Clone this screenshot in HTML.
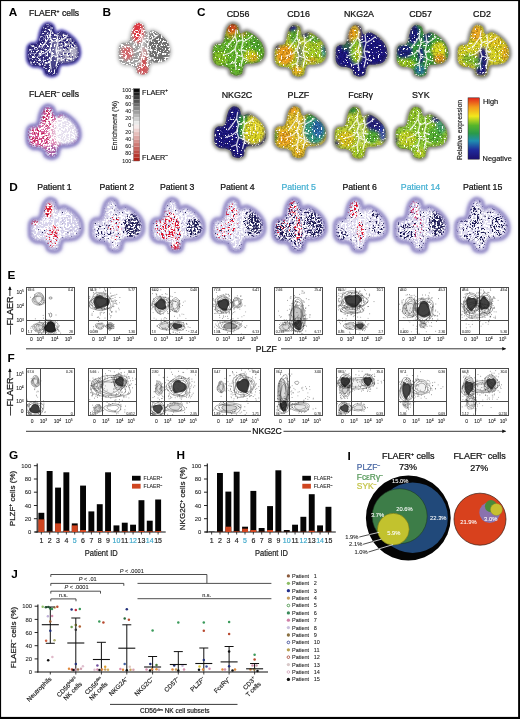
<!DOCTYPE html><html><head><meta charset="utf-8"><style>html,body{margin:0;padding:0;background:#fff;}svg{display:block;filter:blur(0.3px)}</style></head><body>
<svg width="520" height="719" viewBox="0 0 520 719" font-family="Liberation Sans, sans-serif">
<defs><filter id="halo" x="-20%" y="-20%" width="140%" height="140%"><feGaussianBlur stdDeviation="1.6"/></filter><filter id="soft" x="-10%" y="-10%" width="120%" height="120%"><feGaussianBlur stdDeviation="1.8"/></filter><filter id="halo2" x="-25%" y="-25%" width="150%" height="150%"><feGaussianBlur stdDeviation="2.3"/></filter><filter id="rimf" x="-20%" y="-20%" width="140%" height="140%"><feGaussianBlur stdDeviation="1.0"/></filter><filter id="soft1"><feGaussianBlur stdDeviation="0.6"/></filter><linearGradient id="jet" x1="0" y1="1" x2="0" y2="0"><stop offset="0" stop-color="#1c0f6e"/><stop offset="0.15" stop-color="#1f2a9c"/><stop offset="0.3" stop-color="#1f8fb0"/><stop offset="0.42" stop-color="#2a9a4a"/><stop offset="0.55" stop-color="#57b52a"/><stop offset="0.7" stop-color="#f2e81c"/><stop offset="0.85" stop-color="#f39a1c"/><stop offset="1" stop-color="#e2261c"/></linearGradient><marker id="arr" markerWidth="6" markerHeight="6" refX="3.6" refY="2.5" orient="auto"><path d="M0,0.5 L4.4,2.5 L0,4.5 Z" fill="#111"/></marker><filter id="sp0" x="0" y="0" width="100%" height="100%"><feTurbulence type="fractalNoise" baseFrequency="0.55" numOctaves="2" seed="5"/><feColorMatrix type="matrix" values="0 0 0 0 0  0 0 0 0 0  0 0 0 0 0  14 0 0 0 -7.60" result="m"/><feComposite in="SourceGraphic" in2="m" operator="in"/><feGaussianBlur stdDeviation="0.35"/></filter><filter id="sp1" x="0" y="0" width="100%" height="100%"><feTurbulence type="fractalNoise" baseFrequency="0.55" numOctaves="2" seed="6"/><feColorMatrix type="matrix" values="0 0 0 0 0  0 0 0 0 0  0 0 0 0 0  14 0 0 0 -7.60" result="m"/><feComposite in="SourceGraphic" in2="m" operator="in"/><feGaussianBlur stdDeviation="0.35"/></filter><filter id="sp2" x="0" y="0" width="100%" height="100%"><feTurbulence type="fractalNoise" baseFrequency="0.55" numOctaves="2" seed="12"/><feColorMatrix type="matrix" values="0 0 0 0 0  0 0 0 0 0  0 0 0 0 0  14 0 0 0 -7.00" result="m"/><feComposite in="SourceGraphic" in2="m" operator="in"/><feGaussianBlur stdDeviation="0.35"/></filter><filter id="sp3" x="0" y="0" width="100%" height="100%"><feTurbulence type="fractalNoise" baseFrequency="0.55" numOctaves="2" seed="13"/><feColorMatrix type="matrix" values="0 0 0 0 0  0 0 0 0 0  0 0 0 0 0  14 0 0 0 -7.80" result="m"/><feComposite in="SourceGraphic" in2="m" operator="in"/><feGaussianBlur stdDeviation="0.35"/></filter><filter id="sp4" x="0" y="0" width="100%" height="100%"><feTurbulence type="fractalNoise" baseFrequency="0.55" numOctaves="2" seed="3"/><feColorMatrix type="matrix" values="0 0 0 0 0  0 0 0 0 0  0 0 0 0 0  14 0 0 0 -8.00" result="m"/><feComposite in="SourceGraphic" in2="m" operator="in"/><feGaussianBlur stdDeviation="0.35"/></filter><filter id="sp5" x="0" y="0" width="100%" height="100%"><feTurbulence type="fractalNoise" baseFrequency="0.55" numOctaves="2" seed="8"/><feColorMatrix type="matrix" values="0 0 0 0 0  0 0 0 0 0  0 0 0 0 0  14 0 0 0 -7.40" result="m"/><feComposite in="SourceGraphic" in2="m" operator="in"/><feGaussianBlur stdDeviation="0.35"/></filter><filter id="sp6" x="0" y="0" width="100%" height="100%"><feTurbulence type="fractalNoise" baseFrequency="0.55" numOctaves="2" seed="9"/><feColorMatrix type="matrix" values="0 0 0 0 0  0 0 0 0 0  0 0 0 0 0  14 0 0 0 -7.40" result="m"/><feComposite in="SourceGraphic" in2="m" operator="in"/><feGaussianBlur stdDeviation="0.35"/></filter><filter id="sp7" x="0" y="0" width="100%" height="100%"><feTurbulence type="fractalNoise" baseFrequency="0.55" numOctaves="2" seed="5"/><feColorMatrix type="matrix" values="0 0 0 0 0  0 0 0 0 0  0 0 0 0 0  14 0 0 0 -6.80" result="m"/><feComposite in="SourceGraphic" in2="m" operator="in"/><feGaussianBlur stdDeviation="0.35"/></filter><filter id="sp8" x="0" y="0" width="100%" height="100%"><feTurbulence type="fractalNoise" baseFrequency="0.55" numOctaves="2" seed="7"/><feColorMatrix type="matrix" values="0 0 0 0 0  0 0 0 0 0  0 0 0 0 0  14 0 0 0 -7.60" result="m"/><feComposite in="SourceGraphic" in2="m" operator="in"/><feGaussianBlur stdDeviation="0.35"/></filter><filter id="sp9" x="0" y="0" width="100%" height="100%"><feTurbulence type="fractalNoise" baseFrequency="0.55" numOctaves="2" seed="110"/><feColorMatrix type="matrix" values="0 0 0 0 0  0 0 0 0 0  0 0 0 0 0  14 0 0 0 -7.30" result="m"/><feComposite in="SourceGraphic" in2="m" operator="in"/><feGaussianBlur stdDeviation="0.35"/></filter><filter id="sp10" x="0" y="0" width="100%" height="100%"><feTurbulence type="fractalNoise" baseFrequency="0.55" numOctaves="2" seed="10"/><feColorMatrix type="matrix" values="0 0 0 0 0  0 0 0 0 0  0 0 0 0 0  14 0 0 0 -8.90" result="m"/><feComposite in="SourceGraphic" in2="m" operator="in"/><feGaussianBlur stdDeviation="0.35"/></filter><filter id="sp11" x="0" y="0" width="100%" height="100%"><feTurbulence type="fractalNoise" baseFrequency="0.55" numOctaves="2" seed="122"/><feColorMatrix type="matrix" values="0 0 0 0 0  0 0 0 0 0  0 0 0 0 0  14 0 0 0 -7.30" result="m"/><feComposite in="SourceGraphic" in2="m" operator="in"/><feGaussianBlur stdDeviation="0.35"/></filter><filter id="sp12" x="0" y="0" width="100%" height="100%"><feTurbulence type="fractalNoise" baseFrequency="0.55" numOctaves="2" seed="22"/><feColorMatrix type="matrix" values="0 0 0 0 0  0 0 0 0 0  0 0 0 0 0  14 0 0 0 -8.90" result="m"/><feComposite in="SourceGraphic" in2="m" operator="in"/><feGaussianBlur stdDeviation="0.35"/></filter><filter id="sp13" x="0" y="0" width="100%" height="100%"><feTurbulence type="fractalNoise" baseFrequency="0.55" numOctaves="2" seed="133"/><feColorMatrix type="matrix" values="0 0 0 0 0  0 0 0 0 0  0 0 0 0 0  14 0 0 0 -7.30" result="m"/><feComposite in="SourceGraphic" in2="m" operator="in"/><feGaussianBlur stdDeviation="0.35"/></filter><filter id="sp14" x="0" y="0" width="100%" height="100%"><feTurbulence type="fractalNoise" baseFrequency="0.55" numOctaves="2" seed="33"/><feColorMatrix type="matrix" values="0 0 0 0 0  0 0 0 0 0  0 0 0 0 0  14 0 0 0 -8.90" result="m"/><feComposite in="SourceGraphic" in2="m" operator="in"/><feGaussianBlur stdDeviation="0.35"/></filter><filter id="sp15" x="0" y="0" width="100%" height="100%"><feTurbulence type="fractalNoise" baseFrequency="0.55" numOctaves="2" seed="144"/><feColorMatrix type="matrix" values="0 0 0 0 0  0 0 0 0 0  0 0 0 0 0  14 0 0 0 -7.30" result="m"/><feComposite in="SourceGraphic" in2="m" operator="in"/><feGaussianBlur stdDeviation="0.35"/></filter><filter id="sp16" x="0" y="0" width="100%" height="100%"><feTurbulence type="fractalNoise" baseFrequency="0.55" numOctaves="2" seed="44"/><feColorMatrix type="matrix" values="0 0 0 0 0  0 0 0 0 0  0 0 0 0 0  14 0 0 0 -8.90" result="m"/><feComposite in="SourceGraphic" in2="m" operator="in"/><feGaussianBlur stdDeviation="0.35"/></filter><filter id="sp17" x="0" y="0" width="100%" height="100%"><feTurbulence type="fractalNoise" baseFrequency="0.55" numOctaves="2" seed="105"/><feColorMatrix type="matrix" values="0 0 0 0 0  0 0 0 0 0  0 0 0 0 0  14 0 0 0 -7.30" result="m"/><feComposite in="SourceGraphic" in2="m" operator="in"/><feGaussianBlur stdDeviation="0.35"/></filter><filter id="sp18" x="0" y="0" width="100%" height="100%"><feTurbulence type="fractalNoise" baseFrequency="0.55" numOctaves="2" seed="5"/><feColorMatrix type="matrix" values="0 0 0 0 0  0 0 0 0 0  0 0 0 0 0  14 0 0 0 -8.90" result="m"/><feComposite in="SourceGraphic" in2="m" operator="in"/><feGaussianBlur stdDeviation="0.35"/></filter><filter id="sp19" x="0" y="0" width="100%" height="100%"><feTurbulence type="fractalNoise" baseFrequency="0.55" numOctaves="2" seed="111"/><feColorMatrix type="matrix" values="0 0 0 0 0  0 0 0 0 0  0 0 0 0 0  14 0 0 0 -7.30" result="m"/><feComposite in="SourceGraphic" in2="m" operator="in"/><feGaussianBlur stdDeviation="0.35"/></filter><filter id="sp20" x="0" y="0" width="100%" height="100%"><feTurbulence type="fractalNoise" baseFrequency="0.55" numOctaves="2" seed="11"/><feColorMatrix type="matrix" values="0 0 0 0 0  0 0 0 0 0  0 0 0 0 0  14 0 0 0 -8.90" result="m"/><feComposite in="SourceGraphic" in2="m" operator="in"/><feGaussianBlur stdDeviation="0.35"/></filter><filter id="sp21" x="0" y="0" width="100%" height="100%"><feTurbulence type="fractalNoise" baseFrequency="0.55" numOctaves="2" seed="132"/><feColorMatrix type="matrix" values="0 0 0 0 0  0 0 0 0 0  0 0 0 0 0  14 0 0 0 -7.30" result="m"/><feComposite in="SourceGraphic" in2="m" operator="in"/><feGaussianBlur stdDeviation="0.35"/></filter><filter id="sp22" x="0" y="0" width="100%" height="100%"><feTurbulence type="fractalNoise" baseFrequency="0.55" numOctaves="2" seed="32"/><feColorMatrix type="matrix" values="0 0 0 0 0  0 0 0 0 0  0 0 0 0 0  14 0 0 0 -8.90" result="m"/><feComposite in="SourceGraphic" in2="m" operator="in"/><feGaussianBlur stdDeviation="0.35"/></filter><filter id="sp23" x="0" y="0" width="100%" height="100%"><feTurbulence type="fractalNoise" baseFrequency="0.55" numOctaves="2" seed="143"/><feColorMatrix type="matrix" values="0 0 0 0 0  0 0 0 0 0  0 0 0 0 0  14 0 0 0 -7.30" result="m"/><feComposite in="SourceGraphic" in2="m" operator="in"/><feGaussianBlur stdDeviation="0.35"/></filter><filter id="sp24" x="0" y="0" width="100%" height="100%"><feTurbulence type="fractalNoise" baseFrequency="0.55" numOctaves="2" seed="43"/><feColorMatrix type="matrix" values="0 0 0 0 0  0 0 0 0 0  0 0 0 0 0  14 0 0 0 -8.90" result="m"/><feComposite in="SourceGraphic" in2="m" operator="in"/><feGaussianBlur stdDeviation="0.35"/></filter><filter id="sp25" x="0" y="0" width="100%" height="100%"><feTurbulence type="fractalNoise" baseFrequency="0.55" numOctaves="2" seed="31"/><feColorMatrix type="matrix" values="0 0 0 0 0  0 0 0 0 0  0 0 0 0 0  14 0 0 0 -6.40" result="m"/><feComposite in="SourceGraphic" in2="m" operator="in"/><feGaussianBlur stdDeviation="0.35"/></filter><filter id="sp26" x="0" y="0" width="100%" height="100%"><feTurbulence type="fractalNoise" baseFrequency="0.55" numOctaves="2" seed="32"/><feColorMatrix type="matrix" values="0 0 0 0 0  0 0 0 0 0  0 0 0 0 0  14 0 0 0 -6.60" result="m"/><feComposite in="SourceGraphic" in2="m" operator="in"/><feGaussianBlur stdDeviation="0.35"/></filter><filter id="sp27" x="0" y="0" width="100%" height="100%"><feTurbulence type="fractalNoise" baseFrequency="0.55" numOctaves="2" seed="33"/><feColorMatrix type="matrix" values="0 0 0 0 0  0 0 0 0 0  0 0 0 0 0  14 0 0 0 -6.60" result="m"/><feComposite in="SourceGraphic" in2="m" operator="in"/><feGaussianBlur stdDeviation="0.35"/></filter><filter id="sp28" x="0" y="0" width="100%" height="100%"><feTurbulence type="fractalNoise" baseFrequency="0.55" numOctaves="2" seed="34"/><feColorMatrix type="matrix" values="0 0 0 0 0  0 0 0 0 0  0 0 0 0 0  14 0 0 0 -7.80" result="m"/><feComposite in="SourceGraphic" in2="m" operator="in"/><feGaussianBlur stdDeviation="0.35"/></filter><filter id="sp29" x="0" y="0" width="100%" height="100%"><feTurbulence type="fractalNoise" baseFrequency="0.55" numOctaves="2" seed="21"/><feColorMatrix type="matrix" values="0 0 0 0 0  0 0 0 0 0  0 0 0 0 0  14 0 0 0 -10.00" result="m"/><feComposite in="SourceGraphic" in2="m" operator="in"/><feGaussianBlur stdDeviation="0.35"/></filter><filter id="sp30" x="0" y="0" width="100%" height="100%"><feTurbulence type="fractalNoise" baseFrequency="0.55" numOctaves="2" seed="11"/><feColorMatrix type="matrix" values="0 0 0 0 0  0 0 0 0 0  0 0 0 0 0  14 0 0 0 -7.30" result="m"/><feComposite in="SourceGraphic" in2="m" operator="in"/><feGaussianBlur stdDeviation="0.35"/></filter><filter id="sp31" x="0" y="0" width="100%" height="100%"><feTurbulence type="fractalNoise" baseFrequency="0.55" numOctaves="2" seed="41"/><feColorMatrix type="matrix" values="0 0 0 0 0  0 0 0 0 0  0 0 0 0 0  14 0 0 0 -6.50" result="m"/><feComposite in="SourceGraphic" in2="m" operator="in"/><feGaussianBlur stdDeviation="0.35"/></filter><filter id="sp32" x="0" y="0" width="100%" height="100%"><feTurbulence type="fractalNoise" baseFrequency="0.55" numOctaves="2" seed="42"/><feColorMatrix type="matrix" values="0 0 0 0 0  0 0 0 0 0  0 0 0 0 0  14 0 0 0 -8.40" result="m"/><feComposite in="SourceGraphic" in2="m" operator="in"/><feGaussianBlur stdDeviation="0.35"/></filter><filter id="sp33" x="0" y="0" width="100%" height="100%"><feTurbulence type="fractalNoise" baseFrequency="0.55" numOctaves="2" seed="43"/><feColorMatrix type="matrix" values="0 0 0 0 0  0 0 0 0 0  0 0 0 0 0  14 0 0 0 -8.00" result="m"/><feComposite in="SourceGraphic" in2="m" operator="in"/><feGaussianBlur stdDeviation="0.35"/></filter><filter id="sp34" x="0" y="0" width="100%" height="100%"><feTurbulence type="fractalNoise" baseFrequency="0.55" numOctaves="2" seed="22"/><feColorMatrix type="matrix" values="0 0 0 0 0  0 0 0 0 0  0 0 0 0 0  14 0 0 0 -9.20" result="m"/><feComposite in="SourceGraphic" in2="m" operator="in"/><feGaussianBlur stdDeviation="0.35"/></filter><filter id="sp35" x="0" y="0" width="100%" height="100%"><feTurbulence type="fractalNoise" baseFrequency="0.55" numOctaves="2" seed="12"/><feColorMatrix type="matrix" values="0 0 0 0 0  0 0 0 0 0  0 0 0 0 0  14 0 0 0 -7.30" result="m"/><feComposite in="SourceGraphic" in2="m" operator="in"/><feGaussianBlur stdDeviation="0.35"/></filter><filter id="sp36" x="0" y="0" width="100%" height="100%"><feTurbulence type="fractalNoise" baseFrequency="0.55" numOctaves="2" seed="51"/><feColorMatrix type="matrix" values="0 0 0 0 0  0 0 0 0 0  0 0 0 0 0  14 0 0 0 -6.90" result="m"/><feComposite in="SourceGraphic" in2="m" operator="in"/><feGaussianBlur stdDeviation="0.35"/></filter><filter id="sp37" x="0" y="0" width="100%" height="100%"><feTurbulence type="fractalNoise" baseFrequency="0.55" numOctaves="2" seed="52"/><feColorMatrix type="matrix" values="0 0 0 0 0  0 0 0 0 0  0 0 0 0 0  14 0 0 0 -6.90" result="m"/><feComposite in="SourceGraphic" in2="m" operator="in"/><feGaussianBlur stdDeviation="0.35"/></filter><filter id="sp38" x="0" y="0" width="100%" height="100%"><feTurbulence type="fractalNoise" baseFrequency="0.55" numOctaves="2" seed="53"/><feColorMatrix type="matrix" values="0 0 0 0 0  0 0 0 0 0  0 0 0 0 0  14 0 0 0 -6.50" result="m"/><feComposite in="SourceGraphic" in2="m" operator="in"/><feGaussianBlur stdDeviation="0.35"/></filter><filter id="sp39" x="0" y="0" width="100%" height="100%"><feTurbulence type="fractalNoise" baseFrequency="0.55" numOctaves="2" seed="54"/><feColorMatrix type="matrix" values="0 0 0 0 0  0 0 0 0 0  0 0 0 0 0  14 0 0 0 -6.20" result="m"/><feComposite in="SourceGraphic" in2="m" operator="in"/><feGaussianBlur stdDeviation="0.35"/></filter><filter id="sp40" x="0" y="0" width="100%" height="100%"><feTurbulence type="fractalNoise" baseFrequency="0.55" numOctaves="2" seed="23"/><feColorMatrix type="matrix" values="0 0 0 0 0  0 0 0 0 0  0 0 0 0 0  14 0 0 0 -9.60" result="m"/><feComposite in="SourceGraphic" in2="m" operator="in"/><feGaussianBlur stdDeviation="0.35"/></filter><filter id="sp41" x="0" y="0" width="100%" height="100%"><feTurbulence type="fractalNoise" baseFrequency="0.55" numOctaves="2" seed="13"/><feColorMatrix type="matrix" values="0 0 0 0 0  0 0 0 0 0  0 0 0 0 0  14 0 0 0 -7.30" result="m"/><feComposite in="SourceGraphic" in2="m" operator="in"/><feGaussianBlur stdDeviation="0.35"/></filter><filter id="sp42" x="0" y="0" width="100%" height="100%"><feTurbulence type="fractalNoise" baseFrequency="0.55" numOctaves="2" seed="61"/><feColorMatrix type="matrix" values="0 0 0 0 0  0 0 0 0 0  0 0 0 0 0  14 0 0 0 -6.60" result="m"/><feComposite in="SourceGraphic" in2="m" operator="in"/><feGaussianBlur stdDeviation="0.35"/></filter><filter id="sp43" x="0" y="0" width="100%" height="100%"><feTurbulence type="fractalNoise" baseFrequency="0.55" numOctaves="2" seed="62"/><feColorMatrix type="matrix" values="0 0 0 0 0  0 0 0 0 0  0 0 0 0 0  14 0 0 0 -7.60" result="m"/><feComposite in="SourceGraphic" in2="m" operator="in"/><feGaussianBlur stdDeviation="0.35"/></filter><filter id="sp44" x="0" y="0" width="100%" height="100%"><feTurbulence type="fractalNoise" baseFrequency="0.55" numOctaves="2" seed="63"/><feColorMatrix type="matrix" values="0 0 0 0 0  0 0 0 0 0  0 0 0 0 0  14 0 0 0 -8.20" result="m"/><feComposite in="SourceGraphic" in2="m" operator="in"/><feGaussianBlur stdDeviation="0.35"/></filter><filter id="sp45" x="0" y="0" width="100%" height="100%"><feTurbulence type="fractalNoise" baseFrequency="0.55" numOctaves="2" seed="24"/><feColorMatrix type="matrix" values="0 0 0 0 0  0 0 0 0 0  0 0 0 0 0  14 0 0 0 -9.40" result="m"/><feComposite in="SourceGraphic" in2="m" operator="in"/><feGaussianBlur stdDeviation="0.35"/></filter><filter id="sp46" x="0" y="0" width="100%" height="100%"><feTurbulence type="fractalNoise" baseFrequency="0.55" numOctaves="2" seed="14"/><feColorMatrix type="matrix" values="0 0 0 0 0  0 0 0 0 0  0 0 0 0 0  14 0 0 0 -7.30" result="m"/><feComposite in="SourceGraphic" in2="m" operator="in"/><feGaussianBlur stdDeviation="0.35"/></filter><filter id="sp47" x="0" y="0" width="100%" height="100%"><feTurbulence type="fractalNoise" baseFrequency="0.55" numOctaves="2" seed="71"/><feColorMatrix type="matrix" values="0 0 0 0 0  0 0 0 0 0  0 0 0 0 0  14 0 0 0 -6.40" result="m"/><feComposite in="SourceGraphic" in2="m" operator="in"/><feGaussianBlur stdDeviation="0.35"/></filter><filter id="sp48" x="0" y="0" width="100%" height="100%"><feTurbulence type="fractalNoise" baseFrequency="0.55" numOctaves="2" seed="72"/><feColorMatrix type="matrix" values="0 0 0 0 0  0 0 0 0 0  0 0 0 0 0  14 0 0 0 -6.60" result="m"/><feComposite in="SourceGraphic" in2="m" operator="in"/><feGaussianBlur stdDeviation="0.35"/></filter><filter id="sp49" x="0" y="0" width="100%" height="100%"><feTurbulence type="fractalNoise" baseFrequency="0.55" numOctaves="2" seed="73"/><feColorMatrix type="matrix" values="0 0 0 0 0  0 0 0 0 0  0 0 0 0 0  14 0 0 0 -7.40" result="m"/><feComposite in="SourceGraphic" in2="m" operator="in"/><feGaussianBlur stdDeviation="0.35"/></filter><filter id="sp50" x="0" y="0" width="100%" height="100%"><feTurbulence type="fractalNoise" baseFrequency="0.55" numOctaves="2" seed="74"/><feColorMatrix type="matrix" values="0 0 0 0 0  0 0 0 0 0  0 0 0 0 0  14 0 0 0 -6.60" result="m"/><feComposite in="SourceGraphic" in2="m" operator="in"/><feGaussianBlur stdDeviation="0.35"/></filter><filter id="sp51" x="0" y="0" width="100%" height="100%"><feTurbulence type="fractalNoise" baseFrequency="0.55" numOctaves="2" seed="75"/><feColorMatrix type="matrix" values="0 0 0 0 0  0 0 0 0 0  0 0 0 0 0  14 0 0 0 -6.80" result="m"/><feComposite in="SourceGraphic" in2="m" operator="in"/><feGaussianBlur stdDeviation="0.35"/></filter><filter id="sp52" x="0" y="0" width="100%" height="100%"><feTurbulence type="fractalNoise" baseFrequency="0.55" numOctaves="2" seed="25"/><feColorMatrix type="matrix" values="0 0 0 0 0  0 0 0 0 0  0 0 0 0 0  14 0 0 0 -7.60" result="m"/><feComposite in="SourceGraphic" in2="m" operator="in"/><feGaussianBlur stdDeviation="0.35"/></filter><filter id="sp53" x="0" y="0" width="100%" height="100%"><feTurbulence type="fractalNoise" baseFrequency="0.55" numOctaves="2" seed="15"/><feColorMatrix type="matrix" values="0 0 0 0 0  0 0 0 0 0  0 0 0 0 0  14 0 0 0 -7.30" result="m"/><feComposite in="SourceGraphic" in2="m" operator="in"/><feGaussianBlur stdDeviation="0.35"/></filter><filter id="sp54" x="0" y="0" width="100%" height="100%"><feTurbulence type="fractalNoise" baseFrequency="0.55" numOctaves="2" seed="81"/><feColorMatrix type="matrix" values="0 0 0 0 0  0 0 0 0 0  0 0 0 0 0  14 0 0 0 -6.80" result="m"/><feComposite in="SourceGraphic" in2="m" operator="in"/><feGaussianBlur stdDeviation="0.35"/></filter><filter id="sp55" x="0" y="0" width="100%" height="100%"><feTurbulence type="fractalNoise" baseFrequency="0.55" numOctaves="2" seed="82"/><feColorMatrix type="matrix" values="0 0 0 0 0  0 0 0 0 0  0 0 0 0 0  14 0 0 0 -6.80" result="m"/><feComposite in="SourceGraphic" in2="m" operator="in"/><feGaussianBlur stdDeviation="0.35"/></filter><filter id="sp56" x="0" y="0" width="100%" height="100%"><feTurbulence type="fractalNoise" baseFrequency="0.55" numOctaves="2" seed="83"/><feColorMatrix type="matrix" values="0 0 0 0 0  0 0 0 0 0  0 0 0 0 0  14 0 0 0 -6.40" result="m"/><feComposite in="SourceGraphic" in2="m" operator="in"/><feGaussianBlur stdDeviation="0.35"/></filter><filter id="sp57" x="0" y="0" width="100%" height="100%"><feTurbulence type="fractalNoise" baseFrequency="0.55" numOctaves="2" seed="84"/><feColorMatrix type="matrix" values="0 0 0 0 0  0 0 0 0 0  0 0 0 0 0  14 0 0 0 -7.20" result="m"/><feComposite in="SourceGraphic" in2="m" operator="in"/><feGaussianBlur stdDeviation="0.35"/></filter><filter id="sp58" x="0" y="0" width="100%" height="100%"><feTurbulence type="fractalNoise" baseFrequency="0.55" numOctaves="2" seed="85"/><feColorMatrix type="matrix" values="0 0 0 0 0  0 0 0 0 0  0 0 0 0 0  14 0 0 0 -7.00" result="m"/><feComposite in="SourceGraphic" in2="m" operator="in"/><feGaussianBlur stdDeviation="0.35"/></filter><filter id="sp59" x="0" y="0" width="100%" height="100%"><feTurbulence type="fractalNoise" baseFrequency="0.55" numOctaves="2" seed="26"/><feColorMatrix type="matrix" values="0 0 0 0 0  0 0 0 0 0  0 0 0 0 0  14 0 0 0 -9.20" result="m"/><feComposite in="SourceGraphic" in2="m" operator="in"/><feGaussianBlur stdDeviation="0.35"/></filter><filter id="sp60" x="0" y="0" width="100%" height="100%"><feTurbulence type="fractalNoise" baseFrequency="0.55" numOctaves="2" seed="16"/><feColorMatrix type="matrix" values="0 0 0 0 0  0 0 0 0 0  0 0 0 0 0  14 0 0 0 -7.30" result="m"/><feComposite in="SourceGraphic" in2="m" operator="in"/><feGaussianBlur stdDeviation="0.35"/></filter><filter id="sp61" x="0" y="0" width="100%" height="100%"><feTurbulence type="fractalNoise" baseFrequency="0.55" numOctaves="2" seed="91"/><feColorMatrix type="matrix" values="0 0 0 0 0  0 0 0 0 0  0 0 0 0 0  14 0 0 0 -6.50" result="m"/><feComposite in="SourceGraphic" in2="m" operator="in"/><feGaussianBlur stdDeviation="0.35"/></filter><filter id="sp62" x="0" y="0" width="100%" height="100%"><feTurbulence type="fractalNoise" baseFrequency="0.55" numOctaves="2" seed="92"/><feColorMatrix type="matrix" values="0 0 0 0 0  0 0 0 0 0  0 0 0 0 0  14 0 0 0 -6.80" result="m"/><feComposite in="SourceGraphic" in2="m" operator="in"/><feGaussianBlur stdDeviation="0.35"/></filter><filter id="sp63" x="0" y="0" width="100%" height="100%"><feTurbulence type="fractalNoise" baseFrequency="0.55" numOctaves="2" seed="93"/><feColorMatrix type="matrix" values="0 0 0 0 0  0 0 0 0 0  0 0 0 0 0  14 0 0 0 -7.60" result="m"/><feComposite in="SourceGraphic" in2="m" operator="in"/><feGaussianBlur stdDeviation="0.35"/></filter><filter id="sp64" x="0" y="0" width="100%" height="100%"><feTurbulence type="fractalNoise" baseFrequency="0.55" numOctaves="2" seed="94"/><feColorMatrix type="matrix" values="0 0 0 0 0  0 0 0 0 0  0 0 0 0 0  14 0 0 0 -7.40" result="m"/><feComposite in="SourceGraphic" in2="m" operator="in"/><feGaussianBlur stdDeviation="0.35"/></filter><filter id="sp65" x="0" y="0" width="100%" height="100%"><feTurbulence type="fractalNoise" baseFrequency="0.55" numOctaves="2" seed="27"/><feColorMatrix type="matrix" values="0 0 0 0 0  0 0 0 0 0  0 0 0 0 0  14 0 0 0 -8.80" result="m"/><feComposite in="SourceGraphic" in2="m" operator="in"/><feGaussianBlur stdDeviation="0.35"/></filter><filter id="sp66" x="0" y="0" width="100%" height="100%"><feTurbulence type="fractalNoise" baseFrequency="0.55" numOctaves="2" seed="17"/><feColorMatrix type="matrix" values="0 0 0 0 0  0 0 0 0 0  0 0 0 0 0  14 0 0 0 -7.30" result="m"/><feComposite in="SourceGraphic" in2="m" operator="in"/><feGaussianBlur stdDeviation="0.35"/></filter><filter id="sp67" x="0" y="0" width="100%" height="100%"><feTurbulence type="fractalNoise" baseFrequency="0.55" numOctaves="2" seed="101"/><feColorMatrix type="matrix" values="0 0 0 0 0  0 0 0 0 0  0 0 0 0 0  14 0 0 0 -6.90" result="m"/><feComposite in="SourceGraphic" in2="m" operator="in"/><feGaussianBlur stdDeviation="0.35"/></filter><filter id="sp68" x="0" y="0" width="100%" height="100%"><feTurbulence type="fractalNoise" baseFrequency="0.55" numOctaves="2" seed="102"/><feColorMatrix type="matrix" values="0 0 0 0 0  0 0 0 0 0  0 0 0 0 0  14 0 0 0 -6.90" result="m"/><feComposite in="SourceGraphic" in2="m" operator="in"/><feGaussianBlur stdDeviation="0.35"/></filter><filter id="sp69" x="0" y="0" width="100%" height="100%"><feTurbulence type="fractalNoise" baseFrequency="0.55" numOctaves="2" seed="103"/><feColorMatrix type="matrix" values="0 0 0 0 0  0 0 0 0 0  0 0 0 0 0  14 0 0 0 -7.60" result="m"/><feComposite in="SourceGraphic" in2="m" operator="in"/><feGaussianBlur stdDeviation="0.35"/></filter><filter id="sp70" x="0" y="0" width="100%" height="100%"><feTurbulence type="fractalNoise" baseFrequency="0.55" numOctaves="2" seed="28"/><feColorMatrix type="matrix" values="0 0 0 0 0  0 0 0 0 0  0 0 0 0 0  14 0 0 0 -8.20" result="m"/><feComposite in="SourceGraphic" in2="m" operator="in"/><feGaussianBlur stdDeviation="0.35"/></filter><filter id="sp71" x="0" y="0" width="100%" height="100%"><feTurbulence type="fractalNoise" baseFrequency="0.55" numOctaves="2" seed="18"/><feColorMatrix type="matrix" values="0 0 0 0 0  0 0 0 0 0  0 0 0 0 0  14 0 0 0 -7.30" result="m"/><feComposite in="SourceGraphic" in2="m" operator="in"/><feGaussianBlur stdDeviation="0.35"/></filter></defs>
<defs><path id="blobp" d="M22.3 1.7C23.9 1.5 26.2 2.4 27.4 3.6C28.6 4.8 28.7 7.4 29.3 8.7C29.9 10.0 29.9 11.1 31.2 11.2C32.5 11.3 34.7 9.0 36.9 9.3C39.1 9.7 42.2 11.6 44.5 13.3C46.8 15.0 49.2 17.4 50.8 19.6C52.4 21.8 53.5 24.1 54.0 26.5C54.5 28.9 54.7 31.9 54.0 34.1C53.3 36.3 51.6 38.5 49.6 39.8C47.6 41.1 44.3 41.3 42.0 41.7C39.7 42.1 37.1 41.4 35.6 42.3C34.1 43.1 33.7 45.2 33.1 46.8C32.5 48.4 32.9 50.6 31.8 51.8C30.7 52.9 28.5 53.7 26.7 53.7C24.9 53.7 22.3 52.9 21.0 51.8C19.7 50.6 20.3 48.1 19.1 46.8C17.9 45.5 15.9 44.7 14.0 44.2C12.1 43.7 9.5 44.5 7.7 43.6C5.9 42.8 4.0 41.1 3.2 39.1C2.4 37.1 2.6 33.8 2.6 31.5C2.6 29.2 2.6 26.8 3.2 25.2C3.8 23.6 5.0 22.6 6.4 22.0C7.8 21.4 10.2 22.1 11.5 21.4C12.8 20.7 13.4 19.3 14.0 17.6C14.6 15.9 14.7 13.3 15.3 11.2C15.9 9.1 16.6 6.5 17.8 4.9C19.0 3.3 20.7 1.9 22.3 1.7Z"/><clipPath id="blobc"><use href="#blobp"/></clipPath></defs>
<rect x="0" y="0" width="520" height="719" fill="#fff"/><g opacity="0.999">
<text x="8.7" y="15.9" font-size="11.80" text-anchor="start" font-weight="bold" fill="#000" >A</text>
<text x="102.5" y="16.2" font-size="11.80" text-anchor="start" font-weight="bold" fill="#000" >B</text>
<text x="197.0" y="16.1" font-size="11.80" text-anchor="start" font-weight="bold" fill="#000" >C</text>
<text x="9.2" y="191.1" font-size="11.80" text-anchor="start" font-weight="bold" fill="#000" >D</text>
<text x="7.6" y="279.1" font-size="11.80" text-anchor="start" font-weight="bold" fill="#000" >E</text>
<text x="7.6" y="362.4" font-size="11.80" text-anchor="start" font-weight="bold" fill="#000" >F</text>
<text x="9.0" y="459.0" font-size="11.80" text-anchor="start" font-weight="bold" fill="#000" >G</text>
<text x="176.6" y="459.0" font-size="11.80" text-anchor="start" font-weight="bold" fill="#000" >H</text>
<text x="347.6" y="459.5" font-size="11.80" text-anchor="start" font-weight="bold" fill="#000" >I</text>
<text x="11.2" y="577.8" font-size="11.80" text-anchor="start" font-weight="bold" fill="#000" >J</text>
<text x="54.0" y="16.3" font-size="8.60" text-anchor="middle" font-weight="normal" fill="#111"  stroke="#111" stroke-width="0.24">FLAER<tspan font-size="5" dy="-3">+</tspan><tspan dy="3"> cells</tspan></text>
<text x="54.0" y="97.0" font-size="8.60" text-anchor="middle" font-weight="normal" fill="#111"  stroke="#111" stroke-width="0.24">FLAER<tspan font-size="5" dy="-3">&#8211;</tspan><tspan dy="3"> cells</tspan></text>
<g transform="translate(25.0,22.0)"><use href="#blobp" fill="#8a82d8" stroke="#8a82d8" stroke-width="4.0" filter="url(#halo)"/><g clip-path="url(#blobc)"><g filter="url(#soft)"><rect x="-2" y="-2" width="60" height="60" fill="#302c78"/><ellipse cx="41.0" cy="27.0" rx="13.0" ry="15.0" fill="#8e8aae" fill-opacity="0.95"/><ellipse cx="45.0" cy="30.0" rx="7.0" ry="8.0" fill="#b8b6c8" fill-opacity="0.90"/><ellipse cx="28.0" cy="30.0" rx="4.0" ry="16.0" fill="#6a66a0" fill-opacity="0.50"/></g><ellipse cx="14.0" cy="32.0" rx="12.0" ry="10.0" fill="#8884b8" filter="url(#sp0)"/><ellipse cx="22.0" cy="12.0" rx="6.0" ry="10.0" fill="#8884b8" filter="url(#sp1)"/><ellipse cx="42.0" cy="19.0" rx="10.0" ry="9.0" fill="#2a2478" filter="url(#sp2)"/><ellipse cx="40.0" cy="34.0" rx="8.0" ry="6.0" fill="#3a3480" filter="url(#sp3)"/><rect x="0" y="0" width="56" height="56" fill="#fff" filter="url(#sp4)"/><path d="M26,8 L25,14 L27,20 L25,27 L27,33 L25,40 L26,47 M25,14 L21,20 L17,25 M27,20 L32,18 M25,27 L20,31 L14,33 M27,33 L33,35 M25,40 L20,42 M32,12 L33,20 L31,28 L33,36 L31,44 M33,20 L38,17 L42,14 M31,28 L36,29 M33,36 L38,38" fill="none" stroke="#fff" stroke-width="1.3" stroke-opacity="0.85" stroke-linecap="round" stroke-linejoin="round"/></g><use href="#blobp" fill="none" stroke="#2c2680" stroke-width="2.2" opacity="0.85" filter="url(#rimf)"/></g>
<g transform="translate(25.0,104.0)"><use href="#blobp" fill="#aaa2d8" stroke="#aaa2d8" stroke-width="4.0" filter="url(#halo2)"/><g clip-path="url(#blobc)"><g filter="url(#soft)"><rect x="-2" y="-2" width="60" height="60" fill="#d86aa4"/><ellipse cx="41.0" cy="27.0" rx="13.0" ry="15.0" fill="#e6e4f2" fill-opacity="0.97"/><ellipse cx="28.0" cy="30.0" rx="4.0" ry="14.0" fill="#e8b0cc" fill-opacity="0.60"/><ellipse cx="22.0" cy="11.0" rx="7.0" ry="11.0" fill="#cc5090" fill-opacity="0.80"/><ellipse cx="27.0" cy="48.0" rx="7.0" ry="7.0" fill="#a058a0" fill-opacity="0.80"/><ellipse cx="12.0" cy="34.0" rx="10.0" ry="9.0" fill="#d85898" fill-opacity="0.60"/></g><ellipse cx="12.0" cy="34.0" rx="12.0" ry="10.0" fill="#c02050" filter="url(#sp5)"/><ellipse cx="22.0" cy="14.0" rx="6.0" ry="10.0" fill="#c02050" filter="url(#sp6)"/><rect x="0" y="0" width="56" height="56" fill="#fff" filter="url(#sp7)"/><path d="M26,8 L25,14 L27,20 L25,27 L27,33 L25,40 L26,47 M25,14 L21,20 L17,25 M27,20 L32,18 M25,27 L20,31 L14,33 M27,33 L33,35 M25,40 L20,42 M32,12 L33,20 L31,28 L33,36 L31,44 M33,20 L38,17 L42,14 M31,28 L36,29 M33,36 L38,38" fill="none" stroke="#fff" stroke-width="1.3" stroke-opacity="0.90" stroke-linecap="round" stroke-linejoin="round"/></g><use href="#blobp" fill="none" stroke="#8c84c4" stroke-width="4.0" opacity="0.85" filter="url(#rimf)"/></g>
<g transform="translate(116.0,21.0)"><use href="#blobp" fill="#c4c4c4" stroke="#c4c4c4" stroke-width="2.8" filter="url(#halo)"/><g clip-path="url(#blobc)"><g filter="url(#soft)"><rect x="-2" y="-2" width="60" height="60" fill="#a0a0a0"/><ellipse cx="41.0" cy="27.0" rx="13.0" ry="15.0" fill="#6a6a6a" fill-opacity="0.95"/><ellipse cx="22.0" cy="11.0" rx="6.0" ry="11.0" fill="#e0303a" fill-opacity="0.95"/><ellipse cx="11.0" cy="32.0" rx="6.0" ry="7.0" fill="#e05a60" fill-opacity="0.80"/><ellipse cx="28.0" cy="38.0" rx="3.0" ry="12.0" fill="#d83038" fill-opacity="0.80"/><ellipse cx="27.0" cy="49.0" rx="6.0" ry="6.0" fill="#d84a50" fill-opacity="0.80"/><ellipse cx="28.0" cy="26.0" rx="3.0" ry="12.0" fill="#dcdcdc" fill-opacity="0.60"/></g><rect x="0" y="0" width="56" height="56" fill="#fff" filter="url(#sp8)"/><path d="M26,8 L25,14 L27,20 L25,27 L27,33 L25,40 L26,47 M25,14 L21,20 L17,25 M27,20 L32,18 M25,27 L20,31 L14,33 M27,33 L33,35 M25,40 L20,42 M32,12 L33,20 L31,28 L33,36 L31,44 M33,20 L38,17 L42,14 M31,28 L36,29 M33,36 L38,38" fill="none" stroke="#fff" stroke-width="1.3" stroke-opacity="0.80" stroke-linecap="round" stroke-linejoin="round"/></g></g>
<linearGradient id="bgr" x1="0" y1="0" x2="0" y2="1"><stop offset="0" stop-color="#0a0a0a"/><stop offset="0.47" stop-color="#f4f4f4"/><stop offset="0.53" stop-color="#f8f0f0"/><stop offset="1" stop-color="#b8241c"/></linearGradient>
<rect x="133.5" y="88.60" width="6.3" height="3.67" fill="#0a0a0a"/>
<rect x="133.5" y="92.22" width="6.3" height="3.67" fill="#222222"/>
<line x1="133.5" x2="139.8" y1="92.22" y2="92.22" stroke="#fff" stroke-opacity="0.35" stroke-width="0.3"/>
<rect x="133.5" y="95.84" width="6.3" height="3.67" fill="#3b3b3b"/>
<line x1="133.5" x2="139.8" y1="95.84" y2="95.84" stroke="#fff" stroke-opacity="0.35" stroke-width="0.3"/>
<rect x="133.5" y="99.46" width="6.3" height="3.67" fill="#545454"/>
<line x1="133.5" x2="139.8" y1="99.46" y2="99.46" stroke="#fff" stroke-opacity="0.35" stroke-width="0.3"/>
<rect x="133.5" y="103.08" width="6.3" height="3.67" fill="#6d6d6d"/>
<line x1="133.5" x2="139.8" y1="103.08" y2="103.08" stroke="#fff" stroke-opacity="0.35" stroke-width="0.3"/>
<rect x="133.5" y="106.70" width="6.3" height="3.67" fill="#868686"/>
<line x1="133.5" x2="139.8" y1="106.70" y2="106.70" stroke="#fff" stroke-opacity="0.35" stroke-width="0.3"/>
<rect x="133.5" y="110.32" width="6.3" height="3.67" fill="#9f9f9f"/>
<line x1="133.5" x2="139.8" y1="110.32" y2="110.32" stroke="#fff" stroke-opacity="0.35" stroke-width="0.3"/>
<rect x="133.5" y="113.94" width="6.3" height="3.67" fill="#b7b7b7"/>
<line x1="133.5" x2="139.8" y1="113.94" y2="113.94" stroke="#fff" stroke-opacity="0.35" stroke-width="0.3"/>
<rect x="133.5" y="117.56" width="6.3" height="3.67" fill="#d0d0d0"/>
<line x1="133.5" x2="139.8" y1="117.56" y2="117.56" stroke="#fff" stroke-opacity="0.35" stroke-width="0.3"/>
<rect x="133.5" y="121.18" width="6.3" height="3.67" fill="#e9e9e9"/>
<line x1="133.5" x2="139.8" y1="121.18" y2="121.18" stroke="#fff" stroke-opacity="0.35" stroke-width="0.3"/>
<rect x="133.5" y="124.80" width="6.3" height="3.67" fill="#f6eaea"/>
<line x1="133.5" x2="139.8" y1="124.80" y2="124.80" stroke="#fff" stroke-opacity="0.35" stroke-width="0.3"/>
<rect x="133.5" y="128.42" width="6.3" height="3.67" fill="#eed4d2"/>
<line x1="133.5" x2="139.8" y1="128.42" y2="128.42" stroke="#fff" stroke-opacity="0.35" stroke-width="0.3"/>
<rect x="133.5" y="132.04" width="6.3" height="3.67" fill="#e6bebb"/>
<line x1="133.5" x2="139.8" y1="132.04" y2="132.04" stroke="#fff" stroke-opacity="0.35" stroke-width="0.3"/>
<rect x="133.5" y="135.66" width="6.3" height="3.67" fill="#dea7a4"/>
<line x1="133.5" x2="139.8" y1="135.66" y2="135.66" stroke="#fff" stroke-opacity="0.35" stroke-width="0.3"/>
<rect x="133.5" y="139.28" width="6.3" height="3.67" fill="#d6918c"/>
<line x1="133.5" x2="139.8" y1="139.28" y2="139.28" stroke="#fff" stroke-opacity="0.35" stroke-width="0.3"/>
<rect x="133.5" y="142.90" width="6.3" height="3.67" fill="#cf7b75"/>
<line x1="133.5" x2="139.8" y1="142.90" y2="142.90" stroke="#fff" stroke-opacity="0.35" stroke-width="0.3"/>
<rect x="133.5" y="146.52" width="6.3" height="3.67" fill="#c7645e"/>
<line x1="133.5" x2="139.8" y1="146.52" y2="146.52" stroke="#fff" stroke-opacity="0.35" stroke-width="0.3"/>
<rect x="133.5" y="150.14" width="6.3" height="3.67" fill="#bf4e46"/>
<line x1="133.5" x2="139.8" y1="150.14" y2="150.14" stroke="#fff" stroke-opacity="0.35" stroke-width="0.3"/>
<rect x="133.5" y="153.76" width="6.3" height="3.67" fill="#b7382f"/>
<line x1="133.5" x2="139.8" y1="153.76" y2="153.76" stroke="#fff" stroke-opacity="0.35" stroke-width="0.3"/>
<rect x="133.5" y="157.38" width="6.3" height="3.67" fill="#b02218"/>
<line x1="133.5" x2="139.8" y1="157.38" y2="157.38" stroke="#fff" stroke-opacity="0.35" stroke-width="0.3"/>
<rect x="133.5" y="88.6" width="6.3" height="72.4" fill="none" stroke="#666" stroke-width="0.35"/>
<text x="131.2" y="91.5" font-size="5.30" text-anchor="end" font-weight="normal" fill="#222"  stroke="#222" stroke-width="0.08">100</text>
<line x1="131.8" y1="89.5" x2="133.5" y2="89.5" stroke="#333" stroke-width="0.4"/>
<text x="131.2" y="98.6" font-size="5.30" text-anchor="end" font-weight="normal" fill="#222"  stroke="#222" stroke-width="0.08">80</text>
<line x1="131.8" y1="96.6" x2="133.5" y2="96.6" stroke="#333" stroke-width="0.4"/>
<text x="131.2" y="105.7" font-size="5.30" text-anchor="end" font-weight="normal" fill="#222"  stroke="#222" stroke-width="0.08">60</text>
<line x1="131.8" y1="103.7" x2="133.5" y2="103.7" stroke="#333" stroke-width="0.4"/>
<text x="131.2" y="112.8" font-size="5.30" text-anchor="end" font-weight="normal" fill="#222"  stroke="#222" stroke-width="0.08">40</text>
<line x1="131.8" y1="110.8" x2="133.5" y2="110.8" stroke="#333" stroke-width="0.4"/>
<text x="131.2" y="119.9" font-size="5.30" text-anchor="end" font-weight="normal" fill="#222"  stroke="#222" stroke-width="0.08">20</text>
<line x1="131.8" y1="117.9" x2="133.5" y2="117.9" stroke="#333" stroke-width="0.4"/>
<text x="131.2" y="127.0" font-size="5.30" text-anchor="end" font-weight="normal" fill="#222"  stroke="#222" stroke-width="0.08">0</text>
<line x1="131.8" y1="125.0" x2="133.5" y2="125.0" stroke="#333" stroke-width="0.4"/>
<text x="131.2" y="134.1" font-size="5.30" text-anchor="end" font-weight="normal" fill="#222"  stroke="#222" stroke-width="0.08">20</text>
<line x1="131.8" y1="132.1" x2="133.5" y2="132.1" stroke="#333" stroke-width="0.4"/>
<text x="131.2" y="141.2" font-size="5.30" text-anchor="end" font-weight="normal" fill="#222"  stroke="#222" stroke-width="0.08">40</text>
<line x1="131.8" y1="139.2" x2="133.5" y2="139.2" stroke="#333" stroke-width="0.4"/>
<text x="131.2" y="148.3" font-size="5.30" text-anchor="end" font-weight="normal" fill="#222"  stroke="#222" stroke-width="0.08">60</text>
<line x1="131.8" y1="146.3" x2="133.5" y2="146.3" stroke="#333" stroke-width="0.4"/>
<text x="131.2" y="155.4" font-size="5.30" text-anchor="end" font-weight="normal" fill="#222"  stroke="#222" stroke-width="0.08">80</text>
<line x1="131.8" y1="153.4" x2="133.5" y2="153.4" stroke="#333" stroke-width="0.4"/>
<text x="131.2" y="162.5" font-size="5.30" text-anchor="end" font-weight="normal" fill="#222"  stroke="#222" stroke-width="0.08">100</text>
<line x1="131.8" y1="160.5" x2="133.5" y2="160.5" stroke="#333" stroke-width="0.4"/>
<text x="142.0" y="94.5" font-size="7.20" text-anchor="start" font-weight="normal" fill="#111"  stroke="#111" stroke-width="0.16">FLAER<tspan font-size="4.5" dy="-2.5">+</tspan></text>
<text x="142.0" y="159.5" font-size="7.20" text-anchor="start" font-weight="normal" fill="#111"  stroke="#111" stroke-width="0.16">FLAER<tspan font-size="4.5" dy="-2.5">&#8211;</tspan></text>
<text x="0.0" y="0.0" font-size="7.20" text-anchor="middle" font-weight="normal" fill="#222" transform="translate(117.2,125.5) rotate(-90)" stroke="#222" stroke-width="0.16">Enrichment (%)</text>
<text x="238.0" y="16.5" font-size="8.90" text-anchor="middle" font-weight="normal" fill="#111"  stroke="#111" stroke-width="0.24">CD56</text>
<g transform="translate(210.0,22.0)"><use href="#blobp" fill="#a4a4a4" stroke="#a4a4a4" stroke-width="5.0" filter="url(#halo)"/><g clip-path="url(#blobc)"><g filter="url(#soft)"><rect x="-2" y="-2" width="60" height="60" fill="#62b42c"/><ellipse cx="22.0" cy="6.0" rx="6.0" ry="6.0" fill="#e0341c" fill-opacity="0.85"/><ellipse cx="21.0" cy="12.0" rx="6.0" ry="5.0" fill="#f3961c" fill-opacity="0.50"/><ellipse cx="33.0" cy="12.0" rx="4.0" ry="3.0" fill="#f3961c" fill-opacity="0.50"/><ellipse cx="41.0" cy="34.0" rx="7.0" ry="6.0" fill="#efe21e" fill-opacity="0.75"/><ellipse cx="44.0" cy="36.0" rx="4.0" ry="4.0" fill="#f3961c" fill-opacity="0.50"/><ellipse cx="10.0" cy="36.0" rx="8.0" ry="7.0" fill="#9ccc24" fill-opacity="0.60"/><ellipse cx="46.0" cy="22.0" rx="6.0" ry="8.0" fill="#3fa030" fill-opacity="0.50"/></g><rect x="0" y="0" width="56" height="56" fill="rgba(0,0,0,0.22)" filter="url(#sp9)"/><rect x="0" y="0" width="56" height="56" fill="#fff" filter="url(#sp10)"/><path d="M26,8 L25,14 L27,20 L25,27 L27,33 L25,40 L26,47 M25,14 L21,20 L17,25 M27,20 L32,18 M25,27 L20,31 L14,33 M27,33 L33,35 M25,40 L20,42 M32,12 L33,20 L31,28 L33,36 L31,44 M33,20 L38,17 L42,14 M31,28 L36,29 M33,36 L38,38" fill="none" stroke="#fff" stroke-width="1.3" stroke-opacity="0.80" stroke-linecap="round" stroke-linejoin="round"/></g><use href="#blobp" fill="none" stroke="#6a6a50" stroke-width="2.2" opacity="0.45" filter="url(#rimf)"/></g>
<text x="298.5" y="16.5" font-size="8.90" text-anchor="middle" font-weight="normal" fill="#111"  stroke="#111" stroke-width="0.24">CD16</text>
<g transform="translate(272.0,23.0)"><use href="#blobp" fill="#a4a4a4" stroke="#a4a4a4" stroke-width="5.0" filter="url(#halo)"/><g clip-path="url(#blobc)"><g filter="url(#soft)"><rect x="-2" y="-2" width="60" height="60" fill="#b8cc2a"/><ellipse cx="20.0" cy="5.0" rx="6.0" ry="4.0" fill="#1c1680" fill-opacity="0.95"/><ellipse cx="33.0" cy="11.0" rx="4.0" ry="4.0" fill="#1c1680" fill-opacity="0.80"/><ellipse cx="4.0" cy="23.0" rx="3.5" ry="3.0" fill="#1c1680" fill-opacity="0.90"/><ellipse cx="13.0" cy="32.0" rx="9.0" ry="10.0" fill="#f3961c" fill-opacity="0.85"/><ellipse cx="25.0" cy="48.0" rx="6.0" ry="5.0" fill="#f0b020" fill-opacity="0.80"/><ellipse cx="22.0" cy="14.0" rx="5.0" ry="7.0" fill="#3da535" fill-opacity="0.70"/><ellipse cx="42.0" cy="16.0" rx="8.0" ry="4.0" fill="#3da535" fill-opacity="0.70"/><ellipse cx="52.0" cy="28.0" rx="3.0" ry="7.0" fill="#1f9aa8" fill-opacity="0.80"/><ellipse cx="53.0" cy="26.0" rx="1.5" ry="3.0" fill="#1c1680" fill-opacity="0.80"/><ellipse cx="42.0" cy="30.0" rx="8.0" ry="9.0" fill="#9ccc24" fill-opacity="0.70"/><ellipse cx="40.0" cy="37.0" rx="5.0" ry="3.0" fill="#f3961c" fill-opacity="0.50"/><ellipse cx="28.0" cy="32.0" rx="3.0" ry="12.0" fill="#2a3fb8" fill-opacity="0.40"/></g><rect x="0" y="0" width="56" height="56" fill="rgba(0,0,0,0.22)" filter="url(#sp11)"/><rect x="0" y="0" width="56" height="56" fill="#fff" filter="url(#sp12)"/><path d="M26,8 L25,14 L27,20 L25,27 L27,33 L25,40 L26,47 M25,14 L21,20 L17,25 M27,20 L32,18 M25,27 L20,31 L14,33 M27,33 L33,35 M25,40 L20,42 M32,12 L33,20 L31,28 L33,36 L31,44 M33,20 L38,17 L42,14 M31,28 L36,29 M33,36 L38,38" fill="none" stroke="#fff" stroke-width="1.3" stroke-opacity="0.80" stroke-linecap="round" stroke-linejoin="round"/></g><use href="#blobp" fill="none" stroke="#6a6a50" stroke-width="2.2" opacity="0.45" filter="url(#rimf)"/></g>
<text x="359.0" y="16.5" font-size="8.90" text-anchor="middle" font-weight="normal" fill="#111"  stroke="#111" stroke-width="0.24">NKG2A</text>
<g transform="translate(333.0,23.0)"><use href="#blobp" fill="#a4a4a4" stroke="#a4a4a4" stroke-width="5.0" filter="url(#halo)"/><g clip-path="url(#blobc)"><g filter="url(#soft)"><rect x="-2" y="-2" width="60" height="60" fill="#1c1680"/><ellipse cx="21.0" cy="11.0" rx="6.0" ry="10.0" fill="#e8c020" fill-opacity="0.95"/><ellipse cx="19.0" cy="10.0" rx="3.0" ry="5.0" fill="#f3961c" fill-opacity="0.80"/><ellipse cx="23.0" cy="28.0" rx="6.0" ry="12.0" fill="#8ccc28" fill-opacity="0.95"/><ellipse cx="25.0" cy="30.0" rx="3.0" ry="8.0" fill="#efe21e" fill-opacity="0.60"/><ellipse cx="13.0" cy="22.0" rx="4.0" ry="5.0" fill="#3da535" fill-opacity="0.60"/></g><rect x="0" y="0" width="56" height="56" fill="rgba(0,0,0,0.22)" filter="url(#sp13)"/><rect x="0" y="0" width="56" height="56" fill="#fff" filter="url(#sp14)"/><path d="M26,8 L25,14 L27,20 L25,27 L27,33 L25,40 L26,47 M25,14 L21,20 L17,25 M27,20 L32,18 M25,27 L20,31 L14,33 M27,33 L33,35 M25,40 L20,42 M32,12 L33,20 L31,28 L33,36 L31,44 M33,20 L38,17 L42,14 M31,28 L36,29 M33,36 L38,38" fill="none" stroke="#fff" stroke-width="1.3" stroke-opacity="0.80" stroke-linecap="round" stroke-linejoin="round"/></g><use href="#blobp" fill="none" stroke="#6a6a50" stroke-width="2.2" opacity="0.45" filter="url(#rimf)"/></g>
<text x="420.5" y="16.5" font-size="8.90" text-anchor="middle" font-weight="normal" fill="#111"  stroke="#111" stroke-width="0.24">CD57</text>
<g transform="translate(394.0,23.0)"><use href="#blobp" fill="#a4a4a4" stroke="#a4a4a4" stroke-width="5.0" filter="url(#halo)"/><g clip-path="url(#blobc)"><g filter="url(#soft)"><rect x="-2" y="-2" width="60" height="60" fill="#3aa038"/><ellipse cx="19.0" cy="11.0" rx="7.0" ry="11.0" fill="#1c1680" fill-opacity="0.95"/><ellipse cx="34.0" cy="15.0" rx="5.0" ry="6.5" fill="#1c1680" fill-opacity="0.95"/><ellipse cx="10.0" cy="28.0" rx="9.0" ry="7.5" fill="#1c1680" fill-opacity="0.90"/><ellipse cx="11.0" cy="41.0" rx="10.0" ry="5.0" fill="#a8d020" fill-opacity="0.90"/><ellipse cx="27.0" cy="32.0" rx="3.5" ry="9.0" fill="#1c1680" fill-opacity="0.90"/><ellipse cx="26.0" cy="47.0" rx="5.5" ry="5.0" fill="#2a70a0" fill-opacity="0.90"/><ellipse cx="40.0" cy="17.0" rx="6.0" ry="5.0" fill="#3da535" fill-opacity="0.80"/><ellipse cx="45.0" cy="27.0" rx="7.0" ry="8.0" fill="#efe21e" fill-opacity="0.90"/><ellipse cx="46.0" cy="36.0" rx="6.0" ry="5.0" fill="#f3961c" fill-opacity="0.85"/></g><rect x="0" y="0" width="56" height="56" fill="rgba(0,0,0,0.22)" filter="url(#sp15)"/><rect x="0" y="0" width="56" height="56" fill="#fff" filter="url(#sp16)"/><path d="M26,8 L25,14 L27,20 L25,27 L27,33 L25,40 L26,47 M25,14 L21,20 L17,25 M27,20 L32,18 M25,27 L20,31 L14,33 M27,33 L33,35 M25,40 L20,42 M32,12 L33,20 L31,28 L33,36 L31,44 M33,20 L38,17 L42,14 M31,28 L36,29 M33,36 L38,38" fill="none" stroke="#fff" stroke-width="1.3" stroke-opacity="0.80" stroke-linecap="round" stroke-linejoin="round"/></g><use href="#blobp" fill="none" stroke="#6a6a50" stroke-width="2.2" opacity="0.45" filter="url(#rimf)"/></g>
<text x="482.0" y="16.5" font-size="8.90" text-anchor="middle" font-weight="normal" fill="#111"  stroke="#111" stroke-width="0.24">CD2</text>
<g transform="translate(455.0,23.0)"><use href="#blobp" fill="#a4a4a4" stroke="#a4a4a4" stroke-width="5.0" filter="url(#halo)"/><g clip-path="url(#blobc)"><g filter="url(#soft)"><rect x="-2" y="-2" width="60" height="60" fill="#d6d228"/><ellipse cx="28.0" cy="37.0" rx="5.5" ry="13.0" fill="#1c1680" fill-opacity="0.95"/><ellipse cx="26.0" cy="48.0" rx="6.5" ry="5.5" fill="#1c1680" fill-opacity="0.95"/><ellipse cx="21.0" cy="10.0" rx="6.0" ry="8.0" fill="#f3961c" fill-opacity="0.70"/><ellipse cx="14.0" cy="36.0" rx="7.0" ry="6.0" fill="#3da535" fill-opacity="0.50"/><ellipse cx="22.0" cy="40.0" rx="4.0" ry="6.0" fill="#3da535" fill-opacity="0.60"/><ellipse cx="50.0" cy="30.0" rx="4.0" ry="8.0" fill="#f3961c" fill-opacity="0.50"/><ellipse cx="40.0" cy="18.0" rx="8.0" ry="6.0" fill="#e8c020" fill-opacity="0.60"/></g><rect x="0" y="0" width="56" height="56" fill="rgba(0,0,0,0.22)" filter="url(#sp17)"/><rect x="0" y="0" width="56" height="56" fill="#fff" filter="url(#sp18)"/><path d="M26,8 L25,14 L27,20 L25,27 L27,33 L25,40 L26,47 M25,14 L21,20 L17,25 M27,20 L32,18 M25,27 L20,31 L14,33 M27,33 L33,35 M25,40 L20,42 M32,12 L33,20 L31,28 L33,36 L31,44 M33,20 L38,17 L42,14 M31,28 L36,29 M33,36 L38,38" fill="none" stroke="#fff" stroke-width="1.3" stroke-opacity="0.80" stroke-linecap="round" stroke-linejoin="round"/></g><use href="#blobp" fill="none" stroke="#6a6a50" stroke-width="2.2" opacity="0.45" filter="url(#rimf)"/></g>
<text x="237.0" y="97.7" font-size="8.90" text-anchor="middle" font-weight="normal" fill="#111"  stroke="#111" stroke-width="0.24">NKG2C</text>
<g transform="translate(211.6,104.5)"><use href="#blobp" fill="#a4a4a4" stroke="#a4a4a4" stroke-width="5.0" filter="url(#halo)"/><g clip-path="url(#blobc)"><g filter="url(#soft)"><rect x="-2" y="-2" width="60" height="60" fill="#1c1680"/><ellipse cx="42.0" cy="25.0" rx="12.0" ry="15.0" fill="#e8e020" fill-opacity="0.95"/><ellipse cx="30.0" cy="22.0" rx="3.0" ry="12.0" fill="#3da535" fill-opacity="0.90"/><ellipse cx="33.0" cy="14.0" rx="4.0" ry="5.0" fill="#3da535" fill-opacity="0.80"/><ellipse cx="44.0" cy="20.0" rx="7.0" ry="9.0" fill="#f0e040" fill-opacity="0.60"/></g><rect x="0" y="0" width="56" height="56" fill="rgba(0,0,0,0.22)" filter="url(#sp19)"/><rect x="0" y="0" width="56" height="56" fill="#fff" filter="url(#sp20)"/><path d="M26,8 L25,14 L27,20 L25,27 L27,33 L25,40 L26,47 M25,14 L21,20 L17,25 M27,20 L32,18 M25,27 L20,31 L14,33 M27,33 L33,35 M25,40 L20,42 M32,12 L33,20 L31,28 L33,36 L31,44 M33,20 L38,17 L42,14 M31,28 L36,29 M33,36 L38,38" fill="none" stroke="#fff" stroke-width="1.3" stroke-opacity="0.80" stroke-linecap="round" stroke-linejoin="round"/></g><use href="#blobp" fill="none" stroke="#6a6a50" stroke-width="2.2" opacity="0.45" filter="url(#rimf)"/></g>
<text x="298.4" y="97.7" font-size="8.90" text-anchor="middle" font-weight="normal" fill="#111"  stroke="#111" stroke-width="0.24">PLZF</text>
<g transform="translate(272.0,104.5)"><use href="#blobp" fill="#a4a4a4" stroke="#a4a4a4" stroke-width="5.0" filter="url(#halo)"/><g clip-path="url(#blobc)"><g filter="url(#soft)"><rect x="-2" y="-2" width="60" height="60" fill="#e0c02a"/><ellipse cx="43.0" cy="24.0" rx="12.0" ry="16.0" fill="#2a9a8a" fill-opacity="0.92"/><ellipse cx="46.0" cy="24.0" rx="6.0" ry="9.0" fill="#2a62b0" fill-opacity="0.85"/><ellipse cx="38.0" cy="12.0" rx="5.0" ry="4.0" fill="#3da535" fill-opacity="0.80"/><ellipse cx="20.0" cy="5.0" rx="5.0" ry="4.0" fill="#f3961c" fill-opacity="0.70"/><ellipse cx="12.0" cy="34.0" rx="8.0" ry="8.0" fill="#f3961c" fill-opacity="0.60"/><ellipse cx="3.0" cy="32.0" rx="3.0" ry="6.0" fill="#3da535" fill-opacity="0.70"/><ellipse cx="27.0" cy="48.0" rx="5.0" ry="5.0" fill="#e8b020" fill-opacity="0.80"/><ellipse cx="28.0" cy="30.0" rx="3.0" ry="12.0" fill="#e8e060" fill-opacity="0.50"/></g><rect x="0" y="0" width="56" height="56" fill="rgba(0,0,0,0.22)" filter="url(#sp11)"/><rect x="0" y="0" width="56" height="56" fill="#fff" filter="url(#sp12)"/><path d="M26,8 L25,14 L27,20 L25,27 L27,33 L25,40 L26,47 M25,14 L21,20 L17,25 M27,20 L32,18 M25,27 L20,31 L14,33 M27,33 L33,35 M25,40 L20,42 M32,12 L33,20 L31,28 L33,36 L31,44 M33,20 L38,17 L42,14 M31,28 L36,29 M33,36 L38,38" fill="none" stroke="#fff" stroke-width="1.3" stroke-opacity="0.80" stroke-linecap="round" stroke-linejoin="round"/></g><use href="#blobp" fill="none" stroke="#6a6a50" stroke-width="2.2" opacity="0.45" filter="url(#rimf)"/></g>
<text x="360.7" y="97.7" font-size="8.90" text-anchor="middle" font-weight="normal" fill="#111"  stroke="#111" stroke-width="0.24">FcεRγ</text>
<g transform="translate(332.0,105.0)"><use href="#blobp" fill="#a4a4a4" stroke="#a4a4a4" stroke-width="5.0" filter="url(#halo)"/><g clip-path="url(#blobc)"><g filter="url(#soft)"><rect x="-2" y="-2" width="60" height="60" fill="#b8d030"/><ellipse cx="20.0" cy="5.0" rx="6.0" ry="4.0" fill="#2a8a3a" fill-opacity="0.90"/><ellipse cx="44.0" cy="17.0" rx="11.0" ry="11.0" fill="#1c1680" fill-opacity="0.95"/><ellipse cx="51.0" cy="28.0" rx="4.0" ry="9.0" fill="#2a3fb8" fill-opacity="0.85"/><ellipse cx="40.0" cy="32.0" rx="7.0" ry="7.0" fill="#3da535" fill-opacity="0.80"/><ellipse cx="5.0" cy="38.0" rx="3.0" ry="3.0" fill="#1c1680" fill-opacity="0.90"/><ellipse cx="14.0" cy="34.0" rx="8.0" ry="8.0" fill="#e8c020" fill-opacity="0.70"/><ellipse cx="27.0" cy="48.0" rx="5.0" ry="5.0" fill="#9ccc24" fill-opacity="0.80"/><ellipse cx="28.0" cy="28.0" rx="3.0" ry="12.0" fill="#d0e8a0" fill-opacity="0.50"/></g><rect x="0" y="0" width="56" height="56" fill="rgba(0,0,0,0.22)" filter="url(#sp21)"/><rect x="0" y="0" width="56" height="56" fill="#fff" filter="url(#sp22)"/><path d="M26,8 L25,14 L27,20 L25,27 L27,33 L25,40 L26,47 M25,14 L21,20 L17,25 M27,20 L32,18 M25,27 L20,31 L14,33 M27,33 L33,35 M25,40 L20,42 M32,12 L33,20 L31,28 L33,36 L31,44 M33,20 L38,17 L42,14 M31,28 L36,29 M33,36 L38,38" fill="none" stroke="#fff" stroke-width="1.3" stroke-opacity="0.80" stroke-linecap="round" stroke-linejoin="round"/></g><use href="#blobp" fill="none" stroke="#6a6a50" stroke-width="2.2" opacity="0.45" filter="url(#rimf)"/></g>
<text x="420.8" y="97.7" font-size="8.90" text-anchor="middle" font-weight="normal" fill="#111"  stroke="#111" stroke-width="0.24">SYK</text>
<g transform="translate(393.0,105.0)"><use href="#blobp" fill="#a4a4a4" stroke="#a4a4a4" stroke-width="5.0" filter="url(#halo)"/><g clip-path="url(#blobc)"><g filter="url(#soft)"><rect x="-2" y="-2" width="60" height="60" fill="#8cc830"/><ellipse cx="43.0" cy="14.0" rx="5.0" ry="4.0" fill="#1c1680" fill-opacity="0.90"/><ellipse cx="48.0" cy="22.0" rx="5.0" ry="7.0" fill="#1f9aa8" fill-opacity="0.60"/><ellipse cx="42.0" cy="30.0" rx="8.0" ry="8.0" fill="#3da535" fill-opacity="0.70"/><ellipse cx="14.0" cy="34.0" rx="9.0" ry="8.0" fill="#d8dc28" fill-opacity="0.70"/><ellipse cx="21.0" cy="10.0" rx="5.0" ry="8.0" fill="#9ccc24" fill-opacity="0.60"/><ellipse cx="3.0" cy="35.0" rx="2.0" ry="3.0" fill="#1c1680" fill-opacity="0.80"/><ellipse cx="27.0" cy="48.0" rx="5.0" ry="5.0" fill="#c8d828" fill-opacity="0.80"/></g><rect x="0" y="0" width="56" height="56" fill="rgba(0,0,0,0.22)" filter="url(#sp23)"/><rect x="0" y="0" width="56" height="56" fill="#fff" filter="url(#sp24)"/><path d="M26,8 L25,14 L27,20 L25,27 L27,33 L25,40 L26,47 M25,14 L21,20 L17,25 M27,20 L32,18 M25,27 L20,31 L14,33 M27,33 L33,35 M25,40 L20,42 M32,12 L33,20 L31,28 L33,36 L31,44 M33,20 L38,17 L42,14 M31,28 L36,29 M33,36 L38,38" fill="none" stroke="#fff" stroke-width="1.3" stroke-opacity="0.80" stroke-linecap="round" stroke-linejoin="round"/></g><use href="#blobp" fill="none" stroke="#6a6a50" stroke-width="2.2" opacity="0.45" filter="url(#rimf)"/></g>
<rect x="468" y="97.8" width="11.5" height="61.4" fill="url(#jet)" stroke="#333" stroke-width="0.5"/>
<text x="483.0" y="103.5" font-size="7.40" text-anchor="start" font-weight="normal" fill="#111"  stroke="#111" stroke-width="0.16">High</text>
<text x="482.6" y="161.0" font-size="7.40" text-anchor="start" font-weight="normal" fill="#111"  stroke="#111" stroke-width="0.16">Negative</text>
<text x="0.0" y="0.0" font-size="6.90" text-anchor="middle" font-weight="normal" fill="#222" transform="translate(462.3,130) rotate(-90)" stroke="#222" stroke-width="0.16">Relative expression</text>
<text x="54.4" y="190.4" font-size="8.75" text-anchor="middle" font-weight="normal" fill="#111"  stroke="#111" stroke-width="0.24">Patient 1</text>
<g transform="translate(27.4,197.5)"><use href="#blobp" fill="#b4aedc" stroke="#b4aedc" stroke-width="4.4" filter="url(#halo2)"/><g clip-path="url(#blobc)"><g filter="url(#soft)"><rect x="-2" y="-2" width="60" height="60" fill="#d8d4ec"/><ellipse cx="21.0" cy="12.0" rx="3.5" ry="7.0" fill="#e0142e" fill-opacity="1.00"/><ellipse cx="6.0" cy="24.0" rx="3.5" ry="2.5" fill="#e0142e" fill-opacity="0.90"/><ellipse cx="27.0" cy="34.0" rx="2.0" ry="4.0" fill="#e0142e" fill-opacity="0.80"/><ellipse cx="42.0" cy="28.0" rx="11.0" ry="13.0" fill="#d0cce8" fill-opacity="0.60"/></g><ellipse cx="21.0" cy="13.0" rx="4.0" ry="7.0" fill="#e0142e" filter="url(#sp25)"/><ellipse cx="6.0" cy="24.0" rx="4.5" ry="3.5" fill="#e0142e" filter="url(#sp26)"/><ellipse cx="27.0" cy="34.0" rx="3.0" ry="6.0" fill="#e0142e" filter="url(#sp27)"/><ellipse cx="25.0" cy="38.0" rx="7.0" ry="12.0" fill="#e0142e" filter="url(#sp28)"/><rect x="0" y="0" width="56" height="56" fill="#1e1a52" filter="url(#sp29)"/><rect x="0" y="0" width="56" height="56" fill="#fff" filter="url(#sp30)"/><path d="M26,8 L25,14 L27,20 L25,27 L27,33 L25,40 L26,47 M25,14 L21,20 L17,25 M27,20 L32,18 M25,27 L20,31 L14,33 M27,33 L33,35 M25,40 L20,42 M32,12 L33,20 L31,28 L33,36 L31,44 M33,20 L38,17 L42,14 M31,28 L36,29 M33,36 L38,38" fill="none" stroke="#fff" stroke-width="1.3" stroke-opacity="0.80" stroke-linecap="round" stroke-linejoin="round"/></g><use href="#blobp" fill="none" stroke="#9890c8" stroke-width="4.2" opacity="0.85" filter="url(#rimf)"/></g>
<text x="116.8" y="190.4" font-size="8.75" text-anchor="middle" font-weight="normal" fill="#111"  stroke="#111" stroke-width="0.24">Patient 2</text>
<g transform="translate(88.6,197.5)"><use href="#blobp" fill="#b4aedc" stroke="#b4aedc" stroke-width="4.4" filter="url(#halo2)"/><g clip-path="url(#blobc)"><g filter="url(#soft)"><rect x="-2" y="-2" width="60" height="60" fill="#d8d4ec"/><ellipse cx="45.0" cy="29.0" rx="7.0" ry="9.0" fill="#1e1a52" fill-opacity="0.75"/></g><ellipse cx="44.0" cy="28.0" rx="9.0" ry="12.0" fill="#1e1a52" filter="url(#sp31)"/><ellipse cx="26.0" cy="30.0" rx="7.0" ry="13.0" fill="#e0142e" filter="url(#sp32)"/><ellipse cx="16.0" cy="34.0" rx="9.0" ry="8.0" fill="#1e1a52" filter="url(#sp33)"/><rect x="0" y="0" width="56" height="56" fill="#1e1a52" filter="url(#sp34)"/><rect x="0" y="0" width="56" height="56" fill="#fff" filter="url(#sp35)"/><path d="M26,8 L25,14 L27,20 L25,27 L27,33 L25,40 L26,47 M25,14 L21,20 L17,25 M27,20 L32,18 M25,27 L20,31 L14,33 M27,33 L33,35 M25,40 L20,42 M32,12 L33,20 L31,28 L33,36 L31,44 M33,20 L38,17 L42,14 M31,28 L36,29 M33,36 L38,38" fill="none" stroke="#fff" stroke-width="1.3" stroke-opacity="0.80" stroke-linecap="round" stroke-linejoin="round"/></g><use href="#blobp" fill="none" stroke="#9890c8" stroke-width="4.2" opacity="0.85" filter="url(#rimf)"/></g>
<text x="177.2" y="190.4" font-size="8.75" text-anchor="middle" font-weight="normal" fill="#111"  stroke="#111" stroke-width="0.24">Patient 3</text>
<g transform="translate(149.0,197.5)"><use href="#blobp" fill="#b4aedc" stroke="#b4aedc" stroke-width="4.4" filter="url(#halo2)"/><g clip-path="url(#blobc)"><g filter="url(#soft)"><rect x="-2" y="-2" width="60" height="60" fill="#d8d4ec"/><ellipse cx="27.0" cy="49.0" rx="4.0" ry="3.5" fill="#e0142e" fill-opacity="0.90"/><ellipse cx="45.0" cy="30.0" rx="5.0" ry="7.0" fill="#1e1a52" fill-opacity="0.60"/></g><ellipse cx="18.0" cy="28.0" rx="12.0" ry="15.0" fill="#e0142e" filter="url(#sp36)"/><ellipse cx="27.0" cy="34.0" rx="5.0" ry="10.0" fill="#e0142e" filter="url(#sp37)"/><ellipse cx="45.0" cy="30.0" rx="8.0" ry="10.0" fill="#1e1a52" filter="url(#sp38)"/><ellipse cx="27.0" cy="49.0" rx="5.0" ry="4.5" fill="#e0142e" filter="url(#sp39)"/><rect x="0" y="0" width="56" height="56" fill="#1e1a52" filter="url(#sp40)"/><rect x="0" y="0" width="56" height="56" fill="#fff" filter="url(#sp41)"/><path d="M26,8 L25,14 L27,20 L25,27 L27,33 L25,40 L26,47 M25,14 L21,20 L17,25 M27,20 L32,18 M25,27 L20,31 L14,33 M27,33 L33,35 M25,40 L20,42 M32,12 L33,20 L31,28 L33,36 L31,44 M33,20 L38,17 L42,14 M31,28 L36,29 M33,36 L38,38" fill="none" stroke="#fff" stroke-width="1.3" stroke-opacity="0.80" stroke-linecap="round" stroke-linejoin="round"/></g><use href="#blobp" fill="none" stroke="#9890c8" stroke-width="4.2" opacity="0.85" filter="url(#rimf)"/></g>
<text x="237.4" y="190.4" font-size="8.75" text-anchor="middle" font-weight="normal" fill="#111"  stroke="#111" stroke-width="0.24">Patient 4</text>
<g transform="translate(209.8,197.5)"><use href="#blobp" fill="#b4aedc" stroke="#b4aedc" stroke-width="4.4" filter="url(#halo2)"/><g clip-path="url(#blobc)"><g filter="url(#soft)"><rect x="-2" y="-2" width="60" height="60" fill="#d8d4ec"/><ellipse cx="45.0" cy="24.0" rx="7.0" ry="11.0" fill="#1e1a52" fill-opacity="0.75"/></g><ellipse cx="44.0" cy="24.0" rx="10.0" ry="15.0" fill="#1e1a52" filter="url(#sp42)"/><ellipse cx="22.0" cy="20.0" rx="7.0" ry="14.0" fill="#e0142e" filter="url(#sp43)"/><ellipse cx="14.0" cy="34.0" rx="8.0" ry="8.0" fill="#e0142e" filter="url(#sp44)"/><rect x="0" y="0" width="56" height="56" fill="#1e1a52" filter="url(#sp45)"/><rect x="0" y="0" width="56" height="56" fill="#fff" filter="url(#sp46)"/><path d="M26,8 L25,14 L27,20 L25,27 L27,33 L25,40 L26,47 M25,14 L21,20 L17,25 M27,20 L32,18 M25,27 L20,31 L14,33 M27,33 L33,35 M25,40 L20,42 M32,12 L33,20 L31,28 L33,36 L31,44 M33,20 L38,17 L42,14 M31,28 L36,29 M33,36 L38,38" fill="none" stroke="#fff" stroke-width="1.3" stroke-opacity="0.80" stroke-linecap="round" stroke-linejoin="round"/></g><use href="#blobp" fill="none" stroke="#9890c8" stroke-width="4.2" opacity="0.85" filter="url(#rimf)"/></g>
<text x="298.7" y="190.4" font-size="8.75" text-anchor="middle" font-weight="normal" fill="#45b0d2"  stroke="#45b0d2" stroke-width="0.24">Patient 5</text>
<g transform="translate(271.0,197.5)"><use href="#blobp" fill="#b4aedc" stroke="#b4aedc" stroke-width="4.4" filter="url(#halo2)"/><g clip-path="url(#blobc)"><g filter="url(#soft)"><rect x="-2" y="-2" width="60" height="60" fill="#b8b0d8"/></g><ellipse cx="22.0" cy="12.0" rx="5.0" ry="9.0" fill="#e0142e" filter="url(#sp47)"/><ellipse cx="27.0" cy="32.0" rx="4.0" ry="14.0" fill="#e0142e" filter="url(#sp48)"/><ellipse cx="12.0" cy="30.0" rx="8.0" ry="8.0" fill="#e0142e" filter="url(#sp49)"/><ellipse cx="44.0" cy="26.0" rx="11.0" ry="14.0" fill="#1e1a52" filter="url(#sp50)"/><ellipse cx="12.0" cy="36.0" rx="11.0" ry="9.0" fill="#1e1a52" filter="url(#sp51)"/><rect x="0" y="0" width="56" height="56" fill="#1e1a52" filter="url(#sp52)"/><rect x="0" y="0" width="56" height="56" fill="#fff" filter="url(#sp53)"/><path d="M26,8 L25,14 L27,20 L25,27 L27,33 L25,40 L26,47 M25,14 L21,20 L17,25 M27,20 L32,18 M25,27 L20,31 L14,33 M27,33 L33,35 M25,40 L20,42 M32,12 L33,20 L31,28 L33,36 L31,44 M33,20 L38,17 L42,14 M31,28 L36,29 M33,36 L38,38" fill="none" stroke="#fff" stroke-width="1.3" stroke-opacity="0.80" stroke-linecap="round" stroke-linejoin="round"/></g><use href="#blobp" fill="none" stroke="#9890c8" stroke-width="4.2" opacity="0.85" filter="url(#rimf)"/></g>
<text x="359.7" y="190.4" font-size="8.75" text-anchor="middle" font-weight="normal" fill="#111"  stroke="#111" stroke-width="0.24">Patient 6</text>
<g transform="translate(332.5,197.5)"><use href="#blobp" fill="#b4aedc" stroke="#b4aedc" stroke-width="4.4" filter="url(#halo2)"/><g clip-path="url(#blobc)"><g filter="url(#soft)"><rect x="-2" y="-2" width="60" height="60" fill="#dcd8ee"/></g><ellipse cx="21.0" cy="12.0" rx="6.0" ry="9.0" fill="#e0142e" filter="url(#sp54)"/><ellipse cx="28.0" cy="34.0" rx="4.0" ry="10.0" fill="#e0142e" filter="url(#sp55)"/><ellipse cx="45.0" cy="16.0" rx="6.0" ry="5.0" fill="#1e1a52" filter="url(#sp56)"/><ellipse cx="46.0" cy="30.0" rx="6.0" ry="7.0" fill="#1e1a52" filter="url(#sp57)"/><ellipse cx="8.0" cy="38.0" rx="6.0" ry="5.0" fill="#1e1a52" filter="url(#sp58)"/><rect x="0" y="0" width="56" height="56" fill="#1e1a52" filter="url(#sp59)"/><rect x="0" y="0" width="56" height="56" fill="#fff" filter="url(#sp60)"/><path d="M26,8 L25,14 L27,20 L25,27 L27,33 L25,40 L26,47 M25,14 L21,20 L17,25 M27,20 L32,18 M25,27 L20,31 L14,33 M27,33 L33,35 M25,40 L20,42 M32,12 L33,20 L31,28 L33,36 L31,44 M33,20 L38,17 L42,14 M31,28 L36,29 M33,36 L38,38" fill="none" stroke="#fff" stroke-width="1.3" stroke-opacity="0.80" stroke-linecap="round" stroke-linejoin="round"/></g><use href="#blobp" fill="none" stroke="#9890c8" stroke-width="4.2" opacity="0.85" filter="url(#rimf)"/></g>
<text x="420.5" y="190.4" font-size="8.75" text-anchor="middle" font-weight="normal" fill="#45b0d2"  stroke="#45b0d2" stroke-width="0.24">Patient 14</text>
<g transform="translate(392.8,197.5)"><use href="#blobp" fill="#b4aedc" stroke="#b4aedc" stroke-width="4.4" filter="url(#halo2)"/><g clip-path="url(#blobc)"><g filter="url(#soft)"><rect x="-2" y="-2" width="60" height="60" fill="#d0cce8"/><ellipse cx="45.0" cy="25.0" rx="7.0" ry="11.0" fill="#1e1a52" fill-opacity="0.70"/></g><ellipse cx="45.0" cy="25.0" rx="9.0" ry="14.0" fill="#1e1a52" filter="url(#sp61)"/><ellipse cx="21.0" cy="12.0" rx="5.0" ry="9.0" fill="#d03068" filter="url(#sp62)"/><ellipse cx="26.0" cy="30.0" rx="6.0" ry="12.0" fill="#d03068" filter="url(#sp63)"/><ellipse cx="14.0" cy="34.0" rx="9.0" ry="8.0" fill="#1e1a52" filter="url(#sp64)"/><rect x="0" y="0" width="56" height="56" fill="#1e1a52" filter="url(#sp65)"/><rect x="0" y="0" width="56" height="56" fill="#fff" filter="url(#sp66)"/><path d="M26,8 L25,14 L27,20 L25,27 L27,33 L25,40 L26,47 M25,14 L21,20 L17,25 M27,20 L32,18 M25,27 L20,31 L14,33 M27,33 L33,35 M25,40 L20,42 M32,12 L33,20 L31,28 L33,36 L31,44 M33,20 L38,17 L42,14 M31,28 L36,29 M33,36 L38,38" fill="none" stroke="#fff" stroke-width="1.3" stroke-opacity="0.80" stroke-linecap="round" stroke-linejoin="round"/></g><use href="#blobp" fill="none" stroke="#9890c8" stroke-width="4.2" opacity="0.85" filter="url(#rimf)"/></g>
<text x="482.6" y="190.4" font-size="8.75" text-anchor="middle" font-weight="normal" fill="#111"  stroke="#111" stroke-width="0.24">Patient 15</text>
<g transform="translate(453.8,197.5)"><use href="#blobp" fill="#b4aedc" stroke="#b4aedc" stroke-width="4.4" filter="url(#halo2)"/><g clip-path="url(#blobc)"><g filter="url(#soft)"><rect x="-2" y="-2" width="60" height="60" fill="#dcd8ee"/></g><ellipse cx="22.0" cy="22.0" rx="7.0" ry="14.0" fill="#1e1a52" filter="url(#sp67)"/><ellipse cx="28.0" cy="38.0" rx="5.0" ry="8.0" fill="#1e1a52" filter="url(#sp68)"/><ellipse cx="45.0" cy="28.0" rx="8.0" ry="10.0" fill="#1e1a52" filter="url(#sp69)"/><rect x="0" y="0" width="56" height="56" fill="#1e1a52" filter="url(#sp70)"/><rect x="0" y="0" width="56" height="56" fill="#fff" filter="url(#sp71)"/><path d="M26,8 L25,14 L27,20 L25,27 L27,33 L25,40 L26,47 M25,14 L21,20 L17,25 M27,20 L32,18 M25,27 L20,31 L14,33 M27,33 L33,35 M25,40 L20,42 M32,12 L33,20 L31,28 L33,36 L31,44 M33,20 L38,17 L42,14 M31,28 L36,29 M33,36 L38,38" fill="none" stroke="#fff" stroke-width="1.3" stroke-opacity="0.80" stroke-linecap="round" stroke-linejoin="round"/></g><use href="#blobp" fill="none" stroke="#9890c8" stroke-width="4.2" opacity="0.85" filter="url(#rimf)"/></g>
<rect x="26.5" y="287.5" width="48.0" height="47.0" fill="none" stroke="#4a4a4a" stroke-width="1"/>
<line x1="45.5" y1="287.5" x2="45.5" y2="334.5" stroke="#4a4a4a" stroke-width="1"/>
<line x1="26.5" y1="320.5" x2="74.5" y2="320.5" stroke="#4a4a4a" stroke-width="1"/>
<text x="27.7" y="291.2" font-size="3.4" fill="#444" stroke="#444" stroke-width="0.08">69.6</text>
<text x="73.0" y="291.2" font-size="3.4" fill="#444" text-anchor="end" stroke="#444" stroke-width="0.08">0.4</text>
<text x="27.7" y="333.2" font-size="3.4" fill="#444" stroke="#444" stroke-width="0.08">1.7</text>
<text x="73.0" y="333.2" font-size="3.4" fill="#444" text-anchor="end" stroke="#444" stroke-width="0.08">28</text>
<text x="31.3" y="341.2" font-size="5" text-anchor="middle" fill="#222" stroke="#222" stroke-width="0.08">0</text>
<text x="40.2" y="341.2" font-size="5" text-anchor="middle" fill="#222" stroke="#222" stroke-width="0.08">10<tspan font-size="3.3" dy="-1.8">3</tspan></text>
<text x="54.7" y="341.2" font-size="5" text-anchor="middle" fill="#222" stroke="#222" stroke-width="0.08">10<tspan font-size="3.3" dy="-1.8">4</tspan></text>
<text x="68.4" y="341.2" font-size="5" text-anchor="middle" fill="#222" stroke="#222" stroke-width="0.08">10<tspan font-size="3.3" dy="-1.8">5</tspan></text>
<rect x="88.5" y="287.5" width="48.0" height="47.0" fill="none" stroke="#4a4a4a" stroke-width="1"/>
<line x1="107.5" y1="287.5" x2="107.5" y2="334.5" stroke="#4a4a4a" stroke-width="1"/>
<line x1="88.5" y1="320.5" x2="136.5" y2="320.5" stroke="#4a4a4a" stroke-width="1"/>
<text x="89.7" y="291.2" font-size="3.4" fill="#444" stroke="#444" stroke-width="0.08">94.9</text>
<text x="135.0" y="291.2" font-size="3.4" fill="#444" text-anchor="end" stroke="#444" stroke-width="0.08">5.77</text>
<text x="89.7" y="333.2" font-size="3.4" fill="#444" stroke="#444" stroke-width="0.08">0.089</text>
<text x="135.0" y="333.2" font-size="3.4" fill="#444" text-anchor="end" stroke="#444" stroke-width="0.08">1.30</text>
<text x="93.3" y="341.2" font-size="5" text-anchor="middle" fill="#222" stroke="#222" stroke-width="0.08">0</text>
<text x="102.2" y="341.2" font-size="5" text-anchor="middle" fill="#222" stroke="#222" stroke-width="0.08">10<tspan font-size="3.3" dy="-1.8">3</tspan></text>
<text x="116.7" y="341.2" font-size="5" text-anchor="middle" fill="#222" stroke="#222" stroke-width="0.08">10<tspan font-size="3.3" dy="-1.8">4</tspan></text>
<text x="130.4" y="341.2" font-size="5" text-anchor="middle" fill="#222" stroke="#222" stroke-width="0.08">10<tspan font-size="3.3" dy="-1.8">5</tspan></text>
<rect x="150.5" y="287.5" width="48.0" height="47.0" fill="none" stroke="#4a4a4a" stroke-width="1"/>
<line x1="169.5" y1="287.5" x2="169.5" y2="334.5" stroke="#4a4a4a" stroke-width="1"/>
<line x1="150.5" y1="320.5" x2="198.5" y2="320.5" stroke="#4a4a4a" stroke-width="1"/>
<text x="151.8" y="291.2" font-size="3.4" fill="#444" stroke="#444" stroke-width="0.08">64.0</text>
<text x="197.1" y="291.2" font-size="3.4" fill="#444" text-anchor="end" stroke="#444" stroke-width="0.08">0.46</text>
<text x="151.8" y="333.2" font-size="3.4" fill="#444" stroke="#444" stroke-width="0.08">13</text>
<text x="197.1" y="333.2" font-size="3.4" fill="#444" text-anchor="end" stroke="#444" stroke-width="0.08">22.4</text>
<text x="155.4" y="341.2" font-size="5" text-anchor="middle" fill="#222" stroke="#222" stroke-width="0.08">0</text>
<text x="164.3" y="341.2" font-size="5" text-anchor="middle" fill="#222" stroke="#222" stroke-width="0.08">10<tspan font-size="3.3" dy="-1.8">3</tspan></text>
<text x="178.8" y="341.2" font-size="5" text-anchor="middle" fill="#222" stroke="#222" stroke-width="0.08">10<tspan font-size="3.3" dy="-1.8">4</tspan></text>
<text x="192.5" y="341.2" font-size="5" text-anchor="middle" fill="#222" stroke="#222" stroke-width="0.08">10<tspan font-size="3.3" dy="-1.8">5</tspan></text>
<rect x="212.5" y="287.5" width="48.0" height="47.0" fill="none" stroke="#4a4a4a" stroke-width="1"/>
<line x1="231.5" y1="287.5" x2="231.5" y2="334.5" stroke="#4a4a4a" stroke-width="1"/>
<line x1="212.5" y1="320.5" x2="260.5" y2="320.5" stroke="#4a4a4a" stroke-width="1"/>
<text x="213.8" y="291.2" font-size="3.4" fill="#444" stroke="#444" stroke-width="0.08">77.8</text>
<text x="259.1" y="291.2" font-size="3.4" fill="#444" text-anchor="end" stroke="#444" stroke-width="0.08">6.41</text>
<text x="213.8" y="333.2" font-size="3.4" fill="#444" stroke="#444" stroke-width="0.08">1.54</text>
<text x="259.1" y="333.2" font-size="3.4" fill="#444" text-anchor="end" stroke="#444" stroke-width="0.08">6.13</text>
<text x="217.4" y="341.2" font-size="5" text-anchor="middle" fill="#222" stroke="#222" stroke-width="0.08">0</text>
<text x="226.3" y="341.2" font-size="5" text-anchor="middle" fill="#222" stroke="#222" stroke-width="0.08">10<tspan font-size="3.3" dy="-1.8">3</tspan></text>
<text x="240.8" y="341.2" font-size="5" text-anchor="middle" fill="#222" stroke="#222" stroke-width="0.08">10<tspan font-size="3.3" dy="-1.8">4</tspan></text>
<text x="254.5" y="341.2" font-size="5" text-anchor="middle" fill="#222" stroke="#222" stroke-width="0.08">10<tspan font-size="3.3" dy="-1.8">5</tspan></text>
<rect x="274.5" y="287.5" width="48.0" height="47.0" fill="none" stroke="#4a4a4a" stroke-width="1"/>
<line x1="293.5" y1="287.5" x2="293.5" y2="334.5" stroke="#4a4a4a" stroke-width="1"/>
<line x1="274.5" y1="320.5" x2="322.5" y2="320.5" stroke="#4a4a4a" stroke-width="1"/>
<text x="275.8" y="291.2" font-size="3.4" fill="#444" stroke="#444" stroke-width="0.08">2.66</text>
<text x="321.1" y="291.2" font-size="3.4" fill="#444" text-anchor="end" stroke="#444" stroke-width="0.08">25.4</text>
<text x="275.8" y="333.2" font-size="3.4" fill="#444" stroke="#444" stroke-width="0.08">0.292</text>
<text x="321.1" y="333.2" font-size="3.4" fill="#444" text-anchor="end" stroke="#444" stroke-width="0.08">6.17</text>
<text x="279.4" y="341.2" font-size="5" text-anchor="middle" fill="#222" stroke="#222" stroke-width="0.08">0</text>
<text x="288.3" y="341.2" font-size="5" text-anchor="middle" fill="#222" stroke="#222" stroke-width="0.08">10<tspan font-size="3.3" dy="-1.8">3</tspan></text>
<text x="302.8" y="341.2" font-size="5" text-anchor="middle" fill="#222" stroke="#222" stroke-width="0.08">10<tspan font-size="3.3" dy="-1.8">4</tspan></text>
<text x="316.5" y="341.2" font-size="5" text-anchor="middle" fill="#222" stroke="#222" stroke-width="0.08">10<tspan font-size="3.3" dy="-1.8">5</tspan></text>
<rect x="336.5" y="287.5" width="48.0" height="47.0" fill="none" stroke="#4a4a4a" stroke-width="1"/>
<line x1="355.5" y1="287.5" x2="355.5" y2="334.5" stroke="#4a4a4a" stroke-width="1"/>
<line x1="336.5" y1="320.5" x2="384.5" y2="320.5" stroke="#4a4a4a" stroke-width="1"/>
<text x="337.9" y="291.2" font-size="3.4" fill="#444" stroke="#444" stroke-width="0.08">86.5</text>
<text x="383.2" y="291.2" font-size="3.4" fill="#444" text-anchor="end" stroke="#444" stroke-width="0.08">10.1</text>
<text x="337.9" y="333.2" font-size="3.4" fill="#444" stroke="#444" stroke-width="0.08">0.85</text>
<text x="383.2" y="333.2" font-size="3.4" fill="#444" text-anchor="end" stroke="#444" stroke-width="0.08">2.7</text>
<text x="341.5" y="341.2" font-size="5" text-anchor="middle" fill="#222" stroke="#222" stroke-width="0.08">0</text>
<text x="350.4" y="341.2" font-size="5" text-anchor="middle" fill="#222" stroke="#222" stroke-width="0.08">10<tspan font-size="3.3" dy="-1.8">3</tspan></text>
<text x="364.9" y="341.2" font-size="5" text-anchor="middle" fill="#222" stroke="#222" stroke-width="0.08">10<tspan font-size="3.3" dy="-1.8">4</tspan></text>
<text x="378.6" y="341.2" font-size="5" text-anchor="middle" fill="#222" stroke="#222" stroke-width="0.08">10<tspan font-size="3.3" dy="-1.8">5</tspan></text>
<rect x="398.5" y="287.5" width="48.0" height="47.0" fill="none" stroke="#4a4a4a" stroke-width="1"/>
<line x1="417.5" y1="287.5" x2="417.5" y2="334.5" stroke="#4a4a4a" stroke-width="1"/>
<line x1="398.5" y1="320.5" x2="446.5" y2="320.5" stroke="#4a4a4a" stroke-width="1"/>
<text x="399.9" y="291.2" font-size="3.4" fill="#444" stroke="#444" stroke-width="0.08">46.0</text>
<text x="445.2" y="291.2" font-size="3.4" fill="#444" text-anchor="end" stroke="#444" stroke-width="0.08">45.3</text>
<text x="399.9" y="333.2" font-size="3.4" fill="#444" stroke="#444" stroke-width="0.08">0.400</text>
<text x="445.2" y="333.2" font-size="3.4" fill="#444" text-anchor="end" stroke="#444" stroke-width="0.08">2.30</text>
<text x="403.5" y="341.2" font-size="5" text-anchor="middle" fill="#222" stroke="#222" stroke-width="0.08">0</text>
<text x="412.4" y="341.2" font-size="5" text-anchor="middle" fill="#222" stroke="#222" stroke-width="0.08">10<tspan font-size="3.3" dy="-1.8">3</tspan></text>
<text x="426.9" y="341.2" font-size="5" text-anchor="middle" fill="#222" stroke="#222" stroke-width="0.08">10<tspan font-size="3.3" dy="-1.8">4</tspan></text>
<text x="440.6" y="341.2" font-size="5" text-anchor="middle" fill="#222" stroke="#222" stroke-width="0.08">10<tspan font-size="3.3" dy="-1.8">5</tspan></text>
<rect x="460.5" y="287.5" width="48.0" height="47.0" fill="none" stroke="#4a4a4a" stroke-width="1"/>
<line x1="479.5" y1="287.5" x2="479.5" y2="334.5" stroke="#4a4a4a" stroke-width="1"/>
<line x1="460.5" y1="320.5" x2="508.5" y2="320.5" stroke="#4a4a4a" stroke-width="1"/>
<text x="461.9" y="291.2" font-size="3.4" fill="#444" stroke="#444" stroke-width="0.08">45.6</text>
<text x="507.2" y="291.2" font-size="3.4" fill="#444" text-anchor="end" stroke="#444" stroke-width="0.08">49.4</text>
<text x="461.9" y="333.2" font-size="3.4" fill="#444" stroke="#444" stroke-width="0.08">0.020</text>
<text x="507.2" y="333.2" font-size="3.4" fill="#444" text-anchor="end" stroke="#444" stroke-width="0.08">5.30</text>
<text x="465.5" y="341.2" font-size="5" text-anchor="middle" fill="#222" stroke="#222" stroke-width="0.08">0</text>
<text x="474.4" y="341.2" font-size="5" text-anchor="middle" fill="#222" stroke="#222" stroke-width="0.08">10<tspan font-size="3.3" dy="-1.8">3</tspan></text>
<text x="488.9" y="341.2" font-size="5" text-anchor="middle" fill="#222" stroke="#222" stroke-width="0.08">10<tspan font-size="3.3" dy="-1.8">4</tspan></text>
<text x="502.6" y="341.2" font-size="5" text-anchor="middle" fill="#222" stroke="#222" stroke-width="0.08">10<tspan font-size="3.3" dy="-1.8">5</tspan></text>
<clipPath id="ce0"><rect x="26.7" y="287" width="47.3" height="47"/></clipPath>
<clipPath id="ce1"><rect x="88.7" y="287" width="47.3" height="47"/></clipPath>
<clipPath id="ce2"><rect x="150.8" y="287" width="47.3" height="47"/></clipPath>
<clipPath id="ce3"><rect x="212.8" y="287" width="47.3" height="47"/></clipPath>
<clipPath id="ce4"><rect x="274.8" y="287" width="47.3" height="47"/></clipPath>
<clipPath id="ce5"><rect x="336.9" y="287" width="47.3" height="47"/></clipPath>
<clipPath id="ce6"><rect x="398.9" y="287" width="47.3" height="47"/></clipPath>
<clipPath id="ce7"><rect x="460.9" y="287" width="47.3" height="47"/></clipPath>
<clipPath id="cf0"><rect x="26.5" y="369" width="47.4" height="46.2"/></clipPath>
<clipPath id="cf1"><rect x="88.7" y="369" width="47.4" height="46.2"/></clipPath>
<clipPath id="cf2"><rect x="150.7" y="369" width="47.4" height="46.2"/></clipPath>
<clipPath id="cf3"><rect x="212.7" y="369" width="47.4" height="46.2"/></clipPath>
<clipPath id="cf4"><rect x="274.8" y="369" width="47.4" height="46.2"/></clipPath>
<clipPath id="cf5"><rect x="336.9" y="369" width="47.4" height="46.2"/></clipPath>
<clipPath id="cf6"><rect x="398.9" y="369" width="47.4" height="46.2"/></clipPath>
<clipPath id="cf7"><rect x="461.0" y="369" width="47.4" height="46.2"/></clipPath>
<g clip-path="url(#ce0)">
<path d="M45.3 302.7h0M30.5 297.3h0M33.4 299.0h0M43.9 300.6h0M43.5 302.5h0M34.2 301.7h0M39.6 304.8h0M34.5 294.8h0" stroke="#333" stroke-opacity="0.75" stroke-width="0.78" stroke-linecap="round"/>
<path d="M44.2 299.3C44.4 300.4 45.1 302.0 44.7 302.9C44.3 303.8 42.6 304.2 41.6 304.6C40.6 305.0 39.7 305.3 38.7 305.2C37.7 305.2 36.8 305.0 35.8 304.5C34.9 304.1 33.7 303.5 33.1 302.7C32.5 301.8 32.0 300.3 32.2 299.3C32.4 298.3 33.7 297.6 34.3 296.6C34.9 295.7 34.9 294.4 35.6 293.7C36.4 293.1 37.7 292.7 38.7 292.6C39.7 292.6 41.0 293.0 41.8 293.6C42.6 294.2 43.1 295.4 43.5 296.4C43.9 297.3 44.0 298.2 44.2 299.3Z" fill="none" stroke="#222" stroke-width="0.45" stroke-opacity="0.85"/>
<path d="M43.1 299.3C43.1 300.2 43.4 301.1 43.2 302.0C42.9 302.9 42.3 304.1 41.5 304.4C40.8 304.8 39.6 304.3 38.7 304.2C37.8 304.1 37.0 304.1 36.3 303.7C35.6 303.3 35.0 302.6 34.5 301.9C33.9 301.1 33.0 300.2 33.0 299.3C33.0 298.4 33.9 297.4 34.5 296.7C35.0 296.1 35.8 295.8 36.5 295.3C37.2 294.8 37.9 293.8 38.7 293.6C39.5 293.5 40.6 294.1 41.3 294.6C42.1 295.1 42.9 295.8 43.2 296.6C43.5 297.4 43.1 298.4 43.1 299.3Z" fill="none" stroke="#222" stroke-width="0.45" stroke-opacity="0.85"/>
<path d="M42.7 299.3C42.6 300.0 42.0 300.5 41.8 301.2C41.5 301.8 41.5 303.0 41.0 303.4C40.5 303.9 39.4 303.9 38.7 303.7C38.0 303.6 37.4 303.1 36.8 302.7C36.3 302.3 35.7 301.9 35.3 301.4C34.9 300.8 34.7 300.0 34.6 299.3C34.5 298.6 34.3 297.4 34.7 296.9C35.1 296.4 36.3 296.3 36.9 296.1C37.6 295.8 38.0 295.4 38.7 295.2C39.4 295.1 40.3 295.0 40.9 295.3C41.5 295.6 42.0 296.4 42.3 297.1C42.6 297.8 42.8 298.6 42.7 299.3Z" fill="none" stroke="#222" stroke-width="0.45" stroke-opacity="0.85"/>
<path d="M41.9 299.3C41.8 299.8 41.4 300.3 41.1 300.8C40.8 301.2 40.6 301.6 40.1 301.9C39.7 302.3 39.2 303.0 38.7 303.0C38.2 303.0 37.6 302.4 37.2 302.0C36.8 301.6 36.4 301.3 36.2 300.8C35.9 300.4 35.8 299.8 35.7 299.3C35.7 298.8 35.6 298.0 35.8 297.5C36.0 297.1 36.6 296.5 37.1 296.3C37.6 296.2 38.2 296.6 38.7 296.6C39.2 296.6 39.8 296.2 40.3 296.4C40.8 296.6 41.2 297.1 41.5 297.6C41.8 298.1 42.0 298.8 41.9 299.3Z" fill="none" stroke="#222" stroke-width="0.45" stroke-opacity="0.85"/>
<path d="M42.6 299.3C42.5 300.0 42.4 300.8 42.0 301.3C41.6 301.8 40.8 301.8 40.3 302.2C39.7 302.5 39.3 303.3 38.7 303.4C38.1 303.6 37.1 303.5 36.6 303.1C36.1 302.8 36.0 301.7 35.8 301.1C35.6 300.4 35.2 299.9 35.1 299.3C35.1 298.7 35.3 298.0 35.6 297.4C35.8 296.7 36.0 295.7 36.5 295.4C37.1 295.1 38.1 295.4 38.7 295.6C39.3 295.8 39.7 296.1 40.3 296.4C40.9 296.6 41.9 296.7 42.2 297.2C42.6 297.6 42.6 298.6 42.6 299.3Z" fill="#0c0c0c" fill-opacity="0.05" filter="url(#soft1)"/>
<path d="M59.4 325.9h0M57.4 329.5h0M55.0 333.3h0M56.3 332.8h0M53.8 334.8h0M39.4 321.1h0M42.6 324.9h0M58.2 330.6h0M46.9 319.9h0M44.4 330.2h0M43.0 329.5h0M47.1 337.3h0M50.6 334.6h0M39.9 322.1h0M48.5 313.7h0M48.7 334.0h0M43.7 331.0h0M50.6 321.5h0M58.3 329.3h0M45.7 319.1h0M54.6 323.0h0M46.1 337.3h0M43.8 323.7h0M40.0 330.2h0M39.6 329.0h0M43.2 315.4h0M43.4 318.2h0M58.2 327.0h0M45.0 331.9h0M46.1 319.8h0M55.2 336.0h0M54.9 331.5h0M58.6 336.0h0M50.4 335.4h0M60.7 333.1h0M40.1 330.7h0M56.0 315.0h0M55.6 321.2h0M46.3 332.2h0M57.5 320.8h0M53.8 334.3h0M51.0 333.4h0M45.2 324.1h0M49.5 337.5h0M43.6 334.5h0M45.1 325.0h0M38.8 326.2h0M44.9 322.3h0M55.3 323.7h0M51.6 320.7h0M42.0 334.0h0M41.7 333.7h0M59.7 331.2h0M58.5 331.0h0" stroke="#333" stroke-opacity="0.75" stroke-width="0.78" stroke-linecap="round"/>
<path d="M57.9 327.3C57.7 328.6 57.0 329.7 56.3 330.7C55.6 331.8 54.8 332.7 53.8 333.4C52.8 334.1 51.6 334.7 50.3 334.9C49.0 335.1 47.1 335.2 46.1 334.5C45.2 333.8 45.2 331.7 44.7 330.5C44.2 329.3 43.3 328.5 43.1 327.3C42.9 326.1 42.9 324.5 43.5 323.3C44.0 322.2 45.3 321.2 46.4 320.6C47.6 320.1 49.1 319.9 50.3 320.1C51.5 320.3 52.3 321.2 53.5 321.7C54.7 322.2 56.8 322.2 57.5 323.1C58.3 324.1 58.1 326.0 57.9 327.3Z" fill="none" stroke="#222" stroke-width="0.45" stroke-opacity="0.85"/>
<path d="M57.0 327.3C57.0 328.2 55.8 329.3 55.1 330.1C54.5 330.9 53.9 331.6 53.1 332.1C52.3 332.5 51.3 332.7 50.3 332.8C49.3 333.0 48.0 333.2 47.1 332.8C46.2 332.4 45.3 331.3 45.0 330.3C44.7 329.4 45.4 328.3 45.4 327.3C45.4 326.3 44.7 325.2 45.1 324.3C45.4 323.4 46.4 322.5 47.3 322.0C48.1 321.5 49.4 321.1 50.3 321.2C51.2 321.4 52.1 322.2 52.9 322.8C53.7 323.3 54.4 323.8 55.1 324.5C55.8 325.3 57.0 326.4 57.0 327.3Z" fill="none" stroke="#222" stroke-width="0.45" stroke-opacity="0.85"/>
<path d="M54.7 327.3C54.9 328.0 54.7 329.0 54.3 329.6C53.9 330.2 52.9 330.4 52.2 330.7C51.6 330.9 51.0 331.3 50.3 331.3C49.6 331.4 48.9 331.1 48.2 330.9C47.6 330.6 46.5 330.3 46.2 329.7C45.9 329.1 46.2 328.0 46.4 327.3C46.5 326.6 46.8 326.1 47.0 325.4C47.3 324.8 47.5 323.8 48.0 323.4C48.6 323.0 49.6 322.9 50.3 323.0C51.0 323.0 51.9 323.2 52.4 323.6C53.0 324.0 53.0 324.9 53.4 325.5C53.8 326.1 54.6 326.6 54.7 327.3Z" fill="none" stroke="#222" stroke-width="0.45" stroke-opacity="0.85"/>
<path d="M55.2 327.3C55.3 328.3 56.3 329.8 56.0 330.6C55.7 331.4 54.1 331.9 53.2 332.3C52.2 332.6 51.2 332.5 50.3 332.5C49.4 332.4 48.5 332.3 47.6 331.9C46.8 331.6 45.8 331.0 45.2 330.2C44.6 329.5 43.7 328.2 43.9 327.3C44.1 326.4 45.6 325.8 46.2 325.0C46.9 324.2 46.9 323.1 47.5 322.5C48.2 321.9 49.3 321.3 50.3 321.2C51.3 321.2 52.5 321.6 53.2 322.2C54.0 322.8 54.6 323.8 54.9 324.6C55.3 325.5 55.0 326.3 55.2 327.3Z" fill="#0c0c0c" fill-opacity="0.90" filter="url(#soft1)"/>
<path d="M44.7 329.1h0M46.1 327.5h0M35.5 330.9h0M44.7 328.3h0M43.6 332.7h0M38.9 333.9h0M43.5 331.2h0M43.1 322.7h0M30.8 328.2h0M43.0 329.5h0M38.4 333.2h0M42.0 322.9h0M43.6 326.3h0M34.0 326.7h0M45.9 328.5h0M31.3 326.4h0M35.3 318.8h0" stroke="#333" stroke-opacity="0.75" stroke-width="0.78" stroke-linecap="round"/>
<path d="M44.7 327.5C44.6 328.3 44.1 328.9 43.7 329.8C43.3 330.6 43.2 332.0 42.4 332.5C41.7 332.9 40.0 332.6 39.0 332.5C38.0 332.3 37.0 332.0 36.2 331.5C35.4 331.1 34.6 330.6 34.0 329.9C33.4 329.2 32.8 328.4 32.7 327.5C32.6 326.6 32.7 325.4 33.3 324.8C33.9 324.1 35.5 324.2 36.4 323.8C37.4 323.4 38.0 322.6 39.0 322.5C40.0 322.3 41.3 322.5 42.2 322.9C43.1 323.3 44.0 324.1 44.4 324.9C44.8 325.7 44.8 326.7 44.7 327.5Z" fill="none" stroke="#222" stroke-width="0.45" stroke-opacity="0.85"/>
<path d="M43.9 327.5C43.7 328.1 43.0 328.7 42.6 329.2C42.2 329.8 41.9 330.4 41.3 330.9C40.7 331.3 39.8 332.0 39.0 332.0C38.2 331.9 37.5 331.1 36.8 330.7C36.2 330.2 35.5 329.9 35.1 329.4C34.7 328.9 34.6 328.2 34.5 327.5C34.3 326.8 34.1 325.9 34.5 325.3C34.8 324.7 35.9 324.3 36.6 324.1C37.4 323.9 38.2 324.2 39.0 324.1C39.8 324.1 40.8 323.7 41.5 323.9C42.2 324.1 42.8 324.9 43.2 325.5C43.6 326.1 44.0 326.9 43.9 327.5Z" fill="none" stroke="#222" stroke-width="0.45" stroke-opacity="0.85"/>
<path d="M42.5 327.5C42.5 328.0 42.3 328.6 41.9 328.9C41.6 329.3 41.0 329.3 40.5 329.6C40.0 329.9 39.5 330.5 39.0 330.6C38.5 330.7 37.6 330.4 37.2 330.1C36.7 329.8 36.5 329.2 36.3 328.8C36.1 328.4 35.7 328.0 35.7 327.5C35.7 327.0 35.8 326.5 36.0 326.1C36.3 325.6 36.6 324.9 37.1 324.7C37.6 324.5 38.4 324.9 39.0 325.0C39.6 325.0 40.1 325.0 40.6 325.2C41.1 325.4 41.9 325.6 42.2 326.0C42.5 326.3 42.5 327.0 42.5 327.5Z" fill="none" stroke="#222" stroke-width="0.45" stroke-opacity="0.85"/>
<path d="M43.0 327.5C43.0 328.0 42.7 328.7 42.4 329.1C42.0 329.5 41.3 329.8 40.7 330.0C40.2 330.2 39.7 330.2 39.0 330.3C38.3 330.4 37.3 330.9 36.8 330.7C36.3 330.5 36.1 329.5 35.9 329.0C35.7 328.5 35.6 328.0 35.6 327.5C35.6 327.0 35.7 326.5 35.9 326.0C36.1 325.5 36.5 324.9 37.0 324.6C37.5 324.3 38.4 324.0 39.0 324.1C39.6 324.2 40.0 325.0 40.5 325.3C41.1 325.6 41.9 325.5 42.3 325.9C42.7 326.3 43.0 327.0 43.0 327.5Z" fill="#0c0c0c" fill-opacity="0.14" filter="url(#soft1)"/>
<ellipse cx="50.6" cy="298" rx="1.6" ry="1" fill="none" stroke="#333" stroke-width="0.5"/>
<ellipse cx="50.6" cy="315" rx="1.2" ry="2" fill="none" stroke="#333" stroke-width="0.5"/>
</g>
<g clip-path="url(#ce1)">
<path d="M94.1 308.0h0M87.3 299.8h0M104.3 288.1h0M105.1 294.2h0M113.5 301.1h0M107.5 291.0h0M99.9 288.1h0M95.0 308.0h0M116.9 304.3h0M100.2 312.7h0M97.6 295.0h0M115.1 297.4h0M111.5 301.4h0M103.7 313.1h0M102.5 310.0h0M93.9 296.5h0M111.3 296.2h0M93.8 294.0h0M105.5 291.0h0M115.0 295.0h0M103.7 291.8h0M104.7 308.1h0M104.9 290.0h0M115.0 300.0h0M86.3 310.8h0M97.7 285.7h0M109.4 314.0h0M110.2 297.1h0M104.9 293.8h0M116.7 300.5h0M91.1 290.2h0M110.1 309.6h0M116.0 303.1h0M83.6 299.7h0M110.4 298.7h0M110.4 287.9h0M104.3 312.5h0M101.5 308.8h0M89.1 296.4h0M107.1 307.2h0M113.8 295.6h0M89.9 297.0h0M112.7 295.7h0M80.0 301.8h0M85.9 299.6h0M91.8 304.8h0M104.6 308.3h0M110.4 315.8h0M92.2 303.2h0M96.5 308.9h0M84.5 300.5h0M116.0 311.2h0M89.5 298.4h0M102.2 295.3h0M87.3 301.5h0M116.8 294.4h0M89.1 305.5h0M86.7 301.1h0M96.2 292.1h0M85.1 303.7h0M111.2 298.9h0M112.9 298.5h0M99.7 318.3h0M113.2 287.0h0M110.2 310.4h0M113.2 306.7h0M101.8 312.4h0M104.6 289.0h0M111.2 296.0h0M93.4 292.5h0M111.5 312.4h0M105.0 318.1h0M119.9 297.5h0M115.5 301.3h0M107.4 293.2h0M88.9 301.1h0M93.4 311.5h0M99.2 293.9h0M114.7 303.3h0M116.0 303.3h0M95.7 309.4h0M113.9 306.3h0M114.9 301.0h0M111.0 308.1h0M98.6 321.5h0M98.5 317.0h0M108.8 308.4h0M109.8 287.1h0M100.2 313.8h0M85.6 296.3h0M94.8 287.0h0M97.0 294.4h0M92.3 305.5h0M86.4 289.1h0M105.8 290.7h0M118.7 308.2h0M110.7 293.2h0" stroke="#333" stroke-opacity="0.75" stroke-width="0.78" stroke-linecap="round"/>
<path d="M112.9 302.0C113.4 303.5 113.2 305.8 112.1 307.0C111.0 308.2 108.2 308.6 106.3 309.2C104.5 309.8 102.8 310.6 101.0 310.7C99.2 310.7 97.3 310.2 95.4 309.6C93.5 309.0 90.6 308.4 89.7 307.1C88.8 305.8 89.5 303.5 89.9 302.0C90.4 300.5 91.4 299.4 92.2 298.0C93.0 296.6 93.4 294.5 94.8 293.6C96.3 292.7 99.0 292.6 101.0 292.7C103.0 292.7 105.5 293.1 106.9 294.0C108.3 294.9 108.6 296.8 109.6 298.1C110.6 299.4 112.5 300.5 112.9 302.0Z" fill="none" stroke="#222" stroke-width="0.45" stroke-opacity="0.85"/>
<path d="M109.7 302.0C110.0 303.4 111.4 305.2 110.8 306.4C110.2 307.6 107.8 308.5 106.2 309.0C104.5 309.5 102.7 309.3 101.0 309.3C99.3 309.2 97.7 309.1 96.2 308.5C94.7 308.0 93.2 307.1 92.1 306.0C91.0 304.9 89.5 303.2 89.7 302.0C90.0 300.8 92.4 299.7 93.4 298.6C94.5 297.5 94.9 296.3 96.2 295.4C97.4 294.6 99.3 293.7 101.0 293.6C102.7 293.5 104.8 294.2 106.2 295.0C107.6 295.7 108.9 297.0 109.5 298.2C110.0 299.4 109.5 300.6 109.7 302.0Z" fill="none" stroke="#222" stroke-width="0.45" stroke-opacity="0.85"/>
<path d="M108.7 302.0C108.6 303.1 108.5 304.1 108.0 305.2C107.5 306.3 107.1 308.1 105.9 308.7C104.7 309.2 102.5 308.6 101.0 308.4C99.5 308.2 98.1 308.0 97.0 307.5C95.8 307.0 94.8 306.1 93.9 305.2C93.0 304.3 91.8 303.1 91.7 302.0C91.6 300.9 92.3 299.3 93.3 298.5C94.2 297.7 96.1 297.7 97.4 297.1C98.7 296.5 99.7 295.2 101.0 295.0C102.3 294.8 104.2 295.4 105.5 295.9C106.7 296.5 108.1 297.5 108.7 298.5C109.2 299.5 108.8 300.9 108.7 302.0Z" fill="none" stroke="#222" stroke-width="0.45" stroke-opacity="0.85"/>
<path d="M108.1 302.0C108.0 302.9 106.8 303.5 106.3 304.4C105.7 305.2 105.6 306.4 104.7 307.0C103.8 307.7 102.2 308.2 101.0 308.1C99.8 308.0 98.8 306.9 97.8 306.4C96.8 305.8 95.7 305.4 95.1 304.7C94.5 303.9 94.3 303.0 94.1 302.0C93.9 301.0 93.5 299.6 94.1 298.9C94.7 298.1 96.6 297.8 97.7 297.5C98.8 297.2 99.8 297.2 101.0 297.1C102.2 297.0 103.7 296.5 104.8 296.9C105.8 297.2 106.7 298.3 107.3 299.2C107.8 300.0 108.3 301.1 108.1 302.0Z" fill="none" stroke="#222" stroke-width="0.45" stroke-opacity="0.85"/>
<path d="M106.7 302.0C106.6 302.7 106.1 303.5 105.6 304.1C105.1 304.6 104.2 304.8 103.4 305.3C102.7 305.8 101.9 306.8 101.0 306.9C100.1 307.0 98.9 306.3 98.2 305.8C97.5 305.3 97.0 304.6 96.6 304.0C96.1 303.4 95.8 302.7 95.7 302.0C95.6 301.3 95.7 300.5 96.0 299.8C96.4 299.1 97.1 298.1 97.9 297.8C98.8 297.6 100.0 298.2 101.0 298.3C102.0 298.4 102.9 298.1 103.7 298.3C104.6 298.6 105.6 299.1 106.1 299.7C106.6 300.3 106.8 301.3 106.7 302.0Z" fill="none" stroke="#222" stroke-width="0.45" stroke-opacity="0.85"/>
<path d="M109.5 302.0C109.5 303.1 109.1 304.5 108.2 305.3C107.4 306.1 105.7 306.3 104.5 306.8C103.3 307.3 102.4 307.8 101.0 308.1C99.6 308.4 97.3 309.0 96.2 308.4C95.2 307.9 95.0 306.0 94.5 304.9C94.1 303.9 93.4 303.0 93.4 302.0C93.4 301.0 93.8 300.0 94.3 299.0C94.8 298.0 95.4 296.5 96.5 295.9C97.6 295.3 99.7 295.2 101.0 295.5C102.3 295.8 103.1 297.0 104.3 297.5C105.5 298.1 107.6 297.9 108.5 298.6C109.3 299.4 109.5 300.9 109.5 302.0Z" fill="#0c0c0c" fill-opacity="0.79" filter="url(#soft1)"/>
<path d="M114.0 324.4h0M109.4 330.3h0M110.4 329.9h0M113.8 328.5h0M111.0 328.6h0M108.6 328.7h0M108.9 329.3h0M103.5 326.0h0M113.9 326.4h0" stroke="#333" stroke-opacity="0.75" stroke-width="0.78" stroke-linecap="round"/>
<path d="M113.6 326.0C113.7 326.6 114.2 327.4 114.0 327.8C113.7 328.3 112.7 328.6 112.0 328.8C111.4 329.0 110.7 329.0 110.0 329.0C109.3 329.0 108.7 328.9 108.1 328.7C107.5 328.4 106.8 328.1 106.4 327.7C106.0 327.2 105.5 326.5 105.6 326.0C105.7 325.5 106.6 325.1 107.0 324.6C107.4 324.2 107.5 323.6 108.0 323.3C108.5 322.9 109.3 322.6 110.0 322.6C110.7 322.6 111.5 322.8 112.1 323.1C112.6 323.4 113.1 324.0 113.3 324.5C113.6 325.0 113.5 325.4 113.6 326.0Z" fill="none" stroke="#222" stroke-width="0.45" stroke-opacity="0.85"/>
<path d="M112.8 326.0C112.8 326.4 112.8 326.8 112.7 327.2C112.5 327.6 112.2 328.3 111.8 328.5C111.4 328.7 110.5 328.4 110.0 328.4C109.5 328.3 108.9 328.3 108.5 328.1C108.1 327.9 107.7 327.6 107.4 327.2C107.1 326.9 106.5 326.4 106.5 326.0C106.5 325.6 106.9 325.0 107.2 324.7C107.6 324.4 108.2 324.4 108.7 324.1C109.1 323.9 109.5 323.4 110.0 323.3C110.5 323.3 111.2 323.5 111.6 323.7C112.1 324.0 112.6 324.3 112.8 324.7C113.0 325.1 112.8 325.6 112.8 326.0Z" fill="none" stroke="#222" stroke-width="0.45" stroke-opacity="0.85"/>
<path d="M112.3 326.0C112.2 326.3 111.9 326.5 111.7 326.8C111.5 327.1 111.5 327.5 111.2 327.7C110.9 327.9 110.4 328.0 110.0 328.0C109.6 327.9 109.3 327.6 109.0 327.4C108.6 327.3 108.3 327.1 108.1 326.9C107.9 326.6 107.8 326.3 107.7 326.0C107.7 325.7 107.6 325.2 107.8 325.0C108.0 324.7 108.6 324.7 109.0 324.6C109.3 324.5 109.6 324.4 110.0 324.3C110.4 324.3 110.9 324.2 111.2 324.3C111.6 324.4 111.9 324.8 112.0 325.1C112.2 325.3 112.3 325.7 112.3 326.0Z" fill="none" stroke="#222" stroke-width="0.45" stroke-opacity="0.85"/>
<path d="M112.6 326.0C112.5 326.3 112.2 326.7 112.0 326.9C111.8 327.2 111.4 327.3 111.1 327.5C110.8 327.8 110.4 328.3 110.0 328.3C109.6 328.4 109.1 327.9 108.8 327.7C108.4 327.5 108.2 327.2 108.0 326.9C107.8 326.6 107.7 326.3 107.6 326.0C107.6 325.7 107.5 325.3 107.7 324.9C107.9 324.6 108.2 324.2 108.6 324.1C109.0 324.0 109.6 324.3 110.0 324.4C110.4 324.4 110.9 324.2 111.3 324.3C111.6 324.4 112.1 324.6 112.3 324.9C112.5 325.2 112.6 325.7 112.6 326.0Z" fill="#0c0c0c" fill-opacity="0.45" filter="url(#soft1)"/>
<path d="M105.4 326.3h0M101.4 328.3h0M93.6 326.7h0M101.9 323.3h0M96.5 327.1h0M93.7 329.3h0M96.5 325.9h0" stroke="#333" stroke-opacity="0.75" stroke-width="0.78" stroke-linecap="round"/>
<path d="M104.6 326.0C104.5 326.5 103.8 326.8 103.4 327.3C103.0 327.8 102.9 328.4 102.4 328.7C101.8 329.1 100.7 329.4 100.0 329.3C99.3 329.3 98.6 328.7 97.9 328.4C97.3 328.1 96.6 327.8 96.2 327.4C95.8 327.0 95.7 326.5 95.6 326.0C95.5 325.5 95.2 324.7 95.6 324.3C96.0 323.9 97.1 323.7 97.9 323.5C98.6 323.4 99.2 323.4 100.0 323.3C100.8 323.3 101.8 323.0 102.4 323.2C103.1 323.4 103.7 324.0 104.0 324.4C104.4 324.9 104.7 325.5 104.6 326.0Z" fill="none" stroke="#222" stroke-width="0.45" stroke-opacity="0.85"/>
<path d="M103.1 326.0C103.1 326.3 102.9 326.7 102.6 327.0C102.3 327.2 101.8 327.3 101.3 327.5C100.9 327.8 100.5 328.3 100.0 328.3C99.5 328.3 98.8 328.0 98.4 327.8C98.0 327.6 97.8 327.2 97.6 326.9C97.3 326.6 97.1 326.3 97.1 326.0C97.0 325.7 97.1 325.3 97.3 325.0C97.5 324.6 97.8 324.2 98.3 324.0C98.8 323.9 99.5 324.2 100.0 324.2C100.5 324.3 101.0 324.2 101.5 324.3C102.0 324.4 102.6 324.6 102.8 324.9C103.1 325.2 103.2 325.7 103.1 326.0Z" fill="none" stroke="#222" stroke-width="0.45" stroke-opacity="0.85"/>
<path d="M103.0 326.0C102.9 326.3 102.8 326.7 102.5 327.0C102.2 327.2 101.7 327.3 101.2 327.4C100.8 327.6 100.5 327.7 100.0 327.8C99.5 327.9 98.7 328.1 98.3 327.9C98.0 327.8 97.9 327.2 97.7 326.9C97.6 326.6 97.4 326.3 97.4 326.0C97.4 325.7 97.5 325.4 97.7 325.1C97.9 324.8 98.1 324.4 98.4 324.2C98.8 324.0 99.6 324.0 100.0 324.1C100.4 324.1 100.7 324.5 101.1 324.7C101.6 324.8 102.3 324.8 102.6 325.0C102.9 325.2 103.0 325.7 103.0 326.0Z" fill="#0c0c0c" fill-opacity="0.14" filter="url(#soft1)"/>
<path d="M110.6 317.7h0M100.3 315.0h0M111.2 311.4h0M102.1 306.3h0M91.6 302.3h0M92.1 313.3h0M97.7 302.9h0M92.5 315.1h0M116.1 312.1h0M98.5 304.4h0M98.8 308.3h0M94.7 308.0h0M97.9 317.3h0M119.2 309.8h0M97.3 317.4h0M99.3 306.4h0M90.0 306.9h0M104.2 309.0h0M96.0 309.1h0M90.1 304.8h0M92.7 307.2h0M91.3 300.4h0M99.1 304.2h0M107.6 309.5h0M112.5 311.8h0M111.5 315.8h0M101.7 305.9h0M119.5 302.7h0M111.7 311.6h0M91.3 315.0h0" stroke="#333" stroke-opacity="0.60" stroke-width="0.78" stroke-linecap="round"/>
</g>
<g clip-path="url(#ce2)">
<path d="M165.4 293.7h0M168.6 313.6h0M167.0 294.3h0M163.4 297.7h0M168.2 298.7h0M156.1 293.7h0M168.4 306.0h0M167.4 311.6h0M165.0 297.8h0M153.5 301.6h0M156.4 294.6h0M149.9 305.2h0M160.8 289.8h0M154.5 304.4h0M173.0 309.8h0M160.3 296.6h0M160.4 310.9h0M159.9 296.4h0M169.4 303.2h0M147.3 305.0h0M156.8 295.1h0M162.1 294.6h0M171.0 309.8h0M167.5 313.2h0M158.8 310.7h0M148.2 298.7h0M160.1 312.5h0M157.9 298.8h0M158.7 313.1h0M148.1 303.2h0M169.4 312.3h0M166.9 299.8h0M170.6 300.4h0M179.5 306.5h0M175.5 301.6h0M152.8 307.2h0M167.4 302.2h0M163.3 313.8h0M152.5 303.2h0M168.3 302.3h0M148.8 303.8h0M170.7 296.2h0M166.9 300.1h0M151.4 305.3h0M154.2 304.9h0M154.9 306.5h0M157.0 310.5h0M157.4 312.6h0M161.0 298.0h0M164.5 298.9h0M157.7 290.7h0M172.2 296.6h0M155.1 309.2h0M171.7 304.4h0M151.9 308.9h0M159.6 313.1h0M165.3 297.2h0M159.4 311.3h0M160.0 314.1h0M153.2 304.0h0M168.7 302.3h0M168.9 297.5h0M168.6 299.9h0M172.6 300.0h0M173.8 308.6h0M160.0 295.9h0M152.5 293.6h0" stroke="#333" stroke-opacity="0.75" stroke-width="0.78" stroke-linecap="round"/>
<path d="M169.1 304.5C168.8 306.0 168.7 307.4 168.0 308.6C167.4 309.7 166.2 310.6 165.1 311.5C163.9 312.4 162.4 313.9 161.0 313.9C159.6 314.0 157.7 313.0 156.6 312.1C155.6 311.1 155.5 309.4 154.7 308.1C153.9 306.9 152.3 305.8 152.1 304.5C151.8 303.2 152.6 301.4 153.3 300.1C154.1 298.8 155.3 297.3 156.6 296.8C157.8 296.3 159.6 296.9 161.0 296.9C162.4 297.0 163.7 296.9 165.1 297.3C166.5 297.8 168.8 298.4 169.4 299.6C170.1 300.8 169.3 303.0 169.1 304.5Z" fill="none" stroke="#222" stroke-width="0.45" stroke-opacity="0.85"/>
<path d="M168.7 304.5C168.6 305.7 167.4 306.8 166.7 307.8C166.0 308.8 165.4 309.8 164.4 310.4C163.5 311.1 162.2 311.3 161.0 311.5C159.8 311.7 157.9 312.2 156.9 311.5C156.0 310.9 155.7 308.9 155.3 307.8C154.9 306.6 154.6 305.7 154.5 304.5C154.3 303.3 153.9 301.7 154.4 300.7C154.8 299.6 156.2 298.7 157.3 298.1C158.4 297.5 159.9 297.1 161.0 297.3C162.1 297.5 162.9 298.6 164.1 299.2C165.2 299.8 166.9 299.8 167.7 300.7C168.4 301.5 168.9 303.3 168.7 304.5Z" fill="none" stroke="#222" stroke-width="0.45" stroke-opacity="0.85"/>
<path d="M167.6 304.5C167.7 305.4 166.6 306.6 166.0 307.4C165.3 308.1 164.5 308.7 163.7 309.2C162.9 309.6 162.0 309.9 161.0 310.0C160.0 310.1 158.9 310.1 158.0 309.7C157.1 309.4 155.8 308.5 155.5 307.7C155.2 306.8 156.0 305.5 156.1 304.5C156.2 303.5 155.7 302.5 156.0 301.6C156.3 300.7 157.1 299.7 158.0 299.2C158.8 298.7 160.0 298.4 161.0 298.5C162.0 298.6 163.0 299.2 163.7 299.8C164.5 300.4 164.8 301.1 165.5 301.9C166.1 302.7 167.5 303.6 167.6 304.5Z" fill="none" stroke="#222" stroke-width="0.45" stroke-opacity="0.85"/>
<path d="M165.3 304.5C165.5 305.2 165.7 306.4 165.3 307.0C164.9 307.6 163.8 307.7 163.0 308.0C162.3 308.3 161.7 308.7 161.0 308.7C160.3 308.7 159.6 308.4 158.9 308.1C158.2 307.8 157.2 307.5 156.8 306.9C156.4 306.3 156.5 305.2 156.6 304.5C156.8 303.8 157.4 303.3 157.8 302.6C158.1 302.0 158.1 300.9 158.7 300.5C159.2 300.0 160.2 299.9 161.0 300.0C161.8 300.0 162.7 300.1 163.3 300.6C163.8 301.0 164.0 301.9 164.3 302.6C164.7 303.2 165.2 303.8 165.3 304.5Z" fill="none" stroke="#222" stroke-width="0.45" stroke-opacity="0.85"/>
<path d="M165.5 304.5C165.6 305.5 166.5 306.7 166.3 307.5C166.0 308.4 164.8 309.3 163.9 309.6C163.1 309.9 161.9 309.5 161.0 309.4C160.1 309.3 159.2 309.4 158.4 309.0C157.6 308.6 156.9 308.0 156.3 307.2C155.7 306.5 154.6 305.4 154.7 304.5C154.8 303.6 156.2 302.8 156.8 302.1C157.5 301.4 157.8 300.8 158.5 300.2C159.2 299.6 160.1 298.6 161.0 298.5C161.9 298.4 163.1 299.1 163.8 299.6C164.6 300.1 165.4 301.0 165.7 301.8C166.0 302.6 165.5 303.5 165.5 304.5Z" fill="#0c0c0c" fill-opacity="0.79" filter="url(#soft1)"/>
<path d="M179.9 307.2h0M170.0 306.2h0M172.6 310.1h0M180.0 303.9h0M174.5 316.3h0M170.3 302.5h0M170.5 309.9h0M176.2 311.2h0M179.3 301.0h0M179.7 300.6h0M178.8 304.9h0M176.8 311.8h0M178.5 308.2h0M175.3 311.2h0M174.8 311.7h0M175.0 292.5h0M169.7 309.5h0M170.3 311.5h0" stroke="#333" stroke-opacity="0.75" stroke-width="0.78" stroke-linecap="round"/>
<path d="M179.5 305.0C179.4 306.2 179.5 307.3 179.2 308.4C179.0 309.6 178.6 311.4 177.9 311.9C177.2 312.5 175.9 311.8 175.0 311.6C174.1 311.4 173.3 311.3 172.6 310.8C171.9 310.3 171.4 309.3 170.8 308.4C170.3 307.4 169.5 306.2 169.5 305.0C169.4 303.8 170.0 302.3 170.6 301.4C171.2 300.6 172.1 300.5 172.9 299.8C173.6 299.2 174.2 297.8 175.0 297.6C175.8 297.4 176.9 298.0 177.6 298.7C178.4 299.3 179.2 300.3 179.5 301.4C179.8 302.4 179.5 303.8 179.5 305.0Z" fill="none" stroke="#222" stroke-width="0.45" stroke-opacity="0.85"/>
<path d="M178.9 305.0C178.8 305.9 178.2 306.5 177.9 307.4C177.6 308.2 177.6 309.6 177.1 310.2C176.6 310.8 175.7 311.1 175.0 310.9C174.3 310.8 173.7 309.9 173.2 309.4C172.7 308.8 172.1 308.4 171.7 307.7C171.4 306.9 171.2 306.0 171.1 305.0C171.0 304.0 170.8 302.6 171.1 301.9C171.5 301.2 172.6 301.0 173.2 300.7C173.9 300.3 174.3 300.1 175.0 300.0C175.7 299.8 176.5 299.5 177.1 299.9C177.7 300.2 178.2 301.3 178.5 302.2C178.8 303.0 179.0 304.1 178.9 305.0Z" fill="none" stroke="#222" stroke-width="0.45" stroke-opacity="0.85"/>
<path d="M177.9 305.0C177.9 305.7 177.6 306.4 177.3 306.9C177.0 307.4 176.7 307.7 176.3 308.1C175.9 308.6 175.4 309.5 175.0 309.6C174.6 309.6 174.0 308.9 173.6 308.4C173.2 308.0 172.9 307.4 172.7 306.9C172.5 306.3 172.3 305.7 172.3 305.0C172.2 304.3 172.2 303.5 172.4 302.9C172.6 302.3 173.0 301.4 173.4 301.2C173.9 301.0 174.5 301.6 175.0 301.6C175.5 301.7 176.0 301.3 176.4 301.5C176.9 301.7 177.4 302.3 177.6 302.9C177.9 303.5 178.0 304.3 177.9 305.0Z" fill="none" stroke="#222" stroke-width="0.45" stroke-opacity="0.85"/>
<path d="M178.3 305.0C178.2 305.8 178.1 306.7 177.8 307.2C177.5 307.8 176.8 307.9 176.3 308.2C175.9 308.6 175.5 309.2 175.0 309.3C174.5 309.5 173.6 309.8 173.2 309.4C172.8 309.0 172.7 307.7 172.5 307.0C172.4 306.3 172.1 305.7 172.1 305.0C172.0 304.3 172.2 303.6 172.4 302.9C172.6 302.2 172.8 301.1 173.2 300.7C173.7 300.3 174.5 300.5 175.0 300.7C175.5 300.9 175.8 301.5 176.3 301.9C176.8 302.2 177.6 302.1 177.9 302.6C178.2 303.2 178.3 304.2 178.3 305.0Z" fill="#0c0c0c" fill-opacity="0.05" filter="url(#soft1)"/>
<path d="M185.1 327.9h0M182.6 329.2h0M159.6 325.8h0M179.6 332.6h0M175.4 332.9h0M171.3 327.1h0M187.0 324.3h0M188.1 326.9h0M190.0 327.5h0M168.8 326.8h0M164.1 321.6h0M186.3 323.4h0M179.7 323.0h0M177.1 333.5h0M188.8 331.4h0M173.3 321.4h0M186.7 323.9h0M177.7 322.0h0M165.2 327.8h0M178.4 322.0h0M177.7 329.6h0M173.2 332.1h0M183.3 329.7h0M175.1 322.8h0M186.3 330.5h0M167.6 323.0h0M170.7 329.0h0M184.0 326.3h0M173.2 332.3h0M166.7 318.6h0M183.5 322.7h0M177.2 331.2h0M183.3 325.1h0M184.0 326.5h0" stroke="#333" stroke-opacity="0.75" stroke-width="0.78" stroke-linecap="round"/>
<path d="M183.9 326.0C184.0 326.8 184.6 327.6 184.2 328.3C183.8 329.1 182.7 330.0 181.5 330.3C180.3 330.6 178.4 330.3 177.0 330.2C175.6 330.1 174.3 330.1 173.1 329.8C172.0 329.4 171.1 328.8 170.2 328.2C169.4 327.6 167.9 326.7 167.9 326.0C168.0 325.3 169.4 324.4 170.4 323.8C171.3 323.3 172.4 323.0 173.5 322.6C174.6 322.1 175.7 321.3 177.0 321.2C178.3 321.1 180.0 321.5 181.1 322.0C182.3 322.4 183.6 323.0 184.1 323.7C184.6 324.4 183.9 325.2 183.9 326.0Z" fill="none" stroke="#222" stroke-width="0.45" stroke-opacity="0.85"/>
<path d="M183.1 326.0C183.0 326.6 182.2 327.0 181.8 327.5C181.3 328.1 181.3 329.1 180.5 329.5C179.7 329.8 178.1 329.7 177.0 329.6C175.9 329.5 175.0 329.1 174.1 328.8C173.2 328.5 172.4 328.2 171.8 327.7C171.2 327.2 170.7 326.6 170.6 326.0C170.4 325.4 170.3 324.5 170.9 324.0C171.5 323.6 173.3 323.6 174.3 323.3C175.3 323.1 176.0 322.7 177.0 322.6C178.0 322.5 179.4 322.5 180.4 322.7C181.3 323.0 182.2 323.6 182.6 324.2C183.1 324.7 183.2 325.4 183.1 326.0Z" fill="none" stroke="#222" stroke-width="0.45" stroke-opacity="0.85"/>
<path d="M181.7 326.0C181.6 326.4 181.0 326.8 180.6 327.2C180.1 327.5 179.8 327.8 179.2 328.1C178.6 328.4 177.7 328.9 177.0 328.9C176.3 328.9 175.5 328.4 174.8 328.1C174.2 327.8 173.6 327.6 173.3 327.2C172.9 326.9 172.7 326.4 172.6 326.0C172.5 325.6 172.4 325.0 172.7 324.6C173.0 324.2 173.9 323.8 174.6 323.7C175.3 323.6 176.2 323.8 177.0 323.8C177.8 323.8 178.7 323.5 179.4 323.7C180.1 323.8 180.7 324.3 181.1 324.7C181.5 325.0 181.8 325.6 181.7 326.0Z" fill="none" stroke="#222" stroke-width="0.45" stroke-opacity="0.85"/>
<path d="M182.2 326.0C182.1 326.5 181.9 327.1 181.4 327.4C180.9 327.8 179.8 327.8 179.1 328.0C178.4 328.3 177.8 328.9 177.0 329.0C176.2 329.1 174.9 329.0 174.2 328.7C173.6 328.4 173.5 327.7 173.1 327.3C172.8 326.8 172.3 326.4 172.2 326.0C172.2 325.6 172.5 325.1 172.8 324.6C173.1 324.2 173.4 323.4 174.1 323.2C174.8 323.0 176.2 323.3 177.0 323.4C177.8 323.5 178.4 323.7 179.2 323.9C180.0 324.1 181.2 324.1 181.7 324.5C182.2 324.8 182.2 325.5 182.2 326.0Z" fill="#0c0c0c" fill-opacity="0.81" filter="url(#soft1)"/>
<path d="M161.2 321.7h0M161.1 322.1h0M171.0 324.3h0M162.2 328.6h0M159.5 327.7h0M166.8 322.6h0M164.5 321.7h0M172.7 325.2h0M163.0 328.8h0M166.1 329.6h0M165.5 321.6h0M157.1 326.1h0M170.5 333.6h0M162.0 323.1h0M173.7 324.3h0M166.7 330.2h0" stroke="#333" stroke-opacity="0.75" stroke-width="0.78" stroke-linecap="round"/>
<path d="M171.1 326.0C171.1 326.7 171.6 327.4 171.3 328.1C170.9 328.7 170.0 329.6 168.9 329.9C167.9 330.2 166.2 329.8 165.0 329.7C163.8 329.6 162.6 329.6 161.6 329.3C160.6 329.0 159.9 328.5 159.1 327.9C158.3 327.4 157.1 326.6 157.1 326.0C157.1 325.4 158.3 324.6 159.1 324.1C159.9 323.6 160.9 323.3 161.9 323.0C162.9 322.6 163.9 321.8 165.0 321.7C166.1 321.6 167.6 322.0 168.6 322.4C169.7 322.8 170.8 323.3 171.2 323.9C171.6 324.5 171.1 325.3 171.1 326.0Z" fill="none" stroke="#222" stroke-width="0.45" stroke-opacity="0.85"/>
<path d="M169.6 326.0C169.5 326.4 168.9 326.7 168.6 327.2C168.2 327.6 168.3 328.4 167.7 328.6C167.1 328.9 165.8 328.9 165.0 328.8C164.2 328.7 163.5 328.4 162.8 328.2C162.2 327.9 161.5 327.7 161.1 327.3C160.6 326.9 160.3 326.5 160.2 326.0C160.1 325.5 159.9 324.8 160.4 324.5C160.9 324.1 162.2 324.1 162.9 324.0C163.7 323.8 164.2 323.5 165.0 323.4C165.8 323.3 166.8 323.3 167.5 323.5C168.2 323.7 168.9 324.2 169.2 324.6C169.6 325.0 169.7 325.6 169.6 326.0Z" fill="none" stroke="#222" stroke-width="0.45" stroke-opacity="0.85"/>
<path d="M169.5 326.0C169.4 326.4 168.8 326.8 168.4 327.1C167.9 327.4 167.6 327.7 167.0 328.0C166.5 328.3 165.7 328.9 165.0 328.9C164.3 328.9 163.5 328.3 162.9 328.0C162.4 327.7 161.8 327.5 161.5 327.2C161.1 326.8 161.0 326.4 160.9 326.0C160.7 325.6 160.5 325.0 160.8 324.6C161.1 324.2 162.0 323.8 162.7 323.7C163.4 323.6 164.2 324.0 165.0 324.0C165.8 324.0 166.6 323.6 167.3 323.7C168.0 323.9 168.6 324.3 169.0 324.7C169.4 325.1 169.6 325.6 169.5 326.0Z" fill="#0c0c0c" fill-opacity="0.14" filter="url(#soft1)"/>
<path d="M185.1 301.1h0M153.8 299.3h0M165.4 317.8h0M182.0 314.1h0M185.9 318.5h0M163.2 302.1h0M183.8 314.4h0M153.1 312.6h0M164.9 306.2h0M163.3 301.7h0M152.1 304.2h0M163.9 319.0h0M156.2 319.2h0M159.1 305.8h0M179.9 316.1h0M166.7 299.1h0M168.1 306.2h0M183.3 302.2h0M164.4 317.7h0M153.0 307.0h0M179.6 314.9h0M153.4 298.8h0M154.1 318.2h0M160.7 314.4h0M182.6 305.5h0M161.3 319.1h0M173.0 303.8h0M176.4 305.0h0M161.4 298.1h0M177.7 318.2h0" stroke="#333" stroke-opacity="0.60" stroke-width="0.78" stroke-linecap="round"/>
</g>
<g clip-path="url(#ce3)">
<path d="M233.5 300.8h0M213.3 306.1h0M230.5 302.5h0M223.4 315.9h0M216.1 308.0h0M230.9 321.0h0M225.8 297.7h0M224.6 297.2h0M211.0 294.6h0M217.8 311.2h0M225.6 294.1h0M223.7 294.9h0M223.6 312.8h0M216.0 301.9h0M220.2 311.0h0M240.4 303.2h0M222.8 312.5h0M214.8 304.6h0M221.5 296.9h0M214.7 309.6h0M217.7 299.1h0M229.5 295.9h0M216.3 292.4h0M219.8 317.6h0M211.4 299.1h0M227.4 316.3h0M223.7 317.1h0M228.6 300.0h0M215.0 300.0h0M232.5 304.1h0M212.4 304.0h0M219.0 298.1h0M239.2 303.6h0M228.2 294.3h0M229.0 296.0h0M221.3 312.2h0M229.0 309.6h0M213.4 298.7h0M240.8 296.4h0M210.5 308.8h0M222.6 318.4h0M230.4 309.9h0M208.3 294.0h0M217.2 311.3h0M229.3 311.6h0M217.1 299.9h0M217.5 296.0h0M220.3 310.7h0M220.2 297.8h0M225.9 312.6h0M226.5 294.2h0M230.3 309.5h0M217.7 309.0h0M234.8 311.8h0M228.1 312.2h0M221.7 312.8h0M219.4 315.3h0M213.6 300.1h0M218.5 310.7h0M238.8 304.2h0M215.8 313.3h0M226.2 313.5h0M237.8 305.0h0M228.2 294.6h0M215.4 309.9h0M229.2 313.7h0M233.9 305.5h0M234.9 297.3h0M231.1 309.3h0M213.3 304.2h0M229.6 312.5h0M230.6 300.9h0M233.3 312.5h0M238.8 301.3h0M225.9 311.4h0M238.4 302.2h0" stroke="#333" stroke-opacity="0.75" stroke-width="0.78" stroke-linecap="round"/>
<path d="M233.8 304.5C233.8 305.9 231.9 307.5 230.9 308.8C229.9 310.0 229.0 311.2 227.8 312.0C226.6 312.7 225.1 312.9 223.5 313.1C221.9 313.3 219.8 313.8 218.5 313.2C217.2 312.5 216.0 310.6 215.5 309.1C215.1 307.7 215.8 306.1 215.8 304.5C215.8 302.9 214.8 301.1 215.3 299.8C215.8 298.4 217.4 297.1 218.8 296.4C220.2 295.6 222.1 294.9 223.5 295.1C224.9 295.3 226.2 296.7 227.5 297.6C228.8 298.4 230.0 299.0 231.1 300.1C232.1 301.3 233.8 303.1 233.8 304.5Z" fill="none" stroke="#222" stroke-width="0.45" stroke-opacity="0.85"/>
<path d="M231.7 304.5C231.9 305.7 231.4 307.6 230.6 308.6C229.8 309.6 228.2 310.0 227.0 310.5C225.8 311.1 224.7 311.7 223.5 311.8C222.3 311.8 221.0 311.5 219.8 311.0C218.5 310.5 216.6 309.9 216.1 308.8C215.5 307.7 216.3 305.8 216.6 304.5C216.8 303.2 217.0 302.2 217.5 301.0C218.0 299.9 218.4 298.2 219.4 297.5C220.4 296.7 222.2 296.6 223.5 296.7C224.8 296.8 226.4 297.1 227.3 297.9C228.2 298.7 228.4 300.2 229.1 301.3C229.8 302.4 231.4 303.3 231.7 304.5Z" fill="none" stroke="#222" stroke-width="0.45" stroke-opacity="0.85"/>
<path d="M229.0 304.5C229.1 305.6 229.9 307.1 229.5 308.0C229.1 308.9 227.5 309.4 226.5 309.7C225.5 310.1 224.5 310.2 223.5 310.2C222.5 310.2 221.5 310.0 220.6 309.5C219.7 309.1 218.6 308.5 218.0 307.7C217.3 306.9 216.6 305.5 216.8 304.5C217.0 303.5 218.4 302.8 219.0 301.9C219.6 301.0 219.7 299.9 220.5 299.2C221.2 298.6 222.5 298.1 223.5 298.0C224.5 298.0 225.8 298.4 226.7 299.0C227.5 299.6 228.1 300.7 228.5 301.6C228.9 302.5 228.8 303.4 229.0 304.5Z" fill="none" stroke="#222" stroke-width="0.45" stroke-opacity="0.85"/>
<path d="M227.6 304.5C227.5 305.3 227.7 306.0 227.5 306.8C227.2 307.6 226.8 308.7 226.1 309.1C225.5 309.4 224.3 308.9 223.5 308.8C222.7 308.7 221.9 308.7 221.3 308.3C220.6 308.0 220.1 307.4 219.6 306.7C219.2 306.1 218.4 305.3 218.3 304.5C218.3 303.7 219.0 302.8 219.5 302.2C220.0 301.6 220.8 301.5 221.5 301.1C222.2 300.6 222.8 299.7 223.5 299.6C224.2 299.5 225.2 299.9 225.9 300.3C226.6 300.8 227.4 301.4 227.6 302.1C227.9 302.8 227.6 303.7 227.6 304.5Z" fill="none" stroke="#222" stroke-width="0.45" stroke-opacity="0.85"/>
<path d="M229.3 304.5C229.2 305.4 228.2 306.0 227.7 306.9C227.3 307.9 227.5 309.5 226.8 310.2C226.1 310.8 224.5 311.0 223.5 310.8C222.5 310.6 221.7 309.7 220.9 309.1C220.1 308.5 219.2 308.1 218.6 307.3C218.1 306.5 217.8 305.5 217.6 304.5C217.5 303.5 217.1 301.8 217.6 301.1C218.2 300.4 219.9 300.4 220.9 300.0C221.9 299.7 222.5 299.3 223.5 299.1C224.5 298.9 225.8 298.5 226.7 298.9C227.6 299.3 228.3 300.5 228.8 301.5C229.2 302.4 229.5 303.6 229.3 304.5Z" fill="#0c0c0c" fill-opacity="0.81" filter="url(#soft1)"/>
<path d="M245.0 305.8h0M242.1 299.5h0M233.4 299.6h0M238.0 298.6h0M237.9 308.1h0M240.9 295.8h0M239.8 309.2h0M232.7 302.5h0M232.2 307.3h0M236.2 297.8h0M241.2 299.9h0M237.3 295.8h0" stroke="#333" stroke-opacity="0.75" stroke-width="0.78" stroke-linecap="round"/>
<path d="M241.6 303.0C241.7 303.9 242.3 305.2 242.0 305.9C241.6 306.6 240.3 307.0 239.5 307.3C238.6 307.6 237.8 307.7 237.0 307.7C236.2 307.7 235.4 307.5 234.6 307.1C233.8 306.8 232.9 306.4 232.4 305.7C231.9 305.0 231.4 303.8 231.6 303.0C231.7 302.2 232.8 301.6 233.3 300.9C233.8 300.1 233.8 299.1 234.5 298.6C235.1 298.1 236.1 297.7 237.0 297.7C237.9 297.7 238.9 298.0 239.6 298.5C240.3 299.0 240.7 299.9 241.0 300.7C241.4 301.4 241.4 302.1 241.6 303.0Z" fill="none" stroke="#222" stroke-width="0.45" stroke-opacity="0.85"/>
<path d="M240.4 303.0C240.4 303.7 240.6 304.3 240.4 305.0C240.2 305.6 239.8 306.6 239.2 306.8C238.6 307.1 237.7 306.7 237.0 306.6C236.3 306.5 235.7 306.6 235.1 306.3C234.6 306.0 234.1 305.4 233.7 304.9C233.3 304.4 232.6 303.6 232.6 303.0C232.6 302.4 233.2 301.6 233.7 301.1C234.1 300.6 234.7 300.4 235.3 300.1C235.9 299.7 236.4 298.9 237.0 298.8C237.6 298.7 238.5 299.1 239.0 299.5C239.6 299.8 240.3 300.4 240.5 301.0C240.7 301.6 240.4 302.3 240.4 303.0Z" fill="none" stroke="#222" stroke-width="0.45" stroke-opacity="0.85"/>
<path d="M239.8 303.0C239.7 303.4 239.3 303.8 239.1 304.2C238.9 304.7 238.9 305.4 238.6 305.7C238.2 306.0 237.5 306.1 237.0 306.0C236.5 305.9 236.1 305.5 235.7 305.3C235.3 305.0 234.9 304.7 234.6 304.4C234.4 304.0 234.2 303.5 234.1 303.0C234.1 302.5 234.0 301.8 234.2 301.4C234.5 301.0 235.3 301.0 235.7 300.8C236.2 300.6 236.5 300.4 237.0 300.3C237.5 300.2 238.1 300.1 238.5 300.4C239.0 300.6 239.3 301.1 239.5 301.5C239.7 302.0 239.9 302.6 239.8 303.0Z" fill="none" stroke="#222" stroke-width="0.45" stroke-opacity="0.85"/>
<path d="M235.6 322.2h0M215.8 324.1h0M220.0 321.7h0M220.5 323.7h0M216.8 328.8h0M218.6 327.9h0M244.3 326.9h0M231.3 331.8h0M231.2 320.3h0M234.3 329.7h0M214.7 327.1h0M219.8 328.0h0M239.0 328.4h0M245.2 327.7h0M222.6 322.4h0M233.0 318.8h0M216.3 325.6h0M218.7 330.5h0M240.6 324.6h0M246.8 325.8h0M228.0 318.5h0M240.2 325.5h0M217.6 326.3h0M241.3 334.0h0M233.0 321.0h0M223.6 329.6h0M230.4 322.0h0M227.5 332.6h0M238.0 318.4h0M241.6 323.3h0M233.8 331.8h0M226.1 329.5h0M245.7 327.5h0M239.4 324.3h0M224.9 321.5h0M232.5 321.2h0M238.2 329.0h0M218.9 331.6h0M237.2 322.9h0M242.2 321.4h0" stroke="#333" stroke-opacity="0.75" stroke-width="0.78" stroke-linecap="round"/>
<path d="M241.9 326.0C241.6 326.8 239.8 327.4 238.8 328.1C237.8 328.8 237.2 329.6 235.7 330.1C234.2 330.7 231.8 331.5 230.0 331.5C228.2 331.4 226.2 330.4 224.6 329.9C223.0 329.3 221.4 328.9 220.5 328.3C219.5 327.7 219.1 326.8 218.9 326.0C218.6 325.2 218.0 324.0 218.9 323.3C219.8 322.6 222.4 322.1 224.2 321.8C226.1 321.6 228.0 321.9 230.0 321.9C232.0 321.8 234.4 321.3 236.1 321.6C237.9 321.8 239.4 322.8 240.4 323.5C241.3 324.2 242.1 325.2 241.9 326.0Z" fill="none" stroke="#222" stroke-width="0.45" stroke-opacity="0.85"/>
<path d="M239.3 326.0C239.2 326.7 238.7 327.4 237.8 327.9C236.9 328.3 235.2 328.4 233.9 328.8C232.6 329.2 231.5 330.0 230.0 330.1C228.5 330.2 226.4 329.9 225.2 329.5C224.0 329.1 223.5 328.3 222.9 327.7C222.2 327.1 221.4 326.6 221.3 326.0C221.2 325.4 221.6 324.7 222.2 324.1C222.8 323.5 223.6 322.6 224.9 322.3C226.2 322.1 228.5 322.5 230.0 322.6C231.5 322.7 232.8 322.8 234.2 323.0C235.6 323.2 237.6 323.5 238.5 324.0C239.3 324.5 239.4 325.3 239.3 326.0Z" fill="none" stroke="#222" stroke-width="0.45" stroke-opacity="0.85"/>
<path d="M236.9 326.0C237.0 326.5 236.5 327.0 235.8 327.4C235.2 327.8 234.0 328.0 233.1 328.2C232.1 328.4 231.1 328.4 230.0 328.5C228.9 328.6 227.2 328.9 226.2 328.7C225.3 328.5 224.8 327.8 224.5 327.3C224.1 326.9 223.9 326.4 223.9 326.0C223.9 325.6 224.1 325.1 224.5 324.7C225.0 324.3 225.6 323.8 226.5 323.5C227.4 323.2 229.0 323.0 230.0 323.0C231.0 323.1 231.8 323.7 232.8 324.0C233.7 324.3 235.0 324.3 235.7 324.6C236.4 324.9 236.9 325.5 236.9 326.0Z" fill="none" stroke="#222" stroke-width="0.45" stroke-opacity="0.85"/>
<path d="M237.8 326.0C238.0 326.5 237.1 327.1 236.5 327.6C235.8 328.0 234.7 328.5 233.7 328.7C232.6 328.8 231.2 328.6 230.0 328.5C228.8 328.5 227.6 328.8 226.4 328.6C225.2 328.5 223.3 328.2 222.8 327.7C222.4 327.3 223.3 326.5 223.5 326.0C223.8 325.5 223.6 325.0 224.1 324.6C224.6 324.2 225.6 323.8 226.5 323.5C227.5 323.2 228.8 322.6 230.0 322.6C231.2 322.6 232.6 323.1 233.5 323.5C234.4 323.8 234.5 324.3 235.2 324.8C235.9 325.2 237.6 325.5 237.8 326.0Z" fill="#0c0c0c" fill-opacity="0.41" filter="url(#soft1)"/>
<path d="M217.3 321.8h0M234.2 307.5h0M239.5 304.4h0M245.7 311.9h0M225.5 316.4h0M228.2 302.2h0M237.8 299.2h0M240.2 304.1h0M234.5 321.6h0M232.7 313.9h0M224.0 298.0h0M215.1 301.6h0M233.7 308.4h0M230.4 319.5h0M218.2 303.5h0M234.9 298.5h0M214.1 306.5h0M217.4 306.6h0M221.2 312.0h0M232.9 302.9h0M234.0 309.4h0M218.3 320.5h0M221.8 301.6h0M217.1 313.3h0M241.9 316.8h0M226.9 304.3h0M214.4 313.5h0M232.0 306.4h0M234.7 308.7h0M244.0 315.6h0" stroke="#333" stroke-opacity="0.60" stroke-width="0.78" stroke-linecap="round"/>
</g>
<g clip-path="url(#ce4)">
<path d="M303.6 305.3h0M288.8 328.3h0M298.0 330.8h0M309.8 317.2h0M289.7 309.2h0M299.9 331.7h0M292.5 305.8h0M302.0 290.9h0M300.2 326.9h0M304.1 319.7h0M304.3 302.1h0M304.5 315.6h0M304.2 292.4h0M297.2 302.0h0M287.7 321.8h0M298.2 328.3h0M304.8 319.1h0M294.4 295.5h0M304.0 293.4h0M291.5 310.2h0M289.4 322.8h0M296.8 330.4h0M290.9 296.5h0M303.7 301.9h0M303.7 316.4h0M297.3 301.8h0M305.6 308.3h0M301.7 306.1h0M293.1 333.6h0M293.3 304.7h0M292.4 284.0h0M286.3 319.9h0M305.8 285.3h0M289.9 322.2h0M295.4 285.2h0M299.6 334.4h0M292.4 303.7h0M305.9 339.4h0M307.2 318.8h0M290.2 339.5h0M304.7 335.3h0M295.1 300.6h0M293.6 305.1h0M304.7 322.1h0M287.4 300.4h0M302.0 293.2h0M306.3 298.7h0M308.9 299.6h0M305.9 308.0h0M303.5 326.5h0M304.7 318.6h0M290.9 298.1h0M302.9 291.2h0M303.9 325.5h0M304.1 325.6h0M295.1 326.8h0M290.0 323.8h0M295.7 334.5h0M296.2 301.6h0M305.4 310.9h0M289.2 314.6h0M306.4 319.0h0M288.8 327.1h0M290.5 337.6h0M295.1 296.8h0M303.0 300.5h0M302.8 322.7h0M304.2 315.1h0M299.8 332.1h0M304.0 315.4h0M280.5 317.2h0M302.7 342.0h0M291.5 315.5h0M296.8 337.8h0M308.8 305.6h0M295.6 301.6h0M289.1 315.2h0M306.4 326.2h0M299.7 294.4h0" stroke="#333" stroke-opacity="0.75" stroke-width="0.78" stroke-linecap="round"/>
<path d="M305.2 315.0C305.4 317.8 305.5 322.3 304.8 324.6C304.1 326.8 302.2 327.5 301.0 328.7C299.8 329.8 298.7 331.3 297.5 331.4C296.3 331.5 295.1 330.4 293.9 329.2C292.6 328.1 290.8 327.0 290.2 324.6C289.5 322.2 289.9 317.8 290.2 315.0C290.4 312.2 291.3 310.2 291.8 307.6C292.4 304.9 292.5 300.9 293.5 299.2C294.4 297.5 296.2 297.3 297.5 297.4C298.8 297.5 300.4 298.1 301.4 299.8C302.3 301.5 302.5 305.1 303.2 307.6C303.8 310.1 304.9 312.2 305.2 315.0Z" fill="none" stroke="#222" stroke-width="0.45" stroke-opacity="0.85"/>
<path d="M303.2 315.0C303.3 317.6 304.2 321.0 303.8 323.3C303.4 325.5 302.0 327.5 300.9 328.4C299.9 329.3 298.6 328.8 297.5 328.7C296.4 328.5 295.3 328.4 294.4 327.3C293.4 326.3 292.5 324.6 291.8 322.5C291.1 320.5 290.0 317.3 290.1 315.0C290.2 312.7 291.8 310.5 292.5 308.5C293.2 306.5 293.6 304.3 294.4 302.8C295.2 301.2 296.4 299.3 297.5 299.1C298.6 298.9 300.0 300.3 300.9 301.7C301.8 303.2 302.7 305.5 303.1 307.7C303.4 309.9 303.0 312.4 303.2 315.0Z" fill="none" stroke="#222" stroke-width="0.45" stroke-opacity="0.85"/>
<path d="M302.6 315.0C302.5 317.1 302.3 318.8 302.0 320.9C301.7 323.0 301.5 326.5 300.7 327.6C300.0 328.6 298.5 327.5 297.5 327.1C296.5 326.7 295.6 326.3 294.9 325.3C294.1 324.3 293.5 322.8 292.9 321.0C292.3 319.3 291.6 317.1 291.5 315.0C291.4 312.9 291.8 309.9 292.4 308.3C293.0 306.8 294.3 306.9 295.2 305.8C296.0 304.7 296.6 302.3 297.5 302.0C298.4 301.6 299.6 302.4 300.4 303.5C301.3 304.6 302.1 306.5 302.5 308.5C302.9 310.4 302.7 312.9 302.6 315.0Z" fill="none" stroke="#222" stroke-width="0.45" stroke-opacity="0.85"/>
<path d="M302.2 315.0C302.1 316.6 301.3 317.9 300.9 319.5C300.6 321.1 300.5 323.2 299.9 324.4C299.3 325.6 298.2 326.7 297.5 326.6C296.8 326.4 296.0 324.4 295.4 323.3C294.8 322.2 294.1 321.4 293.7 320.0C293.3 318.6 293.1 316.8 293.0 315.0C292.9 313.2 292.6 310.6 293.0 309.1C293.4 307.7 294.6 307.0 295.3 306.4C296.1 305.9 296.7 306.0 297.5 305.8C298.3 305.6 299.3 304.7 300.0 305.3C300.7 305.9 301.2 308.0 301.6 309.6C302.0 311.3 302.3 313.4 302.2 315.0Z" fill="none" stroke="#222" stroke-width="0.45" stroke-opacity="0.85"/>
<path d="M301.2 315.0C301.2 316.4 300.9 317.9 300.5 319.0C300.2 320.0 299.6 320.3 299.1 321.2C298.6 322.1 298.1 324.1 297.5 324.2C296.9 324.4 296.1 323.2 295.6 322.3C295.2 321.4 294.9 320.0 294.6 318.8C294.4 317.6 294.1 316.3 294.0 315.0C294.0 313.7 294.0 312.1 294.3 310.8C294.5 309.5 294.9 307.6 295.5 307.1C296.0 306.6 296.9 307.7 297.5 307.9C298.1 308.1 298.7 307.7 299.2 308.1C299.8 308.6 300.5 309.5 300.9 310.6C301.2 311.8 301.3 313.6 301.2 315.0Z" fill="none" stroke="#222" stroke-width="0.45" stroke-opacity="0.85"/>
<path d="M302.4 315.0C302.4 316.8 302.2 319.1 301.7 320.5C301.2 321.8 300.3 322.3 299.6 323.1C298.9 323.8 298.3 324.6 297.5 325.0C296.7 325.5 295.4 326.7 294.7 325.8C294.1 325.0 294.0 321.7 293.7 319.9C293.5 318.1 293.1 316.7 293.1 315.0C293.1 313.3 293.3 311.6 293.6 309.9C293.9 308.2 294.3 305.8 294.9 304.8C295.6 303.8 296.8 303.5 297.5 303.9C298.2 304.4 298.7 306.6 299.4 307.6C300.1 308.5 301.3 308.2 301.8 309.4C302.3 310.6 302.4 313.2 302.4 315.0Z" fill="#0c0c0c" fill-opacity="0.23" filter="url(#soft1)"/>
<path d="M294.9 330.1h0M291.3 331.1h0M305.8 331.0h0M304.1 318.4h0M297.5 332.8h0M301.6 321.7h0M303.3 319.0h0M298.4 330.3h0M298.2 315.2h0M298.1 318.6h0M295.3 331.6h0M301.6 331.7h0M297.7 316.6h0M301.8 333.7h0M290.1 319.6h0M302.3 330.5h0M298.8 338.0h0M300.0 331.7h0M301.1 319.0h0M302.8 334.0h0M295.5 331.1h0M292.0 323.9h0M300.1 331.6h0M304.3 323.7h0M302.2 323.7h0M302.4 329.2h0M301.0 312.0h0M297.0 312.5h0M294.1 319.2h0M301.9 328.9h0M302.8 326.3h0M292.4 330.3h0M292.7 325.0h0M292.2 316.9h0M293.4 320.6h0" stroke="#333" stroke-opacity="0.75" stroke-width="0.78" stroke-linecap="round"/>
<path d="M303.3 325.0C303.5 326.2 303.9 328.1 303.5 329.0C303.0 330.0 301.5 330.3 300.6 330.8C299.7 331.2 298.9 331.7 298.0 331.7C297.1 331.7 296.2 331.3 295.4 330.8C294.5 330.3 293.3 329.8 292.8 328.9C292.2 327.9 292.1 326.1 292.3 325.0C292.5 323.9 293.5 323.1 294.0 322.0C294.4 321.0 294.4 319.4 295.1 318.6C295.8 317.9 297.0 317.7 298.0 317.7C299.0 317.7 300.2 318.0 300.9 318.7C301.6 319.4 301.9 320.8 302.3 321.9C302.7 322.9 303.1 323.8 303.3 325.0Z" fill="none" stroke="#222" stroke-width="0.45" stroke-opacity="0.85"/>
<path d="M301.2 325.0C301.2 325.8 301.6 326.8 301.4 327.5C301.2 328.3 300.6 329.2 300.0 329.5C299.5 329.8 298.6 329.4 298.0 329.3C297.4 329.3 296.7 329.3 296.2 329.0C295.7 328.6 295.2 328.0 294.8 327.3C294.4 326.7 293.7 325.8 293.8 325.0C293.8 324.2 294.6 323.4 295.0 322.8C295.4 322.2 295.8 321.8 296.3 321.3C296.8 320.8 297.4 320.0 298.0 319.9C298.6 319.8 299.4 320.3 299.9 320.8C300.5 321.2 301.0 321.9 301.3 322.6C301.5 323.3 301.2 324.2 301.2 325.0Z" fill="none" stroke="#222" stroke-width="0.45" stroke-opacity="0.85"/>
<path d="M301.6 325.0C301.5 325.8 301.1 326.3 300.9 327.1C300.7 328.0 300.7 329.5 300.3 330.0C299.8 330.4 298.7 330.1 298.0 329.9C297.3 329.8 296.8 329.3 296.2 328.9C295.7 328.5 295.2 328.0 294.8 327.3C294.4 326.7 294.0 325.9 293.9 325.0C293.8 324.1 293.8 322.8 294.2 322.2C294.6 321.6 295.8 321.8 296.4 321.5C297.0 321.1 297.4 320.3 298.0 320.1C298.6 320.0 299.5 320.0 300.1 320.4C300.7 320.8 301.2 321.7 301.5 322.4C301.7 323.2 301.7 324.2 301.6 325.0Z" fill="#0c0c0c" fill-opacity="0.77" filter="url(#soft1)"/>
<path d="M285.7 323.3h0M279.4 324.5h0M286.0 322.2h0M284.9 322.1h0M290.1 324.1h0M289.2 323.8h0M281.9 320.5h0M283.4 331.7h0M280.9 323.0h0M287.5 321.6h0M284.5 322.3h0M280.5 329.2h0M279.9 328.3h0M282.9 322.4h0M292.2 324.8h0" stroke="#333" stroke-opacity="0.75" stroke-width="0.78" stroke-linecap="round"/>
<path d="M291.2 327.0C291.3 327.8 292.1 328.8 291.8 329.5C291.4 330.2 290.1 330.8 289.2 331.1C288.2 331.4 287.0 331.2 286.0 331.2C285.0 331.1 284.0 331.1 283.1 330.8C282.2 330.4 281.4 329.9 280.8 329.3C280.1 328.6 279.1 327.7 279.2 327.0C279.3 326.3 280.7 325.6 281.4 325.0C282.0 324.4 282.4 323.8 283.2 323.3C283.9 322.8 285.0 322.2 286.0 322.2C287.0 322.1 288.2 322.5 289.1 323.0C290.0 323.4 290.8 324.1 291.2 324.8C291.5 325.4 291.1 326.2 291.2 327.0Z" fill="none" stroke="#222" stroke-width="0.45" stroke-opacity="0.85"/>
<path d="M290.3 327.0C290.3 327.6 290.0 328.0 289.8 328.6C289.5 329.2 289.3 330.2 288.7 330.5C288.1 330.8 286.8 330.5 286.0 330.4C285.2 330.3 284.4 330.2 283.8 329.9C283.1 329.6 282.6 329.2 282.1 328.7C281.6 328.2 281.0 327.6 280.9 327.0C280.9 326.4 281.1 325.5 281.6 325.1C282.1 324.7 283.3 324.7 284.0 324.4C284.7 324.1 285.3 323.5 286.0 323.4C286.7 323.3 287.8 323.5 288.5 323.8C289.2 324.1 289.9 324.6 290.2 325.2C290.5 325.7 290.4 326.4 290.3 327.0Z" fill="none" stroke="#222" stroke-width="0.45" stroke-opacity="0.85"/>
<path d="M289.5 327.0C289.4 327.4 288.9 327.7 288.6 328.1C288.3 328.5 288.2 329.0 287.8 329.3C287.3 329.6 286.6 329.9 286.0 329.9C285.4 329.8 284.9 329.3 284.4 329.0C284.0 328.8 283.5 328.6 283.2 328.2C282.9 327.9 282.8 327.4 282.7 327.0C282.6 326.6 282.4 325.9 282.7 325.6C283.0 325.2 283.8 325.0 284.4 324.9C284.9 324.7 285.4 324.8 286.0 324.8C286.6 324.7 287.3 324.5 287.8 324.6C288.3 324.8 288.8 325.3 289.1 325.7C289.3 326.1 289.6 326.6 289.5 327.0Z" fill="none" stroke="#222" stroke-width="0.45" stroke-opacity="0.85"/>
<path d="M289.9 327.0C289.8 327.5 289.5 328.0 289.1 328.4C288.8 328.7 288.1 328.7 287.6 329.1C287.1 329.4 286.6 330.1 286.0 330.2C285.4 330.3 284.5 329.9 284.1 329.5C283.6 329.2 283.4 328.7 283.1 328.3C282.8 327.8 282.5 327.4 282.4 327.0C282.4 326.6 282.5 326.0 282.7 325.6C282.9 325.1 283.3 324.4 283.9 324.2C284.4 324.1 285.3 324.6 286.0 324.6C286.7 324.7 287.2 324.6 287.8 324.7C288.4 324.8 289.2 325.1 289.5 325.5C289.9 325.9 289.9 326.5 289.9 327.0Z" fill="#0c0c0c" fill-opacity="0.14" filter="url(#soft1)"/>
<path d="M284.2 319.6h0M304.5 310.0h0M294.7 331.1h0M279.3 315.6h0M283.5 324.1h0M310.0 314.7h0M281.4 316.7h0M296.4 321.8h0M295.4 319.0h0M306.2 314.8h0M292.0 330.1h0M285.1 320.6h0M291.3 323.5h0M282.2 331.4h0M290.1 298.0h0M287.3 310.4h0M278.5 311.1h0M292.3 321.1h0M290.0 305.5h0M285.6 322.7h0M310.0 315.0h0M285.4 324.9h0M291.3 303.6h0M282.4 324.0h0M305.5 318.8h0M294.0 316.2h0M285.7 330.7h0M290.0 319.0h0M305.8 325.4h0M293.9 306.6h0" stroke="#333" stroke-opacity="0.60" stroke-width="0.78" stroke-linecap="round"/>
</g>
<g clip-path="url(#ce5)">
<path d="M341.4 311.4h0M364.6 289.3h0M353.0 308.0h0M338.3 305.8h0M351.4 293.5h0M351.2 307.7h0M343.3 301.4h0M339.0 305.4h0M342.4 309.5h0M369.2 295.0h0M358.5 293.4h0M362.9 295.8h0M358.4 293.9h0M344.1 293.3h0M363.5 298.2h0M347.7 294.6h0M359.3 306.0h0M354.5 309.8h0M359.4 306.8h0M366.6 293.9h0M361.6 295.6h0M342.4 294.2h0M362.5 295.3h0M358.0 286.5h0M348.9 292.3h0M339.7 298.6h0M360.7 295.6h0M336.8 296.3h0M359.8 306.1h0M338.3 301.0h0M363.8 310.2h0M340.6 301.0h0M365.3 290.4h0M363.0 300.8h0M340.2 296.6h0M344.8 290.3h0M341.4 305.2h0M368.3 297.8h0M340.9 290.3h0M367.4 302.3h0M369.7 295.1h0M345.1 310.9h0M335.0 301.8h0M361.8 295.9h0M338.5 289.9h0M346.8 307.9h0M339.2 302.1h0M338.4 298.8h0M343.7 303.4h0M340.3 305.4h0M347.2 315.9h0M359.9 291.5h0M350.9 312.3h0M338.6 300.1h0M358.4 286.7h0M347.7 307.6h0M342.7 296.0h0M343.1 292.3h0M351.5 293.3h0M362.0 295.0h0M349.5 308.6h0M363.6 300.8h0M341.0 293.4h0M339.7 285.7h0M342.8 294.2h0M334.7 288.5h0M338.8 293.4h0M345.8 289.0h0M341.4 302.8h0M354.8 286.2h0M366.2 302.7h0M355.1 291.7h0M340.5 310.3h0M359.9 290.8h0M352.6 309.0h0M347.2 313.2h0M339.4 305.1h0M345.2 293.4h0M342.3 297.0h0M363.6 302.4h0M336.0 294.2h0M369.4 294.0h0M344.9 305.6h0M344.7 296.5h0M325.2 303.6h0M338.4 307.0h0M357.4 313.0h0M362.4 309.8h0M349.0 293.7h0M360.3 305.4h0M361.9 293.8h0M360.4 305.9h0M354.2 315.6h0M352.1 292.7h0M354.8 293.0h0M350.5 292.2h0M367.8 306.6h0M340.2 290.7h0M363.9 297.0h0M352.8 313.0h0M374.0 301.6h0M365.4 301.3h0M368.5 306.5h0M345.5 314.1h0M359.8 294.8h0M339.2 301.4h0M338.8 295.3h0M341.8 303.8h0M356.6 292.6h0M344.5 307.7h0M339.3 306.1h0M339.9 308.8h0M356.1 291.0h0" stroke="#333" stroke-opacity="0.75" stroke-width="0.78" stroke-linecap="round"/>
<path d="M368.1 300.5C368.3 302.0 366.0 303.9 364.5 305.2C363.1 306.4 361.2 307.3 359.3 308.0C357.4 308.7 355.3 309.3 353.2 309.4C351.1 309.5 348.5 309.5 346.4 308.9C344.3 308.3 341.4 307.1 340.7 305.7C340.0 304.3 341.8 302.1 342.1 300.5C342.3 298.9 341.3 297.3 342.0 295.9C342.7 294.5 344.4 292.8 346.3 291.9C348.1 291.1 351.0 290.7 353.2 290.8C355.4 290.9 357.7 291.9 359.4 292.8C361.1 293.7 361.8 295.1 363.2 296.4C364.7 297.6 367.8 299.0 368.1 300.5Z" fill="none" stroke="#222" stroke-width="0.45" stroke-opacity="0.85"/>
<path d="M363.9 300.5C364.3 301.8 364.9 303.9 364.0 305.0C363.1 306.0 360.1 306.3 358.3 306.8C356.5 307.3 354.9 307.9 353.2 308.0C351.5 308.0 349.7 307.5 348.0 307.0C346.2 306.5 343.7 305.9 342.7 304.8C341.7 303.8 341.7 301.8 342.1 300.5C342.5 299.2 344.2 298.4 345.1 297.2C346.0 296.0 346.1 294.2 347.4 293.4C348.8 292.6 351.3 292.4 353.2 292.4C355.1 292.4 357.5 292.7 358.9 293.5C360.3 294.3 360.7 295.9 361.6 297.0C362.4 298.2 363.5 299.2 363.9 300.5Z" fill="none" stroke="#222" stroke-width="0.45" stroke-opacity="0.85"/>
<path d="M360.8 300.5C360.9 301.6 361.9 302.9 361.5 303.9C361.0 304.9 359.3 306.0 357.9 306.4C356.6 306.8 354.7 306.4 353.2 306.3C351.7 306.2 350.2 306.2 349.0 305.7C347.7 305.3 346.6 304.5 345.6 303.6C344.7 302.7 343.1 301.5 343.2 300.5C343.3 299.5 345.3 298.5 346.3 297.6C347.3 296.8 348.0 296.1 349.2 295.5C350.3 294.8 351.8 293.8 353.2 293.7C354.6 293.6 356.5 294.3 357.7 294.9C359.0 295.5 360.3 296.4 360.8 297.3C361.3 298.3 360.7 299.4 360.8 300.5Z" fill="none" stroke="#222" stroke-width="0.45" stroke-opacity="0.85"/>
<path d="M359.5 300.5C359.3 301.3 358.8 301.9 358.4 302.7C358.0 303.5 357.9 304.8 357.0 305.3C356.2 305.7 354.4 305.4 353.2 305.2C352.0 305.1 351.0 304.8 350.1 304.4C349.2 304.0 348.3 303.4 347.7 302.8C347.0 302.1 346.3 301.3 346.1 300.5C346.0 299.7 346.2 298.5 346.9 297.9C347.6 297.3 349.3 297.4 350.4 297.0C351.4 296.6 352.1 295.8 353.2 295.7C354.3 295.5 355.7 295.7 356.7 296.1C357.7 296.5 358.7 297.3 359.2 298.0C359.6 298.8 359.6 299.7 359.5 300.5Z" fill="none" stroke="#222" stroke-width="0.45" stroke-opacity="0.85"/>
<path d="M362.1 300.5C361.9 301.5 360.3 302.2 359.6 303.1C358.8 304.0 358.6 305.1 357.5 305.8C356.5 306.6 354.6 307.7 353.2 307.6C351.8 307.6 350.5 306.1 349.3 305.4C348.1 304.7 346.8 304.2 346.1 303.4C345.4 302.6 345.2 301.6 344.9 300.5C344.7 299.4 344.0 297.9 344.7 297.0C345.4 296.1 347.5 295.5 348.9 295.2C350.4 294.9 351.7 295.5 353.2 295.4C354.7 295.3 356.6 294.4 357.9 294.7C359.2 295.1 360.3 296.3 361.0 297.3C361.7 298.2 362.3 299.5 362.1 300.5Z" fill="#0c0c0c" fill-opacity="0.79" filter="url(#soft1)"/>
<path d="M346.1 318.8h0M345.2 298.8h0M358.7 303.2h0M364.2 308.2h0M359.5 302.9h0M340.8 311.5h0M360.6 305.7h0M340.1 305.0h0M363.7 304.9h0M362.0 309.0h0M350.9 314.8h0M358.2 302.6h0M361.1 305.5h0M359.3 300.9h0M359.6 305.2h0M359.5 304.4h0M355.6 304.6h0M344.2 314.1h0M369.7 313.8h0M357.7 317.0h0M352.0 303.6h0M342.4 305.5h0M347.6 304.9h0M351.6 314.6h0M352.1 304.8h0M360.5 311.4h0M357.1 302.7h0M344.2 307.1h0M362.1 305.5h0M338.4 309.9h0" stroke="#333" stroke-opacity="0.75" stroke-width="0.78" stroke-linecap="round"/>
<path d="M363.1 309.0C363.5 309.8 363.8 311.2 362.8 311.8C361.8 312.5 358.9 312.7 357.1 313.0C355.3 313.4 353.7 313.8 352.0 313.8C350.3 313.8 348.5 313.5 346.7 313.2C344.9 312.8 342.2 312.5 341.3 311.8C340.4 311.1 340.6 309.8 341.1 309.0C341.5 308.2 342.9 307.6 343.8 306.8C344.6 306.1 344.8 304.9 346.1 304.4C347.5 303.9 350.1 303.8 352.0 303.8C353.9 303.8 356.3 304.0 357.7 304.5C359.1 305.0 359.5 306.1 360.4 306.8C361.2 307.6 362.6 308.2 363.1 309.0Z" fill="none" stroke="#222" stroke-width="0.45" stroke-opacity="0.85"/>
<path d="M359.4 309.0C359.6 309.7 360.7 310.6 360.3 311.2C359.8 311.8 357.9 312.4 356.6 312.6C355.2 312.8 353.5 312.7 352.0 312.6C350.5 312.6 349.1 312.5 347.8 312.3C346.6 312.0 345.4 311.5 344.5 311.0C343.6 310.4 342.1 309.6 342.2 309.0C342.4 308.4 344.4 307.8 345.3 307.3C346.3 306.7 346.8 306.2 348.0 305.8C349.1 305.4 350.6 304.8 352.0 304.8C353.4 304.7 355.2 305.1 356.5 305.5C357.7 305.9 358.9 306.5 359.4 307.1C359.9 307.6 359.3 308.3 359.4 309.0Z" fill="none" stroke="#222" stroke-width="0.45" stroke-opacity="0.85"/>
<path d="M357.8 309.0C357.7 309.5 357.3 309.8 357.0 310.3C356.6 310.8 356.4 311.6 355.6 311.8C354.8 312.1 353.1 311.8 352.0 311.8C350.9 311.7 349.9 311.5 349.1 311.3C348.2 311.1 347.4 310.7 346.8 310.4C346.2 310.0 345.4 309.5 345.3 309.0C345.2 308.5 345.5 307.8 346.2 307.5C346.9 307.1 348.4 307.2 349.4 306.9C350.3 306.7 351.0 306.2 352.0 306.1C353.0 306.0 354.4 306.2 355.3 306.4C356.2 306.6 357.2 307.1 357.6 307.5C358.0 308.0 357.9 308.5 357.8 309.0Z" fill="none" stroke="#222" stroke-width="0.45" stroke-opacity="0.85"/>
<path d="M359.0 309.0C358.8 309.5 357.6 309.9 357.0 310.3C356.4 310.8 356.4 311.4 355.5 311.8C354.7 312.1 353.1 312.6 352.0 312.6C350.9 312.5 349.8 311.8 348.9 311.4C348.0 311.1 346.9 310.9 346.4 310.5C345.8 310.1 345.6 309.5 345.4 309.0C345.2 308.5 344.6 307.6 345.2 307.2C345.7 306.8 347.6 306.5 348.7 306.4C349.8 306.3 350.8 306.4 352.0 306.4C353.2 306.3 354.7 305.9 355.7 306.1C356.8 306.2 357.6 306.9 358.2 307.4C358.7 307.9 359.2 308.5 359.0 309.0Z" fill="#0c0c0c" fill-opacity="0.09" filter="url(#soft1)"/>
<path d="M362.4 330.4h0M358.5 322.7h0M356.2 329.3h0M353.1 325.5h0M363.2 329.1h0M350.1 333.3h0M365.5 329.1h0M364.3 330.7h0M353.4 322.6h0M366.1 326.6h0M367.0 327.1h0M349.9 326.6h0M355.9 324.7h0M356.0 327.5h0M368.8 323.8h0M364.6 325.2h0M359.8 333.0h0M362.6 330.0h0M364.0 327.7h0M365.4 321.9h0" stroke="#333" stroke-opacity="0.75" stroke-width="0.78" stroke-linecap="round"/>
<path d="M365.7 326.0C365.9 326.7 365.9 327.7 365.3 328.2C364.8 328.8 363.4 328.9 362.5 329.2C361.7 329.5 360.9 329.8 360.0 329.9C359.1 329.9 358.2 329.6 357.3 329.4C356.4 329.1 355.0 328.8 354.6 328.3C354.2 327.7 354.5 326.7 354.7 326.0C354.9 325.3 355.4 324.9 355.8 324.2C356.2 323.6 356.4 322.7 357.0 322.3C357.7 321.9 359.0 321.8 360.0 321.9C361.0 321.9 362.1 322.0 362.8 322.4C363.5 322.8 363.7 323.7 364.1 324.3C364.6 324.9 365.5 325.3 365.7 326.0Z" fill="none" stroke="#222" stroke-width="0.45" stroke-opacity="0.85"/>
<path d="M363.8 326.0C363.8 326.5 364.5 327.3 364.2 327.8C363.9 328.2 362.9 328.6 362.2 328.8C361.5 329.0 360.7 328.9 360.0 328.9C359.3 328.9 358.6 328.8 357.9 328.6C357.3 328.4 356.7 328.0 356.2 327.6C355.7 327.2 355.0 326.5 355.1 326.0C355.2 325.5 356.3 325.1 356.7 324.6C357.2 324.2 357.4 323.7 357.9 323.4C358.5 323.1 359.3 322.7 360.0 322.6C360.7 322.6 361.6 322.9 362.2 323.2C362.8 323.5 363.4 324.0 363.7 324.5C363.9 324.9 363.7 325.5 363.8 326.0Z" fill="none" stroke="#222" stroke-width="0.45" stroke-opacity="0.85"/>
<path d="M362.8 326.0C362.8 326.4 362.7 326.7 362.6 327.1C362.4 327.4 362.2 328.1 361.8 328.3C361.4 328.4 360.5 328.2 360.0 328.2C359.5 328.1 359.0 328.0 358.5 327.9C358.1 327.7 357.7 327.4 357.4 327.1C357.1 326.8 356.6 326.4 356.6 326.0C356.6 325.6 356.8 325.1 357.2 324.8C357.5 324.5 358.2 324.5 358.7 324.3C359.2 324.1 359.5 323.7 360.0 323.6C360.5 323.6 361.2 323.7 361.6 323.9C362.1 324.1 362.6 324.5 362.8 324.8C363.0 325.2 362.9 325.6 362.8 326.0Z" fill="none" stroke="#222" stroke-width="0.45" stroke-opacity="0.85"/>
<path d="M363.9 326.0C363.8 326.4 363.1 326.7 362.8 327.2C362.5 327.6 362.5 328.2 362.0 328.6C361.6 328.9 360.6 329.2 360.0 329.2C359.4 329.1 358.8 328.5 358.3 328.2C357.7 327.9 357.1 327.7 356.8 327.3C356.5 327.0 356.4 326.5 356.2 326.0C356.1 325.5 355.8 324.8 356.1 324.4C356.5 324.0 357.6 323.9 358.2 323.7C358.8 323.6 359.3 323.6 360.0 323.6C360.7 323.5 361.5 323.2 362.1 323.3C362.7 323.5 363.2 324.1 363.5 324.5C363.8 325.0 364.1 325.6 363.9 326.0Z" fill="#0c0c0c" fill-opacity="0.77" filter="url(#soft1)"/>
<path d="M355.5 324.9h0M345.5 324.1h0M345.9 327.8h0M349.5 332.2h0M340.6 323.7h0M345.3 321.0h0M341.5 330.0h0M356.2 325.2h0M355.1 325.8h0M349.8 328.7h0M346.8 328.5h0M355.4 320.8h0" stroke="#333" stroke-opacity="0.75" stroke-width="0.78" stroke-linecap="round"/>
<path d="M355.3 326.0C355.3 326.6 355.4 327.1 355.1 327.7C354.8 328.3 354.3 329.2 353.4 329.5C352.6 329.7 351.1 329.4 350.0 329.3C348.9 329.2 348.0 329.2 347.1 328.9C346.3 328.6 345.6 328.2 345.0 327.7C344.4 327.2 343.4 326.6 343.3 326.0C343.3 325.4 344.0 324.7 344.7 324.2C345.4 323.8 346.6 323.7 347.4 323.4C348.3 323.1 349.1 322.4 350.0 322.3C350.9 322.2 352.2 322.5 353.1 322.8C354.0 323.2 355.0 323.7 355.4 324.2C355.8 324.7 355.4 325.4 355.3 326.0Z" fill="none" stroke="#222" stroke-width="0.45" stroke-opacity="0.85"/>
<path d="M354.1 326.0C354.0 326.4 353.3 326.6 353.0 327.0C352.7 327.4 352.7 328.0 352.2 328.2C351.7 328.5 350.7 328.6 350.0 328.5C349.3 328.5 348.7 328.1 348.1 327.9C347.6 327.6 347.0 327.5 346.6 327.1C346.2 326.8 346.1 326.4 346.0 326.0C345.9 325.6 345.6 325.0 346.0 324.7C346.4 324.3 347.5 324.3 348.2 324.1C348.8 324.0 349.3 323.9 350.0 323.8C350.7 323.8 351.6 323.6 352.2 323.8C352.8 323.9 353.3 324.4 353.6 324.8C353.9 325.1 354.2 325.6 354.1 326.0Z" fill="none" stroke="#222" stroke-width="0.45" stroke-opacity="0.85"/>
<path d="M353.9 326.0C353.8 326.4 353.4 326.7 353.0 327.0C352.6 327.3 352.2 327.4 351.7 327.7C351.2 327.9 350.6 328.5 350.0 328.6C349.4 328.6 348.7 328.1 348.2 327.9C347.7 327.6 347.3 327.3 347.0 327.0C346.7 326.7 346.5 326.4 346.4 326.0C346.4 325.6 346.3 325.2 346.5 324.8C346.8 324.5 347.4 324.0 347.9 323.9C348.5 323.8 349.3 324.2 350.0 324.2C350.7 324.3 351.3 324.0 351.9 324.1C352.5 324.2 353.1 324.5 353.5 324.8C353.8 325.1 354.0 325.6 353.9 326.0Z" fill="#0c0c0c" fill-opacity="0.14" filter="url(#soft1)"/>
<path d="M339.5 322.3h0M360.7 317.3h0M369.5 296.0h0M342.6 321.2h0M368.1 318.4h0M347.6 315.3h0M362.3 297.8h0M348.4 303.3h0M342.0 311.3h0M343.4 302.6h0M342.6 318.4h0M338.4 319.8h0M344.2 295.3h0M367.7 301.9h0M367.9 325.2h0M366.4 299.0h0M352.3 297.5h0M367.7 324.3h0M358.1 310.3h0M348.9 323.6h0M353.3 316.6h0M342.6 302.0h0M339.8 319.7h0M355.7 299.2h0M365.9 303.6h0M351.2 299.6h0M346.7 324.2h0M348.7 300.0h0M353.7 305.5h0M366.9 298.1h0" stroke="#333" stroke-opacity="0.60" stroke-width="0.78" stroke-linecap="round"/>
</g>
<g clip-path="url(#ce6)">
<path d="M437.1 315.9h0M427.1 326.4h0M411.3 311.9h0M426.2 319.6h0M416.0 320.5h0M447.7 294.7h0M430.7 315.8h0M433.4 314.2h0M420.9 286.8h0M435.3 311.1h0M431.5 284.1h0M432.8 309.8h0M428.7 299.0h0M413.6 315.0h0M430.6 304.5h0M429.5 318.1h0M429.9 325.9h0M426.5 319.7h0M437.8 319.2h0M409.8 310.2h0M422.0 323.6h0M421.2 298.3h0M429.3 292.9h0M433.5 315.0h0M422.7 298.3h0M437.7 315.9h0M428.3 295.7h0M432.2 297.8h0M407.1 310.6h0M404.4 313.2h0M429.7 302.0h0M427.6 301.3h0M416.3 319.7h0M415.2 302.6h0M435.7 310.1h0M410.3 308.1h0M429.7 316.7h0M430.2 300.7h0M416.2 329.0h0M423.8 298.9h0M435.5 315.6h0M406.7 310.4h0M406.5 307.9h0M437.8 312.0h0M432.3 307.5h0M430.2 315.7h0M423.7 323.2h0M430.3 315.3h0M420.9 299.5h0M417.3 304.1h0M416.2 304.9h0M436.5 321.5h0M429.7 301.9h0M429.3 316.4h0M414.6 310.2h0M432.3 319.9h0M417.5 314.9h0M431.6 298.1h0M431.6 322.6h0M431.7 326.3h0M429.0 297.1h0M412.7 317.1h0M428.8 299.7h0M435.8 304.0h0M425.1 299.5h0M418.8 319.9h0M413.6 315.0h0M438.5 298.6h0M427.1 299.9h0M415.2 308.6h0M432.4 306.8h0M413.7 316.2h0M417.5 301.3h0M434.5 315.9h0M412.2 316.0h0M429.2 317.9h0M431.1 307.9h0M417.2 300.9h0M431.1 286.5h0M439.4 313.9h0M414.2 295.3h0M422.5 319.8h0M408.5 304.6h0M423.6 327.3h0M412.8 308.0h0M419.1 333.4h0M419.3 324.7h0M416.1 303.4h0M433.1 306.4h0M412.1 312.7h0M416.0 307.7h0M429.9 318.0h0M421.1 321.3h0M424.2 323.6h0M432.2 316.2h0M410.1 295.9h0M414.2 304.2h0M421.3 298.2h0M413.5 312.8h0M409.2 313.2h0M420.1 320.8h0M416.0 309.0h0M415.2 319.1h0M418.8 317.8h0M428.8 302.3h0M415.7 310.2h0M420.6 327.1h0M425.4 295.0h0M428.0 317.8h0M407.3 317.7h0M434.8 315.3h0M422.6 295.0h0M432.5 318.5h0M423.0 297.8h0M435.7 331.3h0" stroke="#333" stroke-opacity="0.75" stroke-width="0.78" stroke-linecap="round"/>
<path d="M433.0 309.7C432.8 311.8 432.7 313.9 432.0 315.6C431.3 317.4 430.0 318.8 428.6 320.2C427.2 321.5 425.3 323.9 423.7 323.8C422.1 323.7 420.4 321.0 419.1 319.6C417.8 318.1 416.8 316.9 415.8 315.3C414.8 313.7 413.2 311.7 413.0 309.7C412.8 307.7 413.8 305.1 414.7 303.3C415.6 301.5 417.1 299.6 418.6 298.9C420.1 298.2 422.0 299.3 423.7 299.2C425.4 299.1 427.5 297.6 429.1 298.3C430.6 298.9 432.5 301.1 433.1 303.0C433.8 304.9 433.2 307.6 433.0 309.7Z" fill="none" stroke="#222" stroke-width="0.45" stroke-opacity="0.85"/>
<path d="M432.1 309.7C431.9 311.5 431.2 313.1 430.5 314.5C429.8 316.0 428.8 317.2 427.7 318.2C426.6 319.2 425.1 320.3 423.7 320.5C422.3 320.7 420.1 320.6 419.1 319.6C418.0 318.5 418.1 315.8 417.5 314.1C416.9 312.5 415.6 311.3 415.4 309.7C415.1 308.1 415.3 305.8 416.0 304.2C416.7 302.7 418.0 301.1 419.3 300.4C420.6 299.6 422.3 299.7 423.7 299.9C425.1 300.1 426.1 301.1 427.4 301.7C428.8 302.4 431.2 302.5 432.0 303.8C432.8 305.1 432.4 307.9 432.1 309.7Z" fill="none" stroke="#222" stroke-width="0.45" stroke-opacity="0.85"/>
<path d="M431.4 309.7C431.4 311.0 429.9 312.5 429.2 313.6C428.5 314.8 427.9 315.9 426.9 316.6C426.0 317.3 424.9 317.5 423.7 317.7C422.5 317.8 420.9 318.4 419.9 317.7C418.9 317.1 418.1 315.2 417.8 313.9C417.4 312.6 417.9 311.1 417.9 309.7C417.9 308.3 417.1 306.6 417.5 305.3C417.9 304.1 419.2 302.9 420.2 302.2C421.2 301.5 422.6 300.9 423.7 301.0C424.8 301.2 425.7 302.6 426.7 303.4C427.6 304.1 428.7 304.5 429.5 305.6C430.3 306.7 431.4 308.4 431.4 309.7Z" fill="none" stroke="#222" stroke-width="0.45" stroke-opacity="0.85"/>
<path d="M429.3 309.7C429.5 310.7 429.0 312.2 428.5 313.1C427.9 313.9 426.9 314.3 426.1 314.7C425.3 315.2 424.5 315.7 423.7 315.8C422.9 315.8 422.0 315.6 421.1 315.1C420.3 314.7 419.0 314.2 418.6 313.3C418.3 312.4 418.9 310.8 419.1 309.7C419.2 308.6 419.3 307.8 419.6 306.8C419.9 305.8 420.3 304.4 420.9 303.8C421.6 303.2 422.8 303.1 423.7 303.2C424.6 303.2 425.6 303.6 426.3 304.2C426.9 304.9 427.0 306.1 427.5 307.0C428.0 307.9 429.1 308.7 429.3 309.7Z" fill="none" stroke="#222" stroke-width="0.45" stroke-opacity="0.85"/>
<path d="M429.6 309.7C429.8 311.1 430.9 313.3 430.5 314.5C430.0 315.7 428.1 316.2 426.9 316.6C425.8 317.1 424.8 317.3 423.7 317.2C422.6 317.2 421.6 316.9 420.6 316.4C419.5 315.8 418.2 315.2 417.5 314.1C416.9 313.0 416.1 311.0 416.4 309.7C416.6 308.4 418.4 307.6 419.0 306.4C419.7 305.2 419.6 303.5 420.3 302.6C421.1 301.7 422.6 301.0 423.7 301.0C424.8 301.0 426.3 301.5 427.2 302.3C428.0 303.1 428.6 304.7 429.0 305.9C429.4 307.2 429.3 308.3 429.6 309.7Z" fill="#0c0c0c" fill-opacity="0.79" filter="url(#soft1)"/>
<path d="M403.5 299.7h0M415.8 296.6h0M409.5 297.7h0M409.6 294.5h0M411.2 300.3h0M407.5 294.7h0M414.8 300.8h0M416.3 308.2h0M404.2 308.1h0M420.1 304.6h0M411.9 295.6h0M414.9 300.8h0M402.2 311.5h0M402.7 310.8h0M405.5 313.2h0M402.1 303.9h0M411.8 297.2h0M414.4 299.3h0M413.8 320.3h0M408.2 315.1h0M402.7 302.2h0M417.9 314.9h0M414.6 298.2h0M413.6 299.6h0M403.0 312.9h0M415.0 303.5h0M404.1 304.3h0M404.7 308.1h0M399.3 304.2h0M418.4 307.9h0M406.1 295.1h0M405.6 313.3h0M405.0 317.8h0M418.8 303.7h0M416.0 314.1h0M403.3 317.6h0M401.7 302.1h0M415.9 300.0h0" stroke="#333" stroke-opacity="0.75" stroke-width="0.78" stroke-linecap="round"/>
<path d="M416.5 308.0C416.8 309.7 417.5 312.4 417.0 313.8C416.5 315.2 414.6 315.8 413.4 316.4C412.2 317.0 411.1 317.5 410.0 317.5C408.9 317.5 407.7 317.0 406.7 316.3C405.6 315.6 404.1 314.8 403.4 313.4C402.8 312.0 402.3 309.6 402.5 308.0C402.8 306.4 404.2 305.3 404.9 303.8C405.5 302.3 405.5 300.1 406.4 299.1C407.2 298.0 408.8 297.5 410.0 297.5C411.2 297.5 412.7 298.0 413.7 299.0C414.6 300.0 415.1 301.9 415.6 303.4C416.0 304.9 416.3 306.3 416.5 308.0Z" fill="none" stroke="#222" stroke-width="0.45" stroke-opacity="0.85"/>
<path d="M415.1 308.0C415.1 309.4 415.6 311.0 415.3 312.4C415.0 313.7 414.2 315.5 413.3 316.1C412.4 316.7 411.0 315.9 410.0 315.7C409.0 315.5 408.0 315.6 407.2 315.0C406.3 314.4 405.7 313.2 405.1 312.1C404.4 310.9 403.3 309.4 403.4 308.0C403.4 306.6 404.5 305.0 405.1 304.0C405.8 302.9 406.6 302.4 407.4 301.6C408.2 300.8 409.1 299.2 410.0 299.0C410.9 298.8 412.2 299.7 413.0 300.5C413.9 301.3 414.9 302.5 415.2 303.7C415.5 305.0 415.1 306.6 415.1 308.0Z" fill="none" stroke="#222" stroke-width="0.45" stroke-opacity="0.85"/>
<path d="M414.6 308.0C414.5 309.1 413.9 309.9 413.6 311.0C413.3 312.1 413.3 313.9 412.7 314.6C412.1 315.3 410.8 315.2 410.0 315.0C409.2 314.8 408.5 314.0 407.8 313.4C407.2 312.8 406.5 312.2 406.1 311.3C405.6 310.4 405.3 309.2 405.2 308.0C405.0 306.8 404.9 305.1 405.4 304.2C405.9 303.4 407.2 303.4 407.9 302.9C408.7 302.5 409.2 301.7 410.0 301.5C410.8 301.3 411.8 301.2 412.5 301.7C413.2 302.2 413.9 303.5 414.2 304.5C414.6 305.6 414.7 306.9 414.6 308.0Z" fill="none" stroke="#222" stroke-width="0.45" stroke-opacity="0.85"/>
<path d="M413.7 308.0C413.6 308.8 413.2 309.6 412.8 310.3C412.5 311.0 412.2 311.6 411.7 312.2C411.2 312.8 410.6 313.9 410.0 313.9C409.4 313.9 408.8 312.8 408.3 312.2C407.8 311.6 407.3 311.1 407.1 310.4C406.8 309.7 406.6 308.9 406.5 308.0C406.5 307.1 406.3 306.0 406.6 305.2C406.9 304.4 407.6 303.6 408.1 303.4C408.7 303.1 409.4 303.7 410.0 303.7C410.6 303.7 411.3 303.1 411.9 303.3C412.4 303.6 413.0 304.5 413.3 305.3C413.6 306.1 413.8 307.2 413.7 308.0Z" fill="none" stroke="#222" stroke-width="0.45" stroke-opacity="0.85"/>
<path d="M414.5 308.0C414.5 309.1 414.3 310.4 413.8 311.2C413.4 311.9 412.5 311.9 411.8 312.5C411.2 313.1 410.7 314.4 410.0 314.7C409.3 314.9 408.1 314.7 407.6 314.0C407.0 313.4 406.9 311.8 406.6 310.8C406.3 309.8 405.9 309.0 405.8 308.0C405.8 307.0 406.0 306.0 406.3 305.0C406.6 303.9 406.9 302.2 407.5 301.8C408.1 301.3 409.3 302.0 410.0 302.3C410.7 302.5 411.2 302.9 411.9 303.3C412.6 303.7 413.7 303.8 414.1 304.6C414.6 305.4 414.6 306.9 414.5 308.0Z" fill="#0c0c0c" fill-opacity="0.09" filter="url(#soft1)"/>
<path d="M420.1 321.9h0M425.4 324.6h0M424.4 321.6h0M424.9 328.2h0M424.9 321.0h0" stroke="#333" stroke-opacity="0.75" stroke-width="0.78" stroke-linecap="round"/>
<path d="M426.4 324.7C426.4 325.2 425.8 325.7 425.5 326.1C425.1 326.5 424.8 326.9 424.4 327.2C424.0 327.4 423.5 327.5 423.0 327.6C422.5 327.6 421.8 327.8 421.3 327.6C420.9 327.4 420.5 326.7 420.3 326.2C420.2 325.8 420.5 325.2 420.4 324.7C420.4 324.2 420.1 323.6 420.3 323.1C420.4 322.7 421.0 322.2 421.4 322.0C421.9 321.7 422.5 321.5 423.0 321.6C423.5 321.6 423.9 322.1 424.3 322.4C424.8 322.7 425.2 322.9 425.5 323.2C425.9 323.6 426.5 324.2 426.4 324.7Z" fill="none" stroke="#222" stroke-width="0.45" stroke-opacity="0.85"/>
<path d="M425.2 324.7C425.3 325.0 425.1 325.5 424.9 325.8C424.7 326.1 424.3 326.2 423.9 326.3C423.6 326.5 423.3 326.6 423.0 326.7C422.7 326.7 422.3 326.6 422.0 326.4C421.7 326.3 421.1 326.1 421.0 325.9C420.9 325.6 421.1 325.0 421.1 324.7C421.2 324.4 421.3 324.1 421.4 323.8C421.5 323.5 421.6 323.0 421.9 322.8C422.2 322.6 422.6 322.6 423.0 322.6C423.4 322.6 423.8 322.7 424.0 322.9C424.3 323.1 424.3 323.5 424.5 323.8C424.7 324.1 425.1 324.4 425.2 324.7Z" fill="none" stroke="#222" stroke-width="0.45" stroke-opacity="0.85"/>
<path d="M424.6 324.7C424.7 325.0 425.0 325.5 424.9 325.8C424.8 326.1 424.2 326.2 423.9 326.3C423.6 326.4 423.3 326.4 423.0 326.4C422.7 326.4 422.4 326.4 422.1 326.2C421.8 326.1 421.5 325.9 421.3 325.7C421.1 325.4 420.8 325.0 420.9 324.7C421.0 324.4 421.5 324.2 421.7 323.9C421.9 323.7 421.8 323.3 422.1 323.1C422.3 322.9 422.7 322.7 423.0 322.7C423.3 322.7 423.7 322.8 424.0 323.0C424.2 323.2 424.4 323.5 424.5 323.8C424.6 324.1 424.6 324.4 424.6 324.7Z" fill="#0c0c0c" fill-opacity="0.18" filter="url(#soft1)"/>
<path d="M416.4 303.5h0M428.6 322.1h0M426.3 331.7h0M428.4 313.5h0M405.0 309.3h0M416.4 316.2h0M406.0 305.8h0M420.2 319.3h0M411.3 331.8h0M420.4 301.4h0M413.2 325.2h0M409.8 322.1h0M400.1 309.7h0M426.9 318.8h0M421.4 306.3h0M415.9 317.7h0M408.5 320.7h0M417.0 331.9h0M418.4 313.2h0M403.9 305.0h0M424.3 303.4h0M403.2 305.5h0M416.7 326.3h0M419.6 325.8h0M402.0 300.4h0M424.7 310.3h0M422.9 311.3h0M405.4 308.5h0M403.2 328.9h0M418.6 311.2h0" stroke="#333" stroke-opacity="0.60" stroke-width="0.78" stroke-linecap="round"/>
</g>
<g clip-path="url(#ce7)">
<path d="M458.3 317.6h0M458.4 294.4h0M480.5 300.6h0M471.6 318.1h0M479.7 306.3h0M465.9 319.4h0M479.5 296.3h0M465.3 297.9h0M480.9 300.6h0M472.3 324.4h0M466.5 308.5h0M469.0 311.2h0M478.1 295.5h0M472.1 320.7h0M474.7 311.0h0M479.3 301.8h0M469.4 313.4h0M463.5 301.4h0M466.2 309.1h0M476.9 309.9h0M474.8 295.8h0M474.4 312.8h0M469.6 314.1h0M468.3 297.0h0M467.5 311.0h0M479.9 310.3h0M470.0 318.0h0M464.6 306.6h0M475.7 295.0h0M467.3 310.4h0M470.0 293.1h0M475.2 320.3h0M484.9 298.3h0M462.5 306.9h0M475.8 309.1h0M477.2 298.4h0M463.4 297.4h0M464.9 297.0h0M473.5 313.8h0M463.8 302.7h0M464.0 301.0h0M466.1 309.3h0M463.9 289.4h0M464.0 311.0h0M478.1 308.4h0M467.2 314.5h0M464.2 288.9h0M464.6 313.4h0M461.7 303.5h0M469.0 311.0h0M472.6 312.8h0M469.2 316.9h0M462.3 311.3h0M480.9 293.1h0M478.2 293.8h0M479.9 305.4h0M467.7 293.8h0M464.4 308.8h0M466.2 293.5h0M475.6 296.3h0M465.9 312.7h0M477.6 310.1h0M478.5 298.3h0M478.1 305.6h0M484.3 307.5h0M469.0 312.4h0M465.1 310.7h0M465.1 294.3h0M474.5 311.3h0M469.6 292.4h0M471.2 317.0h0M464.3 315.8h0M480.4 303.6h0M469.2 315.5h0M483.9 307.7h0M481.0 307.0h0M471.9 317.0h0" stroke="#333" stroke-opacity="0.75" stroke-width="0.78" stroke-linecap="round"/>
<path d="M480.2 303.5C480.5 305.1 480.1 307.7 479.3 309.0C478.5 310.3 476.6 310.8 475.3 311.5C474.0 312.2 472.8 313.1 471.5 313.1C470.2 313.2 468.8 312.7 467.5 312.0C466.1 311.3 464.0 310.6 463.4 309.2C462.8 307.8 463.5 305.2 463.8 303.5C464.1 301.8 464.6 300.6 465.1 299.0C465.6 297.4 466.0 295.1 467.1 294.2C468.2 293.2 470.1 293.1 471.5 293.1C472.9 293.2 474.7 293.7 475.7 294.7C476.7 295.7 476.9 297.7 477.6 299.2C478.4 300.7 479.9 301.9 480.2 303.5Z" fill="none" stroke="#222" stroke-width="0.45" stroke-opacity="0.85"/>
<path d="M477.6 303.5C477.8 305.0 478.7 307.1 478.3 308.3C477.9 309.5 476.1 310.3 475.0 310.8C473.8 311.3 472.6 311.4 471.5 311.3C470.4 311.2 469.2 311.0 468.2 310.5C467.2 309.9 466.0 309.0 465.3 307.9C464.6 306.7 463.7 304.8 463.9 303.5C464.0 302.2 465.7 301.1 466.4 299.9C467.1 298.7 467.3 297.2 468.1 296.3C469.0 295.4 470.3 294.6 471.5 294.6C472.7 294.5 474.1 295.1 475.1 296.0C476.0 296.8 476.8 298.2 477.2 299.5C477.6 300.7 477.4 302.0 477.6 303.5Z" fill="none" stroke="#222" stroke-width="0.45" stroke-opacity="0.85"/>
<path d="M476.4 303.5C476.4 304.6 476.5 305.7 476.2 306.8C475.9 307.9 475.5 309.7 474.7 310.2C473.9 310.7 472.5 310.0 471.5 309.9C470.5 309.7 469.6 309.6 468.9 309.1C468.1 308.6 467.5 307.7 466.9 306.7C466.3 305.8 465.4 304.6 465.4 303.5C465.3 302.4 466.0 300.9 466.6 300.0C467.2 299.2 468.3 299.1 469.1 298.5C470.0 297.9 470.6 296.5 471.5 296.4C472.4 296.2 473.6 296.8 474.4 297.4C475.2 298.0 476.1 299.0 476.5 300.0C476.8 301.0 476.5 302.4 476.4 303.5Z" fill="none" stroke="#222" stroke-width="0.45" stroke-opacity="0.85"/>
<path d="M475.7 303.5C475.6 304.3 475.0 304.9 474.6 305.7C474.3 306.5 474.3 307.7 473.8 308.3C473.3 308.9 472.2 309.2 471.5 309.1C470.8 308.9 470.2 308.1 469.6 307.6C469.0 307.1 468.4 306.7 468.0 306.0C467.6 305.3 467.4 304.4 467.3 303.5C467.2 302.6 467.0 301.3 467.4 300.6C467.7 299.9 468.9 299.7 469.6 299.4C470.3 299.1 470.8 298.9 471.5 298.8C472.2 298.7 473.1 298.4 473.8 298.7C474.4 299.0 474.9 300.1 475.3 300.9C475.6 301.7 475.8 302.7 475.7 303.5Z" fill="none" stroke="#222" stroke-width="0.45" stroke-opacity="0.85"/>
<path d="M477.1 303.5C477.0 304.6 476.4 305.7 475.9 306.6C475.3 307.4 474.6 307.8 473.9 308.5C473.2 309.3 472.3 311.2 471.5 311.3C470.7 311.4 469.5 310.0 468.8 309.2C468.1 308.4 467.6 307.5 467.2 306.5C466.8 305.6 466.4 304.6 466.3 303.5C466.2 302.4 466.1 301.1 466.5 300.0C466.9 298.9 467.6 297.4 468.5 297.1C469.3 296.8 470.5 298.0 471.5 298.1C472.5 298.2 473.4 297.4 474.2 297.7C475.1 298.1 476.1 299.0 476.6 299.9C477.1 300.9 477.3 302.4 477.1 303.5Z" fill="#0c0c0c" fill-opacity="0.79" filter="url(#soft1)"/>
<path d="M489.8 299.2h0M484.2 292.3h0M475.3 312.6h0M484.1 291.6h0M490.5 308.7h0M492.5 299.7h0M479.0 286.0h0M483.5 290.2h0M475.9 306.8h0M494.6 308.3h0M477.0 302.8h0M493.2 297.8h0M494.6 307.3h0M481.0 289.9h0M477.6 300.9h0M492.9 301.3h0M484.2 315.5h0M493.3 308.1h0M486.8 314.0h0M480.8 314.6h0M479.3 292.0h0M485.0 317.5h0M478.5 306.2h0M494.2 298.0h0M490.1 296.7h0M489.6 312.2h0M487.9 292.4h0M477.3 300.7h0M481.2 296.8h0M477.4 297.2h0M490.4 289.0h0M489.9 309.9h0M486.0 311.9h0M493.2 308.1h0M482.3 295.7h0M476.1 307.1h0M475.7 305.7h0M478.8 311.6h0M490.8 304.1h0M491.4 303.0h0M483.0 296.2h0M491.7 302.3h0M476.6 304.2h0M478.2 306.9h0M491.9 304.0h0M493.6 296.8h0M492.9 298.6h0M478.2 292.4h0M487.9 309.3h0M493.0 305.5h0M482.2 312.2h0M489.6 320.0h0M494.1 297.1h0M490.1 317.1h0M483.8 293.8h0M477.9 319.1h0M480.4 314.0h0M475.4 315.9h0M488.9 292.6h0M484.7 312.6h0M476.5 293.1h0M487.2 295.1h0M492.0 299.8h0M469.6 304.2h0M481.7 313.7h0M479.2 299.8h0M490.1 316.2h0M475.9 307.5h0M491.5 305.9h0M478.5 306.4h0M492.4 303.7h0M490.7 290.3h0" stroke="#333" stroke-opacity="0.75" stroke-width="0.78" stroke-linecap="round"/>
<path d="M491.1 303.5C491.0 305.2 491.1 306.7 490.7 308.3C490.3 310.0 489.7 312.7 488.6 313.5C487.5 314.2 485.5 313.2 484.2 312.9C482.9 312.7 481.6 312.5 480.5 311.8C479.5 311.0 478.6 309.7 477.8 308.3C477.0 306.9 475.8 305.2 475.7 303.5C475.6 301.8 476.5 299.6 477.3 298.3C478.2 297.1 479.8 297.0 480.9 296.1C482.1 295.2 483.0 293.2 484.2 292.9C485.4 292.7 487.1 293.6 488.2 294.4C489.4 295.3 490.6 296.8 491.1 298.3C491.6 299.8 491.2 301.8 491.1 303.5Z" fill="none" stroke="#222" stroke-width="0.45" stroke-opacity="0.85"/>
<path d="M490.7 303.5C490.6 304.8 489.5 305.8 489.0 307.1C488.5 308.4 488.5 310.4 487.7 311.3C486.9 312.2 485.3 312.8 484.2 312.6C483.1 312.4 482.1 311.0 481.2 310.2C480.3 309.3 479.4 308.7 478.8 307.5C478.2 306.4 478.0 305.0 477.8 303.5C477.7 302.0 477.3 299.9 477.9 298.7C478.4 297.6 480.2 297.3 481.2 296.8C482.3 296.3 483.1 296.1 484.2 295.9C485.3 295.7 486.7 295.1 487.7 295.6C488.7 296.2 489.5 297.9 490.0 299.2C490.5 300.5 490.9 302.2 490.7 303.5Z" fill="none" stroke="#222" stroke-width="0.45" stroke-opacity="0.85"/>
<path d="M489.6 303.5C489.5 304.6 489.0 305.8 488.5 306.7C488.0 307.6 487.2 308.0 486.5 308.7C485.8 309.5 485.0 311.1 484.2 311.2C483.4 311.3 482.3 310.1 481.6 309.3C480.9 308.6 480.4 307.6 480.0 306.6C479.6 305.7 479.3 304.6 479.2 303.5C479.1 302.4 479.1 301.0 479.5 300.0C479.8 298.9 480.5 297.4 481.3 297.1C482.1 296.7 483.3 297.6 484.2 297.7C485.1 297.8 486.0 297.3 486.8 297.7C487.6 298.0 488.5 298.9 489.0 299.9C489.5 300.9 489.7 302.4 489.6 303.5Z" fill="none" stroke="#222" stroke-width="0.45" stroke-opacity="0.85"/>
<path d="M488.3 303.5C488.3 304.4 488.1 305.5 487.7 306.1C487.3 306.8 486.5 307.0 486.0 307.4C485.4 307.8 484.9 308.4 484.2 308.6C483.5 308.8 482.5 309.0 481.9 308.6C481.4 308.1 481.3 306.7 481.0 305.9C480.8 305.0 480.4 304.3 480.4 303.5C480.4 302.7 480.6 301.8 480.9 301.0C481.2 300.2 481.5 299.0 482.0 298.6C482.6 298.1 483.6 298.1 484.2 298.3C484.8 298.5 485.3 299.3 485.9 299.7C486.5 300.1 487.4 300.1 487.9 300.8C488.3 301.4 488.3 302.6 488.3 303.5Z" fill="none" stroke="#222" stroke-width="0.45" stroke-opacity="0.85"/>
<path d="M489.8 303.5C489.9 304.6 489.3 306.0 488.8 306.9C488.2 307.9 487.5 308.8 486.7 309.2C486.0 309.6 485.1 308.9 484.2 309.0C483.3 309.2 482.2 310.2 481.4 309.9C480.6 309.5 479.7 308.2 479.4 307.1C479.1 306.0 479.6 304.6 479.7 303.5C479.7 302.4 479.6 301.3 480.0 300.3C480.3 299.4 480.9 298.5 481.7 297.8C482.4 297.0 483.4 295.7 484.2 295.8C485.0 296.0 485.8 297.7 486.4 298.4C487.1 299.2 487.7 299.6 488.2 300.5C488.8 301.3 489.7 302.4 489.8 303.5Z" fill="#0c0c0c" fill-opacity="0.79" filter="url(#soft1)"/>
<path d="M474.4 316.9h0M467.3 301.1h0M467.2 319.0h0M466.6 312.4h0M491.6 304.2h0M488.7 321.3h0M465.1 307.2h0M466.3 318.6h0M471.8 315.9h0M463.9 311.9h0M495.0 298.4h0M490.3 308.8h0M484.8 298.9h0M489.1 312.7h0M472.6 318.3h0M459.0 305.1h0M465.6 301.4h0M473.0 317.1h0M496.1 311.9h0M485.9 322.6h0M489.2 314.1h0M467.4 301.3h0M461.8 315.0h0M459.5 308.1h0M490.3 316.6h0M482.7 317.0h0M490.7 316.7h0M487.8 302.7h0M466.6 308.8h0M476.9 318.0h0M480.0 321.5h0M467.0 307.2h0M462.1 304.7h0M491.5 314.6h0M464.9 312.8h0M484.9 304.8h0M478.0 297.4h0M487.8 315.4h0M495.3 317.8h0M482.4 304.4h0M490.7 308.0h0M464.6 307.0h0M478.8 303.7h0M490.7 313.0h0M488.1 310.6h0M462.1 304.3h0M473.8 303.4h0M462.0 314.3h0M490.0 302.3h0M460.9 306.2h0M488.8 321.9h0M476.5 299.6h0M469.6 300.9h0M486.8 299.1h0M475.7 301.0h0M491.9 307.1h0" stroke="#333" stroke-opacity="0.75" stroke-width="0.78" stroke-linecap="round"/>
<path d="M492.6 310.0C492.4 311.3 489.7 312.6 488.3 313.7C486.8 314.8 485.6 316.0 483.7 316.7C481.9 317.3 479.4 317.6 477.0 317.8C474.6 318.0 471.0 318.5 469.0 317.9C467.1 317.2 466.1 315.2 465.4 313.8C464.6 312.5 464.8 311.4 464.6 310.0C464.4 308.6 463.1 306.9 464.0 305.7C464.9 304.5 467.6 303.5 469.7 302.8C471.9 302.2 474.8 301.6 477.0 301.8C479.2 302.0 480.9 303.3 483.0 304.0C485.1 304.7 488.0 304.8 489.6 305.8C491.2 306.8 492.8 308.7 492.6 310.0Z" fill="none" stroke="#222" stroke-width="0.45" stroke-opacity="0.85"/>
<path d="M489.4 310.0C489.6 311.0 488.0 312.4 486.8 313.2C485.6 314.1 483.7 314.6 482.1 315.0C480.5 315.5 478.8 315.9 477.0 316.0C475.2 316.1 473.2 316.0 471.4 315.6C469.6 315.2 467.0 314.5 466.3 313.5C465.7 312.6 467.2 311.1 467.5 310.0C467.7 308.9 467.2 307.9 467.8 307.0C468.4 306.0 469.6 304.8 471.1 304.2C472.7 303.6 475.1 303.4 477.0 303.5C478.9 303.6 481.0 304.1 482.3 304.7C483.7 305.3 484.1 306.4 485.3 307.3C486.5 308.1 489.1 309.0 489.4 310.0Z" fill="none" stroke="#222" stroke-width="0.45" stroke-opacity="0.85"/>
<path d="M484.6 310.0C484.8 310.8 485.5 312.0 484.9 312.6C484.3 313.2 482.1 313.5 480.8 313.7C479.5 314.0 478.3 314.3 477.0 314.3C475.7 314.3 474.5 314.1 473.2 313.8C471.9 313.5 470.2 313.1 469.5 312.5C468.7 311.9 468.4 310.7 468.7 310.0C469.0 309.3 470.5 308.8 471.2 308.1C471.9 307.4 471.9 306.4 472.9 305.9C473.8 305.4 475.6 305.2 477.0 305.2C478.4 305.2 480.1 305.5 481.1 305.9C482.2 306.4 482.6 307.3 483.2 308.0C483.8 308.6 484.3 309.2 484.6 310.0Z" fill="none" stroke="#222" stroke-width="0.45" stroke-opacity="0.85"/>
<path d="M489.4 301.3h0M484.9 303.0h0M482.9 324.1h0M466.3 327.8h0M487.7 307.6h0M469.3 313.4h0M493.9 317.4h0M466.3 300.6h0M466.2 324.0h0M469.0 316.6h0M473.0 320.6h0M476.5 304.3h0M495.3 316.2h0M488.2 324.2h0M498.1 300.4h0M475.0 304.5h0M481.1 326.2h0M492.4 301.1h0M468.9 324.5h0M487.8 311.8h0M480.1 304.7h0M494.1 311.8h0M495.2 318.3h0M464.9 309.9h0M470.2 326.8h0M484.4 301.3h0M468.4 310.8h0M479.8 317.3h0M476.7 310.6h0M462.2 317.4h0" stroke="#333" stroke-opacity="0.60" stroke-width="0.78" stroke-linecap="round"/>
</g>
<text x="23.8" y="293.8" font-size="5" text-anchor="end" fill="#222" stroke="#222" stroke-width="0.08">10<tspan font-size="3.3" dy="-1.8">5</tspan></text>
<text x="23.8" y="307.8" font-size="5" text-anchor="end" fill="#222" stroke="#222" stroke-width="0.08">10<tspan font-size="3.3" dy="-1.8">4</tspan></text>
<text x="23.8" y="322.3" font-size="5" text-anchor="end" fill="#222" stroke="#222" stroke-width="0.08">10<tspan font-size="3.3" dy="-1.8">3</tspan></text>
<text x="23.8" y="331.8" font-size="5" text-anchor="end" fill="#222" stroke="#222" stroke-width="0.08">0</text>
<text x="0.0" y="0.0" font-size="9.00" text-anchor="middle" font-weight="normal" fill="#111" transform="translate(13.2,315.5) rotate(-90)" stroke="#111" stroke-width="0.24">&#8212;FLAER</text>
<line x1="9.9" y1="296" x2="9.9" y2="287" stroke="#111" stroke-width="0.9" marker-end="url(#arr)"/>
<line x1="26" y1="348.8" x2="251" y2="348.8" stroke="#222" stroke-width="0.9"/>
<line x1="281" y1="348.8" x2="505.5" y2="348.8" stroke="#222" stroke-width="0.9" marker-end="url(#arr)"/>
<text x="266.2" y="351.6" font-size="8.60" text-anchor="middle" font-weight="normal" fill="#111"  stroke="#111" stroke-width="0.24">PLZF</text>
<rect x="26.5" y="368.5" width="48.0" height="47.0" fill="none" stroke="#4a4a4a" stroke-width="1"/>
<line x1="40.5" y1="368.5" x2="40.5" y2="415.5" stroke="#4a4a4a" stroke-width="1"/>
<line x1="26.5" y1="401.5" x2="74.5" y2="401.5" stroke="#4a4a4a" stroke-width="1"/>
<text x="27.5" y="372.7" font-size="3.4" fill="#444" stroke="#444" stroke-width="0.08">67.6</text>
<text x="72.7" y="372.7" font-size="3.4" fill="#444" text-anchor="end" stroke="#444" stroke-width="0.08">0.26</text>
<text x="27.5" y="414.6" font-size="3.4" fill="#444" stroke="#444" stroke-width="0.08">32</text>
<text x="72.7" y="414.6" font-size="3.4" fill="#444" text-anchor="end" stroke="#444" stroke-width="0.08">0</text>
<text x="32.1" y="423.0" font-size="5" text-anchor="middle" fill="#222" stroke="#222" stroke-width="0.08">0</text>
<text x="43.4" y="423.0" font-size="5" text-anchor="middle" fill="#222" stroke="#222" stroke-width="0.08">10<tspan font-size="3.3" dy="-1.8">3</tspan></text>
<text x="57.4" y="423.0" font-size="5" text-anchor="middle" fill="#222" stroke="#222" stroke-width="0.08">10<tspan font-size="3.3" dy="-1.8">4</tspan></text>
<text x="69.0" y="423.0" font-size="5" text-anchor="middle" fill="#222" stroke="#222" stroke-width="0.08">10<tspan font-size="3.3" dy="-1.8">5</tspan></text>
<rect x="88.5" y="368.5" width="48.0" height="47.0" fill="none" stroke="#4a4a4a" stroke-width="1"/>
<line x1="102.5" y1="368.5" x2="102.5" y2="415.5" stroke="#4a4a4a" stroke-width="1"/>
<line x1="88.5" y1="401.5" x2="136.5" y2="401.5" stroke="#4a4a4a" stroke-width="1"/>
<text x="89.7" y="372.7" font-size="3.4" fill="#444" stroke="#444" stroke-width="0.08">5.66</text>
<text x="134.9" y="372.7" font-size="3.4" fill="#444" text-anchor="end" stroke="#444" stroke-width="0.08">86.0</text>
<text x="89.7" y="414.6" font-size="3.4" fill="#444" stroke="#444" stroke-width="0.08">1.09</text>
<text x="134.9" y="414.6" font-size="3.4" fill="#444" text-anchor="end" stroke="#444" stroke-width="0.08">0.612</text>
<text x="94.3" y="423.0" font-size="5" text-anchor="middle" fill="#222" stroke="#222" stroke-width="0.08">0</text>
<text x="105.6" y="423.0" font-size="5" text-anchor="middle" fill="#222" stroke="#222" stroke-width="0.08">10<tspan font-size="3.3" dy="-1.8">3</tspan></text>
<text x="119.6" y="423.0" font-size="5" text-anchor="middle" fill="#222" stroke="#222" stroke-width="0.08">10<tspan font-size="3.3" dy="-1.8">4</tspan></text>
<text x="131.2" y="423.0" font-size="5" text-anchor="middle" fill="#222" stroke="#222" stroke-width="0.08">10<tspan font-size="3.3" dy="-1.8">5</tspan></text>
<rect x="150.5" y="368.5" width="48.0" height="47.0" fill="none" stroke="#4a4a4a" stroke-width="1"/>
<line x1="164.5" y1="368.5" x2="164.5" y2="415.5" stroke="#4a4a4a" stroke-width="1"/>
<line x1="150.5" y1="401.5" x2="198.5" y2="401.5" stroke="#4a4a4a" stroke-width="1"/>
<text x="151.7" y="372.7" font-size="3.4" fill="#444" stroke="#444" stroke-width="0.08">2.80</text>
<text x="196.9" y="372.7" font-size="3.4" fill="#444" text-anchor="end" stroke="#444" stroke-width="0.08">38.0</text>
<text x="151.7" y="414.6" font-size="3.4" fill="#444" stroke="#444" stroke-width="0.08">35</text>
<text x="196.9" y="414.6" font-size="3.4" fill="#444" text-anchor="end" stroke="#444" stroke-width="0.08">2.35</text>
<text x="156.3" y="423.0" font-size="5" text-anchor="middle" fill="#222" stroke="#222" stroke-width="0.08">0</text>
<text x="167.6" y="423.0" font-size="5" text-anchor="middle" fill="#222" stroke="#222" stroke-width="0.08">10<tspan font-size="3.3" dy="-1.8">3</tspan></text>
<text x="181.6" y="423.0" font-size="5" text-anchor="middle" fill="#222" stroke="#222" stroke-width="0.08">10<tspan font-size="3.3" dy="-1.8">4</tspan></text>
<text x="193.2" y="423.0" font-size="5" text-anchor="middle" fill="#222" stroke="#222" stroke-width="0.08">10<tspan font-size="3.3" dy="-1.8">5</tspan></text>
<rect x="212.5" y="368.5" width="48.0" height="47.0" fill="none" stroke="#4a4a4a" stroke-width="1"/>
<line x1="226.5" y1="368.5" x2="226.5" y2="415.5" stroke="#4a4a4a" stroke-width="1"/>
<line x1="212.5" y1="401.5" x2="260.5" y2="401.5" stroke="#4a4a4a" stroke-width="1"/>
<text x="213.7" y="372.7" font-size="3.4" fill="#444" stroke="#444" stroke-width="0.08">3.47</text>
<text x="258.9" y="372.7" font-size="3.4" fill="#444" text-anchor="end" stroke="#444" stroke-width="0.08">85.4</text>
<text x="213.7" y="414.6" font-size="3.4" fill="#444" stroke="#444" stroke-width="0.08">1.89</text>
<text x="258.9" y="414.6" font-size="3.4" fill="#444" text-anchor="end" stroke="#444" stroke-width="0.08">1.71</text>
<text x="218.3" y="423.0" font-size="5" text-anchor="middle" fill="#222" stroke="#222" stroke-width="0.08">0</text>
<text x="229.6" y="423.0" font-size="5" text-anchor="middle" fill="#222" stroke="#222" stroke-width="0.08">10<tspan font-size="3.3" dy="-1.8">3</tspan></text>
<text x="243.6" y="423.0" font-size="5" text-anchor="middle" fill="#222" stroke="#222" stroke-width="0.08">10<tspan font-size="3.3" dy="-1.8">4</tspan></text>
<text x="255.2" y="423.0" font-size="5" text-anchor="middle" fill="#222" stroke="#222" stroke-width="0.08">10<tspan font-size="3.3" dy="-1.8">5</tspan></text>
<rect x="274.5" y="368.5" width="48.0" height="47.0" fill="none" stroke="#4a4a4a" stroke-width="1"/>
<line x1="289.5" y1="368.5" x2="289.5" y2="415.5" stroke="#4a4a4a" stroke-width="1"/>
<line x1="274.5" y1="401.5" x2="322.5" y2="401.5" stroke="#4a4a4a" stroke-width="1"/>
<text x="275.8" y="372.7" font-size="3.4" fill="#444" stroke="#444" stroke-width="0.08">36.1</text>
<text x="321.0" y="372.7" font-size="3.4" fill="#444" text-anchor="end" stroke="#444" stroke-width="0.08">3.00</text>
<text x="275.8" y="414.6" font-size="3.4" fill="#444" stroke="#444" stroke-width="0.08">36</text>
<text x="321.0" y="414.6" font-size="3.4" fill="#444" text-anchor="end" stroke="#444" stroke-width="0.08">0.78</text>
<text x="280.4" y="423.0" font-size="5" text-anchor="middle" fill="#222" stroke="#222" stroke-width="0.08">0</text>
<text x="291.7" y="423.0" font-size="5" text-anchor="middle" fill="#222" stroke="#222" stroke-width="0.08">10<tspan font-size="3.3" dy="-1.8">3</tspan></text>
<text x="305.7" y="423.0" font-size="5" text-anchor="middle" fill="#222" stroke="#222" stroke-width="0.08">10<tspan font-size="3.3" dy="-1.8">4</tspan></text>
<text x="317.3" y="423.0" font-size="5" text-anchor="middle" fill="#222" stroke="#222" stroke-width="0.08">10<tspan font-size="3.3" dy="-1.8">5</tspan></text>
<rect x="336.5" y="368.5" width="48.0" height="47.0" fill="none" stroke="#4a4a4a" stroke-width="1"/>
<line x1="351.5" y1="368.5" x2="351.5" y2="415.5" stroke="#4a4a4a" stroke-width="1"/>
<line x1="336.5" y1="401.5" x2="384.5" y2="401.5" stroke="#4a4a4a" stroke-width="1"/>
<text x="337.9" y="372.7" font-size="3.4" fill="#444" stroke="#444" stroke-width="0.08">38.5</text>
<text x="383.1" y="372.7" font-size="3.4" fill="#444" text-anchor="end" stroke="#444" stroke-width="0.08">35.0</text>
<text x="337.9" y="414.6" font-size="3.4" fill="#444" stroke="#444" stroke-width="0.08">13</text>
<text x="383.1" y="414.6" font-size="3.4" fill="#444" text-anchor="end" stroke="#444" stroke-width="0.08">0.39</text>
<text x="342.5" y="423.0" font-size="5" text-anchor="middle" fill="#222" stroke="#222" stroke-width="0.08">0</text>
<text x="353.8" y="423.0" font-size="5" text-anchor="middle" fill="#222" stroke="#222" stroke-width="0.08">10<tspan font-size="3.3" dy="-1.8">3</tspan></text>
<text x="367.8" y="423.0" font-size="5" text-anchor="middle" fill="#222" stroke="#222" stroke-width="0.08">10<tspan font-size="3.3" dy="-1.8">4</tspan></text>
<text x="379.4" y="423.0" font-size="5" text-anchor="middle" fill="#222" stroke="#222" stroke-width="0.08">10<tspan font-size="3.3" dy="-1.8">5</tspan></text>
<rect x="398.5" y="368.5" width="48.0" height="47.0" fill="none" stroke="#4a4a4a" stroke-width="1"/>
<line x1="413.5" y1="368.5" x2="413.5" y2="415.5" stroke="#4a4a4a" stroke-width="1"/>
<line x1="398.5" y1="401.5" x2="446.5" y2="401.5" stroke="#4a4a4a" stroke-width="1"/>
<text x="399.9" y="372.7" font-size="3.4" fill="#444" stroke="#444" stroke-width="0.08">97.1</text>
<text x="445.1" y="372.7" font-size="3.4" fill="#444" text-anchor="end" stroke="#444" stroke-width="0.08">0.36</text>
<text x="399.9" y="414.6" font-size="3.4" fill="#444" stroke="#444" stroke-width="0.08">1.36</text>
<text x="445.1" y="414.6" font-size="3.4" fill="#444" text-anchor="end" stroke="#444" stroke-width="0.08">0.09</text>
<text x="404.5" y="423.0" font-size="5" text-anchor="middle" fill="#222" stroke="#222" stroke-width="0.08">0</text>
<text x="415.8" y="423.0" font-size="5" text-anchor="middle" fill="#222" stroke="#222" stroke-width="0.08">10<tspan font-size="3.3" dy="-1.8">3</tspan></text>
<text x="429.8" y="423.0" font-size="5" text-anchor="middle" fill="#222" stroke="#222" stroke-width="0.08">10<tspan font-size="3.3" dy="-1.8">4</tspan></text>
<text x="441.4" y="423.0" font-size="5" text-anchor="middle" fill="#222" stroke="#222" stroke-width="0.08">10<tspan font-size="3.3" dy="-1.8">5</tspan></text>
<rect x="460.5" y="368.5" width="48.0" height="47.0" fill="none" stroke="#4a4a4a" stroke-width="1"/>
<line x1="475.5" y1="368.5" x2="475.5" y2="415.5" stroke="#4a4a4a" stroke-width="1"/>
<line x1="460.5" y1="401.5" x2="508.5" y2="401.5" stroke="#4a4a4a" stroke-width="1"/>
<text x="462.0" y="372.7" font-size="3.4" fill="#444" stroke="#444" stroke-width="0.08">66.8</text>
<text x="507.2" y="372.7" font-size="3.4" fill="#444" text-anchor="end" stroke="#444" stroke-width="0.08">30.0</text>
<text x="462.0" y="414.6" font-size="3.4" fill="#444" stroke="#444" stroke-width="0.08">1.12</text>
<text x="507.2" y="414.6" font-size="3.4" fill="#444" text-anchor="end" stroke="#444" stroke-width="0.08">0.210</text>
<text x="466.6" y="423.0" font-size="5" text-anchor="middle" fill="#222" stroke="#222" stroke-width="0.08">0</text>
<text x="477.9" y="423.0" font-size="5" text-anchor="middle" fill="#222" stroke="#222" stroke-width="0.08">10<tspan font-size="3.3" dy="-1.8">3</tspan></text>
<text x="491.9" y="423.0" font-size="5" text-anchor="middle" fill="#222" stroke="#222" stroke-width="0.08">10<tspan font-size="3.3" dy="-1.8">4</tspan></text>
<text x="503.5" y="423.0" font-size="5" text-anchor="middle" fill="#222" stroke="#222" stroke-width="0.08">10<tspan font-size="3.3" dy="-1.8">5</tspan></text>
<g clip-path="url(#cf0)">
<path d="M40.9 380.9h0M38.7 383.0h0M34.8 388.8h0M34.7 389.6h0M31.2 378.7h0M32.5 380.8h0" stroke="#333" stroke-opacity="0.75" stroke-width="0.78" stroke-linecap="round"/>
<path d="M39.2 381.6C39.4 382.6 39.8 384.1 39.5 384.9C39.2 385.8 38.1 386.1 37.4 386.5C36.8 386.8 36.1 387.1 35.5 387.1C34.9 387.1 34.2 386.8 33.6 386.4C33.0 386.0 32.2 385.5 31.8 384.7C31.4 383.9 31.1 382.5 31.2 381.6C31.4 380.7 32.2 380.0 32.6 379.1C32.9 378.3 33.0 377.0 33.4 376.4C33.9 375.8 34.8 375.5 35.5 375.5C36.2 375.5 37.1 375.8 37.6 376.4C38.1 376.9 38.4 378.1 38.7 378.9C39.0 379.8 39.1 380.6 39.2 381.6Z" fill="none" stroke="#222" stroke-width="0.45" stroke-opacity="0.85"/>
<path d="M38.4 381.6C38.4 382.4 38.7 383.3 38.5 384.1C38.3 384.9 37.9 386.0 37.4 386.3C36.9 386.6 36.1 386.2 35.5 386.1C34.9 386.0 34.4 386.0 33.9 385.7C33.4 385.3 33.0 384.6 32.7 384.0C32.3 383.3 31.7 382.4 31.7 381.6C31.7 380.8 32.3 379.9 32.7 379.3C33.1 378.6 33.6 378.4 34.0 377.9C34.5 377.4 35.0 376.5 35.5 376.4C36.0 376.3 36.7 376.8 37.2 377.2C37.7 377.7 38.3 378.4 38.5 379.1C38.7 379.8 38.4 380.8 38.4 381.6Z" fill="none" stroke="#222" stroke-width="0.45" stroke-opacity="0.85"/>
<path d="M38.1 381.6C38.1 382.2 37.7 382.7 37.5 383.3C37.4 383.9 37.4 385.0 37.0 385.4C36.7 385.8 36.0 385.8 35.5 385.7C35.0 385.5 34.6 385.1 34.3 384.7C33.9 384.4 33.5 384.0 33.2 383.5C33.0 383.0 32.8 382.3 32.7 381.6C32.7 380.9 32.6 379.9 32.9 379.4C33.1 378.9 33.9 378.9 34.3 378.6C34.8 378.4 35.1 377.9 35.5 377.8C35.9 377.7 36.5 377.7 37.0 378.0C37.4 378.2 37.7 379.0 37.9 379.6C38.1 380.2 38.2 381.0 38.1 381.6Z" fill="none" stroke="#222" stroke-width="0.45" stroke-opacity="0.85"/>
<path d="M37.6 381.6C37.6 382.1 37.3 382.5 37.1 383.0C36.9 383.4 36.7 383.7 36.5 384.0C36.2 384.4 35.8 385.0 35.5 385.0C35.2 385.0 34.8 384.4 34.5 384.1C34.2 383.7 34.0 383.4 33.8 383.0C33.6 382.6 33.6 382.1 33.5 381.6C33.5 381.1 33.4 380.4 33.6 380.0C33.7 379.5 34.1 379.0 34.4 378.9C34.7 378.7 35.1 379.1 35.5 379.1C35.9 379.1 36.3 378.7 36.6 378.9C36.9 379.1 37.2 379.6 37.4 380.0C37.5 380.5 37.7 381.1 37.6 381.6Z" fill="none" stroke="#222" stroke-width="0.45" stroke-opacity="0.85"/>
<path d="M38.1 381.6C38.0 382.2 37.9 383.0 37.7 383.4C37.4 383.9 36.9 383.9 36.5 384.2C36.2 384.6 35.9 385.3 35.5 385.4C35.1 385.6 34.4 385.5 34.1 385.1C33.8 384.7 33.7 383.8 33.6 383.2C33.4 382.6 33.1 382.2 33.1 381.6C33.1 381.0 33.2 380.4 33.4 379.8C33.6 379.2 33.7 378.3 34.1 378.0C34.4 377.7 35.1 378.1 35.5 378.3C35.9 378.4 36.2 378.7 36.6 378.9C37.0 379.1 37.6 379.2 37.9 379.6C38.1 380.1 38.1 381.0 38.1 381.6Z" fill="#0c0c0c" fill-opacity="0.07" filter="url(#soft1)"/>
<path d="M28.1 406.5h0M35.8 403.4h0M27.2 401.3h0M27.1 401.1h0M37.4 401.6h0M41.3 403.2h0M30.8 419.6h0M35.7 401.2h0M30.7 404.6h0M28.1 417.4h0M44.9 412.5h0M31.0 414.8h0M22.8 410.3h0M22.6 421.2h0M31.3 413.6h0M41.3 415.4h0M20.2 413.0h0M28.7 411.0h0M39.8 416.6h0M42.2 411.8h0M33.9 402.4h0M25.6 406.2h0M43.9 404.7h0M28.2 405.5h0M27.4 405.2h0M42.6 408.5h0M25.0 413.3h0M43.4 400.9h0M43.9 403.2h0M33.6 416.4h0M38.2 413.8h0M34.2 415.4h0M29.2 412.8h0M37.9 416.9h0M26.9 399.3h0M38.9 418.9h0M29.0 405.1h0M50.7 416.6h0M29.8 416.2h0M44.7 419.1h0M40.9 403.7h0M27.7 401.1h0M30.8 416.1h0M35.0 402.1h0M31.1 401.8h0M29.8 416.6h0M45.2 411.7h0M29.5 404.0h0M27.7 404.4h0M34.5 418.6h0M41.2 406.2h0M29.1 406.8h0M29.1 404.5h0M34.0 403.4h0M39.0 414.3h0M40.0 414.6h0M37.5 403.7h0M27.7 412.4h0" stroke="#333" stroke-opacity="0.75" stroke-width="0.78" stroke-linecap="round"/>
<path d="M43.5 409.0C43.3 410.3 42.5 411.4 41.7 412.5C41.0 413.5 40.1 414.4 39.0 415.1C37.8 415.8 36.4 416.5 35.0 416.6C33.6 416.8 31.4 416.9 30.3 416.2C29.3 415.5 29.4 413.4 28.8 412.2C28.2 411.0 27.1 410.2 26.9 409.0C26.7 407.8 26.7 406.2 27.3 405.1C28.0 403.9 29.4 402.8 30.7 402.3C31.9 401.8 33.7 401.7 35.0 401.8C36.3 402.0 37.3 402.9 38.6 403.4C40.0 403.9 42.3 403.9 43.2 404.8C44.0 405.7 43.7 407.7 43.5 409.0Z" fill="none" stroke="#222" stroke-width="0.45" stroke-opacity="0.85"/>
<path d="M42.5 409.0C42.5 409.9 41.1 411.0 40.4 411.8C39.6 412.6 39.0 413.3 38.1 413.8C37.2 414.3 36.1 414.4 35.0 414.5C33.9 414.7 32.4 415.0 31.4 414.5C30.4 414.1 29.5 412.9 29.2 412.0C28.8 411.1 29.5 410.0 29.5 409.0C29.5 408.0 28.7 406.8 29.1 406.0C29.5 405.1 30.6 404.3 31.6 403.8C32.6 403.2 33.9 402.8 35.0 402.9C36.1 403.1 37.0 404.0 37.9 404.5C38.8 405.0 39.7 405.5 40.4 406.2C41.2 407.0 42.5 408.1 42.5 409.0Z" fill="none" stroke="#222" stroke-width="0.45" stroke-opacity="0.85"/>
<path d="M40.0 409.0C40.2 409.7 39.9 410.7 39.5 411.3C39.0 411.9 37.9 412.1 37.2 412.4C36.4 412.6 35.7 413.0 35.0 413.0C34.3 413.1 33.5 412.9 32.7 412.6C31.9 412.3 30.7 412.0 30.4 411.4C30.0 410.8 30.5 409.7 30.6 409.0C30.8 408.3 31.0 407.8 31.3 407.1C31.6 406.4 31.9 405.5 32.5 405.1C33.1 404.7 34.2 404.6 35.0 404.7C35.8 404.7 36.8 404.9 37.4 405.3C38.0 405.7 38.1 406.6 38.5 407.2C38.9 407.8 39.9 408.3 40.0 409.0Z" fill="none" stroke="#222" stroke-width="0.45" stroke-opacity="0.85"/>
<path d="M39.5 409.0C39.6 409.8 40.5 411.0 40.2 411.7C39.9 412.4 38.5 412.7 37.6 413.0C36.7 413.3 35.8 413.3 35.0 413.2C34.2 413.2 33.3 413.1 32.6 412.8C31.8 412.5 30.9 412.1 30.3 411.4C29.7 410.8 29.0 409.7 29.2 409.0C29.4 408.3 30.8 407.8 31.3 407.1C31.9 406.4 31.8 405.6 32.4 405.1C33.1 404.5 34.1 404.1 35.0 404.0C35.9 404.0 37.0 404.4 37.7 404.8C38.4 405.3 38.9 406.1 39.2 406.8C39.5 407.5 39.3 408.2 39.5 409.0Z" fill="#0c0c0c" fill-opacity="0.81" filter="url(#soft1)"/>
<path d="M36.3 395.1h0M36.4 395.9h0M36.8 392.0h0M37.9 391.1h0M37.7 397.2h0M38.2 391.7h0" stroke="#333" stroke-opacity="0.60" stroke-width="0.78" stroke-linecap="round"/>
</g>
<g clip-path="url(#cf1)">
<path d="M118.1 391.8h0M114.0 380.7h0M126.9 382.0h0M113.9 382.6h0M114.0 389.1h0M130.5 380.8h0M125.0 385.2h0M131.3 383.8h0M113.6 381.5h0M113.9 379.3h0M113.8 389.0h0M127.8 393.6h0M126.9 377.4h0M125.5 391.8h0M120.4 394.6h0M126.2 380.8h0M113.8 391.4h0M121.5 376.1h0M126.8 376.2h0M124.5 385.8h0M116.5 376.9h0M114.4 385.8h0M114.2 378.9h0M114.5 385.3h0M110.5 371.1h0M121.4 392.2h0M115.0 383.9h0M120.8 390.6h0M115.3 375.5h0M116.4 393.6h0M112.6 377.9h0M122.8 386.5h0M118.7 392.9h0M119.9 369.3h0M116.5 388.0h0M111.8 382.4h0M116.9 374.6h0M114.3 377.4h0M127.3 374.1h0M121.5 388.8h0M121.3 373.0h0M124.8 375.2h0M128.2 381.3h0M116.2 394.5h0M126.8 380.3h0M125.3 382.0h0M119.2 373.8h0M125.0 385.7h0M126.6 386.4h0" stroke="#333" stroke-opacity="0.75" stroke-width="0.78" stroke-linecap="round"/>
<path d="M127.1 381.6C126.9 382.9 126.1 384.1 125.4 385.2C124.8 386.2 124.1 387.3 123.2 388.0C122.2 388.7 121.0 389.3 119.8 389.4C118.6 389.6 116.7 389.9 115.8 389.1C115.0 388.4 114.9 386.2 114.5 385.0C114.0 383.7 113.3 382.8 113.1 381.6C112.9 380.4 112.8 378.6 113.3 377.5C113.8 376.3 115.1 375.2 116.2 374.7C117.2 374.1 118.7 373.9 119.8 374.0C120.9 374.2 121.7 375.3 122.8 375.8C124.0 376.3 125.9 376.3 126.6 377.3C127.3 378.2 127.3 380.3 127.1 381.6Z" fill="none" stroke="#222" stroke-width="0.45" stroke-opacity="0.85"/>
<path d="M126.6 381.6C126.6 382.6 125.3 383.8 124.7 384.7C124.0 385.6 123.4 386.4 122.6 386.9C121.8 387.4 120.8 387.6 119.8 387.8C118.8 387.9 117.5 388.2 116.6 387.7C115.7 387.2 114.7 386.0 114.4 385.0C114.1 384.0 114.8 382.7 114.8 381.6C114.8 380.5 114.2 379.2 114.5 378.3C114.8 377.3 115.8 376.3 116.7 375.7C117.6 375.2 118.8 374.7 119.8 374.9C120.8 375.0 121.7 375.9 122.5 376.5C123.3 377.1 123.9 377.7 124.6 378.6C125.3 379.4 126.5 380.6 126.6 381.6Z" fill="none" stroke="#222" stroke-width="0.45" stroke-opacity="0.85"/>
<path d="M124.8 381.6C124.9 382.5 124.8 383.8 124.3 384.5C123.9 385.2 122.7 385.4 122.0 385.8C121.2 386.1 120.5 386.6 119.8 386.6C119.1 386.6 118.3 386.3 117.5 386.0C116.7 385.7 115.5 385.3 115.1 384.6C114.8 383.8 115.2 382.5 115.3 381.6C115.5 380.7 115.8 380.1 116.2 379.3C116.5 378.5 116.6 377.3 117.3 376.8C117.9 376.2 119.0 376.2 119.8 376.2C120.6 376.3 121.6 376.5 122.2 377.0C122.8 377.5 122.9 378.6 123.3 379.4C123.8 380.1 124.6 380.7 124.8 381.6Z" fill="none" stroke="#222" stroke-width="0.45" stroke-opacity="0.85"/>
<path d="M123.0 381.6C123.0 382.3 123.5 383.3 123.3 383.8C123.1 384.4 122.2 384.9 121.6 385.1C121.0 385.3 120.4 385.3 119.8 385.3C119.2 385.2 118.6 385.2 118.1 384.9C117.5 384.6 117.0 384.2 116.6 383.6C116.2 383.1 115.7 382.2 115.8 381.6C115.9 381.0 116.7 380.5 117.1 379.9C117.5 379.3 117.6 378.7 118.0 378.3C118.5 377.8 119.2 377.4 119.8 377.4C120.4 377.3 121.2 377.7 121.7 378.1C122.2 378.4 122.6 379.1 122.8 379.7C123.0 380.3 122.9 380.9 123.0 381.6Z" fill="none" stroke="#222" stroke-width="0.45" stroke-opacity="0.85"/>
<path d="M123.6 381.6C123.6 382.4 123.6 383.1 123.4 383.9C123.2 384.7 123.0 386.1 122.4 386.5C121.8 386.8 120.6 386.2 119.8 386.1C119.0 385.9 118.3 385.9 117.8 385.5C117.2 385.1 116.7 384.5 116.2 383.9C115.7 383.2 115.0 382.4 114.9 381.6C114.9 380.8 115.4 379.7 115.9 379.1C116.4 378.5 117.4 378.6 118.0 378.2C118.7 377.8 119.1 376.7 119.8 376.5C120.5 376.4 121.4 376.8 122.1 377.2C122.7 377.7 123.5 378.4 123.7 379.1C124.0 379.8 123.7 380.8 123.6 381.6Z" fill="#0c0c0c" fill-opacity="0.77" filter="url(#soft1)"/>
<path d="M135.5 379.0h0M129.6 385.6h0M145.6 391.2h0M105.0 378.4h0M142.8 391.5h0M91.2 392.3h0M122.4 392.1h0M92.3 411.3h0M124.2 379.7h0M126.1 397.0h0M90.7 392.7h0M123.6 396.8h0M108.9 370.5h0M99.3 395.9h0M96.7 387.2h0M115.9 399.8h0M129.6 384.8h0M107.1 402.4h0M122.3 400.3h0M125.1 389.3h0M92.8 386.4h0M94.5 398.2h0M132.5 387.8h0M91.7 383.8h0M84.0 382.0h0M128.7 376.7h0M102.6 363.2h0M92.1 393.1h0M130.4 385.1h0M92.4 393.8h0M124.1 396.5h0M99.1 381.4h0M123.8 383.3h0M100.5 392.9h0M112.7 403.5h0M119.8 379.3h0M115.1 376.2h0M105.1 377.7h0M103.8 395.3h0M102.1 398.8h0M135.3 384.5h0M130.1 372.5h0M96.7 386.5h0M115.2 411.5h0M88.5 373.2h0M107.5 378.7h0M91.8 395.8h0M98.4 372.2h0M103.7 395.6h0M114.9 400.3h0M93.0 378.1h0M94.8 388.6h0M104.4 365.9h0M115.7 401.8h0M121.0 394.2h0M85.5 384.8h0M91.4 385.0h0M119.1 395.8h0M120.3 375.9h0M124.4 372.3h0M125.1 380.6h0M99.0 393.4h0M119.2 378.7h0M120.4 394.8h0M110.8 398.1h0M118.2 374.9h0M91.0 385.4h0M96.3 393.5h0M126.6 386.8h0M93.1 388.4h0M118.5 373.2h0M104.8 379.4h0M97.5 395.7h0M95.9 396.2h0M102.8 394.5h0M115.8 395.7h0M96.9 383.1h0M107.0 375.4h0M108.4 396.5h0M119.9 378.1h0M128.8 393.7h0M119.3 402.4h0M84.6 395.0h0M98.5 394.5h0M138.2 391.5h0M105.5 373.7h0M106.0 396.9h0M121.0 372.6h0M97.5 397.4h0M132.9 380.5h0M119.4 399.6h0M89.8 399.7h0M102.3 378.4h0M111.6 377.6h0M98.1 394.1h0M132.4 378.1h0M111.7 377.6h0M83.7 390.8h0M95.0 389.2h0M91.3 388.9h0M129.1 378.4h0M85.5 385.9h0M119.5 377.3h0M92.7 394.5h0M139.4 391.3h0M113.4 375.6h0M114.3 371.9h0M128.4 392.3h0M118.9 376.8h0" stroke="#333" stroke-opacity="0.75" stroke-width="0.78" stroke-linecap="round"/>
<path d="M128.8 387.0C129.4 388.9 131.4 391.8 130.0 393.3C128.6 394.9 123.3 395.5 120.2 396.2C117.0 396.9 114.0 397.4 111.0 397.4C108.0 397.4 104.9 396.9 101.9 396.1C98.9 395.4 95.0 394.5 93.2 393.0C91.3 391.4 90.1 388.8 90.8 387.0C91.4 385.2 95.3 384.0 97.1 382.3C98.8 380.7 98.9 378.3 101.2 377.1C103.5 376.0 107.7 375.4 111.0 375.4C114.3 375.4 118.4 376.0 120.9 377.1C123.4 378.2 124.8 380.3 126.1 382.0C127.4 383.6 128.1 385.1 128.8 387.0Z" fill="none" stroke="#222" stroke-width="0.45" stroke-opacity="0.85"/>
<path d="M124.8 387.0C124.8 388.6 126.2 390.3 125.4 391.8C124.6 393.3 122.3 395.3 119.9 395.9C117.5 396.5 113.8 395.7 111.0 395.5C108.2 395.3 105.6 395.4 103.3 394.7C101.1 394.0 99.3 392.8 97.6 391.5C95.8 390.2 92.9 388.5 93.0 387.0C93.0 385.5 96.0 383.8 97.8 382.6C99.6 381.4 101.8 380.9 104.0 379.9C106.2 379.0 108.5 377.3 111.0 377.1C113.5 376.9 116.9 377.9 119.2 378.7C121.6 379.6 124.2 380.9 125.1 382.3C126.0 383.7 124.7 385.4 124.8 387.0Z" fill="none" stroke="#222" stroke-width="0.45" stroke-opacity="0.85"/>
<path d="M123.5 387.0C123.2 388.2 121.6 389.0 120.7 390.3C119.9 391.5 119.9 393.5 118.3 394.3C116.6 395.0 113.2 394.9 111.0 394.6C108.8 394.4 106.9 393.6 105.1 393.0C103.3 392.3 101.5 391.6 100.3 390.6C99.1 389.6 98.1 388.3 97.8 387.0C97.5 385.7 97.3 383.8 98.5 382.8C99.8 381.9 103.4 381.9 105.4 381.4C107.5 380.9 108.9 380.0 111.0 379.8C113.1 379.6 116.0 379.5 117.9 380.1C119.8 380.6 121.6 382.0 122.5 383.2C123.4 384.3 123.8 385.8 123.5 387.0Z" fill="none" stroke="#222" stroke-width="0.45" stroke-opacity="0.85"/>
<path d="M121.1 387.0C120.9 387.9 119.5 388.8 118.6 389.6C117.7 390.3 116.9 391.0 115.7 391.7C114.4 392.3 112.5 393.5 111.0 393.5C109.5 393.5 107.7 392.3 106.4 391.6C105.0 391.0 103.8 390.5 103.0 389.7C102.2 388.9 101.8 388.0 101.6 387.0C101.4 386.0 101.0 384.8 101.8 383.9C102.5 383.1 104.4 382.2 105.9 381.9C107.5 381.6 109.3 382.2 111.0 382.2C112.7 382.2 114.6 381.6 116.1 381.9C117.6 382.2 119.0 383.2 119.9 384.0C120.7 384.9 121.3 386.1 121.1 387.0Z" fill="none" stroke="#222" stroke-width="0.45" stroke-opacity="0.85"/>
<path d="M123.2 387.0C123.1 388.2 122.6 389.6 121.4 390.5C120.2 391.3 117.7 391.3 115.9 392.0C114.2 392.6 112.9 394.1 111.0 394.3C109.1 394.6 105.9 394.3 104.4 393.6C102.9 392.9 102.6 391.2 101.8 390.1C101.1 389.0 99.8 388.1 99.7 387.0C99.5 385.9 100.2 384.8 101.0 383.6C101.7 382.5 102.5 380.6 104.2 380.1C105.8 379.7 109.0 380.4 111.0 380.7C113.0 381.0 114.3 381.4 116.2 381.8C118.0 382.2 121.1 382.4 122.2 383.2C123.4 384.1 123.4 385.8 123.2 387.0Z" fill="#0c0c0c" fill-opacity="0.05" filter="url(#soft1)"/>
<path d="M90.0 380.8h0M102.8 387.9h0M91.5 385.8h0M104.2 388.6h0M92.9 381.6h0M103.4 384.9h0M100.7 391.7h0M92.5 395.7h0M101.0 384.6h0M96.4 390.2h0M96.9 390.5h0M100.9 378.4h0M91.0 389.6h0M101.6 387.2h0M98.8 377.6h0M102.6 375.2h0M100.6 386.7h0M91.6 383.2h0M91.1 385.6h0" stroke="#333" stroke-opacity="0.75" stroke-width="0.78" stroke-linecap="round"/>
<path d="M102.1 385.0C101.9 386.1 101.1 386.9 100.7 388.0C100.3 389.1 100.3 390.7 99.7 391.5C99.0 392.2 97.8 392.8 97.0 392.7C96.2 392.5 95.4 391.3 94.7 390.6C94.0 389.8 93.3 389.3 92.8 388.4C92.4 387.5 92.2 386.2 92.1 385.0C91.9 383.8 91.6 382.0 92.1 381.0C92.5 380.1 93.8 379.7 94.7 379.3C95.5 379.0 96.2 378.8 97.0 378.7C97.8 378.5 99.0 378.0 99.7 378.4C100.5 378.9 101.1 380.3 101.5 381.4C101.9 382.5 102.2 383.9 102.1 385.0Z" fill="none" stroke="#222" stroke-width="0.45" stroke-opacity="0.85"/>
<path d="M101.1 385.0C101.0 385.9 100.6 386.9 100.2 387.6C99.9 388.3 99.3 388.6 98.7 389.2C98.2 389.8 97.6 391.2 97.0 391.3C96.4 391.4 95.5 390.4 95.0 389.8C94.5 389.2 94.2 388.3 93.9 387.5C93.5 386.7 93.3 385.9 93.2 385.0C93.2 384.1 93.2 383.0 93.5 382.1C93.7 381.3 94.2 380.0 94.8 379.7C95.4 379.4 96.3 380.2 97.0 380.3C97.7 380.4 98.3 380.0 98.9 380.3C99.5 380.6 100.3 381.3 100.6 382.1C101.0 382.8 101.1 384.1 101.1 385.0Z" fill="none" stroke="#222" stroke-width="0.45" stroke-opacity="0.85"/>
<path d="M100.0 385.0C99.9 385.7 99.8 386.5 99.5 387.0C99.2 387.6 98.7 387.8 98.3 388.1C97.8 388.4 97.5 388.7 97.0 388.9C96.5 389.0 95.8 389.3 95.4 388.9C95.0 388.6 94.9 387.5 94.7 386.9C94.5 386.2 94.3 385.6 94.3 385.0C94.3 384.4 94.4 383.7 94.6 383.1C94.8 382.4 95.0 381.6 95.4 381.2C95.8 380.8 96.5 380.8 97.0 381.0C97.5 381.1 97.8 381.8 98.2 382.1C98.6 382.4 99.3 382.4 99.6 382.9C99.9 383.4 100.0 384.3 100.0 385.0Z" fill="none" stroke="#222" stroke-width="0.45" stroke-opacity="0.85"/>
<path d="M100.4 385.0C100.5 385.7 100.1 386.6 99.8 387.2C99.5 387.9 99.0 388.5 98.6 388.8C98.1 389.0 97.5 388.6 97.0 388.6C96.5 388.7 95.8 389.4 95.3 389.2C94.8 388.9 94.2 388.1 94.0 387.4C93.9 386.7 94.2 385.7 94.2 385.0C94.3 384.3 94.2 383.5 94.4 382.9C94.6 382.3 95.0 381.7 95.5 381.3C95.9 380.8 96.5 379.9 97.0 380.0C97.5 380.0 98.0 381.1 98.4 381.6C98.8 382.1 99.1 382.5 99.4 383.0C99.8 383.6 100.4 384.3 100.4 385.0Z" fill="#0c0c0c" fill-opacity="0.09" filter="url(#soft1)"/>
<path d="M94.8 412.2h0M101.0 407.0h0M93.9 407.2h0M93.3 407.7h0M95.0 410.7h0M97.3 413.4h0M99.1 405.1h0M99.3 405.0h0M92.7 405.2h0" stroke="#333" stroke-opacity="0.75" stroke-width="0.78" stroke-linecap="round"/>
<path d="M102.1 408.7C102.2 409.4 102.3 410.4 101.9 410.9C101.5 411.5 100.5 411.6 99.9 411.9C99.2 412.2 98.6 412.5 98.0 412.5C97.4 412.6 96.7 412.3 96.1 412.1C95.4 411.8 94.4 411.5 94.1 411.0C93.8 410.4 94.0 409.4 94.1 408.7C94.2 408.0 94.7 407.6 95.0 406.9C95.3 406.3 95.4 405.4 95.9 405.0C96.4 404.6 97.3 404.5 98.0 404.5C98.7 404.6 99.6 404.7 100.1 405.1C100.6 405.5 100.7 406.4 101.0 407.0C101.4 407.6 102.0 408.0 102.1 408.7Z" fill="none" stroke="#222" stroke-width="0.45" stroke-opacity="0.85"/>
<path d="M100.7 408.7C100.8 409.2 101.2 410.0 101.0 410.5C100.9 410.9 100.1 411.3 99.6 411.5C99.1 411.7 98.5 411.6 98.0 411.6C97.5 411.6 97.0 411.5 96.5 411.3C96.0 411.1 95.6 410.7 95.2 410.3C94.9 409.9 94.4 409.2 94.5 408.7C94.5 408.2 95.3 407.8 95.6 407.3C96.0 406.9 96.1 406.4 96.5 406.1C96.9 405.8 97.5 405.4 98.0 405.3C98.5 405.3 99.2 405.6 99.6 405.9C100.1 406.2 100.5 406.7 100.7 407.2C100.9 407.6 100.7 408.2 100.7 408.7Z" fill="none" stroke="#222" stroke-width="0.45" stroke-opacity="0.85"/>
<path d="M100.1 408.7C100.0 409.1 100.0 409.4 99.8 409.8C99.7 410.1 99.6 410.8 99.3 411.0C99.0 411.2 98.4 410.9 98.0 410.9C97.6 410.8 97.2 410.7 96.9 410.6C96.6 410.4 96.3 410.1 96.1 409.8C95.9 409.5 95.6 409.1 95.5 408.7C95.5 408.3 95.7 407.8 95.9 407.5C96.2 407.2 96.7 407.2 97.0 407.0C97.4 406.8 97.6 406.4 98.0 406.3C98.4 406.3 98.9 406.4 99.2 406.6C99.5 406.8 99.9 407.2 100.0 407.5C100.2 407.9 100.1 408.3 100.1 408.7Z" fill="none" stroke="#222" stroke-width="0.45" stroke-opacity="0.85"/>
<path d="M100.5 408.7C100.5 409.1 100.0 409.4 99.8 409.7C99.6 410.1 99.6 410.7 99.3 411.0C99.0 411.3 98.4 411.6 98.0 411.5C97.6 411.5 97.2 410.9 96.9 410.6C96.5 410.4 96.2 410.2 95.9 409.9C95.7 409.6 95.7 409.1 95.6 408.7C95.5 408.3 95.3 407.6 95.5 407.3C95.7 406.9 96.4 406.8 96.8 406.7C97.2 406.6 97.6 406.6 98.0 406.6C98.4 406.5 99.0 406.2 99.4 406.3C99.7 406.5 100.0 407.0 100.2 407.4C100.4 407.8 100.6 408.3 100.5 408.7Z" fill="#0c0c0c" fill-opacity="0.18" filter="url(#soft1)"/>
<path d="M120.9 404.4h0M120.8 409.4h0M124.9 409.8h0M118.9 404.8h0M118.1 413.1h0M121.1 406.0h0M98.8 408.1h0M108.6 404.0h0M115.0 411.7h0M118.2 404.1h0M116.4 413.8h0M124.8 412.1h0M125.5 406.1h0M103.6 410.6h0M119.9 405.8h0M109.3 403.9h0M110.6 404.8h0" stroke="#333" stroke-opacity="0.75" stroke-width="0.78" stroke-linecap="round"/>
<path d="M120.6 408.0C120.5 408.7 120.7 409.3 120.2 410.0C119.8 410.6 119.1 411.7 117.9 412.0C116.7 412.3 114.5 411.9 113.0 411.8C111.5 411.6 110.1 411.6 108.9 411.3C107.8 411.0 106.8 410.5 105.9 409.9C105.0 409.4 103.6 408.7 103.6 408.0C103.5 407.3 104.5 406.5 105.5 406.0C106.5 405.5 108.1 405.4 109.4 405.0C110.6 404.7 111.7 403.9 113.0 403.8C114.3 403.6 116.2 404.0 117.4 404.4C118.7 404.7 120.1 405.3 120.6 405.9C121.2 406.5 120.6 407.3 120.6 408.0Z" fill="none" stroke="#222" stroke-width="0.45" stroke-opacity="0.85"/>
<path d="M118.8 408.0C118.6 408.4 117.7 408.7 117.3 409.2C116.8 409.6 116.8 410.3 116.1 410.5C115.4 410.8 114.0 411.0 113.0 410.9C112.0 410.8 111.2 410.4 110.4 410.1C109.6 409.9 108.7 409.7 108.2 409.3C107.7 408.9 107.4 408.5 107.3 408.0C107.1 407.5 106.8 406.8 107.4 406.5C107.9 406.1 109.4 406.0 110.4 405.9C111.3 405.7 112.0 405.6 113.0 405.5C114.0 405.4 115.2 405.3 116.1 405.5C117.0 405.7 117.7 406.2 118.1 406.6C118.6 407.0 118.9 407.6 118.8 408.0Z" fill="none" stroke="#222" stroke-width="0.45" stroke-opacity="0.85"/>
<path d="M93.7 394.4h0M103.7 381.1h0M115.3 383.0h0M114.4 379.4h0M128.5 383.1h0M125.7 379.3h0M124.0 397.6h0M107.7 376.7h0M107.2 390.1h0M100.9 388.0h0M95.7 386.2h0M121.1 385.5h0M119.2 378.5h0M125.1 378.7h0M128.9 397.9h0M129.6 387.6h0M103.6 383.7h0M122.0 386.9h0M129.2 378.0h0M111.4 395.0h0M115.9 387.9h0M95.5 379.1h0M102.8 395.6h0M125.8 381.0h0M129.0 376.7h0M116.0 397.3h0M105.8 396.8h0M118.3 377.1h0M105.3 385.9h0M101.9 392.3h0" stroke="#333" stroke-opacity="0.60" stroke-width="0.78" stroke-linecap="round"/>
</g>
<g clip-path="url(#cf2)">
<path d="M181.4 378.0h0M170.3 383.8h0M188.0 392.2h0M163.2 377.4h0M167.2 389.3h0M192.1 394.8h0M172.8 379.7h0M170.4 396.7h0M168.6 395.9h0M184.1 394.9h0M190.1 383.1h0M189.2 377.7h0M159.9 388.9h0M186.5 380.6h0M187.1 393.2h0M191.2 396.4h0M170.4 388.3h0M166.4 386.3h0M168.7 396.7h0M182.1 395.7h0M189.3 396.0h0M169.6 386.7h0M195.6 375.0h0M155.4 388.3h0M181.6 378.3h0M181.3 401.8h0M179.0 375.7h0M190.2 388.7h0M169.1 393.7h0M189.7 379.2h0M187.0 390.9h0M168.5 380.6h0M181.3 377.6h0M179.2 394.8h0M170.2 381.3h0M171.3 380.7h0M175.8 379.6h0M183.1 378.0h0M165.5 389.7h0M187.8 383.8h0M171.3 390.9h0M179.4 396.3h0M178.0 378.0h0M173.3 394.2h0M186.6 394.8h0M174.1 394.4h0M191.7 385.1h0M159.3 389.0h0M170.2 386.9h0M179.1 377.1h0M164.5 372.2h0M185.5 378.6h0M182.9 372.4h0M169.1 398.8h0M186.4 397.3h0M178.5 371.3h0M186.0 393.7h0M191.9 379.1h0M178.3 367.9h0M167.0 380.1h0M162.0 393.2h0M188.4 378.2h0M173.4 402.1h0M194.3 382.1h0M186.9 392.9h0M178.8 403.8h0M184.7 378.8h0M170.2 388.9h0M180.1 397.9h0M170.1 368.9h0M176.7 379.0h0M183.7 372.4h0M172.6 374.4h0M162.6 396.3h0M190.0 392.6h0M170.7 398.2h0M163.7 377.8h0M193.4 387.2h0M160.8 387.9h0M183.5 377.4h0M171.2 390.6h0M171.8 397.4h0M181.9 397.7h0M167.3 377.3h0M174.2 402.2h0M175.1 376.1h0M168.5 390.3h0M189.7 395.6h0M171.5 372.2h0M187.0 402.7h0M177.4 396.8h0M181.3 399.2h0M186.9 381.1h0M164.1 396.9h0M161.8 386.8h0M194.8 385.8h0M183.0 395.4h0M168.7 385.3h0M190.9 386.8h0M164.1 390.6h0M187.1 368.8h0M186.0 391.3h0M165.3 382.7h0M169.3 395.0h0M192.0 381.4h0M193.2 393.2h0" stroke="#333" stroke-opacity="0.75" stroke-width="0.78" stroke-linecap="round"/>
<path d="M188.9 386.8C189.0 388.5 190.1 390.4 189.5 392.0C188.9 393.7 187.1 395.8 185.4 396.4C183.6 397.1 181.0 396.2 179.0 396.0C177.0 395.8 175.1 395.9 173.5 395.2C171.8 394.4 170.5 393.1 169.3 391.7C168.0 390.3 165.9 388.4 165.9 386.8C166.0 385.2 168.2 383.3 169.5 382.0C170.9 380.8 172.3 380.1 173.9 379.1C175.5 378.1 177.2 376.2 179.0 376.0C180.8 375.8 183.3 376.9 185.0 377.8C186.7 378.8 188.5 380.2 189.2 381.7C189.8 383.2 188.9 385.1 188.9 386.8Z" fill="none" stroke="#222" stroke-width="0.45" stroke-opacity="0.85"/>
<path d="M188.3 386.8C188.1 388.1 187.0 389.1 186.3 390.5C185.7 391.9 185.7 394.2 184.5 395.0C183.2 395.8 180.7 395.6 179.0 395.4C177.3 395.1 175.9 394.3 174.5 393.5C173.2 392.8 171.9 392.0 171.0 390.8C170.0 389.7 169.3 388.3 169.1 386.8C168.8 385.3 168.7 383.2 169.7 382.1C170.6 381.1 173.3 381.1 174.8 380.5C176.4 379.9 177.4 378.9 179.0 378.6C180.6 378.4 182.7 378.4 184.2 379.0C185.6 379.7 186.9 381.2 187.6 382.5C188.3 383.8 188.5 385.5 188.3 386.8Z" fill="none" stroke="#222" stroke-width="0.45" stroke-opacity="0.85"/>
<path d="M187.0 386.8C186.9 387.9 185.8 388.9 185.1 389.8C184.3 390.8 183.7 391.6 182.7 392.4C181.7 393.2 180.2 394.6 179.0 394.6C177.8 394.6 176.4 393.1 175.3 392.3C174.3 391.6 173.2 390.9 172.6 390.0C172.0 389.1 171.7 388.0 171.5 386.8C171.4 385.6 171.0 384.1 171.6 383.1C172.2 382.1 173.7 381.1 175.0 380.7C176.2 380.4 177.6 381.1 179.0 381.1C180.4 381.1 181.9 380.3 183.1 380.6C184.3 381.0 185.4 382.2 186.0 383.3C186.7 384.3 187.2 385.7 187.0 386.8Z" fill="none" stroke="#222" stroke-width="0.45" stroke-opacity="0.85"/>
<path d="M185.1 386.8C185.0 387.7 184.8 388.8 184.2 389.4C183.6 390.0 182.4 390.2 181.5 390.6C180.7 391.1 180.0 392.1 179.0 392.3C178.0 392.5 176.5 392.2 175.8 391.7C175.0 391.1 174.7 390.0 174.3 389.1C173.9 388.3 173.4 387.6 173.3 386.8C173.2 386.0 173.6 385.1 174.0 384.3C174.3 383.4 174.8 382.1 175.7 381.8C176.5 381.4 178.0 381.9 179.0 382.0C180.0 382.2 180.7 382.5 181.7 382.8C182.6 383.1 184.0 383.4 184.5 384.0C185.1 384.7 185.1 385.9 185.1 386.8Z" fill="none" stroke="#222" stroke-width="0.45" stroke-opacity="0.85"/>
<path d="M186.8 386.8C186.8 387.8 186.1 389.2 185.4 390.0C184.7 390.9 183.4 391.5 182.4 391.9C181.3 392.2 180.3 392.0 179.0 392.2C177.7 392.4 175.8 393.5 174.8 393.1C173.8 392.7 173.2 391.0 172.8 389.9C172.4 388.9 172.4 387.8 172.5 386.8C172.5 385.8 172.6 384.8 173.1 383.8C173.5 382.9 174.3 381.8 175.2 381.1C176.2 380.5 177.9 379.6 179.0 379.8C180.1 380.0 180.9 381.7 181.9 382.4C183.0 383.0 184.3 383.0 185.1 383.7C185.9 384.5 186.7 385.8 186.8 386.8Z" fill="#0c0c0c" fill-opacity="0.77" filter="url(#soft1)"/>
<path d="M154.9 391.5h0M156.7 381.1h0M156.9 383.9h0M157.1 380.8h0M162.6 383.8h0M163.4 387.2h0M161.5 390.4h0M155.2 385.6h0M154.1 391.8h0M158.6 383.2h0M159.0 375.1h0M161.8 395.0h0M161.9 386.8h0M156.1 384.9h0" stroke="#333" stroke-opacity="0.75" stroke-width="0.78" stroke-linecap="round"/>
<path d="M162.8 388.5C162.9 389.6 162.7 391.4 162.3 392.3C162.0 393.3 161.2 393.6 160.6 394.1C160.1 394.6 159.6 395.2 159.0 395.2C158.4 395.3 157.9 394.9 157.3 394.5C156.7 394.0 155.8 393.5 155.5 392.5C155.3 391.5 155.6 389.7 155.8 388.5C155.9 387.3 156.0 386.4 156.3 385.3C156.5 384.2 156.7 382.6 157.1 382.0C157.6 381.3 158.4 381.2 159.0 381.2C159.6 381.3 160.3 381.6 160.8 382.3C161.2 383.1 161.3 384.5 161.6 385.5C161.9 386.5 162.6 387.4 162.8 388.5Z" fill="none" stroke="#222" stroke-width="0.45" stroke-opacity="0.85"/>
<path d="M161.4 388.5C161.5 389.5 161.9 390.8 161.7 391.6C161.5 392.4 160.8 392.9 160.4 393.3C159.9 393.6 159.4 393.7 159.0 393.6C158.6 393.6 158.1 393.4 157.7 393.1C157.3 392.7 156.8 392.1 156.5 391.4C156.2 390.6 155.9 389.4 156.0 388.5C156.0 387.6 156.7 386.9 157.0 386.2C157.2 385.4 157.3 384.4 157.6 383.8C158.0 383.2 158.5 382.7 159.0 382.7C159.5 382.6 160.0 383.0 160.4 383.6C160.8 384.1 161.1 385.1 161.3 385.9C161.4 386.7 161.4 387.5 161.4 388.5Z" fill="none" stroke="#222" stroke-width="0.45" stroke-opacity="0.85"/>
<path d="M160.8 388.5C160.7 389.2 160.8 389.8 160.7 390.5C160.6 391.1 160.4 392.1 160.1 392.4C159.9 392.7 159.3 392.3 159.0 392.2C158.7 392.1 158.3 392.1 158.1 391.8C157.8 391.5 157.6 391.0 157.3 390.4C157.1 389.9 156.8 389.2 156.8 388.5C156.8 387.8 157.0 387.0 157.3 386.5C157.5 386.0 157.9 385.9 158.2 385.6C158.4 385.2 158.7 384.4 159.0 384.3C159.3 384.2 159.7 384.6 160.0 384.9C160.3 385.3 160.7 385.8 160.8 386.4C160.9 387.0 160.8 387.8 160.8 388.5Z" fill="none" stroke="#222" stroke-width="0.45" stroke-opacity="0.85"/>
<path d="M161.2 388.5C161.1 389.2 160.7 389.6 160.6 390.3C160.4 391.0 160.5 392.2 160.2 392.7C159.9 393.2 159.4 393.4 159.0 393.2C158.6 393.1 158.3 392.3 158.0 391.9C157.7 391.4 157.4 391.1 157.2 390.6C157.0 390.0 156.9 389.3 156.8 388.5C156.8 387.7 156.6 386.5 156.8 386.0C157.0 385.4 157.7 385.4 158.0 385.2C158.4 384.9 158.6 384.7 159.0 384.6C159.4 384.4 159.9 384.1 160.2 384.4C160.5 384.7 160.8 385.6 161.0 386.2C161.1 386.9 161.2 387.8 161.2 388.5Z" fill="#0c0c0c" fill-opacity="0.14" filter="url(#soft1)"/>
<path d="M164.8 410.6h0M150.7 400.8h0M155.8 417.8h0M152.0 407.2h0M149.7 412.7h0M161.8 398.6h0M154.9 403.3h0M154.4 396.6h0M153.0 397.5h0M152.3 406.1h0M161.6 402.0h0M162.2 413.5h0M148.3 407.8h0M157.2 401.8h0M161.4 414.7h0M155.9 414.2h0M152.6 413.0h0M164.1 422.4h0M154.9 415.5h0M154.2 415.6h0M151.6 411.0h0M151.3 413.4h0M151.9 413.4h0M160.4 416.6h0M163.3 405.5h0M149.0 399.4h0M159.3 401.3h0M158.1 402.6h0M149.9 410.1h0M158.0 398.1h0M156.5 415.9h0M146.1 406.7h0M154.7 420.1h0M158.9 401.5h0M165.7 410.6h0M152.8 414.7h0M167.7 405.1h0M163.3 411.1h0M149.3 406.3h0M152.7 411.5h0M162.1 398.4h0M152.5 402.6h0M165.7 407.2h0M159.4 399.6h0M149.4 414.6h0M151.1 418.0h0M151.3 413.4h0M160.6 414.7h0M164.3 402.5h0" stroke="#333" stroke-opacity="0.75" stroke-width="0.78" stroke-linecap="round"/>
<path d="M165.6 408.7C165.9 409.9 166.0 411.7 165.3 412.7C164.6 413.6 162.6 413.9 161.4 414.3C160.1 414.8 159.0 415.4 157.8 415.4C156.6 415.5 155.3 415.0 154.1 414.6C152.8 414.1 150.9 413.6 150.3 412.6C149.6 411.7 149.9 409.9 150.2 408.7C150.5 407.5 151.4 406.7 152.0 405.7C152.6 404.6 152.7 402.9 153.7 402.2C154.6 401.5 156.4 401.4 157.8 401.4C159.2 401.5 160.8 401.7 161.8 402.4C162.8 403.1 163.0 404.6 163.6 405.6C164.3 406.7 165.3 407.5 165.6 408.7Z" fill="none" stroke="#222" stroke-width="0.45" stroke-opacity="0.85"/>
<path d="M163.0 408.7C163.1 409.7 164.0 410.9 163.6 411.8C163.3 412.6 161.9 413.4 161.0 413.7C160.0 414.0 158.8 413.8 157.8 413.8C156.8 413.7 155.8 413.7 154.9 413.3C154.0 412.9 153.2 412.2 152.5 411.5C151.9 410.7 150.9 409.6 151.0 408.7C151.1 407.8 152.5 407.0 153.2 406.3C153.8 405.5 154.2 404.8 154.9 404.2C155.7 403.6 156.8 402.9 157.8 402.8C158.8 402.7 160.1 403.2 160.9 403.8C161.8 404.3 162.6 405.2 163.0 406.0C163.3 406.8 162.9 407.7 163.0 408.7Z" fill="none" stroke="#222" stroke-width="0.45" stroke-opacity="0.85"/>
<path d="M161.8 408.7C161.7 409.4 161.6 409.9 161.3 410.5C161.1 411.2 160.9 412.3 160.3 412.7C159.7 413.0 158.6 412.7 157.8 412.5C157.0 412.4 156.3 412.3 155.7 411.9C155.1 411.6 154.6 411.1 154.2 410.6C153.7 410.1 153.2 409.4 153.1 408.7C153.0 408.0 153.3 407.1 153.8 406.6C154.2 406.1 155.3 406.1 156.0 405.8C156.6 405.5 157.1 404.7 157.8 404.6C158.5 404.5 159.4 404.7 160.1 405.1C160.8 405.4 161.4 406.0 161.7 406.6C162.0 407.2 161.9 408.0 161.8 408.7Z" fill="none" stroke="#222" stroke-width="0.45" stroke-opacity="0.85"/>
<path d="M162.7 408.7C162.6 409.4 161.7 409.9 161.3 410.5C160.9 411.2 160.9 412.1 160.3 412.6C159.7 413.2 158.6 413.7 157.8 413.7C157.0 413.6 156.3 412.6 155.6 412.1C155.0 411.6 154.3 411.3 153.8 410.8C153.4 410.2 153.3 409.5 153.2 408.7C153.0 407.9 152.6 406.8 153.0 406.2C153.4 405.6 154.7 405.3 155.5 405.1C156.3 404.9 157.0 405.1 157.8 405.0C158.6 404.9 159.7 404.3 160.4 404.6C161.1 404.8 161.7 405.8 162.1 406.4C162.5 407.1 162.8 408.0 162.7 408.7Z" fill="#0c0c0c" fill-opacity="0.77" filter="url(#soft1)"/>
<path d="M187.1 403.4h0M180.4 410.4h0M168.0 409.5h0M166.2 407.4h0M164.6 404.9h0M164.0 411.1h0M181.1 403.2h0M177.2 403.4h0M170.9 403.9h0M175.2 402.9h0M189.7 402.4h0M174.7 404.1h0M182.5 404.1h0M184.5 412.4h0M167.8 404.6h0M172.7 414.5h0M181.1 401.7h0M173.6 412.2h0M181.6 409.6h0M170.2 403.0h0M164.6 413.5h0M172.3 403.6h0M167.7 414.3h0M186.5 407.6h0" stroke="#333" stroke-opacity="0.75" stroke-width="0.78" stroke-linecap="round"/>
<path d="M184.2 407.5C184.5 408.3 185.2 409.5 184.5 410.1C183.7 410.7 181.1 410.9 179.5 411.2C177.9 411.5 176.5 411.8 175.0 411.8C173.5 411.8 172.0 411.5 170.4 411.2C168.9 410.9 166.8 410.6 165.9 410.0C165.0 409.4 164.8 408.2 165.2 407.5C165.5 406.8 167.2 406.3 168.0 405.6C168.8 404.9 168.8 403.9 170.0 403.4C171.2 402.9 173.3 402.8 175.0 402.8C176.7 402.8 178.7 403.0 179.9 403.4C181.2 403.9 181.7 404.8 182.4 405.5C183.1 406.2 183.8 406.7 184.2 407.5Z" fill="none" stroke="#222" stroke-width="0.45" stroke-opacity="0.85"/>
<path d="M181.4 407.5C181.5 408.1 182.3 408.8 181.9 409.4C181.5 409.9 180.2 410.6 179.1 410.8C177.9 411.1 176.3 410.8 175.0 410.7C173.7 410.7 172.5 410.7 171.4 410.4C170.3 410.2 169.5 409.7 168.6 409.2C167.8 408.7 166.5 408.1 166.5 407.5C166.6 406.9 168.2 406.3 169.0 405.9C169.9 405.4 170.6 405.1 171.6 404.7C172.6 404.4 173.8 403.8 175.0 403.7C176.2 403.6 177.8 404.0 178.8 404.3C179.9 404.7 181.1 405.2 181.5 405.7C182.0 406.2 181.4 406.9 181.4 407.5Z" fill="none" stroke="#222" stroke-width="0.45" stroke-opacity="0.85"/>
<path d="M180.1 407.5C180.0 407.9 179.5 408.2 179.2 408.6C178.8 409.1 178.8 409.8 178.1 410.0C177.4 410.3 175.9 410.1 175.0 410.1C174.1 410.0 173.2 409.8 172.5 409.6C171.7 409.3 171.0 409.1 170.5 408.7C170.0 408.4 169.5 407.9 169.4 407.5C169.3 407.1 169.3 406.4 169.8 406.1C170.4 405.8 171.8 405.8 172.7 405.6C173.6 405.4 174.1 405.0 175.0 405.0C175.9 404.9 177.1 404.9 177.9 405.1C178.7 405.3 179.5 405.8 179.8 406.2C180.2 406.6 180.2 407.1 180.1 407.5Z" fill="none" stroke="#222" stroke-width="0.45" stroke-opacity="0.85"/>
<path d="M181.1 407.5C181.0 407.9 180.0 408.3 179.4 408.7C178.9 409.1 178.6 409.5 177.9 409.9C177.2 410.2 175.9 410.8 175.0 410.8C174.1 410.8 173.1 410.1 172.3 409.7C171.5 409.4 170.7 409.2 170.2 408.8C169.7 408.5 169.5 408.0 169.4 407.5C169.2 407.0 168.8 406.3 169.2 405.9C169.7 405.5 171.0 405.2 172.0 405.0C173.0 404.9 174.0 405.2 175.0 405.2C176.0 405.2 177.3 404.8 178.2 404.9C179.1 405.0 179.9 405.6 180.4 406.0C180.9 406.5 181.3 407.1 181.1 407.5Z" fill="#0c0c0c" fill-opacity="0.14" filter="url(#soft1)"/>
<path d="M183.6 380.8h0M173.7 379.2h0M178.5 389.1h0M188.6 378.8h0M189.2 380.2h0M172.3 390.6h0M175.5 384.6h0M181.9 382.4h0M188.2 382.2h0M189.5 394.2h0M181.0 378.6h0M187.8 378.6h0M180.1 386.5h0M167.8 390.6h0M186.3 389.7h0M177.2 388.2h0M182.5 382.5h0M190.3 397.9h0M188.5 397.2h0M175.2 397.7h0M168.0 387.6h0M169.7 387.1h0M185.1 392.2h0M178.7 384.8h0M171.3 386.1h0M173.9 381.9h0M186.6 388.3h0M178.3 382.0h0M185.7 381.9h0M173.4 389.2h0" stroke="#333" stroke-opacity="0.60" stroke-width="0.78" stroke-linecap="round"/>
</g>
<g clip-path="url(#cf3)">
<path d="M259.9 379.5h0M251.7 380.6h0M252.1 389.6h0M248.0 403.4h0M239.7 364.7h0M237.1 378.6h0M247.6 393.4h0M234.1 374.9h0M255.7 389.4h0M247.0 393.5h0M248.5 369.6h0M225.9 391.0h0M249.0 394.7h0M244.9 375.3h0M265.1 371.0h0M246.3 374.0h0M256.2 400.2h0M250.7 392.2h0M246.9 400.7h0M243.1 397.1h0M238.1 363.9h0M252.4 382.1h0M241.6 370.3h0M236.6 391.9h0M251.4 395.5h0M261.6 387.2h0M236.1 392.8h0M258.8 386.6h0M230.5 388.8h0M259.6 390.5h0M255.5 391.9h0M237.6 397.8h0M226.6 387.3h0M232.5 371.8h0M250.9 380.1h0M234.1 394.5h0M253.2 396.5h0M247.2 398.7h0M233.0 373.0h0M240.5 375.1h0M241.6 374.9h0M251.5 388.7h0M236.7 372.4h0M241.1 376.1h0M240.1 377.0h0M226.9 388.7h0M230.1 375.5h0M259.9 393.0h0M244.4 395.5h0M223.5 402.6h0M236.1 377.1h0M242.2 365.6h0M253.6 383.9h0M246.0 376.8h0M243.8 396.1h0M250.9 381.8h0M252.0 381.2h0M232.5 371.9h0M250.1 396.2h0M253.4 386.9h0M251.2 384.1h0M240.5 374.4h0M249.5 396.7h0M225.4 384.1h0M255.6 374.5h0M255.7 377.8h0M224.9 378.4h0M246.7 377.7h0M229.8 375.8h0M245.7 377.3h0M233.8 382.6h0M240.9 394.9h0M242.9 376.4h0M251.6 387.0h0M230.5 389.3h0M255.8 398.6h0M233.8 390.4h0M251.9 393.3h0M234.0 398.8h0M250.8 391.1h0M248.7 377.3h0M258.8 398.0h0M244.1 373.4h0M250.2 395.7h0M245.7 363.4h0M261.3 386.5h0M239.5 374.9h0M235.6 379.8h0M231.1 394.1h0M236.4 379.5h0M241.5 368.7h0M248.6 366.5h0M239.5 367.1h0M256.8 388.4h0M231.5 391.4h0M256.5 371.9h0M230.1 391.0h0M237.6 364.1h0M238.5 392.7h0M237.3 398.1h0M256.4 383.9h0M236.6 375.3h0M252.1 369.9h0M255.3 385.1h0M243.2 394.3h0M232.3 392.8h0M252.5 377.0h0M250.7 381.2h0M245.2 372.0h0M256.2 374.0h0M251.1 392.2h0M250.0 371.3h0M235.7 394.6h0M228.0 381.7h0M232.0 383.2h0M238.0 378.0h0" stroke="#333" stroke-opacity="0.75" stroke-width="0.78" stroke-linecap="round"/>
<path d="M255.0 385.6C254.8 387.5 252.9 389.3 251.8 390.9C250.7 392.5 249.8 394.2 248.4 395.2C246.9 396.2 245.1 396.5 243.2 396.8C241.3 397.1 238.6 397.9 237.1 396.9C235.6 396.0 235.0 392.9 234.4 391.0C233.9 389.1 233.8 387.5 233.6 385.6C233.4 383.7 232.6 381.1 233.3 379.4C233.9 377.7 236.0 376.2 237.7 375.3C239.3 374.3 241.5 373.5 243.2 373.8C244.9 374.1 246.2 376.1 247.8 377.0C249.4 378.0 251.8 378.1 253.0 379.5C254.2 381.0 255.2 383.7 255.0 385.6Z" fill="none" stroke="#222" stroke-width="0.45" stroke-opacity="0.85"/>
<path d="M253.4 385.6C253.6 387.1 252.1 389.2 251.1 390.5C250.1 391.8 248.7 392.7 247.4 393.4C246.1 394.1 244.7 394.7 243.2 394.8C241.7 395.0 240.0 394.9 238.6 394.2C237.1 393.6 235.0 392.4 234.5 391.0C234.0 389.5 235.3 387.3 235.5 385.6C235.6 383.9 235.1 382.4 235.6 380.9C236.1 379.4 237.2 377.6 238.4 376.7C239.7 375.8 241.7 375.4 243.2 375.6C244.7 375.7 246.4 376.6 247.5 377.6C248.7 378.5 249.1 380.0 250.0 381.4C251.0 382.7 253.2 384.1 253.4 385.6Z" fill="none" stroke="#222" stroke-width="0.45" stroke-opacity="0.85"/>
<path d="M250.2 385.6C250.4 386.9 251.0 389.0 250.4 390.1C249.8 391.1 247.8 391.5 246.6 392.0C245.4 392.5 244.3 393.0 243.2 393.0C242.1 393.0 240.9 392.6 239.7 392.0C238.6 391.5 237.0 391.0 236.3 389.9C235.6 388.8 235.5 386.9 235.7 385.6C236.0 384.3 237.3 383.5 237.9 382.3C238.5 381.1 238.5 379.3 239.4 378.5C240.3 377.7 241.9 377.5 243.2 377.5C244.5 377.5 246.0 377.8 247.0 378.6C247.9 379.4 248.3 381.0 248.8 382.1C249.3 383.3 249.9 384.3 250.2 385.6Z" fill="none" stroke="#222" stroke-width="0.45" stroke-opacity="0.85"/>
<path d="M247.9 385.6C248.0 386.6 248.6 387.8 248.3 388.8C248.0 389.7 247.0 390.8 246.2 391.2C245.3 391.5 244.1 391.1 243.2 391.0C242.3 390.9 241.3 390.9 240.6 390.5C239.8 390.1 239.1 389.3 238.5 388.5C237.9 387.7 236.9 386.5 237.0 385.6C237.0 384.7 238.2 383.6 238.8 382.9C239.4 382.1 240.0 381.6 240.7 381.0C241.4 380.4 242.3 379.3 243.2 379.2C244.1 379.1 245.2 379.8 246.0 380.3C246.8 380.9 247.7 381.7 248.0 382.6C248.3 383.5 247.9 384.6 247.9 385.6Z" fill="none" stroke="#222" stroke-width="0.45" stroke-opacity="0.85"/>
<path d="M249.2 385.6C249.1 386.7 248.4 387.4 248.1 388.6C247.7 389.8 247.8 392.0 247.0 392.6C246.2 393.3 244.3 392.8 243.2 392.5C242.1 392.3 241.1 391.7 240.2 391.1C239.4 390.5 238.5 389.8 237.9 388.9C237.3 388.0 236.6 386.8 236.4 385.6C236.2 384.4 236.2 382.5 236.9 381.7C237.6 380.9 239.5 381.2 240.6 380.7C241.6 380.2 242.2 379.0 243.2 378.7C244.2 378.5 245.7 378.6 246.7 379.1C247.6 379.7 248.6 380.9 249.0 382.0C249.4 383.1 249.4 384.5 249.2 385.6Z" fill="#0c0c0c" fill-opacity="0.81" filter="url(#soft1)"/>
<path d="M225.0 383.6h0M219.7 382.2h0M221.9 392.7h0M220.3 391.7h0M220.8 392.0h0M220.4 382.8h0M217.3 389.7h0M219.9 383.2h0M221.1 381.1h0M221.1 396.4h0M220.0 383.3h0M221.8 392.2h0" stroke="#333" stroke-opacity="0.75" stroke-width="0.78" stroke-linecap="round"/>
<path d="M224.6 387.3C224.7 388.3 225.0 389.8 224.7 390.6C224.4 391.3 223.4 391.6 222.7 392.0C222.1 392.3 221.6 392.7 221.0 392.7C220.4 392.8 219.8 392.4 219.2 392.0C218.6 391.7 217.8 391.2 217.5 390.5C217.1 389.7 217.1 388.2 217.2 387.3C217.3 386.4 218.0 385.7 218.3 384.9C218.6 384.0 218.6 382.7 219.0 382.1C219.5 381.5 220.4 381.3 221.0 381.3C221.6 381.4 222.4 381.6 222.9 382.2C223.4 382.7 223.6 383.9 223.9 384.8C224.1 385.6 224.5 386.3 224.6 387.3Z" fill="none" stroke="#222" stroke-width="0.45" stroke-opacity="0.85"/>
<path d="M223.5 387.3C223.5 388.1 223.9 389.0 223.7 389.7C223.6 390.4 223.0 391.2 222.6 391.5C222.1 391.8 221.5 391.5 221.0 391.4C220.5 391.3 220.0 391.3 219.6 391.0C219.2 390.7 218.8 390.1 218.5 389.5C218.2 388.9 217.7 388.0 217.7 387.3C217.7 386.6 218.4 385.8 218.7 385.2C219.0 384.7 219.3 384.2 219.7 383.8C220.1 383.3 220.5 382.6 221.0 382.5C221.5 382.4 222.1 382.9 222.5 383.3C222.9 383.7 223.4 384.4 223.5 385.0C223.7 385.7 223.5 386.5 223.5 387.3Z" fill="none" stroke="#222" stroke-width="0.45" stroke-opacity="0.85"/>
<path d="M223.0 387.3C222.9 387.8 222.8 388.2 222.6 388.8C222.5 389.3 222.5 390.2 222.2 390.5C221.9 390.8 221.4 390.6 221.0 390.5C220.6 390.4 220.3 390.2 220.0 389.9C219.7 389.6 219.5 389.3 219.3 388.9C219.0 388.4 218.8 387.9 218.8 387.3C218.8 386.7 218.8 385.9 219.0 385.5C219.2 385.1 219.8 385.2 220.1 384.9C220.4 384.7 220.7 384.2 221.0 384.1C221.3 384.0 221.8 384.1 222.1 384.3C222.4 384.6 222.7 385.1 222.9 385.6C223.0 386.1 223.0 386.8 223.0 387.3Z" fill="none" stroke="#222" stroke-width="0.45" stroke-opacity="0.85"/>
<path d="M223.4 387.3C223.3 387.9 222.9 388.3 222.7 388.8C222.5 389.3 222.4 389.9 222.1 390.3C221.9 390.8 221.4 391.5 221.0 391.4C220.6 391.4 220.3 390.5 219.9 390.1C219.6 389.7 219.3 389.4 219.1 389.0C218.9 388.5 218.9 387.9 218.8 387.3C218.7 386.7 218.6 385.8 218.7 385.3C218.9 384.8 219.5 384.4 219.8 384.2C220.2 384.1 220.6 384.4 221.0 384.4C221.4 384.3 221.9 383.8 222.2 384.0C222.6 384.2 222.9 384.9 223.1 385.4C223.3 386.0 223.4 386.7 223.4 387.3Z" fill="#0c0c0c" fill-opacity="0.14" filter="url(#soft1)"/>
<path d="M212.4 403.9h0M222.3 404.2h0M222.8 414.8h0M243.8 410.4h0M222.0 411.2h0M235.4 411.1h0M244.8 406.8h0M223.2 402.6h0M234.1 412.0h0M246.7 412.9h0M224.5 403.7h0M213.3 410.2h0M238.3 406.4h0M221.9 412.2h0M234.0 404.4h0M230.7 412.3h0M220.6 402.0h0M225.6 415.6h0M240.9 404.9h0M234.5 411.2h0M221.1 403.1h0M236.5 414.2h0M240.7 407.5h0M219.9 411.2h0M231.5 413.7h0M244.9 410.6h0M245.2 414.6h0M239.8 407.0h0M240.1 413.1h0M233.4 401.1h0M219.3 407.5h0M241.7 412.1h0M226.8 411.7h0M212.5 413.9h0M232.5 411.7h0M231.9 413.6h0M219.6 403.6h0M214.9 409.0h0M223.2 404.3h0" stroke="#333" stroke-opacity="0.75" stroke-width="0.78" stroke-linecap="round"/>
<path d="M240.8 408.0C240.6 408.8 240.4 409.5 239.7 410.4C239.0 411.2 238.3 412.6 236.5 413.0C234.7 413.4 231.3 412.9 229.0 412.8C226.7 412.6 224.6 412.5 222.8 412.1C221.0 411.7 219.5 411.1 218.2 410.4C216.9 409.7 215.0 408.8 214.8 408.0C214.6 407.2 215.7 406.0 217.2 405.4C218.6 404.8 221.5 404.8 223.5 404.3C225.5 403.9 226.9 402.9 229.0 402.8C231.1 402.6 233.9 403.0 235.8 403.5C237.8 403.9 239.9 404.6 240.7 405.4C241.5 406.2 241.0 407.2 240.8 408.0Z" fill="none" stroke="#222" stroke-width="0.45" stroke-opacity="0.85"/>
<path d="M239.4 408.0C239.1 408.6 237.5 409.1 236.6 409.7C235.8 410.3 235.7 411.1 234.4 411.6C233.1 412.0 230.7 412.4 229.0 412.3C227.3 412.3 225.7 411.5 224.3 411.1C222.9 410.7 221.4 410.4 220.5 409.9C219.6 409.4 219.2 408.7 219.0 408.0C218.8 407.3 218.1 406.3 219.0 405.8C219.9 405.2 222.5 405.0 224.2 404.8C225.9 404.6 227.3 404.6 229.0 404.5C230.7 404.4 233.0 404.1 234.5 404.3C236.0 404.6 237.3 405.4 238.1 406.0C238.9 406.6 239.6 407.4 239.4 408.0Z" fill="none" stroke="#222" stroke-width="0.45" stroke-opacity="0.85"/>
<path d="M236.6 408.0C236.5 408.5 235.9 409.0 235.1 409.4C234.4 409.7 233.3 409.9 232.3 410.2C231.2 410.5 230.2 411.2 229.0 411.2C227.8 411.3 226.2 410.8 225.3 410.5C224.3 410.2 223.7 409.7 223.1 409.3C222.5 408.9 222.0 408.5 221.9 408.0C221.8 407.5 221.9 407.0 222.4 406.5C222.9 406.1 223.8 405.4 224.9 405.3C226.0 405.1 227.7 405.5 229.0 405.6C230.3 405.6 231.5 405.4 232.6 405.6C233.8 405.7 235.2 406.1 235.9 406.5C236.5 406.9 236.7 407.5 236.6 408.0Z" fill="none" stroke="#222" stroke-width="0.45" stroke-opacity="0.85"/>
<path d="M237.5 408.0C237.5 408.5 237.1 409.2 236.3 409.6C235.4 410.0 233.7 410.1 232.5 410.4C231.3 410.6 230.4 410.9 229.0 411.0C227.6 411.1 225.3 411.4 224.2 411.2C223.2 410.9 223.0 410.0 222.5 409.4C222.0 408.9 221.4 408.5 221.4 408.0C221.4 407.5 221.8 407.0 222.3 406.5C222.8 406.0 223.4 405.3 224.5 405.0C225.6 404.7 227.7 404.7 229.0 404.8C230.3 404.9 231.1 405.5 232.3 405.8C233.5 406.1 235.6 406.0 236.5 406.3C237.3 406.7 237.6 407.5 237.5 408.0Z" fill="#0c0c0c" fill-opacity="0.18" filter="url(#soft1)"/>
<path d="M251.4 381.2h0M228.8 385.6h0M231.2 386.1h0M247.9 378.1h0M231.3 386.5h0M232.9 381.1h0M240.3 378.6h0M229.9 383.9h0M241.1 396.6h0M243.5 377.6h0M234.2 392.4h0M243.8 395.1h0M254.9 394.9h0M231.1 396.8h0M242.7 381.3h0M232.8 395.0h0M233.9 377.8h0M235.4 396.3h0M240.9 392.1h0M230.1 386.0h0M236.9 380.5h0M246.6 383.9h0M231.4 397.7h0M241.5 380.0h0M228.3 390.4h0M242.4 376.5h0M241.2 392.3h0M243.0 381.1h0M242.0 389.3h0M246.2 379.2h0" stroke="#333" stroke-opacity="0.60" stroke-width="0.78" stroke-linecap="round"/>
</g>
<g clip-path="url(#cf4)">
<path d="M288.1 387.7h0M280.5 403.8h0M291.8 374.1h0M279.4 383.5h0M288.5 381.4h0M289.3 397.4h0M278.7 399.3h0M283.5 375.4h0M278.6 383.8h0M280.5 372.4h0M288.7 394.4h0M277.4 395.9h0M278.7 391.8h0M291.0 391.8h0M279.7 381.1h0M285.1 409.6h0M293.2 392.9h0M289.5 388.1h0M281.4 406.9h0M280.4 374.6h0M289.1 395.7h0M286.0 377.4h0M288.9 393.0h0M277.8 398.5h0M278.3 386.1h0M283.8 407.8h0M287.7 405.9h0M287.3 407.4h0M279.0 390.9h0M292.5 404.0h0M284.2 416.5h0M277.7 398.9h0M277.1 406.5h0M288.3 374.0h0M290.2 386.9h0M279.3 401.9h0M294.2 404.8h0M288.8 394.9h0M282.3 408.4h0M287.6 378.6h0M273.2 411.6h0M287.0 362.6h0M280.5 379.0h0M283.7 411.4h0M281.2 381.4h0M290.6 375.9h0M290.2 387.7h0M287.1 384.1h0M278.8 385.7h0M283.3 412.8h0M284.2 420.2h0M280.6 373.7h0M289.7 403.0h0M279.2 395.5h0M279.6 368.9h0M279.3 395.1h0" stroke="#333" stroke-opacity="0.75" stroke-width="0.78" stroke-linecap="round"/>
<path d="M288.8 393.0C288.7 395.9 288.4 398.7 288.0 401.5C287.7 404.4 287.3 408.5 286.5 410.2C285.8 411.9 284.4 412.4 283.5 411.8C282.6 411.1 282.0 407.8 281.2 406.3C280.3 404.7 279.1 404.6 278.5 402.4C278.0 400.2 277.8 396.1 277.8 393.0C277.7 389.9 277.9 385.9 278.5 383.5C279.0 381.2 280.2 380.3 281.0 379.0C281.9 377.7 282.6 376.4 283.5 375.8C284.4 375.1 285.9 373.7 286.7 375.1C287.4 376.5 287.7 381.4 288.1 384.4C288.4 387.4 288.8 390.1 288.8 393.0Z" fill="none" stroke="#222" stroke-width="0.45" stroke-opacity="0.85"/>
<path d="M288.1 393.0C288.0 395.8 287.9 398.4 287.6 400.7C287.2 403.0 286.6 404.8 285.9 406.6C285.2 408.4 284.3 411.4 283.5 411.3C282.7 411.2 281.8 407.8 281.2 406.0C280.6 404.1 280.2 402.4 279.7 400.3C279.2 398.1 278.3 395.6 278.2 393.0C278.1 390.4 278.6 387.0 279.1 384.7C279.5 382.3 280.3 379.7 281.0 378.8C281.7 377.9 282.6 379.3 283.5 379.2C284.4 379.1 285.3 377.4 286.1 378.2C286.9 379.0 287.8 381.7 288.2 384.2C288.5 386.7 288.1 390.2 288.1 393.0Z" fill="none" stroke="#222" stroke-width="0.45" stroke-opacity="0.85"/>
<path d="M287.9 393.0C287.7 395.4 287.4 397.7 287.0 399.6C286.6 401.6 286.1 403.3 285.6 404.7C285.0 406.0 284.2 407.4 283.5 407.7C282.8 408.0 281.6 408.0 281.1 406.6C280.6 405.2 280.6 401.3 280.3 399.1C280.0 396.8 279.4 395.3 279.2 393.0C279.1 390.7 279.2 387.6 279.5 385.5C279.9 383.4 280.6 381.2 281.2 380.2C281.9 379.2 282.8 379.2 283.5 379.5C284.2 379.8 284.7 381.3 285.4 382.2C286.1 383.1 287.4 383.1 287.8 385.0C288.2 386.8 288.0 390.6 287.9 393.0Z" fill="none" stroke="#222" stroke-width="0.45" stroke-opacity="0.85"/>
<path d="M287.7 393.0C287.7 394.9 286.9 397.1 286.5 398.7C286.1 400.4 285.8 402.1 285.3 403.1C284.8 404.1 284.1 404.4 283.5 404.6C282.9 404.9 282.0 405.6 281.4 404.7C280.9 403.8 280.4 401.2 280.2 399.2C280.0 397.3 280.3 395.1 280.3 393.0C280.3 390.9 279.9 388.4 280.1 386.6C280.3 384.8 281.0 383.1 281.6 382.0C282.1 381.0 282.9 380.1 283.5 380.3C284.1 380.6 284.6 382.5 285.1 383.7C285.7 384.8 286.2 385.5 286.6 387.1C287.1 388.6 287.8 391.1 287.7 393.0Z" fill="none" stroke="#222" stroke-width="0.45" stroke-opacity="0.85"/>
<path d="M286.9 393.0C287.0 394.7 286.7 397.2 286.4 398.5C286.1 399.9 285.4 400.4 284.9 401.2C284.5 401.9 284.0 402.7 283.5 402.8C283.0 402.9 282.5 402.4 282.0 401.8C281.4 401.1 280.6 400.3 280.4 398.8C280.2 397.4 280.5 394.7 280.6 393.0C280.7 391.3 280.8 389.9 281.0 388.3C281.2 386.7 281.4 384.5 281.8 383.5C282.2 382.5 283.0 382.3 283.5 382.4C284.0 382.5 284.7 383.1 285.1 384.1C285.5 385.1 285.5 387.1 285.8 388.6C286.1 390.1 286.8 391.3 286.9 393.0Z" fill="none" stroke="#222" stroke-width="0.45" stroke-opacity="0.85"/>
<path d="M285.8 393.0C285.8 394.4 286.2 396.6 286.0 397.7C285.8 398.9 285.2 399.6 284.8 400.1C284.3 400.6 283.9 400.8 283.5 400.7C283.1 400.7 282.7 400.4 282.3 399.8C281.9 399.3 281.5 398.5 281.2 397.4C280.9 396.2 280.7 394.3 280.7 393.0C280.8 391.7 281.4 390.7 281.6 389.5C281.9 388.3 281.9 386.7 282.2 385.8C282.5 384.9 283.1 384.3 283.5 384.2C283.9 384.2 284.5 384.7 284.8 385.6C285.2 386.4 285.4 387.9 285.6 389.1C285.7 390.3 285.7 391.6 285.8 393.0Z" fill="none" stroke="#222" stroke-width="0.45" stroke-opacity="0.85"/>
<path d="M286.4 393.0C286.4 394.9 286.6 396.7 286.5 398.6C286.3 400.5 286.0 403.5 285.5 404.3C285.0 405.0 284.1 403.6 283.5 403.3C282.9 402.9 282.3 403.0 281.9 402.2C281.4 401.4 281.0 399.9 280.7 398.3C280.3 396.8 279.6 394.8 279.6 393.0C279.6 391.2 280.1 388.8 280.5 387.4C281.0 386.1 281.6 386.0 282.1 384.9C282.6 383.9 283.0 381.3 283.5 380.9C284.0 380.6 284.8 381.8 285.3 382.9C285.8 383.9 286.4 385.5 286.6 387.2C286.8 388.9 286.4 391.1 286.4 393.0Z" fill="#0c0c0c" fill-opacity="0.14" filter="url(#soft1)"/>
<path d="M282.4 400.0h0M288.6 404.1h0M284.8 398.5h0M287.8 404.4h0M285.4 415.6h0M292.1 397.5h0M284.4 417.2h0M281.2 400.9h0M284.2 396.6h0M284.7 413.5h0M282.9 413.7h0M278.7 410.3h0M279.6 408.9h0M290.7 402.3h0M278.2 402.2h0M277.0 409.7h0M287.0 415.5h0M281.4 400.3h0M285.7 410.8h0M284.5 393.2h0M288.5 394.5h0M281.6 397.1h0M290.8 403.9h0M281.7 413.6h0M283.2 418.3h0M287.0 399.5h0M289.0 398.5h0M289.3 406.7h0M278.4 404.5h0M287.6 408.6h0M290.0 406.3h0M289.8 406.2h0M284.5 417.2h0M288.1 405.5h0M292.3 407.5h0M292.8 403.6h0M288.7 415.6h0M280.9 413.4h0M277.2 410.9h0" stroke="#333" stroke-opacity="0.75" stroke-width="0.78" stroke-linecap="round"/>
<path d="M288.7 406.0C288.9 407.3 289.4 409.3 289.0 410.3C288.6 411.4 287.1 411.8 286.1 412.2C285.2 412.7 284.4 413.1 283.5 413.1C282.6 413.1 281.7 412.7 280.9 412.2C280.0 411.7 278.8 411.1 278.3 410.1C277.8 409.0 277.5 407.2 277.7 406.0C277.9 404.8 279.0 403.9 279.5 402.8C280.0 401.7 280.0 400.0 280.6 399.3C281.3 398.5 282.5 398.1 283.5 398.1C284.5 398.1 285.6 398.5 286.4 399.2C287.1 400.0 287.5 401.5 287.8 402.6C288.2 403.7 288.5 404.7 288.7 406.0Z" fill="none" stroke="#222" stroke-width="0.45" stroke-opacity="0.85"/>
<path d="M286.7 406.0C286.7 406.9 287.1 407.8 286.9 408.7C286.7 409.5 286.1 410.5 285.6 410.9C285.0 411.2 284.1 410.8 283.5 410.7C282.9 410.6 282.2 410.6 281.7 410.2C281.2 409.9 280.8 409.2 280.4 408.5C280.0 407.8 279.3 406.8 279.3 406.0C279.3 405.2 280.0 404.2 280.4 403.6C280.9 402.9 281.3 402.6 281.8 402.1C282.4 401.6 282.9 400.6 283.5 400.5C284.1 400.4 284.9 401.0 285.4 401.5C286.0 401.9 286.6 402.7 286.8 403.4C287.0 404.2 286.7 405.1 286.7 406.0Z" fill="none" stroke="#222" stroke-width="0.45" stroke-opacity="0.85"/>
<path d="M287.0 406.0C286.9 406.8 286.4 407.3 286.2 408.1C286.0 408.9 286.1 410.5 285.6 411.0C285.2 411.5 284.1 411.3 283.5 411.1C282.9 410.9 282.3 410.4 281.8 409.9C281.3 409.5 280.8 409.0 280.5 408.4C280.1 407.7 279.8 406.9 279.7 406.0C279.6 405.1 279.5 403.8 279.9 403.2C280.3 402.6 281.4 402.7 282.0 402.4C282.6 402.1 282.9 401.4 283.5 401.2C284.1 401.0 284.9 401.0 285.5 401.3C286.0 401.7 286.5 402.6 286.8 403.4C287.0 404.2 287.1 405.2 287.0 406.0Z" fill="#0c0c0c" fill-opacity="0.81" filter="url(#soft1)"/>
<path d="M298.8 382.8C298.7 383.1 298.4 383.2 298.3 383.5C298.2 383.8 298.2 384.2 297.9 384.3C297.7 384.5 297.1 384.5 296.8 384.5C296.5 384.4 296.2 384.2 295.9 384.1C295.6 383.9 295.3 383.8 295.1 383.6C294.9 383.4 294.8 383.1 294.8 382.8C294.7 382.5 294.6 382.1 294.8 381.9C295.0 381.7 295.6 381.7 295.9 381.6C296.2 381.5 296.5 381.3 296.8 381.3C297.1 381.2 297.6 381.2 297.9 381.3C298.2 381.4 298.4 381.7 298.6 382.0C298.7 382.2 298.8 382.5 298.8 382.8Z" fill="none" stroke="#222" stroke-width="0.45" stroke-opacity="0.85"/>
<path d="M305.1 410.7h0M307.0 409.0h0M298.9 413.1h0M303.5 401.1h0M291.8 407.2h0M304.7 412.2h0M313.1 409.0h0M306.0 410.9h0M298.1 402.9h0M301.6 412.6h0M308.6 409.6h0M285.5 403.1h0M303.5 402.5h0M304.0 400.2h0M296.0 404.0h0M290.9 405.2h0M291.5 404.8h0M308.0 409.9h0M299.5 411.6h0M290.7 409.2h0M315.8 408.4h0M298.5 402.9h0M294.7 404.1h0M295.7 402.0h0" stroke="#333" stroke-opacity="0.75" stroke-width="0.78" stroke-linecap="round"/>
<path d="M309.1 407.0C309.0 407.7 308.8 408.4 308.2 409.1C307.7 409.9 307.1 411.1 305.8 411.5C304.4 411.9 301.8 411.4 300.0 411.3C298.2 411.2 296.6 411.1 295.3 410.7C293.9 410.3 292.7 409.8 291.7 409.2C290.7 408.5 289.2 407.8 289.1 407.0C289.0 406.2 289.8 405.2 290.9 404.6C292.0 404.1 294.3 404.1 295.8 403.7C297.3 403.3 298.4 402.4 300.0 402.3C301.6 402.2 303.8 402.5 305.3 402.9C306.8 403.3 308.4 404.0 309.0 404.7C309.6 405.3 309.2 406.3 309.1 407.0Z" fill="none" stroke="#222" stroke-width="0.45" stroke-opacity="0.85"/>
<path d="M308.0 407.0C307.8 407.6 306.5 408.0 305.9 408.5C305.2 409.1 305.1 409.8 304.1 410.2C303.2 410.6 301.3 411.0 300.0 410.9C298.7 410.8 297.5 410.2 296.4 409.8C295.3 409.4 294.1 409.2 293.4 408.7C292.8 408.2 292.5 407.6 292.3 407.0C292.1 406.4 291.6 405.5 292.3 405.0C293.0 404.5 295.0 404.3 296.3 404.1C297.6 403.9 298.7 403.9 300.0 403.8C301.3 403.8 303.1 403.5 304.2 403.7C305.4 403.9 306.4 404.6 307.0 405.2C307.6 405.7 308.2 406.4 308.0 407.0Z" fill="none" stroke="#222" stroke-width="0.45" stroke-opacity="0.85"/>
<path d="M305.9 407.0C305.8 407.4 305.3 407.9 304.7 408.2C304.2 408.6 303.3 408.7 302.5 409.0C301.7 409.2 300.9 409.9 300.0 409.9C299.1 410.0 297.9 409.5 297.1 409.2C296.4 409.0 295.9 408.6 295.5 408.2C295.0 407.8 294.6 407.4 294.5 407.0C294.4 406.6 294.5 406.1 294.9 405.7C295.3 405.3 296.0 404.7 296.8 404.5C297.7 404.4 299.0 404.8 300.0 404.8C301.0 404.9 301.9 404.7 302.8 404.8C303.7 405.0 304.8 405.3 305.3 405.6C305.8 406.0 305.9 406.6 305.9 407.0Z" fill="none" stroke="#222" stroke-width="0.45" stroke-opacity="0.85"/>
<path d="M306.6 407.0C306.5 407.5 306.2 408.1 305.6 408.5C304.9 408.8 303.7 408.9 302.7 409.1C301.8 409.3 301.1 409.6 300.0 409.7C298.9 409.8 297.2 410.1 296.3 409.9C295.5 409.6 295.4 408.8 295.0 408.3C294.6 407.8 294.2 407.4 294.2 407.0C294.1 406.6 294.4 406.1 294.8 405.7C295.2 405.2 295.7 404.5 296.5 404.3C297.4 404.0 299.0 404.0 300.0 404.1C301.0 404.2 301.6 404.8 302.5 405.0C303.5 405.3 305.1 405.2 305.7 405.5C306.4 405.8 306.6 406.5 306.6 407.0Z" fill="#0c0c0c" fill-opacity="0.09" filter="url(#soft1)"/>
<path d="M305.4 398.5h0M295.1 389.7h0M306.6 388.9h0M293.9 388.4h0M309.3 397.4h0M307.9 399.4h0M309.9 389.6h0M297.9 395.8h0M291.4 394.1h0M292.2 385.7h0M302.8 387.3h0M313.3 398.2h0M301.5 388.0h0M293.0 392.6h0M303.0 390.4h0M307.9 392.9h0M309.4 386.6h0M291.8 390.8h0M302.1 388.8h0M306.7 388.3h0M298.0 392.2h0M307.8 396.6h0M299.3 391.7h0M313.2 399.0h0M305.5 386.6h0" stroke="#333" stroke-opacity="0.60" stroke-width="0.78" stroke-linecap="round"/>
</g>
<g clip-path="url(#cf5)">
<path d="M352.5 383.3h0M353.0 380.7h0M338.2 383.1h0M340.4 377.2h0M345.2 375.7h0M346.1 374.8h0M339.7 385.9h0M350.2 385.0h0M343.6 388.1h0M345.8 375.9h0M351.2 384.5h0M348.7 387.4h0M351.4 392.7h0M348.4 387.7h0M342.2 386.5h0M352.0 388.3h0M349.6 385.5h0M344.2 397.5h0M350.1 378.3h0M331.7 383.9h0M342.6 391.9h0M338.5 383.1h0M349.8 386.5h0M349.3 392.6h0M348.0 374.9h0M342.1 386.6h0M339.9 382.6h0M353.6 381.1h0M340.9 390.6h0M350.6 391.9h0M347.3 386.7h0M337.3 386.0h0M337.3 377.6h0M357.7 382.4h0M349.9 378.1h0M355.5 378.4h0M349.0 373.4h0M344.0 393.7h0M340.4 387.9h0M339.2 387.3h0M351.6 377.5h0M339.1 385.4h0M345.6 370.8h0M345.6 393.2h0M356.8 380.9h0M344.0 372.8h0M345.1 387.2h0M338.2 371.1h0M352.5 389.7h0" stroke="#333" stroke-opacity="0.75" stroke-width="0.78" stroke-linecap="round"/>
<path d="M351.6 381.6C351.8 382.9 352.8 384.7 352.3 385.7C351.9 386.8 350.0 387.4 348.8 387.9C347.6 388.3 346.4 388.4 345.2 388.3C344.0 388.3 342.8 388.1 341.7 387.6C340.7 387.1 339.4 386.4 338.7 385.4C337.9 384.4 337.0 382.7 337.2 381.6C337.4 380.5 339.1 379.6 339.9 378.5C340.6 377.5 340.7 376.2 341.6 375.4C342.5 374.6 344.0 374.0 345.2 373.9C346.4 373.9 348.0 374.4 348.9 375.1C349.9 375.8 350.7 377.1 351.2 378.2C351.6 379.2 351.4 380.3 351.6 381.6Z" fill="none" stroke="#222" stroke-width="0.45" stroke-opacity="0.85"/>
<path d="M350.2 381.6C350.2 382.5 350.3 383.4 350.0 384.4C349.7 385.3 349.2 386.8 348.4 387.2C347.6 387.6 346.2 387.0 345.2 386.9C344.2 386.7 343.3 386.7 342.5 386.3C341.7 385.8 341.1 385.1 340.5 384.3C339.9 383.5 339.0 382.5 338.9 381.6C338.9 380.7 339.6 379.4 340.2 378.7C340.9 378.0 342.0 377.9 342.8 377.4C343.6 376.9 344.3 375.8 345.2 375.6C346.1 375.5 347.3 376.0 348.1 376.5C349.0 377.0 349.9 377.8 350.3 378.7C350.6 379.5 350.3 380.7 350.2 381.6Z" fill="none" stroke="#222" stroke-width="0.45" stroke-opacity="0.85"/>
<path d="M349.3 381.6C349.2 382.2 348.6 382.7 348.3 383.4C347.9 384.0 347.9 385.0 347.4 385.4C346.9 385.9 345.9 386.1 345.2 386.0C344.5 385.9 343.9 385.2 343.3 384.8C342.8 384.4 342.1 384.1 341.8 383.6C341.4 383.0 341.2 382.3 341.1 381.6C341.0 380.9 340.8 379.8 341.2 379.3C341.6 378.7 342.7 378.6 343.3 378.4C344.0 378.1 344.5 377.9 345.2 377.8C345.9 377.7 346.8 377.5 347.4 377.8C348.0 378.1 348.5 378.9 348.9 379.5C349.2 380.1 349.4 381.0 349.3 381.6Z" fill="none" stroke="#222" stroke-width="0.45" stroke-opacity="0.85"/>
<path d="M350.2 381.6C350.1 382.4 349.5 383.2 349.0 383.8C348.6 384.4 347.9 384.7 347.3 385.3C346.7 385.8 345.9 387.1 345.2 387.2C344.5 387.3 343.5 386.2 342.9 385.7C342.2 385.1 341.8 384.5 341.4 383.8C341.0 383.1 340.8 382.4 340.7 381.6C340.6 380.8 340.5 379.8 340.8 379.1C341.1 378.3 341.8 377.2 342.6 377.0C343.3 376.8 344.4 377.6 345.2 377.7C346.0 377.8 346.9 377.2 347.6 377.4C348.3 377.7 349.2 378.3 349.6 379.0C350.1 379.7 350.3 380.8 350.2 381.6Z" fill="#0c0c0c" fill-opacity="0.81" filter="url(#soft1)"/>
<path d="M362.9 389.2h0M371.3 375.8h0M372.3 374.6h0M373.6 378.6h0M367.6 374.8h0M374.7 383.1h0M374.3 374.1h0M363.2 388.3h0M369.0 375.1h0M369.2 387.2h0M361.4 391.1h0M365.5 385.3h0M374.2 382.1h0M372.9 383.4h0M374.5 384.0h0M362.9 382.2h0M361.9 385.2h0M365.0 388.2h0M358.9 371.2h0M374.3 376.3h0M367.1 373.7h0M361.0 377.6h0M376.9 388.2h0M357.3 379.8h0M359.5 381.8h0M362.1 371.3h0M370.0 389.3h0M374.6 379.2h0M365.3 374.0h0M378.0 383.3h0M359.0 375.3h0M358.7 385.3h0M373.8 385.0h0M370.6 369.9h0M364.2 385.6h0M369.7 375.4h0M369.9 391.5h0M355.8 386.3h0M358.8 389.4h0M369.9 387.6h0" stroke="#333" stroke-opacity="0.75" stroke-width="0.78" stroke-linecap="round"/>
<path d="M374.1 381.0C374.4 382.1 374.8 383.8 374.3 384.7C373.7 385.6 371.9 385.9 370.9 386.3C369.8 386.7 368.8 387.2 367.8 387.2C366.8 387.2 365.7 386.8 364.7 386.4C363.6 386.0 362.2 385.5 361.6 384.6C361.0 383.7 360.9 382.1 361.1 381.0C361.4 379.9 362.5 379.2 363.0 378.2C363.5 377.2 363.6 375.7 364.4 375.1C365.2 374.4 366.7 374.2 367.8 374.2C368.9 374.2 370.3 374.5 371.2 375.1C372.0 375.8 372.3 377.1 372.8 378.1C373.3 379.1 373.9 379.9 374.1 381.0Z" fill="none" stroke="#222" stroke-width="0.45" stroke-opacity="0.85"/>
<path d="M372.2 381.0C372.2 381.9 372.8 383.0 372.6 383.7C372.3 384.5 371.4 385.5 370.6 385.8C369.8 386.1 368.7 385.8 367.8 385.7C366.9 385.6 366.1 385.6 365.3 385.3C364.6 384.9 364.0 384.2 363.4 383.5C362.9 382.8 362.0 381.8 362.0 381.0C362.1 380.2 363.2 379.3 363.7 378.7C364.3 378.0 364.8 377.5 365.5 377.0C366.2 376.4 367.0 375.6 367.8 375.5C368.6 375.4 369.7 375.9 370.4 376.4C371.2 376.9 372.0 377.7 372.3 378.4C372.5 379.2 372.1 380.1 372.2 381.0Z" fill="none" stroke="#222" stroke-width="0.45" stroke-opacity="0.85"/>
<path d="M371.3 381.0C371.2 381.6 370.9 382.0 370.7 382.7C370.4 383.3 370.4 384.3 369.9 384.7C369.4 385.0 368.4 384.8 367.8 384.7C367.2 384.6 366.6 384.3 366.1 384.0C365.6 383.7 365.1 383.3 364.7 382.8C364.4 382.3 364.0 381.6 363.9 381.0C363.8 380.4 363.9 379.4 364.3 379.0C364.7 378.5 365.6 378.6 366.2 378.3C366.8 378.0 367.2 377.4 367.8 377.3C368.4 377.2 369.2 377.3 369.8 377.6C370.3 377.9 370.9 378.5 371.1 379.1C371.4 379.7 371.4 380.4 371.3 381.0Z" fill="none" stroke="#222" stroke-width="0.45" stroke-opacity="0.85"/>
<path d="M372.3 381.0C372.1 381.7 371.4 382.2 371.0 382.8C370.6 383.5 370.5 384.2 369.9 384.7C369.4 385.2 368.5 386.1 367.8 386.0C367.1 386.0 366.4 384.9 365.8 384.4C365.2 383.9 364.6 383.6 364.3 383.0C363.9 382.5 363.8 381.7 363.7 381.0C363.6 380.3 363.2 379.2 363.6 378.6C363.9 377.9 364.9 377.4 365.6 377.3C366.3 377.1 367.1 377.5 367.8 377.4C368.5 377.4 369.5 376.8 370.1 377.0C370.8 377.2 371.3 378.1 371.7 378.7C372.1 379.4 372.4 380.3 372.3 381.0Z" fill="#0c0c0c" fill-opacity="0.81" filter="url(#soft1)"/>
<path d="M340.0 392.6h0M343.2 381.7h0M337.3 383.0h0M370.7 381.7h0M373.3 383.0h0M367.5 391.3h0M372.0 379.7h0M374.8 376.4h0M344.5 387.4h0M374.2 383.9h0M340.3 382.9h0M383.7 380.4h0M331.4 382.5h0M370.7 389.0h0M344.0 378.8h0M343.2 379.9h0M354.7 390.1h0M341.7 382.6h0M334.1 384.4h0M348.7 386.7h0M353.3 378.8h0M355.5 387.1h0M336.5 382.3h0M371.2 379.6h0M363.2 390.4h0M355.9 374.7h0M351.2 376.6h0M363.7 379.0h0M373.8 380.1h0M324.2 386.9h0M373.2 386.3h0M343.8 374.9h0M368.4 388.0h0M381.7 382.9h0M347.7 387.5h0M360.3 387.1h0M366.4 388.4h0M348.2 390.2h0M366.4 388.4h0M360.7 387.1h0M349.3 387.9h0M337.4 383.8h0M344.0 384.5h0M378.0 380.4h0M341.7 383.8h0M366.3 387.3h0M368.0 390.0h0M381.2 381.3h0M340.2 386.5h0" stroke="#333" stroke-opacity="0.75" stroke-width="0.78" stroke-linecap="round"/>
<path d="M372.9 383.0C372.5 383.9 370.0 384.5 368.7 385.4C367.5 386.3 367.5 387.7 365.4 388.2C363.2 388.8 358.9 389.0 356.0 388.9C353.1 388.7 350.6 387.9 348.2 387.4C345.8 386.8 343.3 386.4 341.8 385.7C340.2 384.9 339.4 384.0 338.9 383.0C338.5 382.0 337.7 380.6 339.3 379.9C340.9 379.2 345.6 379.1 348.4 378.7C351.1 378.4 353.2 378.0 356.0 377.9C358.8 377.7 362.7 377.5 365.2 377.8C367.7 378.2 369.9 379.3 371.2 380.2C372.5 381.0 373.4 382.1 372.9 383.0Z" fill="none" stroke="#222" stroke-width="0.45" stroke-opacity="0.85"/>
<path d="M367.9 383.0C367.7 383.6 366.4 384.2 365.3 384.7C364.2 385.2 362.8 385.5 361.3 386.0C359.7 386.4 357.8 387.3 356.0 387.3C354.2 387.3 351.9 386.6 350.4 386.1C348.8 385.7 347.6 385.3 346.7 384.7C345.8 384.2 345.2 383.6 344.9 383.0C344.7 382.4 344.6 381.6 345.4 381.0C346.2 380.4 348.0 379.7 349.8 379.5C351.6 379.3 354.0 379.8 356.0 379.9C358.0 379.9 360.1 379.5 361.9 379.7C363.6 379.9 365.5 380.5 366.5 381.0C367.6 381.6 368.1 382.4 367.9 383.0Z" fill="none" stroke="#222" stroke-width="0.45" stroke-opacity="0.85"/>
<path d="M367.0 383.0C366.9 383.6 366.5 384.3 365.4 384.8C364.3 385.2 362.1 385.2 360.5 385.5C358.9 385.8 357.8 386.3 356.0 386.5C354.2 386.6 351.3 386.7 349.9 386.4C348.5 386.1 348.4 385.1 347.7 384.5C347.1 384.0 346.0 383.5 345.9 383.0C345.8 382.5 346.5 381.9 347.2 381.3C347.8 380.8 348.5 379.9 349.9 379.6C351.4 379.3 354.3 379.5 356.0 379.7C357.7 379.8 358.8 380.3 360.4 380.5C362.1 380.8 364.9 380.7 366.0 381.1C367.1 381.6 367.1 382.4 367.0 383.0Z" fill="#0c0c0c" fill-opacity="0.05" filter="url(#soft1)"/>
<path d="M342.8 380.0h0M341.2 393.9h0M338.8 384.1h0M353.2 389.5h0M341.1 397.0h0M340.0 380.4h0M339.4 393.1h0M343.5 396.8h0M344.3 376.9h0M349.8 386.4h0M348.2 382.1h0M346.5 380.0h0M341.1 398.8h0M350.6 385.8h0M347.6 398.3h0M348.4 393.9h0M352.6 391.1h0M342.0 398.6h0M340.5 397.4h0M348.3 384.9h0M350.2 385.1h0M340.8 381.0h0M340.3 395.5h0M341.8 384.8h0" stroke="#333" stroke-opacity="0.75" stroke-width="0.78" stroke-linecap="round"/>
<path d="M349.3 389.0C349.3 390.4 349.8 392.0 349.6 393.2C349.3 394.5 348.5 396.1 347.8 396.6C347.0 397.2 345.9 396.5 345.0 396.4C344.1 396.2 343.3 396.3 342.6 395.7C341.9 395.1 341.3 394.0 340.8 392.9C340.2 391.8 339.3 390.3 339.3 389.0C339.3 387.7 340.4 386.3 340.9 385.2C341.5 384.2 342.1 383.6 342.8 382.8C343.4 382.0 344.2 380.5 345.0 380.4C345.8 380.2 346.9 381.1 347.6 381.8C348.3 382.6 349.1 383.7 349.4 384.9C349.7 386.1 349.3 387.6 349.3 389.0Z" fill="none" stroke="#222" stroke-width="0.45" stroke-opacity="0.85"/>
<path d="M348.8 389.0C348.7 390.0 348.3 390.7 348.0 391.8C347.7 392.8 347.7 394.6 347.2 395.2C346.7 395.8 345.7 395.6 345.0 395.4C344.3 395.2 343.7 394.6 343.2 394.0C342.6 393.5 342.1 392.9 341.7 392.0C341.4 391.2 341.0 390.1 340.9 389.0C340.8 387.9 340.8 386.3 341.2 385.5C341.6 384.7 342.7 384.8 343.3 384.3C343.9 383.9 344.4 383.0 345.0 382.8C345.6 382.6 346.5 382.7 347.1 383.2C347.7 383.7 348.2 384.8 348.5 385.8C348.8 386.7 348.9 388.0 348.8 389.0Z" fill="none" stroke="#222" stroke-width="0.45" stroke-opacity="0.85"/>
<path d="M347.9 389.0C347.9 389.7 347.5 390.4 347.2 391.0C346.9 391.7 346.7 392.3 346.4 392.8C346.0 393.3 345.5 394.2 345.0 394.2C344.5 394.2 344.1 393.2 343.7 392.7C343.3 392.2 342.9 391.8 342.7 391.2C342.4 390.5 342.3 389.8 342.3 389.0C342.2 388.2 342.1 387.2 342.3 386.5C342.5 385.8 343.1 385.2 343.5 385.0C344.0 384.7 344.5 385.2 345.0 385.1C345.5 385.1 346.1 384.6 346.5 384.8C346.9 385.1 347.3 385.9 347.6 386.6C347.8 387.3 348.0 388.3 347.9 389.0Z" fill="none" stroke="#222" stroke-width="0.45" stroke-opacity="0.85"/>
<path d="M348.2 389.0C348.2 389.9 348.0 390.9 347.7 391.5C347.4 392.1 346.7 392.1 346.3 392.6C345.8 393.1 345.5 394.2 345.0 394.4C344.5 394.6 343.7 394.3 343.3 393.8C342.9 393.2 342.8 392.0 342.6 391.2C342.4 390.4 342.1 389.8 342.0 389.0C342.0 388.2 342.1 387.4 342.3 386.5C342.5 385.7 342.8 384.3 343.2 384.0C343.6 383.7 344.5 384.3 345.0 384.5C345.5 384.7 345.9 384.9 346.4 385.2C346.9 385.5 347.7 385.6 348.0 386.3C348.3 386.9 348.3 388.1 348.2 389.0Z" fill="#0c0c0c" fill-opacity="0.18" filter="url(#soft1)"/>
<path d="M340.8 411.2h0M339.3 413.8h0M343.3 415.8h0M341.1 413.8h0M342.6 403.4h0M351.4 409.0h0M346.5 403.7h0M348.3 412.5h0M344.3 412.7h0M344.1 402.8h0M350.7 406.3h0M332.7 404.7h0M350.3 405.7h0M339.6 410.2h0M349.1 403.4h0M336.8 414.3h0M344.9 398.5h0M337.4 403.7h0M350.2 410.0h0M348.3 411.4h0M337.6 401.4h0M349.0 411.5h0M340.0 404.8h0M341.5 402.8h0M352.8 407.2h0M339.6 410.2h0M345.5 414.4h0M351.2 407.3h0M349.4 416.5h0M346.9 412.3h0M344.2 402.2h0M351.8 410.7h0M354.7 410.1h0M339.2 410.1h0" stroke="#333" stroke-opacity="0.75" stroke-width="0.78" stroke-linecap="round"/>
<path d="M352.2 408.2C352.2 409.1 350.8 410.2 350.1 411.0C349.3 411.8 348.7 412.5 347.8 413.0C346.9 413.5 345.8 413.6 344.7 413.7C343.6 413.9 342.1 414.1 341.1 413.7C340.1 413.3 339.2 412.1 338.8 411.2C338.5 410.3 339.2 409.2 339.2 408.2C339.2 407.2 338.5 406.0 338.8 405.2C339.2 404.3 340.3 403.4 341.3 402.9C342.3 402.4 343.6 402.0 344.7 402.1C345.8 402.3 346.7 403.1 347.6 403.7C348.5 404.2 349.3 404.7 350.1 405.4C350.8 406.2 352.2 407.3 352.2 408.2Z" fill="none" stroke="#222" stroke-width="0.45" stroke-opacity="0.85"/>
<path d="M350.1 408.2C350.3 408.9 350.1 410.1 349.5 410.7C349.0 411.3 347.9 411.5 347.0 411.8C346.2 412.1 345.5 412.5 344.7 412.6C343.9 412.6 343.0 412.4 342.2 412.1C341.4 411.8 340.1 411.4 339.7 410.8C339.3 410.1 339.8 409.0 339.9 408.2C340.1 407.4 340.4 406.9 340.7 406.1C341.1 405.4 341.3 404.4 342.0 404.0C342.6 403.5 343.8 403.5 344.7 403.5C345.6 403.5 346.7 403.7 347.3 404.2C347.9 404.7 348.0 405.6 348.5 406.2C349.0 406.9 350.0 407.5 350.1 408.2Z" fill="none" stroke="#222" stroke-width="0.45" stroke-opacity="0.85"/>
<path d="M348.0 408.2C348.1 408.8 348.6 409.6 348.3 410.1C348.1 410.6 347.2 410.9 346.6 411.1C346.0 411.3 345.3 411.3 344.7 411.3C344.1 411.2 343.5 411.2 342.9 410.9C342.4 410.7 341.8 410.4 341.4 409.9C341.0 409.5 340.5 408.7 340.6 408.2C340.7 407.7 341.6 407.3 342.0 406.8C342.3 406.3 342.4 405.7 342.9 405.4C343.3 405.0 344.1 404.7 344.7 404.7C345.3 404.7 346.1 404.9 346.6 405.2C347.1 405.6 347.5 406.1 347.8 406.6C348.0 407.1 347.9 407.6 348.0 408.2Z" fill="none" stroke="#222" stroke-width="0.45" stroke-opacity="0.85"/>
<path d="M348.4 408.2C348.4 408.8 348.5 409.4 348.3 410.1C348.1 410.7 347.8 411.8 347.2 412.1C346.6 412.4 345.5 411.9 344.7 411.8C343.9 411.6 343.3 411.6 342.7 411.3C342.1 411.1 341.6 410.6 341.2 410.0C340.7 409.5 339.9 408.8 339.8 408.2C339.8 407.6 340.4 406.7 340.9 406.2C341.4 405.8 342.3 405.8 342.9 405.5C343.6 405.1 344.0 404.2 344.7 404.1C345.4 404.0 346.3 404.4 347.0 404.7C347.6 405.1 348.3 405.6 348.6 406.2C348.8 406.8 348.5 407.6 348.4 408.2Z" fill="#0c0c0c" fill-opacity="0.77" filter="url(#soft1)"/>
<path d="M364.6 404.4h0M353.1 405.4h0M364.8 406.2h0M363.5 404.2h0M364.0 411.2h0M361.8 411.0h0M367.4 407.6h0M361.2 403.1h0M364.3 407.6h0M361.2 402.8h0M350.0 405.3h0M357.5 403.4h0" stroke="#333" stroke-opacity="0.75" stroke-width="0.78" stroke-linecap="round"/>
<path d="M365.5 407.5C365.7 408.1 365.3 408.9 364.7 409.4C364.0 409.9 362.5 410.1 361.5 410.3C360.5 410.5 359.5 410.8 358.5 410.9C357.5 410.9 356.4 410.7 355.3 410.5C354.2 410.3 352.6 410.0 352.1 409.5C351.6 409.0 352.2 408.1 352.5 407.5C352.7 406.9 353.0 406.5 353.4 405.9C353.8 405.4 354.1 404.6 355.0 404.2C355.9 403.9 357.4 403.8 358.5 403.9C359.6 403.9 361.0 404.1 361.8 404.4C362.6 404.8 362.7 405.5 363.3 406.0C364.0 406.5 365.2 406.9 365.5 407.5Z" fill="none" stroke="#222" stroke-width="0.45" stroke-opacity="0.85"/>
<path d="M362.4 407.5C362.5 407.9 363.1 408.5 362.9 408.9C362.6 409.2 361.4 409.4 360.7 409.6C360.0 409.7 359.2 409.7 358.5 409.7C357.8 409.7 357.1 409.6 356.4 409.5C355.7 409.3 355.0 409.1 354.5 408.7C354.1 408.4 353.5 407.9 353.6 407.5C353.8 407.1 354.8 406.8 355.3 406.5C355.7 406.2 355.8 405.7 356.3 405.5C356.9 405.2 357.8 405.0 358.5 405.0C359.2 405.0 360.2 405.1 360.8 405.4C361.4 405.6 361.8 406.0 362.1 406.4C362.4 406.7 362.3 407.1 362.4 407.5Z" fill="none" stroke="#222" stroke-width="0.45" stroke-opacity="0.85"/>
<path d="M362.0 407.5C361.9 407.9 362.1 408.2 361.9 408.6C361.7 408.9 361.4 409.5 360.9 409.7C360.3 409.9 359.2 409.6 358.5 409.5C357.8 409.4 357.1 409.4 356.6 409.3C356.0 409.1 355.6 408.8 355.2 408.5C354.7 408.2 354.0 407.9 353.9 407.5C353.9 407.1 354.5 406.7 354.9 406.4C355.4 406.1 356.2 406.2 356.8 405.9C357.4 405.7 357.9 405.2 358.5 405.2C359.1 405.1 360.0 405.3 360.6 405.5C361.2 405.7 361.9 406.0 362.1 406.4C362.4 406.7 362.0 407.1 362.0 407.5Z" fill="#0c0c0c" fill-opacity="0.09" filter="url(#soft1)"/>
</g>
<g clip-path="url(#cf6)">
<path d="M418.6 379.2h0M401.1 381.4h0M405.7 401.9h0M413.0 381.6h0M409.2 379.2h0M417.3 389.0h0M406.7 378.8h0M405.8 404.7h0M410.5 380.7h0M400.2 391.0h0M411.7 395.9h0M418.1 379.9h0M406.7 380.9h0M400.2 384.4h0M398.5 397.5h0M413.2 384.5h0M414.5 401.7h0M405.1 405.2h0M396.7 397.1h0M405.0 372.3h0M403.4 382.5h0M415.1 401.7h0M408.7 409.6h0M403.5 382.3h0M411.2 385.2h0M414.1 384.8h0M398.6 383.1h0M408.2 381.6h0M409.7 383.0h0M399.2 399.8h0M412.8 401.3h0M406.4 378.7h0M414.1 395.3h0M415.5 388.9h0M413.6 404.7h0M402.2 381.1h0M409.1 378.5h0M413.0 392.8h0M410.2 380.6h0M410.4 384.3h0M397.8 393.4h0M405.3 379.6h0M411.2 386.1h0M409.6 404.2h0M413.1 402.0h0M410.3 407.2h0M410.6 403.2h0M410.8 386.3h0M406.4 411.0h0M411.4 384.4h0M401.6 382.5h0M418.7 385.9h0M401.0 388.1h0M412.4 375.5h0M411.9 384.0h0M408.3 380.6h0M407.2 403.9h0M396.4 394.6h0M414.3 382.4h0M413.4 411.0h0M400.8 397.3h0M410.9 404.9h0M398.9 390.8h0M405.5 405.0h0M407.0 375.3h0M399.4 382.0h0M400.5 402.4h0M417.3 384.9h0M400.5 383.9h0M411.4 388.2h0M403.2 404.5h0M414.1 392.8h0M405.2 400.1h0" stroke="#333" stroke-opacity="0.75" stroke-width="0.78" stroke-linecap="round"/>
<path d="M413.0 390.2C413.2 392.2 413.4 395.5 412.8 397.1C412.2 398.7 410.5 399.2 409.4 400.0C408.4 400.8 407.4 401.9 406.4 401.9C405.4 402.0 404.3 401.2 403.3 400.4C402.2 399.6 400.6 398.8 400.1 397.1C399.5 395.4 399.8 392.2 400.0 390.2C400.2 388.2 401.0 386.8 401.5 384.9C402.0 383.0 402.1 380.1 402.9 378.9C403.7 377.7 405.3 377.5 406.4 377.5C407.5 377.6 408.9 378.0 409.8 379.3C410.6 380.5 410.8 383.1 411.3 384.9C411.9 386.7 412.8 388.2 413.0 390.2Z" fill="none" stroke="#222" stroke-width="0.45" stroke-opacity="0.85"/>
<path d="M411.1 390.2C411.2 392.0 412.0 394.3 411.7 395.9C411.3 397.4 410.1 398.9 409.3 399.5C408.4 400.1 407.3 399.8 406.4 399.6C405.5 399.5 404.6 399.4 403.8 398.7C403.0 398.0 402.2 396.8 401.6 395.4C401.0 393.9 400.1 391.8 400.2 390.2C400.3 388.6 401.6 387.1 402.2 385.7C402.8 384.3 403.1 382.9 403.8 381.8C404.5 380.7 405.5 379.3 406.4 379.2C407.3 379.1 408.4 380.0 409.2 381.0C410.0 382.0 410.7 383.6 411.1 385.1C411.4 386.7 411.0 388.4 411.1 390.2Z" fill="none" stroke="#222" stroke-width="0.45" stroke-opacity="0.85"/>
<path d="M410.4 390.2C410.4 391.6 410.2 392.7 409.9 394.0C409.7 395.4 409.5 397.7 408.9 398.4C408.3 399.1 407.2 398.4 406.4 398.2C405.6 397.9 404.9 397.6 404.3 396.9C403.7 396.3 403.2 395.3 402.8 394.2C402.3 393.0 401.7 391.6 401.7 390.2C401.6 388.8 401.9 386.8 402.3 385.8C402.8 384.8 403.9 384.9 404.5 384.2C405.2 383.5 405.7 382.0 406.4 381.7C407.1 381.5 408.1 382.0 408.7 382.7C409.4 383.4 410.1 384.7 410.4 385.9C410.6 387.2 410.5 388.8 410.4 390.2Z" fill="none" stroke="#222" stroke-width="0.45" stroke-opacity="0.85"/>
<path d="M409.8 390.2C409.7 391.2 409.2 392.0 408.9 392.9C408.6 393.9 408.5 395.1 408.1 395.8C407.7 396.5 406.9 397.3 406.4 397.2C405.9 397.1 405.3 395.9 404.9 395.2C404.4 394.5 403.9 394.0 403.6 393.2C403.3 392.4 403.2 391.3 403.1 390.2C403.1 389.1 402.9 387.5 403.1 386.7C403.4 385.8 404.3 385.3 404.8 385.0C405.3 384.7 405.8 384.8 406.4 384.7C407.0 384.6 407.7 384.0 408.2 384.4C408.7 384.7 409.1 386.0 409.4 387.0C409.7 387.9 409.9 389.2 409.8 390.2Z" fill="none" stroke="#222" stroke-width="0.45" stroke-opacity="0.85"/>
<path d="M410.9 390.2C410.8 391.6 410.4 393.1 410.0 394.1C409.6 395.1 408.8 395.2 408.2 396.1C407.6 397.0 407.1 399.3 406.4 399.5C405.7 399.7 404.7 398.4 404.2 397.5C403.6 396.5 403.3 395.1 403.0 393.8C402.7 392.6 402.4 391.5 402.3 390.2C402.2 388.9 402.3 387.4 402.6 386.1C402.9 384.7 403.3 382.6 403.9 382.2C404.6 381.7 405.6 383.2 406.4 383.4C407.2 383.6 407.8 383.1 408.5 383.5C409.1 383.9 410.1 384.7 410.5 385.8C410.9 386.9 410.9 388.8 410.9 390.2Z" fill="#0c0c0c" fill-opacity="0.77" filter="url(#soft1)"/>
<path d="M412.5 384.5h0M412.0 396.3h0M429.7 385.1h0M428.1 380.6h0M415.5 379.2h0M417.6 396.3h0M432.7 385.6h0M427.6 389.9h0M441.0 388.5h0M411.1 387.1h0M426.8 391.9h0M416.8 379.4h0M432.7 382.7h0M417.7 376.0h0M428.1 387.6h0M432.5 385.6h0M417.8 393.9h0M414.7 390.6h0M426.7 384.1h0M435.5 388.5h0M424.4 396.8h0M429.6 392.9h0M434.8 382.3h0M413.2 386.9h0M413.5 400.1h0M417.2 378.3h0M428.1 390.2h0M431.4 394.7h0M420.6 371.7h0M416.3 392.0h0M416.0 380.7h0M442.9 386.8h0M412.9 380.9h0M419.7 380.6h0M412.3 385.1h0" stroke="#333" stroke-opacity="0.75" stroke-width="0.78" stroke-linecap="round"/>
<path d="M430.7 387.5C431.0 388.7 430.4 390.6 429.5 391.6C428.6 392.6 426.6 393.0 425.2 393.5C423.7 394.0 422.4 394.7 421.0 394.7C419.6 394.8 418.0 394.4 416.6 393.9C415.1 393.4 412.8 392.8 412.1 391.8C411.5 390.7 412.4 388.8 412.7 387.5C413.0 386.2 413.3 385.2 413.9 384.1C414.5 382.9 415.0 381.2 416.2 380.5C417.3 379.8 419.4 379.7 421.0 379.7C422.6 379.8 424.4 380.2 425.6 380.9C426.7 381.7 426.8 383.2 427.7 384.3C428.6 385.4 430.4 386.3 430.7 387.5Z" fill="none" stroke="#222" stroke-width="0.45" stroke-opacity="0.85"/>
<path d="M427.3 387.5C427.5 388.5 428.5 390.0 428.0 390.9C427.5 391.7 425.7 392.2 424.5 392.6C423.4 392.9 422.2 393.0 421.0 393.0C419.8 393.0 418.7 392.8 417.6 392.4C416.5 392.0 415.3 391.4 414.6 390.6C413.8 389.8 413.0 388.4 413.2 387.5C413.4 386.6 415.1 385.8 415.8 385.0C416.5 384.1 416.6 383.0 417.5 382.4C418.3 381.8 419.8 381.3 421.0 381.2C422.2 381.2 423.7 381.6 424.7 382.2C425.6 382.8 426.4 383.8 426.8 384.7C427.2 385.6 427.1 386.5 427.3 387.5Z" fill="none" stroke="#222" stroke-width="0.45" stroke-opacity="0.85"/>
<path d="M425.5 387.5C425.5 388.2 425.6 388.9 425.4 389.6C425.1 390.3 424.6 391.4 423.9 391.7C423.2 392.0 421.9 391.6 421.0 391.5C420.1 391.4 419.3 391.3 418.6 391.0C417.8 390.7 417.3 390.1 416.7 389.5C416.2 389.0 415.3 388.2 415.3 387.5C415.3 386.8 416.0 385.9 416.5 385.4C417.1 384.8 418.1 384.7 418.8 384.3C419.6 383.9 420.2 383.1 421.0 383.0C421.8 382.9 422.9 383.3 423.7 383.7C424.4 384.1 425.3 384.7 425.6 385.3C425.9 385.9 425.5 386.8 425.5 387.5Z" fill="none" stroke="#222" stroke-width="0.45" stroke-opacity="0.85"/>
<path d="M426.6 387.5C426.4 388.2 425.5 388.7 425.0 389.4C424.6 390.2 424.8 391.5 424.1 392.0C423.4 392.5 421.9 392.7 421.0 392.6C420.1 392.4 419.3 391.6 418.5 391.1C417.7 390.7 416.9 390.3 416.4 389.7C415.8 389.1 415.6 388.3 415.4 387.5C415.3 386.7 414.9 385.4 415.4 384.8C415.9 384.2 417.6 384.2 418.5 383.9C419.5 383.7 420.1 383.4 421.0 383.3C421.9 383.1 423.2 382.8 424.1 383.1C424.9 383.4 425.6 384.3 426.0 385.1C426.4 385.8 426.7 386.8 426.6 387.5Z" fill="#0c0c0c" fill-opacity="0.05" filter="url(#soft1)"/>
<path d="M408.1 407.4h0M407.6 407.3h0M407.1 399.5h0M408.2 408.5h0M401.9 401.8h0M404.0 405.6h0" stroke="#333" stroke-opacity="0.75" stroke-width="0.78" stroke-linecap="round"/>
<path d="M408.9 404.0C408.8 404.6 408.5 405.1 408.3 405.8C408.1 406.4 408.1 407.6 407.7 408.0C407.3 408.3 406.5 408.2 406.0 408.0C405.5 407.9 405.0 407.6 404.6 407.2C404.2 406.9 403.8 406.5 403.5 405.9C403.2 405.4 402.9 404.7 402.9 404.0C402.8 403.3 402.8 402.3 403.1 401.8C403.4 401.3 404.2 401.3 404.7 401.0C405.2 400.7 405.5 400.2 406.0 400.0C406.5 399.9 407.2 400.0 407.6 400.3C408.1 400.6 408.5 401.3 408.7 401.9C408.9 402.5 408.9 403.4 408.9 404.0Z" fill="none" stroke="#222" stroke-width="0.45" stroke-opacity="0.85"/>
<path d="M408.1 404.0C408.1 404.4 407.7 404.8 407.6 405.2C407.4 405.6 407.3 406.0 407.0 406.3C406.7 406.6 406.3 407.1 406.0 407.1C405.7 407.1 405.3 406.5 405.0 406.2C404.8 405.9 404.5 405.7 404.3 405.3C404.2 404.9 404.1 404.5 404.0 404.0C404.0 403.5 403.9 402.9 404.1 402.5C404.2 402.1 404.6 401.7 405.0 401.6C405.3 401.5 405.6 401.7 406.0 401.7C406.4 401.7 406.8 401.4 407.1 401.5C407.4 401.7 407.7 402.2 407.8 402.6C408.0 403.0 408.1 403.6 408.1 404.0Z" fill="none" stroke="#222" stroke-width="0.45" stroke-opacity="0.85"/>
<path d="M407.9 404.0C407.9 404.4 407.8 404.9 407.6 405.2C407.4 405.5 407.0 405.6 406.8 405.8C406.5 406.0 406.3 406.6 406.0 406.7C405.7 406.8 405.2 406.6 405.0 406.4C404.7 406.1 404.7 405.5 404.6 405.1C404.4 404.7 404.2 404.4 404.2 404.0C404.2 403.6 404.3 403.2 404.4 402.8C404.5 402.4 404.7 401.7 404.9 401.5C405.2 401.3 405.7 401.7 406.0 401.8C406.3 401.9 406.5 401.9 406.8 402.1C407.1 402.2 407.6 402.3 407.8 402.6C408.0 403.0 408.0 403.6 407.9 404.0Z" fill="#0c0c0c" fill-opacity="0.14" filter="url(#soft1)"/>
<path d="M427.2 380.3h0M413.6 388.5h0M418.6 395.1h0M418.8 396.5h0M418.8 381.9h0M425.4 387.8h0M421.4 395.3h0M418.2 393.4h0M435.4 389.1h0M426.1 398.5h0M428.9 383.6h0M413.9 381.6h0M421.3 381.8h0M430.2 388.5h0M420.6 390.2h0M438.2 384.9h0M416.3 386.1h0M421.1 398.2h0M431.8 388.6h0M416.6 380.9h0M415.4 396.9h0M430.1 383.1h0M429.5 381.2h0M426.2 386.7h0M414.9 394.8h0M432.1 390.2h0M416.7 393.4h0M424.1 393.2h0M414.6 398.1h0M412.1 384.5h0" stroke="#333" stroke-opacity="0.60" stroke-width="0.78" stroke-linecap="round"/>
</g>
<g clip-path="url(#cf7)">
<path d="M466.6 379.8h0M475.1 387.0h0M465.6 378.9h0M470.0 398.5h0M460.1 393.4h0M473.3 397.7h0M477.7 386.6h0M474.7 382.4h0M460.3 388.3h0M471.3 398.0h0M471.2 377.5h0M466.4 400.1h0M457.8 390.2h0M473.5 396.4h0M466.0 377.9h0M467.0 380.0h0M481.9 393.2h0M466.6 373.2h0M466.3 394.9h0M475.0 390.7h0M462.9 399.8h0M466.1 376.2h0M467.2 400.5h0M477.8 385.5h0M473.1 391.7h0M467.9 379.8h0M473.4 397.9h0M474.8 377.8h0M464.8 392.9h0M465.5 378.4h0M465.1 394.7h0M472.2 382.1h0M475.5 380.7h0M469.8 380.0h0M476.7 385.0h0M463.4 377.2h0M471.8 400.8h0M462.3 386.3h0M462.9 396.3h0M463.4 386.9h0M467.5 398.1h0M462.4 387.2h0M464.2 376.0h0M470.7 394.4h0M469.7 375.7h0M467.1 379.4h0M468.7 396.2h0M477.0 381.1h0M466.6 399.8h0M464.5 391.9h0M462.1 388.5h0M467.3 370.2h0M465.0 394.3h0M465.6 399.9h0M467.8 374.1h0M471.3 401.5h0M465.5 380.4h0M463.7 372.1h0M467.5 400.4h0M477.2 392.6h0M474.1 385.4h0" stroke="#333" stroke-opacity="0.75" stroke-width="0.78" stroke-linecap="round"/>
<path d="M475.3 387.4C475.6 389.1 475.8 391.7 475.2 393.1C474.6 394.4 472.9 394.8 471.8 395.5C470.7 396.1 469.7 397.0 468.7 397.0C467.7 397.0 466.6 396.4 465.5 395.7C464.5 395.1 462.9 394.4 462.3 393.0C461.7 391.6 461.9 389.1 462.1 387.4C462.4 385.7 463.3 384.6 463.8 383.1C464.3 381.5 464.4 379.2 465.2 378.2C466.0 377.2 467.5 377.0 468.7 377.0C469.9 377.0 471.3 377.4 472.1 378.4C473.0 379.4 473.2 381.5 473.7 383.0C474.2 384.5 475.1 385.7 475.3 387.4Z" fill="none" stroke="#222" stroke-width="0.45" stroke-opacity="0.85"/>
<path d="M473.5 387.4C473.6 388.9 474.3 390.7 474.0 392.0C473.7 393.3 472.5 394.6 471.6 395.1C470.8 395.6 469.6 395.2 468.7 395.1C467.8 395.0 466.8 395.0 466.0 394.4C465.2 393.8 464.5 392.8 463.9 391.6C463.3 390.4 462.3 388.7 462.4 387.4C462.5 386.1 463.8 384.8 464.4 383.7C465.0 382.5 465.4 381.5 466.1 380.6C466.8 379.7 467.8 378.5 468.7 378.4C469.6 378.3 470.8 379.1 471.6 379.9C472.4 380.7 473.1 382.0 473.5 383.2C473.8 384.5 473.4 385.9 473.5 387.4Z" fill="none" stroke="#222" stroke-width="0.45" stroke-opacity="0.85"/>
<path d="M472.8 387.4C472.8 388.5 472.5 389.4 472.3 390.5C472.0 391.6 471.9 393.6 471.3 394.1C470.7 394.7 469.5 394.2 468.7 394.0C467.9 393.8 467.2 393.5 466.6 392.9C466.0 392.3 465.4 391.6 465.0 390.6C464.5 389.7 464.0 388.5 463.9 387.4C463.8 386.3 464.1 384.6 464.5 383.8C465.0 382.9 466.1 383.0 466.8 382.5C467.5 381.9 468.0 380.7 468.7 380.5C469.4 380.3 470.4 380.6 471.1 381.2C471.7 381.8 472.4 382.9 472.7 383.9C473.0 384.9 472.9 386.3 472.8 387.4Z" fill="none" stroke="#222" stroke-width="0.45" stroke-opacity="0.85"/>
<path d="M472.2 387.4C472.1 388.2 471.5 388.9 471.3 389.6C471.0 390.4 470.9 391.4 470.4 391.9C470.0 392.5 469.2 393.2 468.7 393.2C468.2 393.1 467.6 392.1 467.1 391.5C466.7 390.9 466.2 390.6 465.9 389.9C465.6 389.2 465.5 388.3 465.4 387.4C465.3 386.5 465.1 385.2 465.4 384.5C465.7 383.8 466.5 383.3 467.1 383.1C467.6 382.8 468.1 383.0 468.7 382.9C469.3 382.8 470.0 382.3 470.5 382.6C471.0 382.9 471.5 383.9 471.7 384.7C472.0 385.5 472.3 386.6 472.2 387.4Z" fill="none" stroke="#222" stroke-width="0.45" stroke-opacity="0.85"/>
<path d="M473.2 387.4C473.1 388.5 472.8 389.8 472.4 390.6C471.9 391.4 471.2 391.5 470.5 392.2C469.9 393.0 469.4 394.8 468.7 395.0C468.0 395.2 467.0 394.2 466.4 393.4C465.8 392.7 465.6 391.4 465.3 390.4C465.0 389.4 464.6 388.5 464.5 387.4C464.4 386.3 464.6 385.1 464.8 384.0C465.1 382.9 465.5 381.2 466.2 380.8C466.8 380.4 467.9 381.6 468.7 381.8C469.5 382.0 470.1 381.7 470.8 382.0C471.4 382.3 472.4 382.9 472.8 383.8C473.2 384.7 473.3 386.3 473.2 387.4Z" fill="#0c0c0c" fill-opacity="0.77" filter="url(#soft1)"/>
<path d="M488.2 377.3h0M492.8 397.0h0M487.6 389.8h0M490.3 371.3h0M481.4 384.1h0M483.7 384.0h0M489.4 375.0h0M498.9 373.9h0M481.8 387.5h0M499.5 381.8h0M494.1 390.4h0M497.5 379.6h0M496.1 376.1h0M498.3 376.8h0M480.3 389.3h0M485.7 389.5h0M499.8 392.2h0M484.1 389.2h0M484.7 378.4h0M487.0 387.1h0M486.7 388.0h0M491.9 373.1h0M488.4 388.8h0M494.1 391.3h0M501.5 384.8h0M489.1 391.7h0M494.4 394.1h0M492.3 395.2h0M480.7 376.3h0M499.5 385.4h0M488.0 390.2h0M482.5 382.7h0M498.1 390.7h0M485.8 386.7h0M485.5 390.6h0M498.2 382.6h0M491.6 390.5h0M485.0 379.1h0M485.7 389.3h0M495.7 370.6h0M490.4 391.1h0M497.3 382.7h0M500.5 387.0h0M485.9 377.4h0M492.5 375.3h0M485.0 389.2h0M494.1 373.2h0M491.3 374.6h0M484.4 386.3h0M484.3 385.2h0M492.5 389.2h0M497.2 387.6h0M487.5 387.7h0" stroke="#333" stroke-opacity="0.75" stroke-width="0.78" stroke-linecap="round"/>
<path d="M499.3 383.3C499.5 384.6 498.4 386.3 497.6 387.4C496.8 388.5 495.6 389.2 494.5 389.7C493.5 390.3 492.4 390.9 491.2 391.0C490.0 391.1 488.7 391.0 487.5 390.4C486.3 389.9 484.6 389.0 484.2 387.8C483.8 386.6 484.8 384.7 484.9 383.3C485.1 381.9 484.7 380.7 485.1 379.4C485.5 378.2 486.3 376.6 487.3 375.9C488.4 375.1 490.0 374.9 491.2 375.0C492.4 375.1 493.8 375.8 494.7 376.6C495.6 377.4 495.9 378.7 496.7 379.8C497.4 380.9 499.2 382.0 499.3 383.3Z" fill="none" stroke="#222" stroke-width="0.45" stroke-opacity="0.85"/>
<path d="M497.0 383.3C497.2 384.4 497.7 386.2 497.2 387.2C496.7 388.1 495.1 388.4 494.1 388.8C493.1 389.3 492.2 389.7 491.2 389.7C490.2 389.7 489.3 389.3 488.3 388.9C487.4 388.4 486.0 387.9 485.5 387.0C484.9 386.1 484.7 384.4 484.9 383.3C485.1 382.2 486.2 381.5 486.8 380.5C487.3 379.4 487.3 377.9 488.0 377.2C488.8 376.5 490.2 376.3 491.2 376.3C492.2 376.3 493.6 376.6 494.3 377.3C495.1 377.9 495.5 379.3 495.9 380.3C496.3 381.3 496.7 382.2 497.0 383.3Z" fill="none" stroke="#222" stroke-width="0.45" stroke-opacity="0.85"/>
<path d="M495.4 383.3C495.4 384.2 495.9 385.3 495.7 386.2C495.4 387.0 494.6 388.1 493.9 388.4C493.1 388.8 492.0 388.4 491.2 388.3C490.4 388.2 489.5 388.2 488.9 387.8C488.2 387.4 487.6 386.7 487.1 386.0C486.5 385.2 485.6 384.2 485.7 383.3C485.7 382.4 486.7 381.5 487.3 380.8C487.8 380.1 488.4 379.6 489.0 379.1C489.7 378.5 490.4 377.6 491.2 377.5C492.0 377.4 493.0 377.9 493.7 378.5C494.4 379.0 495.2 379.7 495.5 380.6C495.8 381.4 495.4 382.4 495.4 383.3Z" fill="none" stroke="#222" stroke-width="0.45" stroke-opacity="0.85"/>
<path d="M494.7 383.3C494.7 384.0 494.3 384.4 494.0 385.1C493.8 385.8 493.8 387.0 493.3 387.4C492.8 387.7 491.8 387.6 491.2 387.4C490.6 387.3 490.0 387.0 489.5 386.6C489.0 386.2 488.5 385.8 488.1 385.3C487.8 384.7 487.4 384.0 487.4 383.3C487.3 382.6 487.3 381.5 487.6 381.0C488.0 380.5 489.0 380.5 489.6 380.3C490.2 380.0 490.6 379.4 491.2 379.2C491.8 379.1 492.6 379.2 493.2 379.5C493.7 379.8 494.3 380.5 494.5 381.2C494.8 381.8 494.8 382.6 494.7 383.3Z" fill="none" stroke="#222" stroke-width="0.45" stroke-opacity="0.85"/>
<path d="M496.2 383.3C496.0 384.1 495.2 384.9 494.8 385.6C494.3 386.3 494.1 387.1 493.5 387.7C492.9 388.4 492.0 389.6 491.2 389.5C490.4 389.5 489.6 388.2 489.0 387.5C488.3 386.9 487.7 386.5 487.3 385.8C486.9 385.1 486.8 384.2 486.6 383.3C486.5 382.4 486.2 381.1 486.6 380.3C486.9 379.5 488.0 378.8 488.8 378.6C489.5 378.4 490.4 379.0 491.2 379.0C492.0 378.9 493.0 378.1 493.7 378.4C494.5 378.7 495.1 379.7 495.5 380.5C495.9 381.3 496.3 382.5 496.2 383.3Z" fill="#0c0c0c" fill-opacity="0.77" filter="url(#soft1)"/>
<path d="M477.0 380.1h0M471.2 386.5h0M466.9 386.6h0M471.0 387.2h0M487.3 395.8h0M497.5 380.6h0M470.8 382.8h0M467.3 384.4h0M492.7 385.7h0M472.7 391.3h0M463.4 385.4h0M473.6 393.8h0M472.7 393.4h0M461.5 392.0h0M467.7 391.3h0M488.5 391.5h0M466.5 389.3h0M465.2 391.8h0M470.5 388.4h0M493.8 378.0h0M501.0 388.5h0M485.7 395.1h0M472.2 378.7h0M468.6 387.1h0M489.2 392.9h0M475.0 383.1h0M474.3 382.8h0M492.6 392.2h0M467.9 386.6h0M476.7 392.4h0M467.7 387.6h0M473.2 383.6h0M475.5 381.3h0M467.2 385.1h0M463.6 383.2h0M485.4 395.2h0M460.0 382.8h0M482.3 380.3h0M497.7 385.7h0M489.4 380.5h0M472.4 383.5h0M495.2 388.2h0M478.0 374.5h0M479.9 395.0h0" stroke="#333" stroke-opacity="0.75" stroke-width="0.78" stroke-linecap="round"/>
<path d="M494.3 387.0C494.6 388.1 496.6 389.5 495.7 390.4C494.9 391.3 491.5 392.0 489.2 392.3C486.9 392.7 484.3 392.6 482.0 392.6C479.7 392.5 477.3 392.4 475.3 392.0C473.2 391.6 471.0 390.9 469.5 390.1C468.0 389.3 466.0 387.9 466.3 387.0C466.6 386.1 470.0 385.2 471.5 384.4C473.0 383.6 473.4 382.6 475.2 382.0C477.0 381.3 479.7 380.6 482.0 380.6C484.3 380.5 487.3 381.0 489.3 381.6C491.2 382.2 492.9 383.2 493.8 384.1C494.6 385.0 494.0 385.9 494.3 387.0Z" fill="none" stroke="#222" stroke-width="0.45" stroke-opacity="0.85"/>
<path d="M491.9 387.0C491.8 387.8 491.7 388.5 491.1 389.2C490.5 390.0 489.8 391.3 488.3 391.7C486.8 392.1 483.9 391.6 482.0 391.5C480.1 391.3 478.3 391.2 476.8 390.9C475.3 390.5 474.0 389.9 472.9 389.3C471.7 388.6 470.1 387.8 470.0 387.0C469.8 386.2 470.9 385.1 472.1 384.5C473.3 384.0 475.7 384.0 477.4 383.6C479.0 383.1 480.3 382.2 482.0 382.1C483.7 381.9 486.1 382.3 487.8 382.7C489.4 383.1 491.2 383.8 491.9 384.6C492.6 385.3 492.0 386.2 491.9 387.0Z" fill="none" stroke="#222" stroke-width="0.45" stroke-opacity="0.85"/>
<path d="M490.1 387.0C489.9 387.5 488.6 387.9 487.9 388.5C487.3 389.0 487.2 389.8 486.2 390.1C485.2 390.5 483.3 390.8 482.0 390.7C480.7 390.7 479.5 390.1 478.4 389.7C477.3 389.4 476.1 389.1 475.4 388.6C474.7 388.2 474.4 387.6 474.2 387.0C474.0 386.4 473.5 385.5 474.2 385.1C474.9 384.6 477.0 384.4 478.3 384.2C479.6 384.1 480.7 384.0 482.0 383.9C483.3 383.9 485.1 383.6 486.3 383.8C487.5 384.0 488.5 384.7 489.1 385.2C489.7 385.8 490.2 386.5 490.1 387.0Z" fill="none" stroke="#222" stroke-width="0.45" stroke-opacity="0.85"/>
<path d="M491.0 387.0C490.9 387.6 490.0 388.3 489.1 388.8C488.3 389.2 487.0 389.4 485.8 389.8C484.6 390.2 483.4 391.3 482.0 391.4C480.6 391.4 478.7 390.7 477.6 390.3C476.5 389.8 475.8 389.2 475.1 388.7C474.5 388.2 473.8 387.6 473.7 387.0C473.5 386.4 473.5 385.7 474.1 385.0C474.7 384.4 475.8 383.5 477.1 383.4C478.4 383.2 480.5 383.8 482.0 383.9C483.5 384.0 484.9 383.6 486.3 383.8C487.6 384.0 489.4 384.4 490.2 385.0C491.0 385.5 491.2 386.4 491.0 387.0Z" fill="#0c0c0c" fill-opacity="0.05" filter="url(#soft1)"/>
<path d="M465.0 400.9h0M479.3 403.2h0M473.9 394.6h0M468.9 394.7h0M473.6 414.2h0M474.9 397.9h0M468.9 406.9h0M474.9 404.4h0M476.2 408.9h0M473.9 408.4h0M474.8 399.1h0M475.9 397.4h0M462.2 406.9h0M473.8 388.8h0M472.8 395.6h0M469.9 388.2h0M474.5 399.5h0M466.3 399.8h0M475.9 410.7h0" stroke="#333" stroke-opacity="0.75" stroke-width="0.78" stroke-linecap="round"/>
<path d="M476.6 402.0C476.5 403.1 475.6 404.3 475.0 405.3C474.5 406.2 474.1 407.2 473.4 407.8C472.7 408.4 471.9 408.6 471.0 408.8C470.1 408.9 468.9 409.4 468.2 408.9C467.5 408.3 467.1 406.5 466.8 405.4C466.5 404.3 466.7 403.2 466.6 402.0C466.5 400.8 466.1 399.3 466.4 398.3C466.7 397.2 467.6 396.3 468.4 395.7C469.2 395.1 470.2 394.6 471.0 394.8C471.8 394.9 472.4 396.1 473.2 396.7C473.9 397.4 474.9 397.5 475.5 398.4C476.0 399.3 476.7 400.9 476.6 402.0Z" fill="none" stroke="#222" stroke-width="0.45" stroke-opacity="0.85"/>
<path d="M475.4 402.0C475.5 402.9 475.0 404.1 474.5 404.9C474.1 405.6 473.4 406.0 472.8 406.4C472.2 406.8 471.6 407.2 471.0 407.3C470.4 407.3 469.6 407.2 469.0 406.8C468.4 406.5 467.4 405.9 467.2 405.1C466.9 404.3 467.5 403.0 467.6 402.0C467.7 401.0 467.5 400.2 467.7 399.4C468.0 398.5 468.4 397.4 468.9 396.9C469.4 396.4 470.3 396.2 471.0 396.3C471.7 396.4 472.4 396.8 472.9 397.3C473.4 397.9 473.5 398.8 474.0 399.6C474.4 400.4 475.3 401.1 475.4 402.0Z" fill="none" stroke="#222" stroke-width="0.45" stroke-opacity="0.85"/>
<path d="M473.7 402.0C473.8 402.7 474.0 403.7 473.8 404.3C473.6 404.8 472.8 405.1 472.4 405.3C471.9 405.5 471.5 405.8 471.0 405.8C470.5 405.8 470.1 405.6 469.6 405.3C469.2 405.0 468.6 404.7 468.3 404.2C468.1 403.6 467.9 402.6 468.0 402.0C468.1 401.4 468.7 400.9 468.9 400.3C469.2 399.7 469.2 398.8 469.5 398.4C469.9 398.0 470.5 397.8 471.0 397.8C471.5 397.8 472.1 398.0 472.5 398.4C472.8 398.8 473.0 399.6 473.2 400.2C473.4 400.8 473.6 401.3 473.7 402.0Z" fill="none" stroke="#222" stroke-width="0.45" stroke-opacity="0.85"/>
<path d="M473.6 402.0C473.6 402.8 474.0 403.6 473.8 404.3C473.7 405.0 473.2 406.0 472.8 406.3C472.3 406.5 471.5 406.0 471.0 405.9C470.5 405.8 470.0 405.9 469.5 405.6C469.1 405.3 468.7 404.7 468.4 404.1C468.0 403.5 467.4 402.7 467.4 402.0C467.4 401.3 468.1 400.5 468.5 400.0C468.9 399.4 469.2 399.2 469.7 398.7C470.1 398.3 470.5 397.4 471.0 397.3C471.5 397.1 472.2 397.7 472.6 398.1C473.1 398.5 473.6 399.1 473.8 399.8C473.9 400.4 473.6 401.2 473.6 402.0Z" fill="#0c0c0c" fill-opacity="0.09" filter="url(#soft1)"/>
<path d="M489.5 399.3h0M492.5 399.1h0M471.9 409.1h0M474.8 404.9h0M494.1 395.0h0M489.3 397.9h0M472.8 394.3h0M498.4 397.4h0M482.8 400.0h0M465.9 405.1h0M491.1 407.5h0M477.5 394.2h0M477.2 404.6h0M488.0 398.1h0M483.4 393.1h0M497.1 399.4h0M482.7 405.7h0M471.9 404.4h0M477.4 406.2h0M468.3 395.5h0M487.2 399.6h0M478.2 401.6h0M472.6 398.7h0M465.1 406.0h0M473.9 406.6h0" stroke="#333" stroke-opacity="0.60" stroke-width="0.78" stroke-linecap="round"/>
</g>
<text x="23.6" y="375.8" font-size="5" text-anchor="end" fill="#222" stroke="#222" stroke-width="0.08">10<tspan font-size="3.3" dy="-1.8">5</tspan></text>
<text x="23.6" y="389.8" font-size="5" text-anchor="end" fill="#222" stroke="#222" stroke-width="0.08">10<tspan font-size="3.3" dy="-1.8">4</tspan></text>
<text x="23.6" y="403.3" font-size="5" text-anchor="end" fill="#222" stroke="#222" stroke-width="0.08">10<tspan font-size="3.3" dy="-1.8">3</tspan></text>
<text x="23.6" y="412.8" font-size="5" text-anchor="end" fill="#222" stroke="#222" stroke-width="0.08">0</text>
<text x="0.0" y="0.0" font-size="9.00" text-anchor="middle" font-weight="normal" fill="#111" transform="translate(13.2,396.5) rotate(-90)" stroke="#111" stroke-width="0.24">&#8212;FLAER</text>
<line x1="9.9" y1="378" x2="9.9" y2="369" stroke="#111" stroke-width="0.9" marker-end="url(#arr)"/>
<line x1="26" y1="431.3" x2="251" y2="431.3" stroke="#222" stroke-width="0.9"/>
<line x1="283.5" y1="431.3" x2="505.5" y2="431.3" stroke="#222" stroke-width="0.9" marker-end="url(#arr)"/>
<text x="267.0" y="434.2" font-size="8.60" text-anchor="middle" font-weight="normal" fill="#111"  stroke="#111" stroke-width="0.24">NKG2C</text>
<line x1="37.2" y1="463.5" x2="37.2" y2="532.6" stroke="#111" stroke-width="1.1"/>
<line x1="35.2" y1="532" x2="165.7" y2="532" stroke="#111" stroke-width="1.2"/>
<line x1="33.9" y1="532.0" x2="37.2" y2="532.0" stroke="#111" stroke-width="0.9"/>
<text x="31.2" y="534.1" font-size="5.9" text-anchor="end" fill="#222" stroke="#222" stroke-width="0.08">0</text>
<line x1="33.9" y1="518.7" x2="37.2" y2="518.7" stroke="#111" stroke-width="0.9"/>
<text x="31.2" y="520.8" font-size="5.9" text-anchor="end" fill="#222" stroke="#222" stroke-width="0.08">20</text>
<line x1="33.9" y1="505.5" x2="37.2" y2="505.5" stroke="#111" stroke-width="0.9"/>
<text x="31.2" y="507.6" font-size="5.9" text-anchor="end" fill="#222" stroke="#222" stroke-width="0.08">40</text>
<line x1="33.9" y1="492.2" x2="37.2" y2="492.2" stroke="#111" stroke-width="0.9"/>
<text x="31.2" y="494.3" font-size="5.9" text-anchor="end" fill="#222" stroke="#222" stroke-width="0.08">60</text>
<line x1="33.9" y1="479.0" x2="37.2" y2="479.0" stroke="#111" stroke-width="0.9"/>
<text x="31.2" y="481.1" font-size="5.9" text-anchor="end" fill="#222" stroke="#222" stroke-width="0.08">80</text>
<line x1="33.9" y1="465.7" x2="37.2" y2="465.7" stroke="#111" stroke-width="0.9"/>
<text x="31.2" y="467.8" font-size="5.9" text-anchor="end" fill="#222" stroke="#222" stroke-width="0.08">100</text>
<rect x="38.4" y="512.8" width="5.9" height="19.2" fill="#050505"/>
<rect x="38.4" y="519.4" width="5.9" height="12.6" fill="#cf4520"/>
<line x1="41.35" y1="532" x2="41.35" y2="534.5" stroke="#111" stroke-width="0.8"/>
<text x="41.35" y="543.3" font-size="7" text-anchor="middle" fill="#222" stroke="#222" stroke-width="0.16">1</text>
<rect x="46.7" y="471.0" width="5.9" height="61.0" fill="#050505"/>
<rect x="46.7" y="531.6" width="5.9" height="0.4" fill="#cf4520"/>
<line x1="49.69" y1="532" x2="49.69" y2="534.5" stroke="#111" stroke-width="0.8"/>
<text x="49.69" y="543.3" font-size="7" text-anchor="middle" fill="#222" stroke="#222" stroke-width="0.16">2</text>
<rect x="55.1" y="487.6" width="5.9" height="44.4" fill="#050505"/>
<rect x="55.1" y="523.4" width="5.9" height="8.6" fill="#cf4520"/>
<line x1="58.03" y1="532" x2="58.03" y2="534.5" stroke="#111" stroke-width="0.8"/>
<text x="58.03" y="543.3" font-size="7" text-anchor="middle" fill="#222" stroke="#222" stroke-width="0.16">3</text>
<rect x="63.4" y="472.3" width="5.9" height="59.7" fill="#050505"/>
<rect x="63.4" y="530.7" width="5.9" height="1.3" fill="#cf4520"/>
<line x1="66.37" y1="532" x2="66.37" y2="534.5" stroke="#111" stroke-width="0.8"/>
<text x="66.37" y="543.3" font-size="7" text-anchor="middle" fill="#222" stroke="#222" stroke-width="0.16">4</text>
<rect x="71.8" y="523.4" width="5.9" height="8.6" fill="#050505"/>
<rect x="71.8" y="525.4" width="5.9" height="6.6" fill="#cf4520"/>
<line x1="74.71" y1="532" x2="74.71" y2="534.5" stroke="#111" stroke-width="0.8"/>
<text x="74.71" y="543.3" font-size="7" text-anchor="middle" fill="#3aa6c8" stroke="#3aa6c8" stroke-width="0.16">5</text>
<rect x="80.1" y="485.6" width="5.9" height="46.4" fill="#050505"/>
<rect x="80.1" y="530.0" width="5.9" height="2.0" fill="#cf4520"/>
<line x1="83.05" y1="532" x2="83.05" y2="534.5" stroke="#111" stroke-width="0.8"/>
<text x="83.05" y="543.3" font-size="7" text-anchor="middle" fill="#222" stroke="#222" stroke-width="0.16">6</text>
<rect x="88.4" y="511.4" width="5.9" height="20.6" fill="#050505"/>
<rect x="88.4" y="531.5" width="5.9" height="0.5" fill="#cf4520"/>
<line x1="91.39" y1="532" x2="91.39" y2="534.5" stroke="#111" stroke-width="0.8"/>
<text x="91.39" y="543.3" font-size="7" text-anchor="middle" fill="#222" stroke="#222" stroke-width="0.16">7</text>
<rect x="96.8" y="504.2" width="5.9" height="27.8" fill="#050505"/>
<rect x="96.8" y="531.0" width="5.9" height="1.0" fill="#cf4520"/>
<line x1="99.73" y1="532" x2="99.73" y2="534.5" stroke="#111" stroke-width="0.8"/>
<text x="99.73" y="543.3" font-size="7" text-anchor="middle" fill="#222" stroke="#222" stroke-width="0.16">8</text>
<rect x="105.1" y="472.3" width="5.9" height="59.7" fill="#050505"/>
<rect x="105.1" y="531.0" width="5.9" height="1.0" fill="#cf4520"/>
<line x1="108.07" y1="532" x2="108.07" y2="534.5" stroke="#111" stroke-width="0.8"/>
<text x="108.07" y="543.3" font-size="7" text-anchor="middle" fill="#222" stroke="#222" stroke-width="0.16">9</text>
<rect x="113.5" y="525.4" width="5.9" height="6.6" fill="#050505"/>
<rect x="113.5" y="531.7" width="5.9" height="0.3" fill="#cf4520"/>
<line x1="116.41" y1="532" x2="116.41" y2="534.5" stroke="#111" stroke-width="0.8"/>
<text x="116.41" y="543.3" font-size="7" text-anchor="middle" fill="#3aa6c8" stroke="#3aa6c8" stroke-width="0.16">10</text>
<rect x="121.8" y="522.7" width="5.9" height="9.3" fill="#050505"/>
<rect x="121.8" y="531.3" width="5.9" height="0.7" fill="#cf4520"/>
<line x1="124.75" y1="532" x2="124.75" y2="534.5" stroke="#111" stroke-width="0.8"/>
<text x="124.75" y="543.3" font-size="7" text-anchor="middle" fill="#222" stroke="#222" stroke-width="0.16">11</text>
<rect x="130.1" y="524.7" width="5.9" height="7.3" fill="#050505"/>
<rect x="130.1" y="531.3" width="5.9" height="0.7" fill="#cf4520"/>
<line x1="133.09" y1="532" x2="133.09" y2="534.5" stroke="#111" stroke-width="0.8"/>
<text x="133.09" y="543.3" font-size="7" text-anchor="middle" fill="#3aa6c8" stroke="#3aa6c8" stroke-width="0.16">12</text>
<rect x="138.5" y="500.2" width="5.9" height="31.8" fill="#050505"/>
<rect x="138.5" y="531.0" width="5.9" height="1.0" fill="#cf4520"/>
<line x1="141.43" y1="532" x2="141.43" y2="534.5" stroke="#111" stroke-width="0.8"/>
<text x="141.43" y="543.3" font-size="7" text-anchor="middle" fill="#222" stroke="#222" stroke-width="0.16">13</text>
<rect x="146.8" y="520.7" width="5.9" height="11.3" fill="#050505"/>
<rect x="146.8" y="531.3" width="5.9" height="0.7" fill="#cf4520"/>
<line x1="149.77" y1="532" x2="149.77" y2="534.5" stroke="#111" stroke-width="0.8"/>
<text x="149.77" y="543.3" font-size="7" text-anchor="middle" fill="#3aa6c8" stroke="#3aa6c8" stroke-width="0.16">14</text>
<rect x="155.2" y="499.5" width="5.9" height="32.5" fill="#050505"/>
<rect x="155.2" y="531.0" width="5.9" height="1.0" fill="#cf4520"/>
<line x1="158.11" y1="532" x2="158.11" y2="534.5" stroke="#111" stroke-width="0.8"/>
<text x="158.11" y="543.3" font-size="7" text-anchor="middle" fill="#222" stroke="#222" stroke-width="0.16">15</text>
<text x="101.2" y="556.2" font-size="9.4" text-anchor="middle" fill="#222" textLength="33" lengthAdjust="spacingAndGlyphs" stroke="#222" stroke-width="0.24">Patient ID</text>
<text x="0" y="0" font-size="8" text-anchor="middle" fill="#222" transform="translate(14.8,498.5) rotate(-90)" stroke="#222" stroke-width="0.24">PLZF<tspan font-size="5" dy="-2.6">+</tspan><tspan dy="2.6"> cells (%)</tspan></text>
<rect x="132.0" y="475.8" width="8.6" height="4.8" fill="#050505"/>
<rect x="132.0" y="483.8" width="8.6" height="4.8" fill="#cf4520"/>
<text x="143.5" y="480.2" font-size="5.2" fill="#222" stroke="#222" stroke-width="0.08">FLAER<tspan font-size="3.4" dy="-1.8">+</tspan></text>
<text x="143.5" y="488.2" font-size="5.2" fill="#222" stroke="#222" stroke-width="0.08">FLAER<tspan font-size="3.4" dy="-1.8">&#8211;</tspan></text>
<line x1="207.3" y1="463.5" x2="207.3" y2="532.6" stroke="#111" stroke-width="1.1"/>
<line x1="205.3" y1="532" x2="335.8" y2="532" stroke="#111" stroke-width="1.2"/>
<line x1="204.0" y1="532.0" x2="207.3" y2="532.0" stroke="#111" stroke-width="0.9"/>
<text x="201.3" y="534.1" font-size="5.9" text-anchor="end" fill="#222" stroke="#222" stroke-width="0.08">0</text>
<line x1="204.0" y1="518.7" x2="207.3" y2="518.7" stroke="#111" stroke-width="0.9"/>
<text x="201.3" y="520.8" font-size="5.9" text-anchor="end" fill="#222" stroke="#222" stroke-width="0.08">20</text>
<line x1="204.0" y1="505.5" x2="207.3" y2="505.5" stroke="#111" stroke-width="0.9"/>
<text x="201.3" y="507.6" font-size="5.9" text-anchor="end" fill="#222" stroke="#222" stroke-width="0.08">40</text>
<line x1="204.0" y1="492.2" x2="207.3" y2="492.2" stroke="#111" stroke-width="0.9"/>
<text x="201.3" y="494.3" font-size="5.9" text-anchor="end" fill="#222" stroke="#222" stroke-width="0.08">60</text>
<line x1="204.0" y1="479.0" x2="207.3" y2="479.0" stroke="#111" stroke-width="0.9"/>
<text x="201.3" y="481.1" font-size="5.9" text-anchor="end" fill="#222" stroke="#222" stroke-width="0.08">80</text>
<line x1="204.0" y1="465.7" x2="207.3" y2="465.7" stroke="#111" stroke-width="0.9"/>
<text x="201.3" y="467.8" font-size="5.9" text-anchor="end" fill="#222" stroke="#222" stroke-width="0.08">100</text>
<rect x="208.7" y="531.6" width="5.9" height="0.4" fill="#050505"/>
<line x1="211.65" y1="532" x2="211.65" y2="534.5" stroke="#111" stroke-width="0.8"/>
<text x="211.65" y="543.3" font-size="7" text-anchor="middle" fill="#222" stroke="#222" stroke-width="0.16">1</text>
<rect x="217.0" y="473.0" width="5.9" height="59.0" fill="#050505"/>
<rect x="217.0" y="531.7" width="5.9" height="0.3" fill="#cf4520"/>
<line x1="219.99" y1="532" x2="219.99" y2="534.5" stroke="#111" stroke-width="0.8"/>
<text x="219.99" y="543.3" font-size="7" text-anchor="middle" fill="#222" stroke="#222" stroke-width="0.16">2</text>
<rect x="225.4" y="491.6" width="5.9" height="40.4" fill="#050505"/>
<rect x="225.4" y="526.7" width="5.9" height="5.3" fill="#cf4520"/>
<line x1="228.33" y1="532" x2="228.33" y2="534.5" stroke="#111" stroke-width="0.8"/>
<text x="228.33" y="543.3" font-size="7" text-anchor="middle" fill="#222" stroke="#222" stroke-width="0.16">3</text>
<rect x="233.7" y="471.7" width="5.9" height="60.3" fill="#050505"/>
<rect x="233.7" y="531.3" width="5.9" height="0.7" fill="#cf4520"/>
<line x1="236.67" y1="532" x2="236.67" y2="534.5" stroke="#111" stroke-width="0.8"/>
<text x="236.67" y="543.3" font-size="7" text-anchor="middle" fill="#222" stroke="#222" stroke-width="0.16">4</text>
<rect x="242.1" y="526.7" width="5.9" height="5.3" fill="#050505"/>
<rect x="242.1" y="528.7" width="5.9" height="3.3" fill="#cf4520"/>
<line x1="245.01" y1="532" x2="245.01" y2="534.5" stroke="#111" stroke-width="0.8"/>
<text x="245.01" y="543.3" font-size="7" text-anchor="middle" fill="#3aa6c8" stroke="#3aa6c8" stroke-width="0.16">5</text>
<rect x="250.4" y="490.9" width="5.9" height="41.1" fill="#050505"/>
<rect x="250.4" y="530.0" width="5.9" height="2.0" fill="#cf4520"/>
<line x1="253.35" y1="532" x2="253.35" y2="534.5" stroke="#111" stroke-width="0.8"/>
<text x="253.35" y="543.3" font-size="7" text-anchor="middle" fill="#222" stroke="#222" stroke-width="0.16">6</text>
<rect x="258.7" y="528.0" width="5.9" height="4.0" fill="#050505"/>
<rect x="258.7" y="531.7" width="5.9" height="0.3" fill="#cf4520"/>
<line x1="261.69" y1="532" x2="261.69" y2="534.5" stroke="#111" stroke-width="0.8"/>
<text x="261.69" y="543.3" font-size="7" text-anchor="middle" fill="#222" stroke="#222" stroke-width="0.16">7</text>
<rect x="267.1" y="506.1" width="5.9" height="25.9" fill="#050505"/>
<rect x="267.1" y="530.0" width="5.9" height="2.0" fill="#cf4520"/>
<line x1="270.03" y1="532" x2="270.03" y2="534.5" stroke="#111" stroke-width="0.8"/>
<text x="270.03" y="543.3" font-size="7" text-anchor="middle" fill="#222" stroke="#222" stroke-width="0.16">8</text>
<rect x="275.4" y="470.3" width="5.9" height="61.7" fill="#050505"/>
<rect x="275.4" y="531.7" width="5.9" height="0.3" fill="#cf4520"/>
<line x1="278.37" y1="532" x2="278.37" y2="534.5" stroke="#111" stroke-width="0.8"/>
<text x="278.37" y="543.3" font-size="7" text-anchor="middle" fill="#222" stroke="#222" stroke-width="0.16">9</text>
<rect x="283.8" y="530.0" width="5.9" height="2.0" fill="#050505"/>
<rect x="283.8" y="531.8" width="5.9" height="0.2" fill="#cf4520"/>
<line x1="286.71" y1="532" x2="286.71" y2="534.5" stroke="#111" stroke-width="0.8"/>
<text x="286.71" y="543.3" font-size="7" text-anchor="middle" fill="#3aa6c8" stroke="#3aa6c8" stroke-width="0.16">10</text>
<rect x="292.1" y="524.7" width="5.9" height="7.3" fill="#050505"/>
<rect x="292.1" y="531.8" width="5.9" height="0.2" fill="#cf4520"/>
<line x1="295.05" y1="532" x2="295.05" y2="534.5" stroke="#111" stroke-width="0.8"/>
<text x="295.05" y="543.3" font-size="7" text-anchor="middle" fill="#222" stroke="#222" stroke-width="0.16">11</text>
<rect x="300.4" y="516.8" width="5.9" height="15.2" fill="#050505"/>
<rect x="300.4" y="531.7" width="5.9" height="0.3" fill="#cf4520"/>
<line x1="303.39" y1="532" x2="303.39" y2="534.5" stroke="#111" stroke-width="0.8"/>
<text x="303.39" y="543.3" font-size="7" text-anchor="middle" fill="#3aa6c8" stroke="#3aa6c8" stroke-width="0.16">12</text>
<rect x="308.8" y="494.2" width="5.9" height="37.8" fill="#050505"/>
<rect x="308.8" y="530.7" width="5.9" height="1.3" fill="#cf4520"/>
<line x1="311.73" y1="532" x2="311.73" y2="534.5" stroke="#111" stroke-width="0.8"/>
<text x="311.73" y="543.3" font-size="7" text-anchor="middle" fill="#222" stroke="#222" stroke-width="0.16">13</text>
<rect x="317.1" y="525.4" width="5.9" height="6.6" fill="#050505"/>
<rect x="317.1" y="531.7" width="5.9" height="0.3" fill="#cf4520"/>
<line x1="320.07" y1="532" x2="320.07" y2="534.5" stroke="#111" stroke-width="0.8"/>
<text x="320.07" y="543.3" font-size="7" text-anchor="middle" fill="#3aa6c8" stroke="#3aa6c8" stroke-width="0.16">14</text>
<rect x="325.5" y="506.8" width="5.9" height="25.2" fill="#050505"/>
<rect x="325.5" y="531.7" width="5.9" height="0.3" fill="#cf4520"/>
<line x1="328.41" y1="532" x2="328.41" y2="534.5" stroke="#111" stroke-width="0.8"/>
<text x="328.41" y="543.3" font-size="7" text-anchor="middle" fill="#222" stroke="#222" stroke-width="0.16">15</text>
<text x="271.5" y="556.2" font-size="9.4" text-anchor="middle" fill="#222" textLength="33" lengthAdjust="spacingAndGlyphs" stroke="#222" stroke-width="0.24">Patient ID</text>
<text x="0" y="0" font-size="8" text-anchor="middle" fill="#222" transform="translate(185.1,498.5) rotate(-90)" stroke="#222" stroke-width="0.24">NKG2C<tspan font-size="5" dy="-2.6">+</tspan><tspan dy="2.6"> cells (%)</tspan></text>
<rect x="302.3" y="475.8" width="8.6" height="4.8" fill="#050505"/>
<rect x="302.3" y="483.8" width="8.6" height="4.8" fill="#cf4520"/>
<text x="313.8" y="480.2" font-size="5.2" fill="#222" stroke="#222" stroke-width="0.08">FLAER<tspan font-size="3.4" dy="-1.8">+</tspan></text>
<text x="313.8" y="488.2" font-size="5.2" fill="#222" stroke="#222" stroke-width="0.08">FLAER<tspan font-size="3.4" dy="-1.8">&#8211;</tspan></text>
<text x="408.2" y="459.0" font-size="9.00" text-anchor="middle" font-weight="normal" fill="#111"  stroke="#111" stroke-width="0.24">FLAER<tspan font-size="5.2" dy="-3">+</tspan><tspan dy="3"> cells</tspan></text>
<text x="408.0" y="470.0" font-size="9.00" text-anchor="middle" font-weight="normal" fill="#111"  stroke="#111" stroke-width="0.24">73%</text>
<text x="479.6" y="459.0" font-size="9.00" text-anchor="middle" font-weight="normal" fill="#111"  stroke="#111" stroke-width="0.24">FLAER<tspan font-size="5.2" dy="-3">&#8211;</tspan><tspan dy="3"> cells</tspan></text>
<text x="479.2" y="470.5" font-size="9.00" text-anchor="middle" font-weight="normal" fill="#111"  stroke="#111" stroke-width="0.24">27%</text>
<text x="356.8" y="470.2" font-size="8.40" text-anchor="start" font-weight="normal" fill="#4a68a4"  stroke="#4a68a4" stroke-width="0.24">PLZF<tspan font-size="5" dy="-3">&#8211;</tspan></text>
<text x="356.8" y="479.7" font-size="8.40" text-anchor="start" font-weight="normal" fill="#589a5c"  stroke="#589a5c" stroke-width="0.24">Fc&#949;R&#947;<tspan font-size="5" dy="-3">&#8211;</tspan></text>
<text x="356.8" y="489.2" font-size="8.40" text-anchor="start" font-weight="normal" fill="#c4c448"  stroke="#c4c448" stroke-width="0.24">SYK<tspan font-size="5" dy="-3">&#8211;</tspan></text>
<circle cx="408.3" cy="518" r="42.4" fill="#050505"/>
<circle cx="412.6" cy="517.7" r="35.3" fill="#21497a"/>
<circle cx="399.7" cy="516.2" r="27.5" fill="#3d7d48" stroke="#1c3c22" stroke-width="0.6"/>
<circle cx="393.3" cy="529.2" r="15.9" fill="#c2c22e" stroke="#6a6a10" stroke-width="0.5"/>
<text x="400.2" y="483.2" font-size="5.80" text-anchor="middle" font-weight="normal" fill="#fff"  stroke="#fff" stroke-width="0.08">15.0%</text>
<text x="404.4" y="511.0" font-size="5.80" text-anchor="middle" font-weight="normal" fill="#fff"  stroke="#fff" stroke-width="0.08">20.6%</text>
<text x="438.3" y="519.8" font-size="5.80" text-anchor="middle" font-weight="normal" fill="#fff"  stroke="#fff" stroke-width="0.08">22.3%</text>
<text x="377.5" y="516.6" font-size="5.80" text-anchor="middle" font-weight="normal" fill="#fff"  stroke="#fff" stroke-width="0.08">3.7%</text>
<text x="393.8" y="534.5" font-size="5.80" text-anchor="middle" font-weight="normal" fill="#fff"  stroke="#fff" stroke-width="0.08">5.9%</text>
<text x="358.5" y="539.0" font-size="5.80" text-anchor="end" font-weight="normal" fill="#222"  stroke="#222" stroke-width="0.08">1.9%</text>
<line x1="359.3" y1="537.0" x2="369.3" y2="534.6" stroke="#222" stroke-width="0.8"/>
<line x1="369.3" y1="534.6" x2="379.2" y2="532.3" stroke="#f4f4f4" stroke-width="0.8"/>
<text x="362.3" y="546.3" font-size="5.80" text-anchor="end" font-weight="normal" fill="#222"  stroke="#222" stroke-width="0.08">2.1%</text>
<line x1="363.1" y1="544.3" x2="373.0" y2="541.5" stroke="#222" stroke-width="0.8"/>
<line x1="373.0" y1="541.5" x2="381.5" y2="539.2" stroke="#f4f4f4" stroke-width="0.8"/>
<text x="367.7" y="554.0" font-size="5.80" text-anchor="end" font-weight="normal" fill="#222"  stroke="#222" stroke-width="0.08">1.0%</text>
<line x1="368.5" y1="552.0" x2="379.1" y2="548.8" stroke="#222" stroke-width="0.8"/>
<line x1="379.1" y1="548.8" x2="393.0" y2="544.6" stroke="#f4f4f4" stroke-width="0.8"/>
<circle cx="480" cy="519.2" r="26" fill="#d8411d" stroke="#3a1a10" stroke-width="0.7"/>
<circle cx="489.7" cy="512.6" r="10.4" fill="#8a72ae"/>
<circle cx="491" cy="506.2" r="6.1" fill="#4a8a3a"/>
<circle cx="496.4" cy="509.5" r="6" fill="#c8c030" stroke="#8a8a20" stroke-width="0.4"/>
<text x="468.5" y="524.3" font-size="5.80" text-anchor="middle" font-weight="normal" fill="#fff"  stroke="#fff" stroke-width="0.08">21.9%</text>
<text x="490.7" y="521.2" font-size="5.80" text-anchor="middle" font-weight="normal" fill="#fff"  stroke="#fff" stroke-width="0.08">3.0%</text>
<line x1="37.9" y1="604.5" x2="37.9" y2="672.6" stroke="#111" stroke-width="1.1"/>
<line x1="37.4" y1="672" x2="268" y2="672" stroke="#111" stroke-width="1.2"/>
<line x1="34.6" y1="672.0" x2="37.9" y2="672.0" stroke="#111" stroke-width="0.9"/>
<text x="32.1" y="674.1" font-size="5.9" text-anchor="end" fill="#222" stroke="#222" stroke-width="0.08">0</text>
<line x1="34.6" y1="658.9" x2="37.9" y2="658.9" stroke="#111" stroke-width="0.9"/>
<text x="32.1" y="661.0" font-size="5.9" text-anchor="end" fill="#222" stroke="#222" stroke-width="0.08">20</text>
<line x1="34.6" y1="645.7" x2="37.9" y2="645.7" stroke="#111" stroke-width="0.9"/>
<text x="32.1" y="647.8" font-size="5.9" text-anchor="end" fill="#222" stroke="#222" stroke-width="0.08">40</text>
<line x1="34.6" y1="632.5" x2="37.9" y2="632.5" stroke="#111" stroke-width="0.9"/>
<text x="32.1" y="634.6" font-size="5.9" text-anchor="end" fill="#222" stroke="#222" stroke-width="0.08">60</text>
<line x1="34.6" y1="619.4" x2="37.9" y2="619.4" stroke="#111" stroke-width="0.9"/>
<text x="32.1" y="621.5" font-size="5.9" text-anchor="end" fill="#222" stroke="#222" stroke-width="0.08">80</text>
<line x1="34.6" y1="606.2" x2="37.9" y2="606.2" stroke="#111" stroke-width="0.9"/>
<text x="32.1" y="608.4" font-size="5.9" text-anchor="end" fill="#222" stroke="#222" stroke-width="0.08">100</text>
<text x="0" y="0" font-size="8" text-anchor="middle" fill="#222" transform="translate(15.8,637.5) rotate(-90)" stroke="#222" stroke-width="0.24">FLAER<tspan font-size="5" dy="-2.6">&#8211;</tspan><tspan dy="2.6"> cells (%)</tspan></text>
<line x1="50.3" y1="607.0" x2="50.3" y2="643.3" stroke="#111" stroke-width="1"/>
<circle cx="42.7" cy="606.8" r="1.25" fill="#8cbc64"/>
<circle cx="45.8" cy="607.3" r="1.25" fill="#2a6a3a"/>
<circle cx="48.4" cy="607.1" r="1.25" fill="#3a9a5a"/>
<circle cx="50.3" cy="608.4" r="1.25" fill="#2a6a3a"/>
<circle cx="52.0" cy="608.9" r="1.25" fill="#3a9a5a"/>
<circle cx="54.7" cy="607.5" r="1.25" fill="#c8a060"/>
<circle cx="57.3" cy="606.8" r="1.25" fill="#b84a30"/>
<circle cx="47.9" cy="616.2" r="1.25" fill="#c0b0d8"/>
<circle cx="52.1" cy="615.9" r="1.25" fill="#d890b0"/>
<circle cx="50.3" cy="621.4" r="1.25" fill="#a06030"/>
<circle cx="50.3" cy="630.8" r="1.25" fill="#22307a"/>
<circle cx="46.1" cy="640.7" r="1.25" fill="#d06040"/>
<circle cx="54.5" cy="640.2" r="1.25" fill="#b0b070"/>
<circle cx="48.2" cy="660.3" r="1.25" fill="#111111"/>
<circle cx="52.4" cy="656.9" r="1.25" fill="#e0b8c8"/>
<line x1="41.8" y1="624.7" x2="58.8" y2="624.7" stroke="#111" stroke-width="1.1"/>
<line x1="45.8" y1="607.0" x2="54.8" y2="607.0" stroke="#111" stroke-width="1"/>
<line x1="45.8" y1="643.3" x2="54.8" y2="643.3" stroke="#111" stroke-width="1"/>
<line x1="50.3" y1="672" x2="50.3" y2="674.5" stroke="#111" stroke-width="0.8"/>
<line x1="75.8" y1="618.0" x2="75.8" y2="671.5" stroke="#111" stroke-width="1"/>
<circle cx="71.6" cy="609.4" r="1.25" fill="#22307a"/>
<circle cx="75.8" cy="609.9" r="1.25" fill="#c03040"/>
<circle cx="79.8" cy="608.9" r="1.25" fill="#3a9a5a"/>
<circle cx="71.6" cy="626.9" r="1.25" fill="#70a050"/>
<circle cx="75.8" cy="625.0" r="1.25" fill="#5a5a20"/>
<circle cx="79.8" cy="626.6" r="1.25" fill="#b06030"/>
<circle cx="75.8" cy="629.7" r="1.25" fill="#333"/>
<circle cx="75.8" cy="663.9" r="1.25" fill="#22307a"/>
<circle cx="69.0" cy="668.8" r="1.25" fill="#e08a40"/>
<circle cx="72.0" cy="669.4" r="1.25" fill="#c04030"/>
<circle cx="75.0" cy="669.8" r="1.25" fill="#d890b0"/>
<circle cx="78.0" cy="669.4" r="1.25" fill="#a07050"/>
<circle cx="81.0" cy="668.8" r="1.25" fill="#d0a0b0"/>
<circle cx="82.9" cy="666.3" r="1.25" fill="#e0c0d0"/>
<circle cx="73.5" cy="670.0" r="1.25" fill="#111111"/>
<line x1="67.3" y1="643.0" x2="84.3" y2="643.0" stroke="#111" stroke-width="1.1"/>
<line x1="71.3" y1="618.0" x2="80.3" y2="618.0" stroke="#111" stroke-width="1"/>
<line x1="75.8" y1="672" x2="75.8" y2="674.5" stroke="#111" stroke-width="0.8"/>
<line x1="101.4" y1="642.3" x2="101.4" y2="671.5" stroke="#111" stroke-width="1"/>
<circle cx="99.3" cy="621.4" r="1.25" fill="#3a9a5a"/>
<circle cx="103.4" cy="622.4" r="1.25" fill="#b84a30"/>
<circle cx="97.4" cy="665.6" r="1.25" fill="#7050a0"/>
<circle cx="105.2" cy="666.8" r="1.25" fill="#e0a030"/>
<circle cx="105.2" cy="669.4" r="1.25" fill="#c8a060"/>
<circle cx="97.4" cy="669.4" r="1.25" fill="#d890b0"/>
<circle cx="99.5" cy="670.0" r="1.25" fill="#111111"/>
<circle cx="102.0" cy="669.5" r="1.25" fill="#e08a40"/>
<circle cx="94.5" cy="669.8" r="1.25" fill="#e0c0d0"/>
<circle cx="108.0" cy="669.8" r="1.25" fill="#d8b060"/>
<line x1="92.9" y1="659.5" x2="109.9" y2="659.5" stroke="#111" stroke-width="1.1"/>
<line x1="96.9" y1="642.3" x2="105.9" y2="642.3" stroke="#111" stroke-width="1"/>
<line x1="101.4" y1="672" x2="101.4" y2="674.5" stroke="#111" stroke-width="0.8"/>
<line x1="126.8" y1="624.8" x2="126.8" y2="671.5" stroke="#111" stroke-width="1"/>
<circle cx="126.8" cy="609.2" r="1.25" fill="#22307a"/>
<circle cx="124.7" cy="618.6" r="1.25" fill="#2a6a3a"/>
<circle cx="128.9" cy="619.8" r="1.25" fill="#b84a30"/>
<circle cx="124.7" cy="663.9" r="1.25" fill="#4060a0"/>
<circle cx="129.8" cy="666.8" r="1.25" fill="#e0c8c0"/>
<circle cx="120.4" cy="669.1" r="1.25" fill="#d890b0"/>
<circle cx="126.8" cy="670.3" r="1.25" fill="#111111"/>
<circle cx="133.4" cy="669.7" r="1.25" fill="#d8a0b0"/>
<circle cx="123.0" cy="669.8" r="1.25" fill="#e08a40"/>
<circle cx="130.5" cy="669.8" r="1.25" fill="#c8a060"/>
<line x1="118.3" y1="648.2" x2="135.3" y2="648.2" stroke="#111" stroke-width="1.1"/>
<line x1="122.3" y1="624.8" x2="131.3" y2="624.8" stroke="#111" stroke-width="1"/>
<line x1="126.8" y1="672" x2="126.8" y2="674.5" stroke="#111" stroke-width="0.8"/>
<line x1="152.6" y1="656.5" x2="152.6" y2="671.5" stroke="#111" stroke-width="1"/>
<circle cx="152.6" cy="630.4" r="1.25" fill="#3a9a5a"/>
<circle cx="150.3" cy="663.9" r="1.25" fill="#22307a"/>
<circle cx="156.5" cy="665.0" r="1.25" fill="#4a7a3a"/>
<circle cx="146.5" cy="669.6" r="1.25" fill="#d890b0"/>
<circle cx="152.0" cy="669.2" r="1.25" fill="#e08a40"/>
<circle cx="156.5" cy="669.2" r="1.25" fill="#e09040"/>
<circle cx="150.0" cy="670.5" r="1.25" fill="#111111"/>
<circle cx="159.0" cy="669.8" r="1.25" fill="#d8b8c8"/>
<line x1="144.1" y1="667.0" x2="161.1" y2="667.0" stroke="#111" stroke-width="1.1"/>
<line x1="148.1" y1="656.5" x2="157.1" y2="656.5" stroke="#111" stroke-width="1"/>
<line x1="152.6" y1="672" x2="152.6" y2="674.5" stroke="#111" stroke-width="0.8"/>
<line x1="178.3" y1="651.6" x2="178.3" y2="671.5" stroke="#111" stroke-width="1"/>
<circle cx="178.3" cy="622.4" r="1.25" fill="#3a9a5a"/>
<circle cx="174.2" cy="665.5" r="1.25" fill="#22307a"/>
<circle cx="182.5" cy="665.8" r="1.25" fill="#c0b0d8"/>
<circle cx="172.5" cy="669.6" r="1.25" fill="#e08a40"/>
<circle cx="178.3" cy="670.5" r="1.25" fill="#111111"/>
<circle cx="184.0" cy="669.5" r="1.25" fill="#d890b0"/>
<circle cx="176.0" cy="669.6" r="1.25" fill="#c8a060"/>
<line x1="169.8" y1="664.5" x2="186.8" y2="664.5" stroke="#111" stroke-width="1.1"/>
<line x1="173.8" y1="651.6" x2="182.8" y2="651.6" stroke="#111" stroke-width="1"/>
<line x1="178.3" y1="672" x2="178.3" y2="674.5" stroke="#111" stroke-width="0.8"/>
<line x1="203.8" y1="648.0" x2="203.8" y2="671.5" stroke="#111" stroke-width="1"/>
<circle cx="203.8" cy="622.4" r="1.25" fill="#3a9a5a"/>
<circle cx="203.8" cy="630.7" r="1.25" fill="#b84a30"/>
<circle cx="203.8" cy="660.0" r="1.25" fill="#22307a"/>
<circle cx="199.5" cy="666.4" r="1.25" fill="#d8c840"/>
<circle cx="206.5" cy="666.4" r="1.25" fill="#4050a0"/>
<circle cx="209.5" cy="668.8" r="1.25" fill="#d890b0"/>
<circle cx="199.0" cy="669.8" r="1.25" fill="#111111"/>
<circle cx="203.0" cy="669.6" r="1.25" fill="#e08a40"/>
<line x1="195.3" y1="663.5" x2="212.3" y2="663.5" stroke="#111" stroke-width="1.1"/>
<line x1="199.3" y1="648.0" x2="208.3" y2="648.0" stroke="#111" stroke-width="1"/>
<line x1="203.8" y1="672" x2="203.8" y2="674.5" stroke="#111" stroke-width="0.8"/>
<line x1="229.1" y1="646.5" x2="229.1" y2="671.5" stroke="#111" stroke-width="1"/>
<circle cx="229.1" cy="621.9" r="1.25" fill="#3a9a5a"/>
<circle cx="229.1" cy="634.0" r="1.25" fill="#b84a30"/>
<circle cx="229.1" cy="651.5" r="1.25" fill="#111111"/>
<circle cx="229.1" cy="666.3" r="1.25" fill="#22307a"/>
<circle cx="222.5" cy="669.4" r="1.25" fill="#e08a40"/>
<circle cx="225.0" cy="669.4" r="1.25" fill="#d890b0"/>
<circle cx="232.5" cy="670.4" r="1.25" fill="#111111"/>
<circle cx="235.0" cy="669.4" r="1.25" fill="#e08a40"/>
<line x1="220.6" y1="661.9" x2="237.6" y2="661.9" stroke="#111" stroke-width="1.1"/>
<line x1="224.6" y1="646.5" x2="233.6" y2="646.5" stroke="#111" stroke-width="1"/>
<line x1="229.1" y1="672" x2="229.1" y2="674.5" stroke="#111" stroke-width="0.8"/>
<line x1="254.6" y1="663.5" x2="254.6" y2="671.5" stroke="#111" stroke-width="1"/>
<circle cx="254.6" cy="654.8" r="1.25" fill="#3a9a5a"/>
<circle cx="254.6" cy="659.4" r="1.25" fill="#b84a30"/>
<circle cx="252.5" cy="665.6" r="1.25" fill="#d890b0"/>
<circle cx="256.5" cy="665.6" r="1.25" fill="#d0a0b0"/>
<circle cx="257.5" cy="671.0" r="1.25" fill="#111111"/>
<circle cx="250.5" cy="669.6" r="1.25" fill="#e08a40"/>
<circle cx="254.0" cy="669.6" r="1.25" fill="#c8a060"/>
<line x1="246.1" y1="668.8" x2="263.1" y2="668.8" stroke="#111" stroke-width="1.1"/>
<line x1="250.1" y1="663.5" x2="259.1" y2="663.5" stroke="#111" stroke-width="1"/>
<line x1="254.6" y1="672" x2="254.6" y2="674.5" stroke="#111" stroke-width="0.8"/>
<text x="0" y="0" font-size="6.3" text-anchor="end" fill="#222" transform="translate(51.9,679.4) rotate(-45)" stroke="#222" stroke-width="0.16">Neutrophils</text>
<text x="0" y="0" font-size="6.3" text-anchor="end" fill="#222" transform="translate(77.4,679.4) rotate(-45)" stroke="#222" stroke-width="0.16">CD56<tspan font-size="3.8" dy="-2.4">bright</tspan><tspan dy="2.4"></tspan></text>
<text x="0" y="0" font-size="6.3" text-anchor="end" fill="#222" transform="translate(82.4,684.4) rotate(-45)" stroke="#222" stroke-width="0.16">NK cells</text>
<text x="0" y="0" font-size="6.3" text-anchor="end" fill="#222" transform="translate(103.0,679.4) rotate(-45)" stroke="#222" stroke-width="0.16">CD56<tspan font-size="3.8" dy="-2.4">dim</tspan></text>
<text x="0" y="0" font-size="6.3" text-anchor="end" fill="#222" transform="translate(108.0,684.4) rotate(-45)" stroke="#222" stroke-width="0.16">NK cells</text>
<text x="0" y="0" font-size="6.3" text-anchor="end" fill="#222" transform="translate(128.4,679.4) rotate(-45)" stroke="#222" stroke-width="0.16">NKG2A<tspan font-size="4.4" dy="-2.4">&#8211;</tspan></text>
<text x="0" y="0" font-size="6.3" text-anchor="end" fill="#222" transform="translate(154.2,679.4) rotate(-45)" stroke="#222" stroke-width="0.16">NKG2C<tspan font-size="4.4" dy="-2.4">&#8211;</tspan></text>
<text x="0" y="0" font-size="6.3" text-anchor="end" fill="#222" transform="translate(179.9,679.4) rotate(-45)" stroke="#222" stroke-width="0.16">CD57<tspan font-size="4.4" dy="-2.4">&#8211;</tspan></text>
<text x="0" y="0" font-size="6.3" text-anchor="end" fill="#222" transform="translate(205.4,679.4) rotate(-45)" stroke="#222" stroke-width="0.16">PLZF<tspan font-size="4.4" dy="-2.4">&#8211;</tspan></text>
<text x="0" y="0" font-size="6.3" text-anchor="end" fill="#222" transform="translate(230.7,679.4) rotate(-45)" stroke="#222" stroke-width="0.16">Fc&#949;R&#947;<tspan font-size="4.4" dy="-2.4">&#8211;</tspan></text>
<text x="0" y="0" font-size="6.3" text-anchor="end" fill="#222" transform="translate(256.2,679.4) rotate(-45)" stroke="#222" stroke-width="0.16">CD3<tspan font-size="4.4" dy="-2.4">+</tspan></text>
<text x="0" y="0" font-size="6.3" text-anchor="end" fill="#222" transform="translate(261.2,684.4) rotate(-45)" stroke="#222" stroke-width="0.16">T cells</text>
<line x1="110" y1="704.4" x2="237.5" y2="704.4" stroke="#222" stroke-width="0.9"/>
<text x="174.7" y="713.2" font-size="6.50" text-anchor="middle" font-weight="normal" fill="#111"  stroke="#111" stroke-width="0.16">CD56<tspan font-size="3.9" dy="-2.3">dim</tspan><tspan dy="2.3"> NK cell subsets</tspan></text>
<path d="M50.8,576.9 V574.5 H206.9 V583.1" fill="none" stroke="#222" stroke-width="0.8"/>
<text x="131.7" y="572.6" font-size="5.6" text-anchor="middle" fill="#222" stroke="#222" stroke-width="0.08"><tspan font-style="italic">P</tspan> &lt; .0001</text>
<path d="M50.8,585.8 V583.4 H123.8 V585.8" fill="none" stroke="#222" stroke-width="0.8"/>
<text x="87.7" y="580.6" font-size="5.6" text-anchor="middle" fill="#222" stroke="#222" stroke-width="0.08"><tspan font-style="italic">P</tspan> &lt; .01</text>
<path d="M50.8,593.6 V591.2 H100.5 V593.6" fill="none" stroke="#222" stroke-width="0.8"/>
<text x="76.5" y="589.0" font-size="5.6" text-anchor="middle" fill="#222" stroke="#222" stroke-width="0.08"><tspan font-style="italic">P</tspan> &lt; .0001</text>
<path d="M50.8,601.3 V598.9 H76.0 V601.3" fill="none" stroke="#222" stroke-width="0.8"/>
<text x="63.4" y="596.6" font-size="5.6" text-anchor="middle" fill="#222" stroke="#222" stroke-width="0.08">n.s.</text>
<line x1="137.5" y1="583.4" x2="271.4" y2="583.4" stroke="#222" stroke-width="0.8"/>
<line x1="137.5" y1="598.7" x2="271.4" y2="598.7" stroke="#222" stroke-width="0.8"/>
<text x="206.7" y="596.8" font-size="5.60" text-anchor="middle" font-weight="normal" fill="#222"  stroke="#222" stroke-width="0.08">n.s.</text>
<circle cx="288.4" cy="575.9" r="1.65" fill="#8b5a3c"/>
<text x="292" y="577.8" font-size="5.5" fill="#222" stroke="#222" stroke-width="0.08">Patient</text>
<text x="313.8" y="577.8" font-size="5.5" fill="#222" stroke="#222" stroke-width="0.08">1</text>
<circle cx="288.4" cy="583.3" r="1.65" fill="#8cbc64"/>
<text x="292" y="585.2" font-size="5.5" fill="#222" stroke="#222" stroke-width="0.08">Patient</text>
<text x="313.8" y="585.2" font-size="5.5" fill="#222" stroke="#222" stroke-width="0.08">2</text>
<circle cx="288.4" cy="590.7" r="1.65" fill="#23308c"/>
<text x="292" y="592.6" font-size="5.5" fill="#222" stroke="#222" stroke-width="0.08">Patient</text>
<text x="313.8" y="592.6" font-size="5.5" fill="#222" stroke="#222" stroke-width="0.08">3</text>
<circle cx="288.4" cy="598.1" r="1.65" fill="#c8a060"/>
<text x="292" y="600.0" font-size="5.5" fill="#222" stroke="#222" stroke-width="0.08">Patient</text>
<text x="313.8" y="600.0" font-size="5.5" fill="#222" stroke="#222" stroke-width="0.08">4</text>
<circle cx="288.4" cy="605.5" r="1.3" fill="none" stroke="#3a8a3a" stroke-width="0.8"/>
<text x="292" y="607.4" font-size="5.5" fill="#222" stroke="#222" stroke-width="0.08">Patient</text>
<text x="313.8" y="607.4" font-size="5.5" fill="#222" stroke="#222" stroke-width="0.08">5</text>
<circle cx="288.4" cy="612.9" r="1.65" fill="#3a8a5a"/>
<text x="292" y="614.8" font-size="5.5" fill="#222" stroke="#222" stroke-width="0.08">Patient</text>
<text x="313.8" y="614.8" font-size="5.5" fill="#222" stroke="#222" stroke-width="0.08">6</text>
<circle cx="288.4" cy="620.2" r="1.65" fill="#d080a8"/>
<text x="292" y="622.1" font-size="5.5" fill="#222" stroke="#222" stroke-width="0.08">Patient</text>
<text x="313.8" y="622.1" font-size="5.5" fill="#222" stroke="#222" stroke-width="0.08">7</text>
<circle cx="288.4" cy="627.6" r="1.65" fill="#c8c0dc"/>
<text x="292" y="629.5" font-size="5.5" fill="#222" stroke="#222" stroke-width="0.08">Patient</text>
<text x="313.8" y="629.5" font-size="5.5" fill="#222" stroke="#222" stroke-width="0.08">8</text>
<circle cx="288.4" cy="635.0" r="1.65" fill="#8a7040"/>
<text x="292" y="636.9" font-size="5.5" fill="#222" stroke="#222" stroke-width="0.08">Patient</text>
<text x="313.8" y="636.9" font-size="5.5" fill="#222" stroke="#222" stroke-width="0.08">9</text>
<circle cx="288.4" cy="642.4" r="1.3" fill="none" stroke="#2a3a8a" stroke-width="0.8"/>
<text x="292" y="644.3" font-size="5.5" fill="#222" stroke="#222" stroke-width="0.08">Patient</text>
<text x="313.8" y="644.3" font-size="5.5" fill="#222" stroke="#222" stroke-width="0.08">10</text>
<circle cx="288.4" cy="649.8" r="1.65" fill="#b8a050"/>
<text x="292" y="651.7" font-size="5.5" fill="#222" stroke="#222" stroke-width="0.08">Patient</text>
<text x="313.8" y="651.7" font-size="5.5" fill="#222" stroke="#222" stroke-width="0.08">11</text>
<circle cx="288.4" cy="657.2" r="1.3" fill="none" stroke="#a04030" stroke-width="0.8"/>
<text x="292" y="659.1" font-size="5.5" fill="#222" stroke="#222" stroke-width="0.08">Patient</text>
<text x="313.8" y="659.1" font-size="5.5" fill="#222" stroke="#222" stroke-width="0.08">12</text>
<circle cx="288.4" cy="664.6" r="1.65" fill="#d8c8c8"/>
<text x="292" y="666.5" font-size="5.5" fill="#222" stroke="#222" stroke-width="0.08">Patient</text>
<text x="313.8" y="666.5" font-size="5.5" fill="#222" stroke="#222" stroke-width="0.08">13</text>
<circle cx="288.4" cy="672.0" r="1.3" fill="none" stroke="#d0a0b8" stroke-width="0.8"/>
<text x="292" y="673.9" font-size="5.5" fill="#222" stroke="#222" stroke-width="0.08">Patient</text>
<text x="313.8" y="673.9" font-size="5.5" fill="#222" stroke="#222" stroke-width="0.08">14</text>
<circle cx="288.4" cy="679.4" r="1.65" fill="#111111"/>
<text x="292" y="681.3" font-size="5.5" fill="#222" stroke="#222" stroke-width="0.08">Patient</text>
<text x="313.8" y="681.3" font-size="5.5" fill="#222" stroke="#222" stroke-width="0.08">15</text>
<rect x="0.5" y="0.5" width="518.5" height="717" fill="none" stroke="#000" stroke-width="1.2"/>
<rect x="518.3" y="0" width="1.7" height="719" fill="#000"/>
<rect x="0" y="717.2" width="520" height="1.8" fill="#000"/>
</g></svg></body></html>
